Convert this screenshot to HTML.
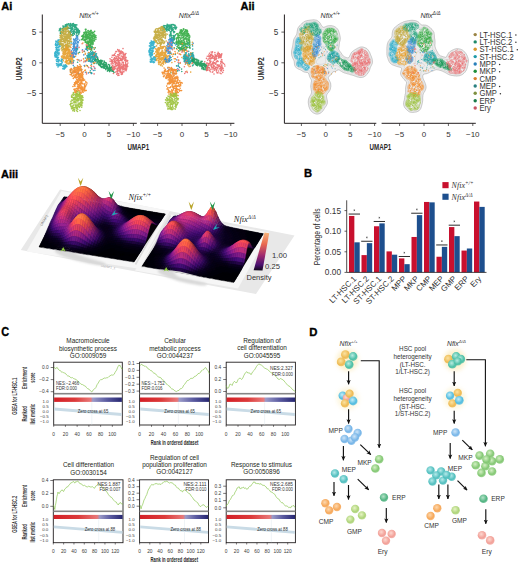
<!DOCTYPE html>
<html><head><meta charset="utf-8"><style>
html,body{margin:0;padding:0;background:#fff;width:520px;height:564px;overflow:hidden}
svg{display:block}
</style></head><body>
<svg width="520" height="564" viewBox="0 0 520 564">
<text x="1.3" y="9.8" font-family="Liberation Sans, sans-serif" font-size="11" text-anchor="start" fill="#000" font-weight="bold" stroke="#000" stroke-width="0.35">Ai</text>
<text x="240.6" y="10.0" font-family="Liberation Sans, sans-serif" font-size="11" text-anchor="start" fill="#000" font-weight="bold" stroke="#000" stroke-width="0.35">Aii</text>
<path d="M42.3 14.5V123.3M42.3 123.3H136.8" stroke="#231f20" stroke-width="1.0" fill="none"/>
<path d="M39.3 32.1H42.3M39.3 62.8H42.3M39.3 93.5H42.3M60.2 123.3V126M84.6 123.3V126M109.0 123.3V126M133.4 123.3V126" stroke="#231f20" stroke-width="0.7" fill="none"/>
<text x="36.3" y="35.0" font-family="Liberation Sans, sans-serif" font-size="8.2" text-anchor="end" fill="#333" >5</text>
<text x="36.3" y="65.7" font-family="Liberation Sans, sans-serif" font-size="8.2" text-anchor="end" fill="#333" >0</text>
<text x="36.3" y="96.4" font-family="Liberation Sans, sans-serif" font-size="8.2" text-anchor="end" fill="#333" >−5</text>
<text x="60.2" y="136.8" font-family="Liberation Sans, sans-serif" font-size="8" text-anchor="middle" fill="#333" >−5</text>
<text x="84.6" y="136.8" font-family="Liberation Sans, sans-serif" font-size="8" text-anchor="middle" fill="#333" >0</text>
<text x="109.0" y="136.8" font-family="Liberation Sans, sans-serif" font-size="8" text-anchor="middle" fill="#333" >5</text>
<text x="133.4" y="136.8" font-family="Liberation Sans, sans-serif" font-size="8" text-anchor="middle" fill="#333" >−10</text>
<path d="M140.2 123.3H234.4" stroke="#231f20" stroke-width="1.0" fill="none"/>
<path d="M157.6 123.3V126M182.0 123.3V126M206.4 123.3V126M230.8 123.3V126" stroke="#231f20" stroke-width="0.7" fill="none"/>
<text x="157.6" y="136.8" font-family="Liberation Sans, sans-serif" font-size="8" text-anchor="middle" fill="#333" >−5</text>
<text x="182.0" y="136.8" font-family="Liberation Sans, sans-serif" font-size="8" text-anchor="middle" fill="#333" >0</text>
<text x="206.4" y="136.8" font-family="Liberation Sans, sans-serif" font-size="8" text-anchor="middle" fill="#333" >5</text>
<text x="230.8" y="136.8" font-family="Liberation Sans, sans-serif" font-size="8" text-anchor="middle" fill="#333" >−10</text>
<path d="M284.4 14.5V123.3M284.4 123.3H376.3" stroke="#231f20" stroke-width="1.0" fill="none"/>
<path d="M281.4 32.1H284.4M281.4 62.8H284.4M281.4 93.5H284.4M301.4 123.3V126M325.8 123.3V126M350.2 123.3V126M374.6 123.3V126" stroke="#231f20" stroke-width="0.7" fill="none"/>
<text x="278.4" y="35.0" font-family="Liberation Sans, sans-serif" font-size="8.2" text-anchor="end" fill="#333" >5</text>
<text x="278.4" y="65.7" font-family="Liberation Sans, sans-serif" font-size="8.2" text-anchor="end" fill="#333" >0</text>
<text x="278.4" y="96.4" font-family="Liberation Sans, sans-serif" font-size="8.2" text-anchor="end" fill="#333" >−5</text>
<text x="301.4" y="136.8" font-family="Liberation Sans, sans-serif" font-size="8" text-anchor="middle" fill="#333" >−5</text>
<text x="325.8" y="136.8" font-family="Liberation Sans, sans-serif" font-size="8" text-anchor="middle" fill="#333" >0</text>
<text x="350.2" y="136.8" font-family="Liberation Sans, sans-serif" font-size="8" text-anchor="middle" fill="#333" >5</text>
<text x="374.6" y="136.8" font-family="Liberation Sans, sans-serif" font-size="8" text-anchor="middle" fill="#333" >−10</text>
<path d="M381.6 123.3H475.8" stroke="#231f20" stroke-width="1.0" fill="none"/>
<path d="M399.6 123.3V126M424.0 123.3V126M448.4 123.3V126M472.8 123.3V126" stroke="#231f20" stroke-width="0.7" fill="none"/>
<text x="399.6" y="136.8" font-family="Liberation Sans, sans-serif" font-size="8" text-anchor="middle" fill="#333" >−5</text>
<text x="424.0" y="136.8" font-family="Liberation Sans, sans-serif" font-size="8" text-anchor="middle" fill="#333" >0</text>
<text x="448.4" y="136.8" font-family="Liberation Sans, sans-serif" font-size="8" text-anchor="middle" fill="#333" >5</text>
<text x="472.8" y="136.8" font-family="Liberation Sans, sans-serif" font-size="8" text-anchor="middle" fill="#333" >−10</text>
<text transform="translate(22.1,68.8) rotate(-90)" font-family="Liberation Sans, sans-serif" font-size="9.6" font-weight="bold" text-anchor="middle" fill="#2a2a2a" textLength="23" lengthAdjust="spacingAndGlyphs">UMAP2</text>
<text transform="translate(264.2,68.8) rotate(-90)" font-family="Liberation Sans, sans-serif" font-size="9.6" font-weight="bold" text-anchor="middle" fill="#2a2a2a" textLength="23" lengthAdjust="spacingAndGlyphs">UMAP2</text>
<text x="138.3" y="149.9" font-family="Liberation Sans, sans-serif" font-size="9.2" text-anchor="middle" fill="#2a2a2a" font-weight="bold" textLength="21.7" lengthAdjust="spacingAndGlyphs" >UMAP1</text>
<text x="380.4" y="149.9" font-family="Liberation Sans, sans-serif" font-size="9.2" text-anchor="middle" fill="#2a2a2a" font-weight="bold" textLength="21.7" lengthAdjust="spacingAndGlyphs" >UMAP1</text>
<text x="79.2" y="18.3" font-family="Liberation Sans, sans-serif" font-size="7.1" font-style="italic" fill="#333">Nfix<tspan font-size="5" dy="-3.6">+/+</tspan></text>
<text x="178.8" y="18.3" font-family="Liberation Sans, sans-serif" font-size="7.1" font-style="italic" fill="#333">Nfix<tspan font-size="5" dy="-3.6">Δ/Δ</tspan></text>
<text x="320.6" y="18.3" font-family="Liberation Sans, sans-serif" font-size="7.1" font-style="italic" fill="#333">Nfix<tspan font-size="5" dy="-3.6">+/+</tspan></text>
<text x="420.4" y="18.3" font-family="Liberation Sans, sans-serif" font-size="7.1" font-style="italic" fill="#333">Nfix<tspan font-size="5" dy="-3.6">Δ/Δ</tspan></text>
<path d="M59.1 39.9h0m-.3 .3h0m-.4 0h0m-.6 .1h0m-2.1 3.2h0m.1-2.2h0m.2-.2h0m.1 1.5h0m.4-1h0m1.3 .3h0m0 .6h0m.2-.1h0m.4 .8h0m.2-.8h0m1.4 1.1h0m.1-.2h0m.1 .7h0m-.1 2.2h0m-.1-.4h0m0-2h0m-.7 2.5h0m-.1-1.7h0m-.8-.3h0m-.6 1.2h0m-.1-1.7h0m-.1 1.1h0m-.6 1h0m-.1-1h0m-.2-.3h0m-.3 1.3h0m-.1-.1h0m-.4-1h0m-.1-.9h0m-.1 .6h0m-.1 .9h0m-.2-.8h0m.4 3.1h0m.3-.2h0m.6 1.8h0m.1-.8h0m.1 0h0m.1 .5h0m.3-1.4h0m1.3-.4h0m.1-.1h0m.1-.2h0m.1 1.2h0m.3 1.8h0m-.2 .9h0m-.4-.4h0m-.4-.7h0m-.1 .5h0m-.2 .9h0m-.1-.3h0m-.2-.5h0m-.2-.6h0m0 .3h0m-.1 1.3h0m-.3 1h0m-.1-1.7h0m-.2 1.7h0m-.6-2.5h0m-.2 2.2h0m-.2-.5h0m0 .6h0m-.1 0h0m-.6 .3h0m-.2 1h0m0 .8h0m0 1.3h0m.3-1h0m.5-.6h0m.7-1.3h0m0 2.3h0m.2-.1h0m0-.3h0m.7-.4h0m.1-.3h0m.5 0h0m.3-.9h0m.4 1.1h0m.3 .4h0m.1-1.4h0m0 1.8h0m.4-1.7h0m-.9 4.5h0m-.7-1.7h0m-.3 1.9h0m-.4-1.5h0m-.3-.3h0m-.2 .1h0m-.1 1.1h0m0-.9h0m-.3-.6h0m-.2 .7h0m0-.6h0m-.5 .7h0m-.2 .2h0m-.1 .3h0m-.1-.3h0m-.2-1.1h0m1.4 4.4h0m.5 1.5h0m.3-.1h0m.1-2.1h0m.3-.7h0m.2 2.5h0m.1-2.6h0m0 2.5h0m.5 .1h0m.1-1.3h0m.6 1.5h0m.2-1.5h0m.1 .5h0m.2-.1h0m1.6 1.2h0m.1-.9h0m0 .9h0m.2-.3h0m0-2h0m1 .8h0m.2-.3h0m-.1 2.5h0m-.7 1.3h0m-.3 .2h0m-.7 .4h0m-.2 0h0m0-.3h0m-.1 .3h0m-.8 .1h0m-.3 .2h0m-.7-.1h0m0-2.2h0m-.4 2.2h0m-.1 .2h0m-.1-.5h0m-.1-2.3h0m-1.4 2.3h0m-.1-.2h0m.6 1.8h0m.7-.5h0m.3 1.9h0m.6-1.8h0m.1 .7h0m.4-.6h0m.9 .6h0m.5-1.1h0m.5 .2h0m.6-.1h0m.2 .7h0m1.1 1.1h0m.8-.3h0m.1-1.3h0m.3 .2h0m0 2h0m0-1.6h0m0-.4h0m.5 .6h0m0 .2h0m.3 1h0m0-.2h0m.5-1.8h0m0-.1h0m.5 1.3h0m.3 .1h0m0 .4h0m.3-1.1h0m.4 1h0m-1.6 1.4h0m-.3-.3h0m-.7 1.1h0m-.1-.9h0m-.1 1.3h0m-.4-.7h0m-1 .2h0" stroke="#2aaecb" stroke-width="1.6" stroke-linecap="round" opacity="0.92" fill="none"/>
<path d="M65.3 25.4h0m.1-.5h0m.7-.1h0m.4 .5h0m.5-1.3h0m.8 .7h0m0 .3h0m.7-.9h0m.2-.3h0m.3 0h0m.3 1.7h0m.7-.6h0m.6 .3h0m.1-1.7h0m.3 2h0m.1-1.2h0m.2 1.1h0m.9-.2h0m.2 0h0m.1-.1h0m.2-1h0m0-.2h0m.8-.3h0m0 1.5h0m.9-.2h0m.5-.1h0m.6-.1h0m.3 .5h0m1-.3h0m.1 3.5h0m-.4-1h0m-.7 .1h0m-.1-1h0m0 1.3h0m-.2-.7h0m-.7 .9h0m0-2.1h0m-.3 1.1h0m0 .2h0m-.1-1.5h0m-.2 .2h0m-1.4 .7h0m0 .2h0m-.2-1h0m-.1 0h0m0-.2h0m-.2 2.5h0m-.2-.5h0m-.1 .2h0m-.1-.7h0m-.3 1.3h0m-.6-.3h0m-.3-.1h0m0-.1h0m-.3-1.4h0m0 1.5h0m-.7-2.1h0m-.1 2.4h0m-1.1-1h0m-.7 .4h0m-.5-.9h0m-.6-.7h0m0 .3h0m-.3 1.8h0m-.6-1.6h0m-.8 .3h0m-.9 .1h0m-.4-.6h0m-.1 .9h0m-.1-.5h0m-.2 .3h0m-.1 1.2h0m-.3-2.3h0m-2.4 2.4h0m-1.3 2.3h0m.3-1.7h0m.2 .6h0m.8 .1h0m.3 1.6h0m0-1.5h0m1.4-1.3h0m.6 2.3h0m.1-1.6h0m.1 1.7h0m0-.6h0m.5-1.6h0m0 2.3h0m1.4-2.2h0m.6-.3h0m.6 .4h0m.2 0h0m0 .1h0m.3-.5h0m.2 .5h0m.9-.5h0m0 .1h0m.9 0h0m1.3 2.7h0m0-.1h0m.5-.1h0m.3 0h0m.1-.4h0m.1-1.8h0m0 1.6h0m.3-1.1h0m.2-.9h0m.2 1.6h0m.1-1h0m.4 .9h0m.7-.2h0m.1-1.3h0m1 2.8h0m0-.9h0m.2 1h0m.1-1.4h0m.3 1.2h0m.3-1.7h0m.4-.1h0m1 .4h0m.3-.4h0m.2-.6h0m0 1.8h0m.1-1.6h0m.3 1.6h0m.3 .8h0m.2-2.4h0m.2 .5h0m.1-.1h0m.1-.4h0m0 1.8h0m.3 .3h0m0-.2h0m.1-1.2h0m.3 .9h0m.7 .1h0m.2 1h0m-.2 .7h0m-.3 .8h0m-.2-1.6h0m-.1 0h0m-.1 2.7h0m-.3-2.1h0m-.4 .5h0m0 0h0m-.2-.7h0m-.4 .1h0m-.7 1.7h0m-.2-1h0m-.2-.8h0m-.4 .4h0m-1.2-.8h0m-.1 2.6h0m0-2.4h0m-.3 1.8h0m-.1-1.4h0m-.3-.5h0m-.1 1.4h0m-.2-.4h0m-.2-1.1h0m-.1 .7h0m-.5 1.2h0m-.7-1.7h0m-.9 .4h0m-.6 .5h0m-.1 1.7h0m-.1-.2h0m0-1.7h0m-.5 .1h0m-1-.4h0m-6.3 .8h0m-.1-.3h0m-1.4 .1h0m-.7-.1h0m0 .7h0m10.7 1.5h0m.4 .1h0m.4-.4h0m.6 .9h0m.3-.8h0m.4 .5h0m3.6 .2h0m.8 .5h0m.1-.3h0m8.8 13.8h0m.7-2.5h0m7.1 2.3h0m1-1.4h0m-10.9 3.6h0m-4.8 .8h0m-3.2-1.6h0m2.1 2.4h0m15.3 2.5h0m-1.4 .7h0m-18.1 .6h0m-3-.8h0m15.3 4.2h0m8.1 3.3h0m-1.2-1.6h0m-15.9 .4h0m9.7 3.5h0m3.7 2.1h0m-17 3.4h0m16.4 1.2h0" stroke="#1fa37a" stroke-width="1.6" stroke-linecap="round" opacity="0.92" fill="none"/>
<path d="M68.7 28.0h0m-1.3-1.7h0m-.1 1.2h0m-.2 .4h0m-1.3-.1h0m-.7 .5h0m-3.2 1h0m.2 1.5h0m.3-1.3h0m1.1-1h0m.4 2.6h0m.1-.1h0m.1-2.5h0m.2 1.1h0m.2-1.1h0m1 2.9h0m0-1.2h0m.2-.9h0m.1 1.3h0m.6-1.8h0m.6 .3h0m0 .6h0m0-.7h0m.1 .4h0m.3 2h0m1-.6h0m.3 .5h0m1.5 1.4h0m-.3-.7h0m-.1 2h0m-.2 .1h0m-.7-.2h0m-.1-.9h0m-.3-1.3h0m-.4 2.1h0m-.4 .6h0m-1.1-2.4h0m-.2 2.4h0m-.7-.4h0m-.1-1.3h0m0 .6h0m-.1 .5h0m-.2 .3h0m-1 .1h0m0-.1h0m0-1.1h0m-.2-1.2h0m-.2 2h0m-.4 .6h0m-.2-2.5h0m-.1 1.1h0m-.3-.7h0m-1.1-.1h0m0 .8h0m-.2-.3h0m-.2 1.7h0m-.5-2.6h0m-.9 3.5h0m.4 1h0m.4-.6h0m.5 1.3h0m.1-1.9h0m.3 .2h0m.1-.1h0m.2 2.3h0m0-1.2h0m.1-.9h0m.5 1.9h0m0-.5h0m0-1.5h0m.1 1.8h0m.5-2.1h0m.9 1.4h0m0-.1h0m.2 .4h0m.1-.6h0m.2 .6h0m.2-1h0m.5-.9h0m.3 1.9h0m.6-.5h0m0 1h0m.3-.1h0m.2-2.3h0m.3 1.1h0m.3 .9h0m.3 .4h0m.1-1.8h0m0-.1h0m.8 1.4h0m0 .6h0m.1-2.4h0m.1 1.2h0m.1-1.6h0m.3 1.3h0m.4-.3h0m.2 1.5h0m1-.3h0m0-.6h0m.7-1.2h0m.4 .1h0m-.7 3.3h0m-.3 1.5h0m0-.4h0m-1.1-.3h0m-.2-.7h0m-1-.7h0m-.3 .4h0m-.3 .6h0m-.5-.9h0m-.3 1.6h0m-.3-1.3h0m-.8 1.6h0m-.1-1.4h0m-.1 .8h0m-.5 .4h0m0-.7h0m-.1-.2h0m-.2 1.7h0m-.1-.5h0m-.1-2.1h0m-.1 .9h0m-.5 1.1h0m-.5 .3h0m-.3-1.4h0m-.8 .1h0m-.1 .8h0m-.2-.3h0m-.4 .2h0m-.4-1.8h0m-.3 2.5h0m-.1-1.5h0m-.1-.4h0m-.2-.3h0m-.4 2.4h0m0-.1h0m-.1-.3h0m-.2-2.1h0m-1.2 4h0m.9 .1h0m.2-.8h0m.3 .3h0m.4-.4h0m.2 1.3h0m.3-.3h0m.1-.9h0m.1 2.4h0m1.1-2h0m.4-.2h0m.4 0h0m0-.3h0m.3 .3h0m0 .1h0m.5 .7h0m.6-1.5h0m.2 2.1h0m0-1.9h0m.1 .9h0m.8 .2h0m.1 .2h0m.5-1.5h0m1 2.8h0m.1-2.9h0m.1 1.6h0m.1 .7h0m.1-1.8h0m0 .8h0m.4-.6h0m.2-.7h0m.7 .1h0m.1 1.1h0m.5-.4h0m.1 1.8h0m0-1.6h0m.4-.3h0m1 .3h0m.3 .1h0m-1.4 3.5h0m-.9-1.5h0m-.3 2.5h0m-.1-.3h0m-.7-1.9h0m-.1 1h0m-.4 1.4h0m-.5-1.7h0m-.1 1h0m-.6-1h0m-.7-.3h0m-.1 .7h0m-.3 .6h0m0-.5h0m-1 .6h0m-.7-1.7h0m-.5 .7h0m-.1 .8h0m-.1 .8h0m-.2-2.5h0m-.1 .4h0m-.1 .4h0m-.2 .4h0m-.1 1.2h0m-.3-1.6h0m-.1 1h0m-.1-1.9h0m-.3 2h0m-.8-1.5h0m-.3-.2h0m-.7 .3h0m1.6 4.7h0m.3-1.1h0m.8-.2h0m.5 .1h0m0-.8h0m.3 2.4h0m.5-2.6h0m.4 1.4h0m1.1 1.3h0m.1-1.3h0m.1 .7h0m.5 .5h0m.1-2.8h0m0 1.2h0m.2 .5h0m.1-1.1h0m.7 2h0m.3-1.4h0m.1-1h0m.2 .8h0m.2-.6h0m.1 1.6h0m.1-1.2h0m1.3-.4h0m.9-.5h0m-1.8 3.1h0m-.4 .1h0m-1.7 .6h0m-.9 1.6h0m-1.1-2.1h0m-1.6-.2h0m-.6 1h0" stroke="#c2a838" stroke-width="1.6" stroke-linecap="round" opacity="0.92" fill="none"/>
<path d="M88.6 43.2h0m.1 0h0m-22.5 2.2h0m-1.9 3.9h0m.6 0h0m.7-2.6h0m.4 1.3h0m.2-.8h0m.2 2h0m.4-.8h0m1.1-1.2h0m.2 1.6h0m.5 .2h0m1.1 .2h0m4-2.2h0m2.1 1.1h0m15.2 .1h0m.5 .2h0m.2 1h0m2.3 3h0m-11.5-.1h0m-10.1-.1h0m-1.1-.5h0m-1.4-.9h0m-.1 1.6h0m0-2.6h0m-.6 1h0m-.3 .8h0m-.2-1.8h0m-.2 2.5h0m-.3-2.4h0m0 1.6h0m-.4 .5h0m-.5-2h0m-.1 .2h0m-.2-.5h0m-.6 1.1h0m-.4 .8h0m-.1 .5h0m-.1-1.3h0m0-.6h0m-.2-.3h0m-.4 1h0m-.1-.5h0m-.2-.5h0m-.2 .8h0m-.2-.1h0m-.1 .4h0m-.1-1.3h0m-.1 .8h0m-1 .8h0m-.1 .5h0m-.1 1.6h0m0-.4h0m.2 1.9h0m.2-1h0m0 .6h0m.1-.2h0m.1-1h0m.4-.1h0m.4-.7h0m0 .4h0m.1 .8h0m.3 1.3h0m0 .1h0m.8-1.8h0m.2 .5h0m0 .3h0m.1-.8h0m.1 .4h0m.4-.4h0m.3 1.9h0m.7-2.1h0m0 1.7h0m.1-1.5h0m.1-.2h0m.1 .6h0m.1 1.7h0m.5-1.9h0m.9 1.1h0m.2-1.6h0m.5 1.4h0m.4-1.3h0m.1 1.6h0m.7-.9h0m.2 .7h0m.4-1.2h0m.4 .7h0m.2 .1h0m.1-1.1h0m.1 1.9h0m5.8-1.1h0m7.1-.6h0m3.6 2.6h0m-1.9 2.3h0m-11.6-1.7h0m-2.2 .3h0m-.6 .5h0m0 .5h0m-.9-1.2h0m0 .8h0m-.5 .8h0m-.6-.8h0m-.2-.5h0m-.1 1.6h0m-.2-1h0m0 .4h0m0-1.2h0m0 1.6h0m-.5 .1h0m0-1.5h0m-.4-1.1h0m-.9 2.5h0m-.2-.9h0m0-.7h0m-.2 1.1h0m-.6-1.9h0m0 2.4h0m-.2-2h0m0 .8h0m-.7-1h0m0 2.4h0m0-.6h0m-.4 .2h0m0-1.2h0m-.5 .6h0m-.8 0h0m-.3-1h0m-.7 .8h0m-.5 0h0m-.1-.8h0m-.4 1.6h0m-.7-1.9h0m-.3 1.2h0m-.3-1h0m1.6 2.5h0m.3 1.9h0m.4-2h0m1.2-.1h0m1 2.8h0m.1-2.3h0m.1 1.4h0m.1-2h0m.3 2.2h0m.1 .6h0m.1-1h0m0 0h0m.8 .2h0m.4 .5h0m.1-2.5h0m.5 1.7h0m.1-.3h0m.4-.9h0m0 .5h0m.4 .4h0m.2 .1h0m.1 1.4h0m.3-1.7h0m.1 .8h0m.4-.2h0m.1 1h0m.1-1.7h0m.1-.7h0m.2 1.6h0m.1 .2h0m.4-2.1h0m.4 .6h0m.1-.3h0m.7 .2h0m.1 1.3h0m.3 .8h0m11-.1h0m2.4-1.4h0m6.5 3.1h0m-20.3-1h0m-1.1 2h0m-1.5-1.5h0m-.1 1.2h0m-.5-1.3h0m-.6 .7h0m-.2 1.2h0m-1.2-1.1h0m-.6 1h0m-.1-2.4h0m-.1 .1h0m-.1 1.1h0m-.7 0h0m-.3-.6h0m-.6-.2h0m19.6 4.5h0m6.2-1h0m-5.5 4.6h0m-4.9 3.6h0" stroke="#e6a02e" stroke-width="1.6" stroke-linecap="round" opacity="0.92" fill="none"/>
<path d="M76.2 35.7h0m.5 1h0m.6 .7h0m0-.3h0m.3 0h0m2 3.1h0m-1.7-1h0m-.2-1h0m-.9 1.8h0m-.2-1.9h0m-.7 .5h0m-.1-.3h0m-.1 .5h0m-.3 1.5h0m-.2-1h0m-.1 .1h0m0 .8h0m-.6 .2h0m-.8-.8h0m-.1-.5h0m-.1 3.4h0m.1 .2h0m.4-1.6h0m.5 2.4h0m.8-1.3h0m0-.4h0m.2 1h0m.5 .5h0m.2-.1h0m.6-2.3h0m.5 2.1h0m.2-.2h0m.2-.8h0m.7-.2h0m0 1h0m12.1 2.6h0m-12.7 .7h0m0-1.1h0m-.6-.3h0m-.2 .3h0m-.1 1.4h0m-2-1.6h0m-.4-1h0m0-.2h0m-.2 .4h0m-.1 2.1h0m-.5-1.7h0m-.1 .9h0m-.4-1.3h0m-.3-.1h0m-.4 5.4h0m.1-.4h0m.7-2.4h0m.3 1.4h0m.5 .7h0m.7 .6h0m.1-1.8h0m.1 1.7h0m0-.8h0m.2-1h0m.1 0h0m0 2.2h0m.2-1.2h0m.2-.5h0m.5 1h0m.4-1.4h0m.1 1.4h0m1.1-.7h0m7.7 1h0m1-1.6h0m.1 1.4h0m-4.1 .8h0m-5.9 2.3h0m-.2-1h0m-.2-1.2h0m-.6 1.6h0m-.3-.4h0m-1.3-.5h0m-.1-.4h0m-.3 .6h0m-.1 1.5h0m-1.9-1.5h0m.3 2.3h0m0 .5h0m.5-.2h0m.3-.1h0m.3 .5h0m.2 .8h0m.2 .7h0m.7-2.7h0m.3 .9h0m.6 0h0m.2 .9h0m.3-.9h0m.6 1.2h0m.4-1.4h0m7.3 1.7h0m9.1 .2h0m.8-1.7h0m.5 2.7h0m-20.1 .5h0m0 .7h0m-1-.4h0m-2.6-.9h0m19.4 2.5h0m1.2 4h0m-5.4-.9h0m-12.4 1h0m0 2.8h0m11 .2h0m10.3 2.5h0m-16.6 5h0m7.5-.8h0m2.9 .6h0m2.8 .5h0m2.2-2.9h0m-14.5 3.4h0" stroke="#3c8fd4" stroke-width="1.6" stroke-linecap="round" opacity="0.92" fill="none"/>
<path d="M85.4 29.4h0m.4 1.7h0m.2-1.7h0m1.9 1.3h0m.2-.1h0m.7 .6h0m.3 .2h0m1-.1h0m.7-.7h0m.2 0h0m.2-.1h0m3.5 .8h0m-.5 3h0m-.2-.2h0m-.2-1.9h0m-.8 1.9h0m-.5-1.8h0m0 1.3h0m0-.8h0m-.3-.5h0m-.5 .7h0m-.6-1.3h0m-.6 1.2h0m-.6 1.2h0m0 .2h0m-.1-.4h0m-.2-1h0m0 1.2h0m-.3-1.2h0m-.2 .8h0m-.2-1.4h0m-.1 1.4h0m0-.7h0m0 1.2h0m-.5-.1h0m-.1 .1h0m-.8-1.9h0m-.3 1.7h0m-.1-1.9h0m-.2 .6h0m-.1 1.3h0m-.4-2h0m-.1 1h0m-.3-1h0m-.5 .5h0m0 1.7h0m-.1-1.9h0m-.6-.1h0m-.2 .9h0m-.6-.5h0m-.1 1.4h0m-2.1 2.2h0m.6-.4h0m.4 1.3h0m.3-.8h0m0 .7h0m.1-1.7h0m.1 2.2h0m0-.5h0m.1-.2h0m.1-2h0m.1 1.2h0m.1-1.2h0m0 2.4h0m.9-.2h0m.3-.2h0m.3-1.5h0m.3-.3h0m.4 1.6h0m.3-.7h0m0-1.3h0m.1 1.1h0m.5 1h0m.2-1.4h0m.2-.2h0m.2 2.4h0m0-2.1h0m.2 .2h0m.4 .7h0m0-1.6h0m.2 2.1h0m.3 .1h0m.8-1h0m0 .1h0m.1-1.3h0m.2 .8h0m.1-.9h0m.3 2.8h0m0-1.1h0m.2-1.6h0m.1 .7h0m.1-.1h0m.7-.7h0m.3 .9h0m.1 1.7h0m0-.1h0m.1-.7h0m.3 .8h0m.2-.5h0m0-.9h0m.2 .4h0m.2-.8h0m.7 1.2h0m.5-1.3h0m.1 1.2h0m.4-2h0m.5 2.7h0m.1-2.4h0m.1 2h0m.2-1h0m.2 1.5h0m.8-1.6h0m0 1.9h0m-.1 1.7h0m-1.3-.3h0m-.5-.6h0m-.1 .1h0m-1 1h0m0 .8h0m-.3-2.4h0m-.2 .7h0m-.8 .4h0m0 .1h0m-.3 .6h0m-.7-.3h0m-.2-.9h0m-.4-.7h0m0 2.5h0m-.2-1.2h0m-.3 .2h0m-.2-1.5h0m0 2.4h0m-.4-1.7h0m0-.4h0m-.1 .1h0m-.6 .5h0m-.3-.3h0m-.6-.5h0m-.1 .3h0m-.5 1.3h0m-.3-1.4h0m-.6 1.5h0m0-1.8h0m-.3 1.4h0m-.2-1.6h0m-.8 1.7h0m-.5 1h0m-.2 0h0m-.1-1.3h0m-.3-.3h0m-.4-.3h0m-.5 .2h0m-.3 1h0m-.8 0h0m3.4 1.1h0m.3 1.5h0m0-1.1h0m.4 .2h0m.3-.1h0m.1 .5h0m.4 .8h0m.1 .6h0m.9-1.1h0m.1 1.4h0m.3-2.3h0m.8 2.1h0m0-1.2h0m.2-.7h0m.1 1.5h0m0-.2h0m.1-.6h0m.3-.6h0m.3-.8h0m.3 .7h0m.4 1.3h0m.1-.4h0m.1 .9h0m.1-.7h0m0-1.5h0m.2 .5h0m.7 2h0m0-2h0m.3 .6h0m.2-1.4h0m.1 2.4h0m.1-1.6h0m.2 1.4h0m.2-1.9h0m0 1.4h0m.5 .1h0m.1-1.5h0m1.1-.2h0m.2-.1h0m0 .4h0m-1.2 3h0m-.7-.3h0m-.3 2.6h0m-.3-1.9h0m-1.4 1.2h0m-.1-1.5h0m0 1.6h0m-.1-1.2h0m-.2 .9h0m-.3-.4h0m-.8 .2h0m-.3-.9h0m-.5 .7h0m-.1 1.2h0m-.1-1.6h0m-.2 1.8h0m-.6-.5h0m-.9 .2h0m.4 .9h0m.3-.4h0m.1 2h0m.3-.4h0m.2-.8h0m1.5-.5h0m0 2h0m0-1.8h0m.5-.6h0m.2 1h0m0 .3h0m.2 .6h0m.1-1.1h0m.5 1.3h0m.1-2h0m.3 1.6h0m.1 1.3h0m0-2.6h0m.3 1.6h0m.3-1h0m1.3 .2h0m-1.3 2.6h0m-1.3-.5h0" stroke="#36ad45" stroke-width="1.6" stroke-linecap="round" opacity="0.92" fill="none"/>
<path d="M71.2 43.0h0m16.7 2.7h0m-11.2 3h0m.4 .1h0m11.5 0h0m3-1h0m1.1 4h0m-2-.2h0m-3.2-1.2h0m-10-.7h0m10.6 3.6h0m.1 1.8h0m.2-.6h0m.6 .3h0m.2-2h0m.1 2.6h0m.7-1.5h0m.1 1.6h0m.7-.6h0m.1-1.1h0m0 .2h0m.1-1h0m.4 1.8h0m.3-.6h0m0-1.4h0m.4 .7h0m.1-.2h0m.2-.3h0m.4-.1h0m.1 1.5h0m.4-.5h0m.1-.8h0m.5 2.4h0m0-1h0m0 .4h0m.2-1.8h0m.4 2h0m.4-2.4h0m.1 .8h0m.1 .8h0m.6 1.2h0m.1-.6h0m.2-.2h0m.5-.9h0m1.2 3.8h0m-.1-.3h0m-.4-.6h0m-.1 .1h0m0-.3h0m-.3 .9h0m-.3-1.5h0m-.1 .9h0m-.2-.7h0m-.1-.2h0m-.4 1.3h0m0-1.2h0m-.1 1.6h0m-.8-.4h0m0 1h0m0-.9h0m-.1 .9h0m-.2-2.1h0m-.7 .5h0m0 .6h0m-.1 .9h0m-.1-.5h0m-.2-1.6h0m-.1 .2h0m-.7 1h0m0-1.2h0m-1 1.8h0m-.1-1h0m-.4 .1h0m-.3 1.2h0m-.1 .1h0m-.2-.2h0m-.1-1.3h0m-.3 1.2h0m-.2-.6h0m-.2 .9h0m-.2-2.2h0m-.2 .3h0m-.6-.3h0m-.1 1.9h0m-.1 .3h0m-.1-1.7h0m-.1 .9h0m0-.4h0m-.1-.5h0m-.3 1.7h0m-.1-1.3h0m-.1-.9h0m-.4 2h0m-.2-2.4h0m-.2 .3h0m-1.5 2.2h0m-14.9 3.1h0m3.4-.5h0m5-.7h0m8.6-1.5h0m.1 .1h0m.8 2.6h0m.4-1.7h0m0 1h0m0 .4h0m.5-.9h0m.5 .3h0m.3 1.1h0m0-2.4h0m0 .1h0m.3 .4h0m.2-1h0m.1 0h0m.1 2.4h0m.3 .3h0m.5 .3h0m.5-2.2h0m0 2h0m.1-.7h0m.2 .1h0m.2-.8h0m.3-1h0m.4 .3h0m.6-.6h0m.6 .7h0m.1-.5h0m.5 1.6h0m.1 .7h0m.1-.5h0m.3-1.4h0m.2 .9h0m.1 .9h0m.1 .2h0m-2.7 .5h0m-.3 .2h0m-1.5 2.3h0m-20.4-1.5h0m3.1 4.4h0m20.7 3.1h0m-3.3-1.3h0m-10.3 1.1h0m-10.8 .3h0m1.2 2.8h0m18.7-2.4h0m1.2 2.1h0m.2 .7h0" stroke="#1ea3a3" stroke-width="1.6" stroke-linecap="round" opacity="0.92" fill="none"/>
<path d="M94.5 60.5h0m1-1.3h0m.8 .9h0m1.1-.7h0m.2-.8h0m.3 1h0m.1 .9h0m.1 0h0m.1-1.1h0m.1 1.8h0m.2-.4h0m.2 .4h0m.1-.7h0m.6 .4h0m.8 0h0m.5-.7h0m.1 1.2h0m.2-1h0m.3 .8h0m0-.6h0m.7-.1h0m.3 .7h0m.1-.2h0m1.7 .1h0m2.4 2.6h0m-.3 .4h0m-.1-1.3h0m-.2 1.5h0m-.8-1.7h0m-.7-.6h0m-.1 2.4h0m-.2-1.9h0m-.5 .8h0m-.3 .6h0m-.5 .5h0m-1-1.2h0m-.1 .5h0m-.1-1.4h0m-.2-.7h0m-.2 1.8h0m-.1-1.7h0m-.2 .7h0m-.6-.8h0m-.1 1.9h0m-.2 .3h0m-.1-1.7h0m-.7 2.3h0m-.3-2h0m-.1 1.2h0m-1.5-1h0m-.1-.7h0m-.2 1.7h0m-.2-1.6h0m1.9 2.6h0m.6 .6h0m.9 .2h0m.1 .9h0m.2-1h0m0-.6h0m.1 .5h0m0 1.2h0m.4 0h0m.2-.1h0m.3 1.1h0m.1-.7h0m.7-2.2h0m0 2.2h0m.6 .2h0m.2-1.7h0m.1 1.7h0m.3 .6h0m.3-.9h0m0-.9h0m.1 1.4h0m.1-1.4h0m.1 .1h0m.1 1.2h0m.1-1.3h0m.6-.3h0m.1-.8h0m.3 .3h0m.2-.3h0m0 1.8h0m.3-1.7h0m.3 1.6h0m0-1.5h0m0 0h0m.2 2h0m.2 .7h0m.3-1.3h0m.2-1.1h0m.4 1.2h0m.1 1.1h0m1.2-2.8h0m.5 2.5h0m.2 0h0m.2-1.7h0m.1 1.7h0m1.4 .1h0m.5-.1h0m1.5 2.8h0m0-.4h0m-.2 .8h0m-.3-.1h0m-.1-.5h0m-.1-1.4h0m-.4 .8h0m-1.1 .6h0m-.2 .7h0m-.1-1.9h0m0 1.4h0m-.2-2.2h0m-.4 .4h0m-.2 1.4h0m0-1.6h0m-.2 2h0m0-2h0m0 .7h0m-.1-.9h0m-.4 .6h0m-.1 .5h0m-.2 1.4h0m-.1-.8h0m-.1 1h0m-.2-.3h0m-.2-.2h0m-.2-.5h0m-.1 .9h0m0-1.3h0m-.1-1.3h0m-.1 .5h0m-.5 0h0m-.2 .3h0m-.6 .3h0m-.5 .5h0m-.1 .3h0m-.8-1.3h0m-.4 0h0m-.1-.7h0m-1.2 .4h0m4.1 3.1h0m2.3 .5h0m.1-.6h0m1.9 0h0m.7 .2h0m.1 0h0m.5 .1h0m.5 .2h0m0-.1h0m.5 1.1h0" stroke="#1b9a5a" stroke-width="1.6" stroke-linecap="round" opacity="0.92" fill="none"/>
<path d="M87.4 45.4h0m-1.1-.6h0m-4.2-1.1h0m-6.4 3.9h0m3.4-.2h0m11.3 1.4h0m27.3 .7h0m5.3-.9h0m-.2 3.8h0m-.3-.7h0m-1.3-.7h0m-.3 1.4h0m-.1-.6h0m-.3 .2h0m-.2 .1h0m0-.7h0m-.5-.2h0m-.6-1.1h0m-.3 1.6h0m0-.8h0m-.7-.4h0m-1.5 1.1h0m-.8 0h0m-20.4 .1h0m-11.6-.5h0m-1.6-.5h0m-11.2 1.2h0m1.8 3.2h0m20.5 .4h0m18.9-.3h0m1.8-.4h0m.2 .1h0m.1-.3h0m0 .6h0m.8-2h0m2.5 1.6h0m1.4 .3h0m0-.9h0m.6-.8h0m1.1 .5h0m.4-.9h0m1-.1h0m.3-.3h0m.6 1.6h0m0-1.4h0m.5 .3h0m.2 2.1h0m.7-.9h0m.8 .1h0m.6-.9h0m.2 4h0m-.3-.2h0m-.1 .1h0m-.4 .3h0m-.3-1.9h0m-1 1.1h0m-.2-.9h0m-.1 .7h0m-.1 1.3h0m-.1-1h0m-.8 1h0m-.1-1.5h0m-.2 .9h0m-.3-1.1h0m-.1-.1h0m-1-.2h0m-1 2.1h0m-.6 0h0m-.2-2.3h0m-.6 2.4h0m-.2-1h0m0 .3h0m-.4-1.3h0m-1.3 .8h0m-.3 1.3h0m-.4-2h0m-.3-.3h0m-.7 1.9h0m-.5-.3h0m-1.3-2h0m-1.3 1.7h0m-16 0h0m-24.2-1.5h0m6.3 4.1h0m3.3 .5h0m4.5 .5h0m24.2-2.2h0m.1 2.6h0m1.1-1.6h0m.2 .5h0m.2 1.2h0m.7-1.2h0m.2 1.1h0m.9-1.9h0m.7 2.1h0m.1-2.6h0m.1 1.4h0m.1 0h0m.1-1.6h0m.3 2h0m.1-2.2h0m.2 2.8h0m.4-2.2h0m.3 2h0m.7-.6h0m.7-1.6h0m.1 1.4h0m.5-.2h0m.3-.3h0m.2 .1h0m.3 1.3h0m.1-1h0m1.2 .6h0m.4-1.9h0m.4 1.2h0m0-1.6h0m.3 1.8h0m.4-.8h0m.2-.5h0m.2 .7h0m.3 .5h0m.4-.6h0m.6-.4h0m1.5 1h0m.1-1.5h0m.5-.1h0m.3 1.4h0m.3-.6h0m.1 1h0m.1-1.1h0m.7 1.8h0m.4-.4h0m.2 .6h0m.2-.7h0m.2 .2h0m.2 2.3h0m-.6 1.2h0m-1.2-.2h0m-.5-1.3h0m-.2 1.5h0m0-2.6h0m0 2.7h0m-2.1-2h0m-.1 1.7h0m0-.4h0m-.4-1.3h0m-.8-.4h0m-.5 2.2h0m-.2-.1h0m-1.3-.1h0m-.1-.1h0m-.2-1.4h0m-.4 .3h0m-.3 1.2h0m-.5-1.4h0m-.4 .2h0m-.2-1h0m-.2 2.5h0m-.7-.5h0m0-.4h0m-.8 .2h0m0-1.2h0m-.8-.1h0m-.2-.3h0m-.1 1.1h0m-.5-1.5h0m-.3 .7h0m-1 1.4h0m-.7-.6h0m-.2-1.2h0m-.9 0h0m-.3 2h0m-27.3-1.9h0m-11 1.2h0m18.7 3.1h0m2.2 .3h0m18.3-.3h0m.4-1.1h0m.3 .6h0m.3 1.7h0m.7-.3h0m.4-.9h0m.6 .5h0m0 .5h0m.5-2.8h0m.7 1.1h0m0 .8h0m.1 .4h0m1.3-1.2h0m.5-1.1h0m.6 2.2h0m.2-1.4h0m.3 1.9h0m.6-1.2h0m.1-.8h0m0 1h0m.1-.1h0m0-1.5h0m1.1 1.3h0m.4 1h0m.9-.6h0m.2 .3h0m.1-.1h0m.1 1h0m.2-1.3h0m.1-.3h0m.4-1.4h0m.4 1.9h0m.1-1.6h0m.4 .6h0m1.2 1h0m.2-.3h0m0-.9h0m.2-.4h0m.3 .4h0m.1 .1h0m.5 1.3h0m.1 .7h0m.1-2.1h0m.2 .8h0m.2-.1h0m.5 .3h0m-.9 1.8h0m-.4 1.6h0m-.4-1.2h0m-.5-.5h0m0 1.3h0m-.1-1.1h0m-.5 0h0m0 2h0m-.1-1.5h0m-.1-.7h0m-.8 0h0m-.3 1.5h0m-.8-.7h0m0 .8h0m-.1 .4h0m-.4-2.3h0m-.1 .9h0m-.3-.7h0m-1.1 1h0m-.1 1.1h0m-.3-.6h0m0-1.5h0m-.1 .1h0m-.1 1.9h0m-.6-1.4h0m-.7 .6h0m-.8-.8h0m0 0h0m-.1-.3h0m-.4 .1h0m-.1 1.9h0m-.3-.8h0m-.6-.1h0m-1.5-.5h0m-.6 .7h0m-.2-.6h0m-.6 .1h0m0 .2h0m-.3 1.4h0m-.8-1h0m0-.9h0m-.4-.2h0m-17.3 .3h0m-2.9 .8h0m-3.3-1.7h0m-13.5 4.8h0m7.3 .1h0m30.8 1h0m2.4-1.4h0m1.3 1.4h0m0-2.1h0m0-.5h0m.5 2h0m.3-1.8h0m1-.4h0m.4-.1h0m.4 .7h0m.4 1.4h0m.5-1.1h0m.7 .6h0m.1 .1h0m.6 .6h0m0-.8h0m.4 1.1h0m.7-1.3h0m.9-.2h0m2.1-1h0m-3.7 3.4h0m-.9-.4h0m-.2 .8h0m-2.3 .7h0m-.4-1.4h0m-.7 1.6h0m-1.2-1.1h0m-22.6-.4h0m-7.6 0h0" stroke="#ea6b6e" stroke-width="1.6" stroke-linecap="round" opacity="0.92" fill="none"/>
<path d="M82.9 43.0h0m-11.6 1.8h0m-.4 2.7h0m17.3 1.1h0m6.3-.6h0m-9.3 6.3h0m3.6-1.8h0m5.5 1.6h0m-17.1 5.4h0m2.6 1.5h0m3.7-2.1h0m3.5 1.6h0m.3-1.4h0m1.9-.2h0m5.8 3.3h0m-1.3 1.2h0m-22.1-1.5h0m5.3 5.6h0m.6 0h0m0-1.6h0m.6 .6h0m1.1 .4h0m.3-.2h0m.3-2.1h0m.7 1.5h0m.2 1.1h0m.5-.6h0m5-1.2h0m1.6 1.1h0m-5.8 3.1h0m-.9-.7h0m-.7 1.2h0m-.3-.9h0m-.1 0h0m-.2-.8h0m-.1 2h0m-.2-.3h0m-.3-.6h0m-.1-.1h0m-.4 .7h0m-.1-2.3h0m-.2-.1h0m-.2 .9h0m-.2 1.8h0m-.1-2h0m-.1-.1h0m-.2 0h0m0 1.4h0m-.4-1.5h0m0 .4h0m-.5 .7h0m-.5 .4h0m-.2-2h0m-.2-.1h0m-.6 .1h0m-.1 2.2h0m-.1-.8h0m-.1-1h0m0-.5h0m-.5 1.5h0m-.7-.8h0m-.8 1.7h0m-.5 0h0m-.7-1h0m-.1 1h0m-.3-.4h0m0-.8h0m0 0h0m-.1-.3h0m-1 1.1h0m0 1.5h0m.1-.1h0m.1 .5h0m.1 .9h0m1.4 1h0m.2-1.6h0m.6 .2h0m.4 .8h0m.3 .1h0m.2-.5h0m.2-1.8h0m.2 1.2h0m.5 1h0m.3-1.4h0m0 .7h0m.6-1.5h0m.3 .8h0m.8 2h0m0-1.6h0m0 1.2h0m.6-2.1h0m.2 1.6h0m0-2h0m.3 1.6h0m.4 .3h0m.5 0h0m.2-.5h0m.1-.6h0m2.4 .8h0m.1-.4h0m.2-.7h0m.3 2h0m.8 .4h0m.7-1.7h0m1.5-1.1h0m1.6 1.6h0m3.4 0h0m-6.8 2.4h0m-.5 .9h0m-.7 .6h0m-.3-1.7h0m0 1.6h0m-.2 .2h0m-.9-1h0m-.3-1.4h0m-.1 1.7h0m-.1 .9h0m-.1-2.4h0m-.1 1.5h0m-.2 .3h0m-.1-1.5h0m-.2 .8h0m-.4-.6h0m0 1.2h0m0 .5h0m-.5-1.2h0m-.3 1.1h0m-.2-2.2h0m-.3 .1h0m-.8 .4h0m-.4 1h0m-.6 .6h0m-.2-.3h0m0-1.1h0m-1 1.5h0m-.6-1.3h0m-.4 .7h0m-.5 .2h0m-.7 .5h0m-.7-2h0m-.1 .7h0m-1.3-.3h0m3.1 3.8h0m1.1-1h0m.4-.6h0m1.1 1.1h0m.1-1.2h0m.8 2.7h0m.4-2.1h0m.4-.1h0m.6 .7h0m0-.2h0m.5 .3h0m0 1h0m.1 .2h0m.4-2.6h0m.3 1.2h0m.5-.5h0m.1 1.3h0m.1-1.1h0m.6-.4h0m.5 .4h0m.4-.1h0m.4 1h0m.2-.6h0m.3 .7h0m.1-1.7h0m.1 .8h0m.7 1.3h0m2.3 2.6h0m-1.2-1.5h0m-.4 .3h0m0-.4h0m-.3 .4h0m-1 .5h0m-.5-.4h0m-.1-.3h0m-.2-.1h0m-.1 .6h0m-.5-.8h0m-.2 .3h0m-.1 .7h0m-.1 1.3h0m-.5-2.5h0m-.6 1.2h0m-.1-.9h0m-.4 .6h0m-.4 .5h0m-.6 1.3h0m0 0h0m-.2-.9h0m0-.4h0m-.3-.3h0m-.1-.4h0m-.3 1.8h0m-.1-.2h0m-.3-2.2h0m-.4 2.4h0m-.2-1h0m-.3 .7h0m-.3 .5h0m-.2-.9h0m-1.8 3.2h0m.5-1.9h0m.2 .9h0m.1 .9h0m.2-.9h0m.2-.3h0m.2-.7h0m.4 .8h0m0 .6h0m.1-.2h0m.3-1.3h0m.8 .2h0m.3 1.1h0m.7 1.1h0m0 .2h0m.7-.5h0m.7-1.1h0m.1 1.4h0m.7-1.8h0m.2 1.8h0m.4-.5h0m.2-1.2h0m.9-.7h0m.4 1.1h0m.7 .2h0m1.4 .7h0m.3-.4h0m0 .9h0m.2-1.3h0m1-1.2h0m.6 2.3h0m.5-1.7h0m-1.3 3h0m-.1 .1h0m-.1 .4h0m-.5 .7h0m-.2 1h0m-.1-2.4h0m-.1 .1h0m-.2 1.5h0m0-.7h0m-.1 1.3h0m-.2 .3h0m-.4-.2h0m-1-.9h0m-.4 .4h0m-.5-.9h0m-.4-.8h0m-.2 2.2h0m-.4-.7h0m-.5 .6h0m0-.2h0m-.2-.6h0m0-.4h0m-.3 1.2h0m-.3-2.3h0m-.2 .1h0m-.5 1.9h0m-.2-.6h0m-.2 1.2h0m-.3-2.2h0m-.6 1.8h0m0-1.8h0m-.1 2h0m-2.4-2h0m-.1-.4h0m-.5 .2h0m-1.5 .5h0m1.1 2.9h0m.5 .5h0m.1 .8h0m.4-1.6h0m.1 .4h0m.3 1.2h0m1-2.2h0m0 2.3h0m.1-2.1h0m0 1.8h0m1.2-1.3h0m.2 1.7h0m.1 .2h0m.6-.8h0m1.3 0h0m.2 .7h0m1-1.8h0m.4-.4h0m.3 1.1h0m.1 .3h0m0-1.3h0m.1-.1h0m0 2.4h0m.3-2.7h0m.6 1.6h0m0-.3h0m0-.3h0m.2 1.5h0m.3-1.1h0m.9-.7h0m.3-.6h0m.1 1.2h0m0 1.2h0m1.3-.5h0m.2 0h0m-3 1.7h0m-.2-.2h0m-.2-.4h0m-.4 .4h0m-1.1 1.1h0m-.9-.5h0m-.2-.2h0m-.1 1.9h0m-.2-2.4h0m-.3 2h0m-2.5-2.3h0m-.7 1.5h0m-.1 .6h0m0-.3h0m-.2-1.8h0m-.1 1.1h0m0-.9h0m-.1 .7h0m-1.1-.2h0m3.4 2.4h0m1.7-.2h0" stroke="#f28b2a" stroke-width="1.6" stroke-linecap="round" opacity="0.92" fill="none"/>
<path d="M79.5 93.6h0m-.1 .1h0m-.1 0h0m-.1-.9h0m-.3-.7h0m-1.2 2.2h0m-.2-.4h0m-.3-2.3h0m-.1 1.5h0m-.4 .9h0m-.2 .3h0m-.4-.4h0m-.4 .2h0m-1.7-.1h0m-.3-.1h0m-.3-1.3h0m-.1 .9h0m-1.7 3h0m0 .7h0m0-1.3h0m.6 1.2h0m.1-2.4h0m.5 2.7h0m.7-2.2h0m0 0h0m1 2h0m.5-2.5h0m.6 .5h0m.1 1.9h0m0-2.5h0m0 1.2h0m.9-.9h0m.1 1.4h0m.1 1.1h0m.3-2.6h0m0 .4h0m.5-.2h0m.4 1.2h0m.6-.8h0m.4 .6h0m.1-1h0m.1 2.3h0m.1-2.7h0m.2 .4h0m.1 1.3h0m.2 .3h0m.1-1.9h0m0 .8h0m0-1h0m.5 2.7h0m.3-1.2h0m.5-.4h0m.4 1.8h0m.3-1.6h0m.5 .9h0m.2-.6h0m.5 4h0m-.1-2.5h0m-.6 2.6h0m-.2-1h0m-.6 .2h0m-.1-.9h0m-.1-.4h0m-.7 1.9h0m-.2-.2h0m0-1h0m-.1 1.2h0m-.3-2.3h0m-.2 .2h0m-.9 1.8h0m-.1-.6h0m0 .8h0m-.1-1.4h0m-.1 1.7h0m-1-1.8h0m-.1 .3h0m0 .7h0m-.3 .7h0m-.2-.3h0m-.1-.7h0m-.3 .8h0m-.3 .2h0m-.3 0h0m-.1-2.4h0m0 2.3h0m-.6-1h0m0 .7h0m-.3-1.4h0m-.1 1.1h0m-.6-.6h0m-.2 .8h0m-.5-1.8h0m-.1 1h0m-.1 .4h0m0-1h0m0-.1h0m-.4 2h0m-.3 .3h0m0-.3h0m-1-.1h0m-.9 3.2h0m.1-1.8h0m.2 1.9h0m1-.1h0m1.4-1.2h0m.4 1h0m.3-.2h0m.1-.1h0m.2-1.3h0m.1 .4h0m.7 .8h0m0-1.4h0m.7 1.7h0m.8-1.8h0m1-.2h0m0-.2h0m.1 2.3h0m.6-2.3h0m.6 2.5h0m1-.4h0m.2 .1h0m.5-1.6h0m.2 1.5h0m.7-1.5h0m0 .7h0m.3-1.1h0m.4 2h0m-.5 2.9h0m-.3-1.6h0m0 .8h0m-.1-.6h0m-.3 .9h0m-.9 .1h0m-.1-.1h0m0-.7h0m-.2 1.8h0m-.5-2.2h0m-.5-.3h0m-.1 2.4h0m-.2 .1h0m-.7-.5h0m0-1.1h0m-1.2 .1h0m-.5 .8h0m-.6 .2h0m-.1 .4h0m-.5-1.4h0m-1.6 .2h0m-.5 .1h0m-.1 .7h0m-1.8 .4h0m-.4-.2h0m0-1.1h0m-.1-1.3h0m-.6 .9h0m1.3 3.2h0m.2 .9h0m.2 0h0m.1-2.2h0m.1 2.3h0m.1-1.7h0m0 .5h0m.1 .7h0m.1-1.4h0m.1 1.9h0m.6-.6h0m.4 1h0m.3-1.6h0m.3 1.9h0m.2-.2h0m.3-1.7h0m.2 .1h0m1.3-1h0m.1 .6h0m.1 .9h0m.7 .4h0m.3-.5h0m0 .3h0m.3-1.3h0m.3 2.2h0m1.6-1.8h0m2.3-.3h0m-1.7 3.3h0m-2.5 1h0m-.5-.5h0m-.5-.7h0m-1.8-.6h0m-.3 1.5h0m-.8-1.5h0m-.8 1.1h0" stroke="#9cc23c" stroke-width="1.6" stroke-linecap="round" opacity="0.92" fill="none"/>
<path d="M149.9 43.4h0m.3-.6h0m.9-.4h0m.2-1.4h0m.2 1.8h0m0-.2h0m0 .9h0m0-2.1h0m.4 1.8h0m.2-1.6h0m.6 .6h0m.3 .6h0m.6-1.4h0m.2 .6h0m.2 .1h0m.1 .8h0m.4-.8h0m-.6 1.7h0m-.2 .8h0m-.2-.9h0m-.4 2h0m-.5-.1h0m-.4-.9h0m-.1 .5h0m0-1.3h0m-.2 .6h0m0 1h0m-.3 .5h0m0-1.1h0m-.2 .1h0m-.2 1h0m-.5-1.3h0m-.3 1.7h0m-1-.5h0m.3 3h0m.4 .2h0m.3-1.4h0m.2 1.3h0m.2-.7h0m.6 0h0m.4-.5h0m.1 .8h0m.1 .3h0m.1-.1h0m.2-.9h0m.8-.2h0m0 .6h0m.3 .5h0m.2-1.2h0m.4-.7h0m.5 .6h0m.5-1h0m-1.7 4.6h0m-.3 0h0m-.1 .5h0m-.2-1.3h0m-.1 1.6h0m-.5-1.3h0m-.1 1.6h0m-.4-.3h0m-.4 .5h0m-.3-2.1h0m-.3 .2h0m0-.2h0m-.1 .3h0m-.6-.7h0m-.1 1.5h0m-.1-1.5h0m-.6 .4h0m-.1 1.8h0m-.1-.9h0m.5 3.8h0m.1-.9h0m.1-1.5h0m.3 2.4h0m.1-2.1h0m.5-.2h0m.4 1.5h0m.1 .3h0m.1-1.4h0m.1 .5h0m.2 .8h0m0-1.5h0m.3 1.6h0m0-.9h0m.4 .8h0m.3-1.8h0m.1 2.2h0m.1-.4h0m3.1 3.5h0m-1.2-1h0m-.3 .7h0m0-.2h0m-.5-.4h0m-.7 1.2h0m-.9-2.6h0m-.4 2.6h0m-.6-2.5h0m-.2 1.3h0m0-1.4h0m-.5 1.3h0m0-.4h0m-.2 4.7h0m.2-1.9h0m.4-.3h0m.6 1.6h0m.1-1.4h0m.1 1.8h0m.5-.7h0m0-.5h0m.3-.8h0m.2 .7h0m.2-.8h0m.4 .3h0m.2 2.1h0m.6-2.3h0m.8-.3h0m0 1.2h0m0-1.2h0m.5 1.7h0m.2-.6h0m.1 0h0m-1.1 2.3h0m-.5 .3h0m-.2 .3h0m-.7-1.1h0m-1 .7h0m-.1-.1h0m-.6-.6h0m-.9 .7h0" stroke="#2aaecb" stroke-width="1.6" stroke-linecap="round" opacity="0.92" fill="none"/>
<path d="M167.2 24.4h0m.5 .8h0m1 .2h0m.3-.6h0m.1 .5h0m.2 .1h0m1.7-.8h0m.1 .4h0m.7-.1h0m.1 0h0m.4-.4h0m.9 .1h0m.6 .5h0m.2 0h0m.8-.1h0m1.8 2.4h0m-.1 0h0m-1 .4h0m0-.4h0m0 .2h0m-.1 .1h0m0-2h0m-.4 1.3h0m-.1-1.3h0m-.1 1.3h0m-.5 .3h0m-1.2 .5h0m-1 .6h0m-.1-.3h0m-.2-1.7h0m-.2 1.2h0m-.1-.8h0m-.1-1.1h0m-.3 1.9h0m0-.7h0m-.8-1.3h0m-.1 1.2h0m-.2 .6h0m-.8 0h0m-.2-1.3h0m-.3 .7h0m-1.1 .5h0m0-.8h0m-.2 .4h0m0 0h0m-.1-.5h0m-.4-.8h0m-.2 1.5h0m-.1 .8h0m-.2-2.2h0m-.2 2.7h0m-.1-.1h0m-.5-2.6h0m-.2 2.7h0m-.6-2.6h0m0 .1h0m-.3 1.7h0m0 .8h0m-.6-2.8h0m-.6 1.8h0m0 .3h0m-.3 0h0m-.1-1.1h0m0 3.6h0m.4-.6h0m1.2-.2h0m.8-.1h0m.7-.8h0m.2 1.6h0m.6-1h0m.1 1.1h0m.1 .9h0m0-2.1h0m.7 .3h0m.4-.5h0m.5 1.4h0m.6-1.6h0m.1 .3h0m.1 1.7h0m.7-1.8h0m.4 2.7h0m.9-1.9h0m.3-.5h0m.1 1.1h0m0 .3h0m0-1.1h0m1 .8h0m.1-.1h0m.3-.7h0m.5 2h0m1.2-2.9h0m.4 .6h0m.8-.3h0m-1.5 3.1h0m-.8 .8h0m-2.1-1h0m-.7 1.7h0m-.3-.2h0m-.1 .7h0m-.2-1.2h0m-.9 2.4h0m.4 1.1h0m.2-1.4h0m.5 1h0m.1-.4h0m.6 .4h0m.1-.8h0m.3 .9h0m1.6-.3h0m.5 .8h0m.1-.2h0m.6 .7h0m.1-.8h0m.1-.1h0m.8-1.1h0m-.9 4.4h0m-.3-.9h0m-.3 1.6h0m-.2-2.4h0m-.2 .9h0m0-.3h0m-.1 1.3h0m-.1-1.3h0m-.4-.6h0m-.2 1.4h0m-.2-.2h0m0 .8h0m-.2-.6h0m0-.1h0m-.4 .3h0m-.1 .9h0m-.4-2.5h0m-.2 .6h0m-.2 .6h0m-.6 0h0m-.4 1.2h0m-.1-.7h0m1.8 1.6h0m.6-.2h0m.1 .1h0m.1 .4h0m.1 1.2h0m.2-1.8h0m.1 .7h0m.6 1.4h0m1 .7h0m1.6-1.3h0m13.4 4.3h0m-21.8-2.4h0m6.4 3.8h0m2.4 .7h0m5 .4h0m5.2-1.5h0m3.2 .9h0m-11.4 2.6h0m11 4.2h0m1.7-1.1h0m1.6-1.2h0m-23.5 8.4h0m16.2-2.7h0m4.3 4.8h0m-13.3 2.6h0m3.1 1.6h0m12.9-1.8h0m-11 3.4h0m-12.5 .6h0m1.8 3h0m6.7-1.8h0m4.2 .6h0" stroke="#1fa37a" stroke-width="1.6" stroke-linecap="round" opacity="0.92" fill="none"/>
<path d="M163.5 28.0h0m-.5-.1h0m-.4-1.2h0m-.1 1.4h0m-.4-1.6h0m-.2 1.9h0m-.6-1.1h0m-.1-.6h0m-.8 1.5h0m-.4-.5h0m-.1 .7h0m-1.1-.2h0m-4.6 3.1h0m.9 0h0m.2-.4h0m0-.1h0m.2-1.2h0m.5 1.5h0m.3-2.3h0m.8 2.4h0m.2 .3h0m.4-2.6h0m.1 1.7h0m.2-.2h0m.4-.6h0m.9 1.3h0m1.1-2.3h0m0 .2h0m.1 .4h0m.1 1.2h0m1.1 0h0m0 .1h0m0-.9h0m.4 1.6h0m.8-2.5h0m.4-.4h0m.2 .6h0m.3 .8h0m0 1.5h0m.4-2.6h0m.3 .3h0m.2 .9h0m.5 1.2h0m2 3h0m-1.3-.5h0m-.5-1.7h0m-.4 2.4h0m-.1-2.2h0m-.2-.2h0m-1 1.3h0m0 .6h0m0-.1h0m0-1.9h0m-.1 1.5h0m-.3-1.4h0m-.2 1.7h0m-.3 .1h0m-.3 .3h0m-.1-1h0m-.2-.5h0m-.1 .4h0m-.1 0h0m-.2 1.1h0m-.2-.5h0m-.5-.9h0m-.6-.1h0m-.2-.4h0m-.2 1.2h0m-.3-.9h0m-1-.3h0m-.1 2.1h0m-.1-2.5h0m-.1 1.1h0m-1-.4h0m-.5 1.8h0m-.4-1.8h0m-.6 1.8h0m-.2-2.3h0m-.3 0h0m0 1.2h0m-.5-1.1h0m-.6 0h0m-.2 4.9h0m.3 .5h0m.3-.9h0m.1-.5h0m.2-1.3h0m.2 1.6h0m.1 .4h0m.1 .2h0m.4 .4h0m0-1.7h0m.1 .5h0m.1-1.5h0m.3 .6h0m.1 2.2h0m.5-1.7h0m.2 1h0m0-1.7h0m.1 .3h0m.3-.6h0m.3 .6h0m0 .3h0m.5 1.8h0m0-2.3h0m.5 2.3h0m.2-1.1h0m.3 .2h0m0-1.7h0m.1 1.8h0m.1-1.6h0m.8 .1h0m.3 0h0m.1 .8h0m.3-.8h0m.4 2.2h0m.2-2.4h0m.6 .3h0m.2 .1h0m.1 .7h0m.3 .9h0m.6 .3h0m.1-2.8h0m.1 1.7h0m.2-1.3h0m0 .5h0m.3-.1h0m1 2.1h0m.4-2.2h0m0 .9h0m.2-.6h0m-.3 2.4h0m-.3 .5h0m-2.8 1.5h0m-.4-.9h0m-.6 .5h0m-.4-1.9h0m0 2.3h0m0-.3h0m-.5-1.1h0m-.1 .4h0m-.1-.6h0m-.6 .6h0m-.2 0h0m-.1 1h0m0-1.2h0m-.5 .4h0m-.1-1.5h0m-.8 2.2h0m-.1-.2h0m-.7-1.3h0m-.1-.6h0m-.5-.1h0m0 .8h0m-.6-.6h0m-.9 1.6h0m-.3-1h0m-.2 1.2h0m-.3 .2h0m-.1 .1h0m-.2-2.2h0m-.3 .9h0m-.1-.3h0m1.5 2.5h0m.2 .8h0m0-1h0m.4 1.5h0m.7-.4h0m.3-1h0m.5 2.1h0m.6 .4h0m.7-2.2h0m.1 2.5h0m.3-.3h0m.7-1.2h0m.3 .6h0m.1 .7h0m.5-.5h0m.3 .5h0m.2-2.3h0m.1 0h0m.1 1.4h0m.8 .5h0m0-2.2h0m.7 1.6h0m0-1.7h0m.2 2.2h0m.8-1.8h0m.6 1.8h0m.4-.7h0m1.5-1.1h0m-2.3 2.6h0m-2.5 .5h0m-.7-.5h0m0 .2h0m-.2 1.7h0m-.2-.6h0m-.2 .4h0m-2.3-1.6h0m-.5 .1h0" stroke="#c2a838" stroke-width="1.6" stroke-linecap="round" opacity="0.92" fill="none"/>
<path d="M192.4 42.2h0m-28.4 4.2h0m-7.4-.5h0m-1.3 2.8h0m1.6 .3h0m1 0h0m.1-.9h0m.1 .7h0m.8-1.3h0m.2 1.6h0m.1-1.1h0m.2 .3h0m.3 .4h0m.5-1h0m.3-1.1h0m.3 1.9h0m.4-.1h0m.3-.4h0m.1 .4h0m.3-.9h0m.1 0h0m0 1.5h0m0-.8h0m0-1.6h0m.1 2.3h0m.1-.5h0m0-1.6h0m.1 .5h0m1-.4h0m.1 1.1h0m1.7-1.4h0m.5 1.7h0m.5-.8h0m.1 1.4h0m.2 .1h0m10.7 .5h0m5.9-1.1h0m-3.3 2.6h0m-12.9-.7h0m0 .4h0m-.3 1.1h0m-.5-1.4h0m-.6 .9h0m-.5-1.4h0m-.1 2.4h0m-2.2-.1h0m0-1.5h0m-.8 .4h0m-.3 1.1h0m-.1 .2h0m-2-2.3h0m-.3 1.9h0m-.7 .4h0m-.2-2.3h0m-.3 1h0m-.1 1.2h0m-.2-.2h0m-.2-.6h0m-.6 .7h0m0-1.6h0m-.2 1.2h0m-.1-2.1h0m-.1 .6h0m-.7 1.6h0m-1.4 1.6h0m1.8 1.8h0m.2-1h0m.4 .7h0m.3-1.2h0m.1 .1h0m.2 .6h0m.7-1.1h0m.6 .4h0m0 1.2h0m.2-1.6h0m.5 1.1h0m.2-.6h0m0 1.4h0m.7-.4h0m.4-1.7h0m0-.7h0m.1 1.5h0m0 .8h0m.5-1.8h0m.2 1h0m.1 .6h0m.3-1h0m.1 1.3h0m.4-1.3h0m.2 1.1h0m.1-.1h0m.3-2.1h0m0 2.2h0m.3-1.4h0m.2-.7h0m.1 0h0m.6 2.3h0m.3 .5h0m.2-1.8h0m0 1.3h0m.2-2.4h0m.4 2.9h0m0-1.6h0m.3 0h0m0 1.2h0m.3 .4h0m0-2.9h0m.5 2.8h0m0-.1h0m.3 .1h0m3.2-.2h0m1.9-.9h0m1.8 .1h0m4.2-1.2h0m2.2 .9h0m4.8 .2h0m8.3 3.7h0m-11.1-.4h0m-9.2-1.2h0m-4.3-.6h0m-.4 1.4h0m-.6-.3h0m-.3-.4h0m-.4 1.8h0m-.3-.3h0m-.1-.2h0m-.6-1.6h0m-.2 .8h0m-.1-1h0m-.3 .2h0m-.3 .5h0m-.2-.2h0m-.2-.7h0m-.2 1h0m-.2 1.6h0m0-.2h0m-.4-2.4h0m-.4 1.6h0m-.9 .4h0m0 .2h0m-.3-2.3h0m-.3 2.1h0m0 .5h0m-.3-2.6h0m-.2 2.5h0m-.6 0h0m-.3-2h0m-.6 2.2h0m0-.4h0m-.2-1.4h0m-.3 .9h0m-.1-1.6h0m-.2 2.6h0m-.1-.9h0m-.1 .1h0m-.5 .6h0m-.3-1.7h0m0 1.6h0m-.6-1.9h0m-.9 .4h0m-.2-.5h0m-.4-.5h0m0 1.2h0m-.5-.3h0m1.3 3.1h0m.1 .9h0m.3-1.6h0m1.1-.1h0m.3 2.1h0m.4-2h0m.1 2h0m.4-1.2h0m.2-.6h0m1 .5h0m.2 1.9h0m.6-1.8h0m.2 .6h0m.1-1.6h0m.5 .9h0m.4-.1h0m.3-1h0m.5 2.6h0m.4-1.3h0m.3 1.5h0m.7-.8h0m0-.2h0m.1-.1h0m.3 .1h0m.1-1.3h0m.1 2.5h0m.5-1.6h0m.5 1.2h0m0-.4h0m0 .5h0m.5-1.7h0m.2 1.2h0m.1-1.7h0m.3 2.3h0m.1-1.5h0m.1-.6h0m.4 .1h0m.4 1.2h0m5.8-1.7h0m12.5 2.3h0m1.5-2.4h0m3.8 4.9h0m-11.7-.4h0m-8.4-.6h0m-4.9-.7h0m-.9-.2h0m-.1 .4h0m0-.1h0m-.4 .6h0m-.1 .3h0m-.3-1.3h0m-1.4 .9h0m-.1 .3h0m0-.1h0m-.2 1.5h0m-.1-1.5h0m-.2-.3h0m-.2 .8h0m-.1-1h0m-.2-.1h0m-.7 1.5h0m-1.2-1.1h0m-.2-.4h0m-.5 .7h0m-.6-1h0m0 .7h0m-.1-.6h0m-.5 .8h0m0 1.7h0m0-2h0m-.3 1.6h0m-.1-1.5h0m1.9 2.5h0m.6 .6h0m0-1.1h0m1.5 1.5h0m25.4-1.1h0m.7 .1h0m.5 1.6h0m.5-2.1h0m-16.6 5.5h0m-4.6 .4h0m2.2 1.7h0m16.2-.8h0m3.9 .8h0" stroke="#e6a02e" stroke-width="1.6" stroke-linecap="round" opacity="0.92" fill="none"/>
<path d="M172.6 39.5h0m-.9 .5h0m-.1-.9h0m-.4-.1h0m-1.1 .6h0m-.3-1.5h0m-1 1.8h0m-1.2 2.9h0m.6 .6h0m.8-.1h0m.1-1.2h0m.7 .3h0m.6-1.1h0m.2 .2h0m.1 .4h0m.2-1.4h0m.3 1.6h0m.2 .3h0m.2-.4h0m.6 .8h0m.1-2.3h0m.4 .4h0m5.9 1.1h0m14.6 1.2h0m-4.6 2h0m-13-.2h0m-3.2-1.4h0m-.1 2.2h0m-.4-1h0m-.4-.7h0m-.3 1.7h0m-.3-1.1h0m-.7-1.1h0m-.6 2h0m-.3 .6h0m0-1.9h0m-.3 .7h0m-.1-1h0m-.1 0h0m0 .8h0m-.2-.3h0m-.2-.3h0m-.3 .3h0m0-.3h0m-1 1.6h0m-.2 .1h0m.1 2.2h0m.3 .9h0m.3 .3h0m.1-1.1h0m.5-1.5h0m.3 2.5h0m.1-1.3h0m1 .7h0m.1-1.7h0m.2-.1h0m.1 1.5h0m.5 .3h0m.2 .1h0m.3-1.2h0m.4 0h0m.1-.1h0m.2 .3h0m.2 .7h0m0-.1h0m.2 .8h0m7-1.5h0m2.3 1.6h0m2.6-.4h0m-13.9 2.5h0m-.3 .5h0m-.3 .3h0m-.6 0h0m-.3-1.1h0m-.5 .9h0m-.2-.9h0m-.8-.3h0m-.6 0h0m1.5 2.7h0m.8-.4h0m.8 .2h0m1.3 0h0m-.3 4.1h0m-.7-1.2h0m-.1 1.5h0m0 .6h0m-.1-1.9h0m-.1 .1h0m-4.1 1.6h0m-.9 1.7h0m.8-1.1h0m0 .7h0m1.1 .8h0m.4 1.2h0m0-1.8h0m1.6 1h0m.1 .3h0m.1-1.9h0m.5 .5h0m0 .3h0m.1 .9h0m.1-1h0m.3 .4h0m.2-1.2h0m.4 1.8h0m6.5-.7h0m10.2-.1h0m-18.2 2.3h0m-1.7 .1h0m-1.3-.6h0m12.4 4.9h0m.6 0h0m.3 3.9h0m-1.4-1.7h0m-9.9-.7h0m7.1 5.5h0m-1.1 .3h0" stroke="#3c8fd4" stroke-width="1.6" stroke-linecap="round" opacity="0.92" fill="none"/>
<path d="M180.3 30.0h0m.1 .9h0m.1 0h0m.2-.7h0m.7-.3h0m0 .9h0m.4 0h0m.7 .1h0m.5-.3h0m.3-.9h0m0-.7h0m.4-.2h0m.9 2.7h0m.5-1.8h0m.3 1h0m.1 0h0m.2 .4h0m0-.7h0m0-.4h0m.1 .1h0m.2-.4h0m.2 1.3h0m.2-.4h0m.9-.4h0m.3 1.2h0m1.1 2.8h0m-.2 .1h0m-.1-.8h0m-.4-.2h0m-.6 .2h0m-.1-1.8h0m-.1 .8h0m-.1 .9h0m-.3-1.6h0m-.2 .4h0m-.3 1.8h0m-.6-2.4h0m-.6 1.6h0m-.1-.8h0m-.2 2h0m-.6-2.1h0m-.1 1.1h0m-.3-.5h0m-.1 1.2h0m-.2-1.2h0m-.2 .9h0m-.9 .6h0m0-.9h0m-.1-1.9h0m-.1 .1h0m-.1 2.2h0m-.3-1.5h0m-.2 .1h0m-.1 1.2h0m0-2h0m0 1.2h0m-.1-.4h0m-.2-.5h0m-.4 .4h0m-.7 1.8h0m-.2-.7h0m-.3-1.1h0m-1.4 2h0m-.2-.8h0m0-.1h0m-1.3 .4h0m1.1 1.3h0m.2 1.4h0m0 .7h0m.9-1.4h0m.3-.2h0m.6-.2h0m1.4 .6h0m.9-1.2h0m.3 .4h0m.6-.5h0m0 1.3h0m.4 1.3h0m.2-1.4h0m.8 0h0m.3 0h0m.6-.6h0m.8 1.9h0m.3-1.8h0m.6-.2h0m.1 1.3h0m.2 .1h0m0-1.4h0m.2-.4h0m.2 .1h0m.4 1.2h0m.7-.4h0m.4-.6h0m.6 .8h0m0 1h0m-.4 2.2h0m0-1.4h0m-.4 .7h0m-.2-.8h0m-.3 2.5h0m0-2.2h0m-.2 1.6h0m-1.2-.9h0m-.2 .2h0m-.5 .9h0m-.8-1.9h0m-.2 .5h0m-.2-.1h0m-.3 .9h0m-.6-.7h0m0 .4h0m-.4 .1h0m-.3 1.2h0m0-2.6h0m-.6 2.5h0m-.8-2.2h0m-.9 .1h0m-.4 .3h0m-.2 1.4h0m-.2-1.6h0m-1.1-.5h0m-.6 1.6h0m-.1 1h0m-.5-2h0m-1.2-.3h0m-.3 1.8h0m-.1-.6h0m-.5-.8h0m0 4h0m.7-1.4h0m.2 .5h0m.2 .6h0m.3 .4h0m.4 1.1h0m.4-1.6h0m0 .5h0m.1-.6h0m.2-1h0m.3 .6h0m0 2.1h0m.1-2.9h0m.1 .4h0m0 1.1h0m.1-.6h0m.1 .1h0m.5 1.9h0m.1-2.2h0m.3 1.8h0m0-.1h0m.3-1.1h0m.6-.6h0m.1 0h0m.2 1.6h0m.2-1.6h0m.1-.4h0m.5 2.1h0m.3-.8h0m0 1.3h0m.1-.5h0m0-.8h0m.7 .9h0m.1-.7h0m0-.1h0m.3-.1h0m.3-1.3h0m.5 1h0m.2 1h0m.6 .3h0m1.2-1.9h0m.4 1.9h0m.1 .2h0m.2-2.1h0m0 1h0m.1 1.1h0m.2-2.4h0m.4 2h0m1-.9h0m.3-1.4h0m.4 0h0m.1 .9h0m.2 1.3h0m.2 2.2h0m-.6-.5h0m-.4-.7h0m-.7-.2h0m-.9 1h0m-1.5-.8h0m-.1 .5h0m-.5 .7h0m-.4-1.3h0m-.3 .5h0m0 .4h0m-.3-.7h0m-.1 .9h0m-.5-.1h0m-.3 .9h0m-.8-1.3h0m-.3 .4h0m-.4-.6h0m-.1-.4h0m-.2 2.5h0m-.2-2.4h0m-.7 .5h0m0-.2h0m-1-.3h0m-.2 .2h0m-.8 1.4h0m-.7 .3h0m-.1-.7h0m-.2-.9h0m-.2 2h0m-1.3-2.6h0m.8 3h0m.4 .3h0m0-.2h0m1.1 1.5h0m.2-.6h0m.3 .3h0m.3-.7h0m.4 1.4h0m0 .9h0m.2-1.3h0m0 .9h0m.4-.2h0m.2-1.2h0m.5-.2h0m.2 1.2h0m0-1.2h0m.5 1.2h0m.4 .7h0m.3-2.9h0m.1 1.9h0m.3 .8h0m.4-1.4h0m.3 1.7h0m0-.7h0m.6 .6h0m.5-2h0m.6 1.8h0m0-2.4h0m.6-.3h0m.1 3h0m.1-.3h0m.3-1.1h0m.2-1h0m.4 .7h0m.5-.4h0m.3-.2h0m1.6 .3h0m.5 0h0m-4.6 2.3h0m-.1 .5h0m-.7 .1h0m-.1 0h0m-.1-.8h0m-.6 .1h0m-.5 .7h0m-.3 .2h0m-.5 .3h0m-1.9-.9h0" stroke="#36ad45" stroke-width="1.6" stroke-linecap="round" opacity="0.92" fill="none"/>
<path d="M188.1 43.0h0m4.5 3h0m-.3-1.4h0m-5.8 1.6h0m-2.7-.2h0m-7.3-1.8h0m3.7 3.9h0m12.5 1h0m-4 2.2h0m-18.1 1.6h0m4.7 1.5h0m8.6 .9h0m.1-.1h0m1.2-.2h0m.3-.6h0m.1-1.6h0m.5 .6h0m.3 2h0m0-2.7h0m1.8 2.2h0m.5 0h0m.1-1.4h0m1.9-.3h0m.2 1.8h0m.7 .4h0m.1-1.8h0m.3 .2h0m.1-.3h0m.1 .8h0m.6-.2h0m.2 1.3h0m.1-.2h0m0-.3h0m.3 .1h0m.6 2.7h0m-.1 .5h0m-.1-2.2h0m-.1 1.6h0m-.2 .2h0m0-.6h0m-.4-1h0m-.2 1.7h0m-.1-1.7h0m0 .2h0m-.5-.1h0m0 1.1h0m-.1-1.2h0m-.4 .9h0m0 1.1h0m-.2 .1h0m-.1-.4h0m-.1-.2h0m-.2-.6h0m-.1 0h0m-.4 0h0m-.1 .1h0m-.1 .4h0m-1.2-1.6h0m-.4 .2h0m-.1 1.1h0m-.4-.4h0m0-1h0m-.2 1.6h0m-.1-.9h0m-.1 1.6h0m0 .2h0m-1.1-.8h0m-.1-1.2h0m-.1 1.4h0m-.2-1.2h0m-.2 1.3h0m0-.5h0m-.1-1.4h0m-.5 2.1h0m0-2h0m-.1-.4h0m-.2 1.7h0m-.2 1h0m-.2-2.5h0m-.3 2.5h0m-.1-1.3h0m-.1-1.2h0m0 .3h0m-.2-.5h0m-.1 2.4h0m-.1-.7h0m-.3-.9h0m-.3 1.9h0m0-1.8h0m-12.5 .9h0m.5 2.2h0m11.9-1h0m.8 2.7h0m.2-1.1h0m.1-1.5h0m.2-.1h0m.3 1.1h0m.1 1.7h0m.1-2.2h0m.1 1.3h0m.5-.9h0m.5 .7h0m.1-.1h0m.1-.8h0m.1 .2h0m.1-.6h0m0 1.8h0m.3-2.1h0m.2 2.3h0m.2-1.8h0m.2 1.5h0m.3-1.1h0m.2 .9h0m.3-.3h0m.3-.9h0m.1-.1h0m.4 .5h0m.1-.8h0m0 .2h0m.1 2.1h0m.7-2.8h0m0 1.9h0m.6 .9h0m.9-1.4h0m.1 1.6h0m0-1.3h0m.3-.9h0m.3-.1h0m.5 1.8h0m.1-1.2h0m.4 1h0m.7-2h0m-3.5 3.7h0m-.6-.2h0m-.4 1.5h0m-.8-2h0m-.3 1.3h0m-.5-.2h0m-.1-.6h0m0 1.1h0m-.2-1.3h0m-.2 1h0m-.1-.2h0m-.1 .3h0m-.1-1.1h0m-.8 .1h0m-.6 .9h0m-.3-.3h0m-6.6 1h0m-.6 1.6h0m15-.5h0m-21.5 4.4h0" stroke="#1ea3a3" stroke-width="1.6" stroke-linecap="round" opacity="0.92" fill="none"/>
<path d="M191.9 60.8h0m.4-1.6h0m0 1.5h0m1-1.2h0m.1 2h0m.3-.3h0m.1-1.6h0m0 0h0m.2-.3h0m0 1.1h0m.2 .3h0m0-2h0m.5 1.4h0m.3-1.1h0m.8 .6h0m.9-.3h0m.1 1.7h0m.3-1h0m.4 0h0m1.1 .4h0m.2 .6h0m2.2 .4h0m1.1 0h0m3.5 2.8h0m-1.1 0h0m-.3-.8h0m-.5 .6h0m-.4 .4h0m-.1 0h0m-.3-.8h0m-1.3-.3h0m-.4 .9h0m-.5-1.7h0m-.1 1.2h0m-.4 .4h0m-.1-.1h0m-.2-.4h0m0 .3h0m-.4 .4h0m-.2-.9h0m-.1 .7h0m-.2-1.2h0m0 1.3h0m-.3-1.5h0m-.1-.9h0m0 0h0m-.5 .9h0m-.1-.3h0m0-.5h0m-.2 2h0m-.7-1h0m0 .7h0m-.3 .1h0m0-.6h0m-.1-.1h0m0 .1h0m-.1-.9h0m-.5 1.3h0m0 .4h0m-.2-.2h0m-.1-1.5h0m-.4 1.4h0m0 .4h0m-.1-1.8h0m0 2h0m-.1-1.6h0m0-.4h0m-.2 0h0m-.7 .8h0m-.2-1.3h0m-.4 1h0m-.7-.2h0m-.1-.7h0m3.2 2.8h0m.2 .6h0m.1-.1h0m.2-.2h0m.9 .9h0m.3-.8h0m.4-.1h0m1.4-.1h0m.2 1.1h0m.7-1.2h0m.7 .8h0m.1 1.1h0m.4-1.9h0m.2 1.5h0m.1-1h0m.1 .2h0m.7 1.8h0m0-2.6h0m.3 .7h0m.1 .5h0m.7-1.2h0m.3 .5h0m.3-.5h0m0 .9h0m0 0h0m.3 1h0m.3-1h0m0 1.4h0m.2-.4h0m.3 .8h0m.1-1.3h0m0 .6h0m.3 .2h0m.2 .6h0m.1-2.4h0m.1 .5h0m0 1.2h0m.2 .7h0m.6-.3h0m.8 .4h0m.2 .1h0m-1 1.1h0m-.1-.5h0m-.7 1.8h0m-.1-1.8h0m-.1 .4h0m-.2-.8h0m-.2 .3h0m-.8 1.6h0m-.3-.4h0m-.9-.6h0m-.1-1h0m-.2 .9h0m-.2-.8h0m0 1.7h0m-1.1-1.7h0m-.4 1h0" stroke="#1b9a5a" stroke-width="1.6" stroke-linecap="round" opacity="0.92" fill="none"/>
<path d="M167.8 42.3h0m3.8 .2h0m-1.6 3.4h0m48.1 6.4h0m-5.6-.4h0m-1.4 .1h0m-23.7-.6h0m-3.6-1.7h0m-1.8 2.6h0m0-1.6h0m-9.4-.9h0m-4.5 .6h0m11.1 3.6h0m29.5 1h0m.8-1.8h0m.9 2.1h0m.1-.7h0m.8 .7h0m.4-1h0m.1-.3h0m.4-1.5h0m.5 3h0m2.2-2.9h0m.2 1.9h0m.1 .9h0m1.6-.1h0m.6-1.4h0m.4 .8h0m.8 .8h0m0-2.3h0m.2 1.7h0m.6 .3h0m.1-1.5h0m.5 1.1h0m0 .3h0m.2 0h0m.2-.3h0m1.1 .3h0m0-.3h0m.3-.9h0m-.5 2.2h0m-.3 1.3h0m-.3-.7h0m-.1-.7h0m-.5 1.6h0m-.2-.1h0m-.5-1.4h0m-.4 1h0m-.4 .8h0m-.4-1.3h0m-.1-.2h0m-1.5-.3h0m-.2 1h0m-.7-.7h0m-.5 1.9h0m-.3-.6h0m-.5-.6h0m-.2 .9h0m-.8-1.8h0m-.1 2.1h0m-.5-.3h0m0-1.6h0m-.4 1.6h0m-.4-.9h0m-.2 .4h0m-1.4-1.1h0m-.1-.3h0m-.1 2h0m-.6 0h0m-.2-1.8h0m-.6 .3h0m-1.5-.4h0m-.8 2.2h0m-18.6-2.1h0m-10.3 .8h0m1 3.3h0m8-.2h0m21.1 0h0m.7-1.2h0m1.3 1.4h0m.6-1.4h0m.5 2.3h0m.8-2.8h0m2.7 1.8h0m.3-1.1h0m.4 .6h0m.1-.3h0m.9 .1h0m.6-1h0m.7 2.6h0m.3-.4h0m0 0h0m.5 .7h0m2.7-.1h0m.8-1.9h0m.2 2h0m.1-1.6h0m2.6 4.3h0m-1.2-.9h0m-1.1-1.2h0m0 .6h0m-1.3-.6h0m-.2 1.6h0m-4.1-1.8h0m-.1-.3h0m-.4 2.5h0m-.3-.3h0m-.3-.4h0m-.2 .7h0m-.5-1.2h0m-.4-.1h0m-.1 .2h0m-1.1-1.2h0m-.1 1.7h0m-.2-.8h0m-.1 1.2h0m-.1-1h0m-.6 .7h0m-1.2-1.9h0m-.6 1h0m-.3-.9h0m-.1 1.8h0m0 0h0m-.7-.3h0m-1.1 .4h0m-1.1-.9h0m-.6 1h0m-1.6-2.1h0m-12.3 1.2h0m-6.9-.5h0m-5.4 .1h0m-2-.1h0m6.2 4.4h0m6.1-.6h0m16.6 .7h0m0 .5h0m.7-.6h0m0-1.4h0m.1 .4h0m.7-1h0m.2 0h0m.2 .4h0m.1-.1h0m.1 2.4h0m1.5-2.4h0m.5 1.2h0m.2-1.3h0m0-.2h0m.7 2.4h0m.9-.2h0m0-2.5h0m.1 .7h0m.5 .1h0m.3 1.6h0m.1-1h0m.4 .4h0m1.3 1.2h0m.3-.5h0m1.2-1.5h0m.2-.2h0m.4-.6h0m.3 1.5h0m.2 .8h0m.6-.3h0m0-.8h0m.3-.9h0m.4 1h0m.3 .5h0m.9 .7h0m.2 0h0m.3-2h0m.4 .5h0m.2 1.4h0m.1-2h0m.1 1.6h0m2.8-.7h0m-1.5 4.4h0m-.3-2.1h0m-.4-.2h0m-.3 .6h0m-.3 .1h0m0 .1h0m-.5 .6h0m-.4-1.6h0m-.1 2.4h0m-.3-.3h0m-.5-1.6h0m-1.1 .6h0m-1.8-.8h0m-.3-.3h0m0-.2h0m-.3 1.9h0m-.2 .8h0m-.2-.2h0m-.1-.5h0m-.2-.2h0m-.5-1.8h0m-.1 .7h0m-.9 .3h0m-.1 1.6h0m-.4-1.8h0m-1.1 1.2h0m-.1-1.6h0m-1.2-.4h0m0 .1h0m-.8 1.6h0m-1.4-1.3h0m-.2 2h0m-1.5-1h0m0-1.5h0m-.1 2.7h0m-.9-2.4h0m-.2 1h0m-28.2 .7h0m-2-.1h0m-7.5-.3h0m4.2 2.3h0m11.6 2h0m.9-1.6h0m1.7 .5h0m19.4-1.8h0m3.1 .1h0m.6 1h0m1.9 .6h0m.6-.5h0m3.5-.7h0m.1-.6h0m.4 2.3h0m1-.3h0m0 .5h0m.7-2h0m1.4 2h0m.7-2.2h0m.6 .1h0m1.4 1.5h0m-1.6 1.4h0m-7.1 .2h0" stroke="#ea6b6e" stroke-width="1.6" stroke-linecap="round" opacity="0.92" fill="none"/>
<path d="M192.5 44.5h0m-10.2-.9h0m-12.9 .2h0m-1.2 2.4h0m3.6 .7h0m2.5 1.7h0m11.5-.9h0m.8 3h0m-2.3 1.2h0m-.6-1.3h0m-8.7 .9h0m-4.8 .9h0m3.2 1.7h0m2.1-.7h0m5.2 1.2h0m5.9 .6h0m4.1-.4h0m.2-2.1h0m.8 5.2h0m-16.8 3.6h0m.5-2.6h0m3.2 1.1h0m8.7 2.9h0m-1.9 1.4h0m-17.3 3.1h0m7.9 2.5h0m-.4 .4h0m-.5-.4h0m-.9-.2h0m-.2-.5h0m-.4 .3h0m-1.1 .8h0m-.1-.5h0m-.1-1.1h0m-.6-.4h0m0 1.3h0m-.3 .1h0m0-2.1h0m-.2 1.1h0m-.3 1.4h0m-.6-1.3h0m-.7-1.2h0m-.5 2.4h0m-1.1-2.4h0m-2.4 2.4h0m0 .1h0m-.4-.8h0m0 .9h0m-.1 .2h0m-1-2.4h0m-2 4.3h0m.9 0h0m.9-.1h0m.2-.2h0m.4 0h0m0 .2h0m0-1.7h0m.5 .4h0m.1 .2h0m.1 .4h0m1.1 .1h0m1.2-.6h0m.1 .3h0m0 2.1h0m.1-2.7h0m.5 1.8h0m0 .1h0m.1-1.3h0m.4 .3h0m.3-.9h0m1.7 .3h0m.6-.4h0m1.2 1.4h0m0 .8h0m.3 0h0m.1 .3h0m.9-2.2h0m.1 1.4h0m.6-1.8h0m1.4 1h0m.1 .9h0m.1-1.8h0m.2 1h0m.2 1.8h0m.5 2.8h0m-1.1-1.9h0m-.6-.7h0m-.8 0h0m-.3 .5h0m0 1.6h0m-.6 .6h0m-.1-.5h0m0-1.9h0m-.8 .2h0m-.6 2h0m-.5 .2h0m-.2-.9h0m-1-1.2h0m0 2.1h0m-.1-.8h0m-.2-1.3h0m-.3 .4h0m-.1 .7h0m-.1 .4h0m0-2.1h0m-.1 .6h0m0 1.4h0m-.2-.7h0m-.4-1.1h0m0 2.6h0m-.3-1.9h0m-.2 1.2h0m-.2-1.6h0m0 2.1h0m-.3-.2h0m0-1.3h0m-1.1 1.1h0m0-1.7h0m-.3 1.4h0m-.2 .9h0m-.8-2.4h0m-1-.2h0m-.2 1.9h0m-.8 .7h0m-.4-2.5h0m-.5-.1h0m1.2 2.9h0m1.9 1.3h0m.3-.7h0m.2 1.1h0m.1-.6h0m1-.6h0m.3 .4h0m.3 .4h0m.3-.7h0m.8 .4h0m.2-.9h0m.2 .9h0m.1-.2h0m.3-.2h0m0 1.4h0m.5-.7h0m.5-.2h0m0 1.3h0m.1-.5h0m.2-1.6h0m0 1.9h0m.9 .2h0m.3-1.8h0m.4 2.1h0m.1-.5h0m0-.8h0m.4 .7h0m.5-.1h0m.7-1h0m.6 1.1h0m.1 .6h0m.3-1.9h0m.1 .8h0m.1-1.2h0m.8 1.4h0m.2-1.3h0m.2 .9h0m.8 .1h0m.2 .3h0m.2-1.2h0m1.9 4.8h0m-.1-1.3h0m-1.6-.8h0m-.3-.4h0m-.4 .3h0m-.1 2h0m-.1-1.5h0m-.8 1.8h0m-.2-.4h0m-.5-.2h0m0-.3h0m-.2-.2h0m-.5-.8h0m-.5 1h0m-.4-.3h0m-.1 1h0m0-.5h0m-.9-.8h0m0 1.3h0m-.2-2h0m0 1.5h0m-.4-1.2h0m-.6 1.1h0m-.2-1.1h0m-.3 2.1h0m-.3-1.9h0m-.1 1.8h0m0-2h0m-.4-.3h0m-.1 1.6h0m-.6 0h0m-.1 .6h0m0-2.1h0m-.1 .6h0m-.3-1h0m0 1.8h0m-.2 .6h0m-1-2.2h0m-.8 4.1h0m.2-.6h0m1.2-.2h0m.1-.7h0m0 .4h0m.1 1.2h0m0-1.2h0m.1 .3h0m1.1 .3h0m.6-.6h0m.1-.1h0m1.1-.1h0m.1 2h0m.5 0h0m0 0h0m.4-1.1h0m.4-.7h0m.1 .4h0m.2-.8h0m1 .9h0m.5 1.7h0m.2 .3h0m1-1.6h0m.1-.7h0m1.3-.6h0m.4 1h0m.2-.9h0m.4 2.4h0m.9-.2h0m.4-.6h0m.3-1.2h0m.2 1.8h0m.1-1.9h0m.4-.3h0m1 .5h0m-1.5 2.7h0m-.5 2.5h0m-.8-1.9h0m-.8-.5h0m-.7-.2h0m-.3 .6h0m-1-.6h0m-.1 .8h0m-.1 .8h0m0 .7h0m-.2-1.7h0m-.2 .7h0m-.6 1.2h0m-.7-1.9h0m-.2 .1h0m-.3 1.9h0m-.3-1.4h0m0-.7h0m-.9 .6h0m-.1 .8h0m-.2-.4h0m-.1-.1h0m-.5-1.3h0m-1.3 .9h0m-.3 .8h0m-1.2 .3h0m-1.5 0h0m-1.1-1.7h0m.3 2.9h0m1.1 .2h0m.5 1.2h0m.9 1h0m.6 .1h0m.1 0h0m1.5-.5h0m0-1.3h0m1.1 .9h0m.6-.8h0m.1-1.2h0m1.6 2.4h0m.1-.1h0m.5-2.1h0m0 .1h0m.1 2.5h0m.2-2.7h0m0 1.1h0m.1 1.1h0m0-2.2h0m.5 .4h0m.1 .8h0m0 .1h0m.6 1.2h0m.1-1.8h0m.2-.3h0m1.2 .7h0m.2-.1h0m.5 1.4h0m.2-.9h0m.4 .3h0m.1 .1h0m1.4 0h0m-3.3 1.9h0m-.5-.2h0m-1.1 1.1h0m-.3-.8h0m-.1 .5h0m-.4 .6h0m-.1-1.4h0m-.2 .3h0m-.3 .3h0m-1.6 .8h0m-.9-.4h0m0-.7h0m-.1 .6h0m-.8-1.4h0m-.7 1.3h0m-.5 .1h0m-.8-.9h0m-.5-.6h0m-.4 2.4h0m-.5-2.2h0m-.3 .5h0m2.2 2.7h0m1 .1h0m.4-.5h0m.3 .8h0m0-.8h0m.5 1.1h0m1 .9h0m.2-1.9h0m0 .5h0m.2 1.2h0m.2-2h0m1.1 .9h0m.7-.8h0m.4 .4h0m1.7 .6h0" stroke="#f28b2a" stroke-width="1.6" stroke-linecap="round" opacity="0.92" fill="none"/>
<path d="M176.1 93.3h0m-1 .4h0m-.6 .7h0m-.5-1.1h0m-.1 .6h0m-.2-.4h0m-.5 .9h0m-2-.2h0m-.8-.4h0m-2.4 2.3h0m.4 .4h0m1-.3h0m.9 1.3h0m.1-1.5h0m.4-1.5h0m.1 2.8h0m.9-2.1h0m.2 1.3h0m.6-.1h0m.4-.7h0m.1 .4h0m.7 .6h0m0-1.5h0m0-.2h0m.5 1.7h0m.6-.3h0m.1-.8h0m.6-1.1h0m.3 1.1h0m.4 1.2h0m.3-.7h0m.6-.9h0m1.1 3.3h0m-.3 1.3h0m0-.2h0m-.1-.9h0m-.6 .6h0m-.2-1.2h0m-.2 1.6h0m-.4-1.8h0m-.1-.1h0m-.6 .7h0m-.9 .5h0m-.1-.7h0m-.3 1.8h0m-1.5-.1h0m-.3 .2h0m-.2-1.2h0m-.7-.5h0m-.2 1.8h0m-.1-1.9h0m-.3 1.7h0m-.4-.4h0m-.5 .4h0m-.5-2.5h0m-.2 2.6h0m-.1-.3h0m0-1.1h0m-.1 .2h0m0-.2h0m-.4 1.2h0m-.4-.1h0m-.6 0h0m-.3-1.7h0m-.7 2.1h0m0-1.5h0m-.4-.9h0m-1 2h0m-.2 2.7h0m1.5-1.6h0m.2 2h0m.4-2.2h0m.5 1.8h0m1-.5h0m.5-1.3h0m.1 .3h0m.2-.3h0m.2 1.7h0m.4-.7h0m.1-.7h0m.3-.6h0m.4 1.5h0m.1 1.5h0m.3-1.2h0m.8-1h0m.1-.1h0m0 .6h0m.2 .2h0m.1 .1h0m.2-.5h0m.1 1.7h0m.1-.7h0m.6-.6h0m.4 .4h0m.1 .7h0m.3-.8h0m.4 .1h0m.6-.7h0m.4-1h0m.6 1.1h0m.8 .8h0m.3 .5h0m.5-.3h0m-.9 1.2h0m-.2 .8h0m-.7-.3h0m-.2 1.6h0m0-.6h0m-.4-.4h0m0-1.2h0m-.4 .5h0m-.3 2h0m-1.8-2.7h0m-.6 1.3h0m-.7-1h0m-.2 .3h0m-.7-.5h0m-.1 .8h0m-.5-.7h0m-.3 .6h0m-.1 1.3h0m-1.5-1.8h0m0 2.4h0m-.2-.3h0m-1.1-1.7h0m-.2 1.5h0m0-1.5h0m-.2 0h0m-.2-.4h0m1.2 5.1h0m0-1h0m.4 .6h0m.9 0h0m.7-1.1h0m.3-1h0m.1 .8h0m0 1.5h0m.8-1.3h0m.1 1.8h0m.2-1.8h0m.3 1h0m.4 .3h0m.2 .5h0m.2 .1h0m.1-3h0m.4 1h0m.9 1.3h0m1.4 .3h0m.5-2.6h0m.2 .9h0" stroke="#9cc23c" stroke-width="1.6" stroke-linecap="round" opacity="0.92" fill="none"/>
<path d="M317.7 114.0L316.9 114.0L316.4 114.0L315.7 113.9L315.2 113.7L314.6 113.5L314.1 113.2L313.6 113.0L313.2 112.8L312.7 112.4L312.2 112.0L311.9 111.8L311.4 111.3L311.2 111.0L310.8 110.5L310.5 110.0L310.2 109.6L309.9 109.1L309.7 108.6L309.5 108.0L309.3 107.5L309.1 107.0L308.9 106.5L308.8 105.8L308.7 105.2L308.5 104.5L308.4 103.9L308.4 103.2L308.3 102.5L308.3 101.8L308.4 101.0L308.4 100.3L308.5 99.8L308.7 99.0L308.8 98.5L309.0 98.0L309.2 97.5L309.4 97.0L309.7 96.5L310.0 96.0L310.3 95.5L310.6 95.0L310.9 94.5L311.1 94.0L311.3 93.5L311.5 93.0L311.6 92.2L311.5 91.5L311.4 91.0L311.3 90.2L311.2 89.7L311.1 89.0L311.0 88.2L310.9 87.8L310.8 87.0L310.8 86.2L310.8 85.5L310.9 84.8L311.0 84.2L311.1 83.5L311.2 82.9L311.3 82.2L311.4 81.7L311.5 81.0L311.4 80.4L311.3 79.8L311.0 79.2L310.7 78.8L310.4 78.3L310.2 77.8L309.9 77.3L309.7 76.8L309.5 76.2L309.4 75.8L309.2 75.1L309.0 74.5L308.8 74.0L308.6 73.5L308.3 73.0L307.9 72.7L307.3 72.5L306.7 72.4L305.9 72.4L305.3 72.2L304.7 72.1L304.2 72.0L303.7 71.8L303.2 71.5L302.7 71.2L302.2 70.9L301.7 70.6L301.2 70.3L300.7 70.0L300.2 69.8L299.7 69.6L299.2 69.4L298.7 69.2L298.2 68.9L297.7 68.7L297.2 68.4L296.7 68.1L296.3 67.8L295.9 67.4L295.6 67.0L295.3 66.5L295.0 66.0L294.8 65.5L294.6 65.0L294.5 64.2L294.4 63.8L294.4 63.0L294.3 62.2L294.2 61.5L294.1 61.0L293.9 60.5L293.7 59.9L293.4 59.5L293.2 59.0L292.9 58.5L292.7 58.0L292.4 57.4L292.2 56.8L292.0 56.2L291.9 55.8L291.7 55.0L291.6 54.5L291.5 53.8L291.5 53.0L291.5 52.2L291.5 51.5L291.6 50.8L291.7 50.2L291.9 49.5L292.0 49.0L292.2 48.2L292.3 47.8L292.4 47.0L292.6 46.5L292.7 45.9L292.8 45.2L292.9 44.7L293.0 44.0L293.1 43.2L293.2 42.8L293.3 42.0L293.4 41.2L293.5 40.8L293.7 40.0L293.8 39.5L294.0 39.0L294.2 38.5L294.5 38.0L294.8 37.5L295.1 37.0L295.4 36.5L295.7 36.1L295.9 35.7L296.2 35.2L296.5 34.8L296.7 34.1L296.9 33.5L297.0 33.0L297.1 32.2L297.2 31.6L297.3 31.0L297.4 30.2L297.5 29.8L297.7 29.0L297.8 28.5L298.0 28.0L298.3 27.5L298.6 27.0L298.9 26.6L299.2 26.2L299.7 25.8L300.0 25.5L300.4 25.0L300.7 24.8L301.2 24.3L301.5 24.0L301.9 23.5L302.2 23.2L302.7 22.8L303.1 22.5L303.4 22.2L303.9 21.9L304.4 21.6L304.9 21.3L305.4 21.1L305.9 21.0L306.7 20.8L307.2 20.6L307.9 20.5L308.4 20.4L309.2 20.3L309.7 20.2L310.4 20.1L311.2 20.0L311.7 20.0L312.4 19.9L313.2 19.8L313.9 19.8L314.7 19.9L315.4 20.0L315.9 20.1L316.5 20.2L317.1 20.5L317.6 20.8L318.0 21.0L318.4 21.3L318.9 21.8L319.2 22.0L319.6 22.5L319.9 23.0L320.2 23.3L320.5 23.8L320.7 24.2L321.0 24.8L321.3 25.2L321.6 25.8L321.9 26.2L322.2 26.6L322.7 27.0L323.1 27.2L323.7 27.3L324.2 27.2L324.9 27.0L325.4 26.8L325.9 26.5L326.4 26.3L326.9 26.1L327.4 26.0L328.2 25.8L328.7 25.7L329.4 25.7L330.2 25.6L330.9 25.7L331.7 25.7L332.2 25.8L332.9 26.0L333.4 26.1L333.9 26.3L334.4 26.5L334.9 26.8L335.4 27.1L335.9 27.4L336.4 27.8L336.7 28.1L337.1 28.5L337.4 28.9L337.7 29.3L338.0 29.8L338.3 30.2L338.5 30.8L338.7 31.3L338.9 32.0L339.1 32.5L339.3 33.0L339.4 33.8L339.6 34.2L339.7 34.8L339.9 35.5L340.0 36.0L340.1 36.8L340.2 37.3L340.3 38.0L340.3 38.8L340.2 39.5L340.1 40.0L340.0 40.8L339.9 41.2L339.7 41.8L339.5 42.5L339.4 43.0L339.3 43.8L339.2 44.5L339.2 45.0L339.1 45.8L339.0 46.5L338.9 47.0L338.8 47.8L338.7 48.3L338.7 49.0L338.8 49.5L339.0 50.0L339.3 50.5L339.7 51.0L339.9 51.4L340.3 51.8L340.6 52.2L340.9 52.7L341.2 53.1L341.5 53.5L341.8 54.0L342.1 54.5L342.4 55.0L342.7 55.3L343.1 55.8L343.4 56.1L343.9 56.5L344.4 56.8L344.9 57.0L345.4 57.2L345.9 57.4L346.4 57.6L347.1 57.8L347.7 57.9L348.4 57.8L348.9 57.5L349.2 57.1L349.4 56.7L349.7 56.1L349.9 55.5L350.1 55.0L350.4 54.5L350.6 54.0L350.9 53.5L351.2 53.0L351.4 52.6L351.7 52.2L352.2 51.8L352.5 51.5L352.9 51.1L353.4 50.8L353.8 50.5L354.2 50.2L354.7 49.9L355.2 49.6L355.7 49.3L356.2 49.0L356.7 48.8L357.1 48.5L357.6 48.2L358.1 48.0L358.6 47.8L359.1 47.5L359.7 47.3L360.2 47.2L360.9 47.0L361.4 47.0L362.2 47.0L362.7 47.0L363.4 47.2L363.9 47.3L364.5 47.5L365.1 47.8L365.7 48.0L366.2 48.2L366.6 48.5L367.0 48.8L367.4 49.2L367.8 49.5L368.2 50.0L368.4 50.3L368.7 50.8L369.0 51.2L369.3 51.8L369.6 52.2L369.8 52.8L370.0 53.2L370.2 53.8L370.4 54.4L370.7 55.0L370.9 55.5L371.1 56.0L371.3 56.5L371.5 57.0L371.7 57.6L371.9 58.2L372.1 58.8L372.2 59.3L372.3 60.0L372.4 60.8L372.5 61.2L372.4 61.9L372.4 62.5L372.3 63.2L372.1 63.8L371.9 64.2L371.7 64.8L371.4 65.3L371.2 65.8L370.9 66.2L370.7 66.8L370.4 67.2L370.2 67.9L370.0 68.5L369.9 69.0L369.7 69.6L369.5 70.2L369.3 70.8L369.1 71.2L368.8 71.8L368.5 72.2L368.2 72.7L367.9 73.1L367.6 73.5L367.3 74.0L366.9 74.4L366.6 74.8L366.2 75.2L365.9 75.5L365.4 75.9L364.9 76.2L364.5 76.5L364.1 76.8L363.5 77.0L362.9 77.2L362.4 77.3L361.7 77.4L360.9 77.5L360.2 77.4L359.4 77.4L358.8 77.2L358.2 77.1L357.7 77.0L357.0 76.8L356.4 76.6L355.9 76.4L355.4 76.2L354.9 76.0L354.2 75.8L353.7 75.6L353.2 75.4L352.6 75.2L351.9 75.1L351.4 74.9L350.8 74.8L350.2 74.6L349.7 74.4L349.2 74.2L348.4 74.0L347.9 73.9L347.4 73.8L346.7 73.6L346.2 73.4L345.5 73.2L344.9 73.1L344.4 72.9L343.9 72.7L343.4 72.5L342.9 72.2L342.4 72.0L341.9 71.7L341.4 71.3L340.9 71.0L340.5 70.8L340.1 70.5L339.7 70.2L339.1 70.0L338.4 69.8L337.7 69.9L337.2 70.2L336.9 70.5L336.4 71.0L336.0 71.2L335.4 71.5L334.9 71.6L334.2 71.6L333.4 71.7L332.9 71.9L332.7 72.2L332.4 72.8L332.1 73.2L331.8 73.8L331.4 74.2L331.2 74.5L330.7 74.9L330.3 75.2L329.9 75.5L329.4 75.9L329.0 76.2L328.7 76.7L328.4 77.1L328.3 77.8L328.4 78.5L328.6 79.0L328.9 79.5L329.1 80.0L329.4 80.5L329.7 81.0L329.9 81.5L330.2 82.0L330.3 82.5L330.5 83.0L330.7 83.8L330.7 84.2L330.8 85.0L330.8 85.8L330.8 86.5L330.7 87.2L330.6 87.8L330.5 88.5L330.3 89.0L330.2 89.5L329.9 90.0L329.7 90.6L329.4 91.0L329.1 91.5L328.8 92.0L328.4 92.4L328.2 92.8L327.7 93.2L327.4 93.6L327.2 94.0L326.9 94.5L326.7 95.2L326.6 95.8L326.5 96.5L326.6 97.2L326.7 97.9L326.8 98.5L326.9 99.0L327.1 99.8L327.2 100.2L327.4 101.0L327.4 101.8L327.4 102.5L327.3 103.2L327.2 103.8L326.9 104.5L326.7 105.0L326.4 105.5L326.2 105.9L325.9 106.3L325.6 106.8L325.3 107.2L324.9 107.7L324.7 108.1L324.4 108.5L324.1 109.0L323.8 109.5L323.5 110.0L323.2 110.5L322.9 110.8L322.6 111.2L322.2 111.7L321.9 112.0L321.4 112.4L321.0 112.8L320.6 113.0L320.2 113.2L319.7 113.5L319.0 113.8L318.4 113.9L317.8 114.0Z" fill="#ececec" stroke="#9c9c9c" stroke-width="0.55"/>
<path d="M318.7 112.0L317.9 112.2L317.2 112.2L316.4 112.1L315.9 112.0L315.3 111.8L314.8 111.5L314.4 111.2L313.9 110.9L313.5 110.5L313.2 110.2L312.8 109.8L312.4 109.4L312.2 109.0L311.8 108.5L311.5 108.0L311.2 107.5L311.0 107.0L310.8 106.5L310.6 106.0L310.4 105.5L310.2 104.8L310.1 104.2L310.0 103.5L310.0 102.8L309.9 102.2L309.9 101.5L310.0 101.0L310.1 100.2L310.2 99.6L310.4 99.0L310.5 98.5L310.7 98.0L311.0 97.5L311.3 97.0L311.6 96.5L311.9 96.0L312.2 95.6L312.4 95.2L312.7 94.8L312.9 94.2L313.1 93.5L313.2 93.0L313.2 92.2L313.2 91.7L313.1 91.0L312.9 90.3L312.8 89.8L312.7 89.1L312.6 88.5L312.5 87.8L312.4 87.2L312.4 86.5L312.4 85.8L312.4 85.0L312.5 84.5L312.6 83.8L312.7 83.2L312.9 82.5L313.0 82.0L313.2 81.3L313.3 80.8L313.3 80.0L313.2 79.5L312.9 79.0L312.7 78.5L312.4 78.0L312.0 77.5L311.7 77.0L311.5 76.5L311.3 76.0L311.1 75.5L310.9 75.0L310.7 74.4L310.5 73.8L310.4 73.2L310.2 72.6L310.0 72.0L309.9 71.5L309.7 71.0L309.2 70.5L308.7 70.3L307.9 70.3L307.2 70.4L306.6 70.5L306.0 70.5L305.4 70.4L304.7 70.2L304.2 70.0L303.7 69.8L303.2 69.5L302.8 69.2L302.4 69.0L301.9 68.7L301.4 68.5L300.9 68.2L300.4 68.0L299.8 67.8L299.2 67.5L298.7 67.3L298.2 67.0L297.8 66.8L297.4 66.4L297.1 66.0L296.7 65.5L296.5 65.0L296.3 64.5L296.2 64.0L296.1 63.2L296.0 62.5L296.0 61.8L296.0 61.0L295.9 60.5L295.7 59.9L295.4 59.3L295.2 58.9L294.9 58.5L294.7 58.0L294.4 57.5L294.1 57.0L293.9 56.5L293.7 56.0L293.4 55.3L293.3 54.8L293.2 54.2L293.1 53.5L293.0 52.8L293.0 52.0L293.1 51.2L293.2 50.6L293.3 50.0L293.4 49.3L293.6 48.8L293.7 48.2L293.9 47.5L294.0 47.0L294.2 46.3L294.3 45.8L294.5 45.2L294.6 44.5L294.7 44.0L294.8 43.2L294.9 42.5L294.9 42.0L295.1 41.2L295.2 40.6L295.4 40.0L295.5 39.5L295.8 39.0L296.0 38.5L296.4 38.0L296.7 37.5L296.9 37.2L297.3 36.8L297.6 36.2L297.9 35.8L298.1 35.2L298.3 34.8L298.4 34.0L298.5 33.5L298.6 32.8L298.7 32.0L298.8 31.5L298.9 30.8L299.0 30.2L299.2 29.5L299.4 29.0L299.6 28.5L299.9 28.0L300.2 27.7L300.5 27.2L300.9 26.8L301.3 26.5L301.7 26.1L302.0 25.8L302.4 25.3L302.7 25.0L303.2 24.5L303.5 24.2L303.9 23.8L304.4 23.5L304.7 23.2L305.2 23.0L305.7 22.7L306.3 22.5L306.9 22.3L307.4 22.1L308.2 22.0L308.7 21.9L309.4 21.8L309.9 21.7L310.7 21.6L311.3 21.5L311.9 21.4L312.7 21.3L313.4 21.3L314.2 21.3L314.9 21.4L315.4 21.5L316.1 21.8L316.7 22.0L317.1 22.2L317.5 22.5L317.9 22.9L318.3 23.2L318.7 23.8L318.9 24.1L319.2 24.5L319.5 25.0L319.7 25.5L320.0 26.0L320.3 26.5L320.6 27.0L320.9 27.5L321.2 28.0L321.4 28.4L321.7 28.8L322.1 29.2L322.4 29.6L322.9 29.8L323.5 29.8L324.1 29.5L324.5 29.2L324.9 29.0L325.4 28.6L325.9 28.3L326.4 28.1L326.9 27.9L327.4 27.7L328.1 27.5L328.7 27.4L329.4 27.3L330.2 27.3L330.9 27.3L331.7 27.4L332.2 27.5L332.9 27.7L333.4 27.9L333.9 28.1L334.4 28.4L334.9 28.7L335.3 29.0L335.7 29.4L335.9 29.8L336.3 30.2L336.6 30.8L336.8 31.2L337.0 31.8L337.2 32.5L337.3 33.0L337.5 33.5L337.7 34.2L337.8 34.8L338.0 35.2L338.2 36.0L338.4 36.5L338.5 37.0L338.6 37.8L338.7 38.5L338.7 38.9L338.7 39.5L338.5 40.2L338.4 40.8L338.2 41.3L337.9 41.9L337.7 42.5L337.5 43.0L337.4 43.5L337.2 44.2L337.2 44.8L337.1 45.5L337.1 46.2L337.0 47.0L336.9 47.5L336.8 48.2L336.8 49.0L336.9 49.8L337.1 50.2L337.4 50.8L337.7 51.1L338.0 51.5L338.4 52.0L338.7 52.2L339.1 52.8L339.4 53.2L339.7 53.5L340.0 54.0L340.3 54.5L340.6 55.0L340.9 55.5L341.2 55.9L341.5 56.2L341.8 56.8L342.2 57.1L342.6 57.5L342.9 57.8L343.4 58.1L343.9 58.3L344.5 58.5L345.2 58.7L345.7 58.9L346.2 59.1L346.7 59.3L347.2 59.5L347.7 59.8L348.3 60.0L348.9 60.2L349.4 60.3L349.9 60.2L350.4 59.8L350.7 59.4L350.9 58.8L351.1 58.2L351.2 57.8L351.4 57.0L351.6 56.5L351.7 56.0L351.9 55.4L352.2 54.9L352.4 54.4L352.7 54.0L353.1 53.5L353.4 53.1L353.8 52.8L354.2 52.4L354.7 52.0L355.0 51.8L355.4 51.4L355.9 51.1L356.4 50.8L356.9 50.5L357.3 50.2L357.7 50.0L358.2 49.7L358.7 49.5L359.3 49.2L359.9 49.1L360.4 48.9L361.2 48.9L361.9 48.9L362.4 49.0L363.2 49.2L363.7 49.4L364.2 49.7L364.7 50.0L365.2 50.2L365.5 50.5L365.9 50.8L366.4 51.2L366.7 51.6L367.1 52.0L367.4 52.5L367.7 53.0L367.9 53.4L368.2 53.9L368.4 54.4L368.7 54.9L368.9 55.5L369.2 56.0L369.4 56.5L369.6 57.0L369.8 57.5L370.0 58.0L370.2 58.6L370.4 59.2L370.5 59.8L370.7 60.5L370.7 61.0L370.7 61.8L370.6 62.2L370.5 63.0L370.3 63.5L370.0 64.0L369.7 64.5L369.4 64.9L369.2 65.2L368.8 65.8L368.5 66.2L368.2 66.8L368.0 67.2L367.9 67.8L367.8 68.5L367.7 69.0L367.5 69.8L367.3 70.2L367.1 70.8L366.9 71.2L366.6 71.8L366.3 72.2L366.0 72.8L365.7 73.1L365.3 73.5L364.9 73.9L364.5 74.2L364.2 74.5L363.7 74.8L363.2 75.0L362.6 75.2L361.9 75.4L361.4 75.5L360.7 75.6L359.9 75.5L359.4 75.5L358.7 75.3L358.2 75.2L357.5 75.0L356.9 74.8L356.4 74.7L355.9 74.5L355.2 74.3L354.7 74.1L354.1 74.0L353.4 73.8L352.9 73.7L352.2 73.5L351.7 73.4L351.1 73.2L350.4 73.1L349.9 72.9L349.4 72.8L348.7 72.6L348.2 72.5L347.4 72.3L346.9 72.2L346.3 72.0L345.7 71.8L345.2 71.6L344.7 71.5L344.2 71.2L343.7 71.0L343.2 70.7L342.7 70.4L342.2 70.0L341.9 69.8L341.4 69.4L341.0 69.0L340.7 68.7L340.3 68.2L339.9 67.9L339.5 67.5L339.2 67.2L338.8 66.8L338.4 66.4L338.0 66.0L337.6 65.8L337.0 65.5L336.4 65.4L335.7 65.3L334.9 65.3L334.2 65.4L333.5 65.5L332.9 65.6L332.2 65.6L331.4 65.6L330.7 65.5L330.2 65.5L329.7 65.5L328.9 65.7L328.6 66.0L328.2 66.5L328.0 67.0L327.9 67.5L327.8 68.2L327.9 69.0L327.9 69.5L328.1 70.2L328.2 70.8L328.4 71.5L328.4 72.2L328.3 73.0L328.1 73.5L327.8 74.0L327.5 74.5L327.2 74.9L326.9 75.2L326.6 75.8L326.3 76.2L326.1 76.8L326.0 77.5L326.1 78.2L326.3 78.8L326.5 79.2L326.7 79.8L327.0 80.2L327.3 80.8L327.7 81.2L327.9 81.7L328.2 82.2L328.4 82.7L328.7 83.2L328.8 83.8L328.9 84.3L329.1 85.0L329.1 85.8L329.1 86.5L329.0 87.2L328.9 87.8L328.8 88.5L328.6 89.0L328.4 89.5L328.1 90.0L327.8 90.5L327.4 91.0L327.2 91.3L326.8 91.8L326.4 92.1L326.1 92.5L325.7 93.0L325.4 93.4L325.2 93.9L325.0 94.5L324.9 95.0L324.8 95.8L324.8 96.5L324.9 97.2L325.0 97.8L325.1 98.5L325.3 99.0L325.4 99.7L325.6 100.2L325.7 101.0L325.7 101.5L325.7 102.2L325.7 102.8L325.5 103.5L325.3 104.0L325.1 104.5L324.8 105.0L324.4 105.5L324.2 105.8L323.9 106.2L323.6 106.8L323.3 107.2L323.0 107.8L322.7 108.2L322.4 108.7L322.2 109.1L321.9 109.5L321.5 110.0L321.2 110.3L320.8 110.8L320.4 111.0L319.9 111.4L319.4 111.7L318.9 111.9ZM322.0 64.2L322.7 64.1L323.2 63.9L323.7 63.7L324.2 63.5L324.8 63.2L325.2 63.0L325.6 62.5L325.7 62.0L325.7 61.2L325.7 60.8L325.6 60.0L325.5 59.2L325.4 58.8L325.3 58.0L325.3 57.2L325.2 56.5L325.3 55.8L325.4 55.0L325.6 54.5L325.9 54.0L326.1 53.5L326.3 53.0L326.4 52.3L326.5 51.8L326.4 51.2L326.2 50.8L325.9 50.2L325.6 49.8L325.4 49.2L325.1 48.8L324.8 48.2L324.6 47.8L324.3 47.2L324.0 46.8L323.7 46.3L323.4 46.0L322.7 46.0L322.4 46.4L322.2 47.0L322.1 47.5L322.0 48.2L321.9 48.8L321.9 49.5L322.0 50.0L322.2 50.5L322.4 51.0L322.8 51.5L323.1 52.0L323.4 52.5L323.7 52.9L323.9 53.5L324.1 54.0L324.1 54.8L323.9 55.2L323.6 55.8L323.2 56.1L322.7 56.5L322.2 56.8L321.7 57.0L321.2 57.2L320.7 57.5L320.2 57.7L319.7 58.0L319.2 58.2L318.8 58.5L318.4 58.8L317.9 59.2L317.7 59.5L317.2 60.0L316.9 60.4L316.7 60.9L316.5 61.5L316.4 62.0L316.4 62.8L316.6 63.2L316.9 63.5L317.5 63.8L318.2 64.0L318.7 64.1L319.4 64.2L319.9 64.3L320.7 64.4L321.4 64.3L322.0 64.2Z" fill="none" stroke="#c4c4c4" stroke-width="0.45"/>
<path d="M307.5 70.0L306.5 70.3L305.5 70.3L304.7 70.0L304.2 69.7L303.7 69.0L303.3 68.3L302.9 67.9L302.2 67.5L301.5 67.3L300.7 67.0L299.9 66.8L298.9 66.7L298.2 66.6L297.5 66.3L297.0 65.7L296.7 65.0L296.6 64.0L296.7 63.0L296.9 62.3L297.2 61.6L297.5 61.0L297.8 60.0L297.3 59.3L296.5 59.1L295.9 58.8L295.3 58.3L294.9 57.7L294.6 57.0L294.4 56.3L294.3 55.3L294.2 54.6L293.9 53.7L293.7 53.0L293.8 52.0L293.9 51.3L294.2 50.7L294.5 50.0L294.8 49.0L294.9 48.3L295.1 47.3L295.2 46.7L295.4 45.7L295.5 44.7L295.6 44.0L295.7 43.0L295.7 42.0L295.9 41.0L296.1 40.3L296.3 39.7L296.5 39.0L296.9 38.3L297.4 37.7L298.2 37.4L299.2 37.5L299.9 37.9L300.3 38.3L300.8 39.0L301.1 39.7L301.4 40.3L301.7 41.0L301.9 41.7L302.2 42.5L302.3 43.3L302.3 44.3L302.1 45.0L302.1 46.0L302.1 47.0L302.1 48.0L301.8 48.7L301.4 49.3L301.2 50.0L301.1 51.0L301.3 51.7L301.5 52.7L301.5 53.1L301.4 54.0L301.1 54.7L300.9 55.5L300.8 56.3L301.2 56.8L301.9 57.3L302.5 57.7L302.9 58.0L303.5 58.7L303.8 59.3L304.0 60.0L304.2 61.0L304.2 61.7L304.4 62.7L304.9 63.2L305.5 63.5L306.2 63.7L306.9 64.1L307.5 64.5L308.2 64.9L308.7 65.3L309.1 66.0L309.4 66.7L309.5 67.7L309.2 68.4L308.8 69.0L308.2 69.6L307.5 70.0ZM307.2 69.3L306.2 69.6L305.2 69.5L304.5 69.1L304.2 68.6L303.9 67.9L303.4 67.3L302.9 67.0L302.2 66.7L301.4 66.3L300.5 66.1L299.9 65.9L298.9 65.9L298.1 65.7L297.5 65.0L297.4 64.3L297.3 63.3L297.5 62.4L297.9 61.7L298.2 61.1L298.5 60.3L298.3 59.3L297.9 58.7L297.2 58.4L296.5 58.2L295.9 57.8L295.5 57.3L295.1 56.7L295.0 55.7L294.9 54.7L294.6 54.0L294.3 53.3L294.2 52.3L294.5 51.3L294.9 50.7L295.2 50.0L295.3 49.3L295.4 48.3L295.6 47.7L295.9 46.9L296.1 46.0L296.2 45.3L296.4 44.3L296.4 43.3L296.3 42.3L296.4 41.3L296.6 40.7L296.9 39.8L297.1 39.0L297.5 38.4L298.2 38.0L298.7 38.0L299.5 38.3L299.9 38.7L300.3 39.3L300.7 40.0L300.9 40.7L301.0 41.7L300.9 42.4L300.4 43.0L300.5 43.9L300.9 44.3L301.2 45.3L301.3 46.0L301.5 47.0L301.3 48.0L301.0 48.7L300.7 49.3L300.5 50.0L300.4 51.0L300.6 51.7L300.9 52.7L300.8 53.7L300.5 54.3L300.2 55.0L299.9 55.7L299.9 56.6L300.2 57.0L300.9 57.5L301.5 57.8L302.2 58.2L302.7 58.7L303.1 59.3L303.4 60.0L303.5 60.8L303.7 61.7L303.8 62.7L303.9 63.3L304.5 63.9L305.2 64.1L305.9 64.3L306.5 64.8L307.2 65.2L307.9 65.6L308.3 66.0L308.7 66.7L308.7 67.7L308.4 68.3L307.9 68.9L307.2 69.3ZM298.2 43.2L297.3 43.0L297.0 42.3L297.0 41.3L297.2 40.3L297.4 39.7L297.6 39.0L298.2 38.5L299.2 38.7L299.6 39.0L300.0 39.7L300.3 40.3L300.4 41.3L300.0 42.0L299.5 42.3L298.9 42.7L298.2 43.2ZM297.2 57.4L296.4 57.3L295.9 56.8L295.7 56.0L295.8 55.0L295.5 54.3L295.0 53.7L294.7 53.0L294.7 52.0L295.0 51.3L295.4 50.7L295.7 50.0L295.8 49.0L295.9 48.3L296.2 47.5L296.5 46.7L296.7 46.0L296.9 45.3L297.5 44.7L298.2 44.5L299.2 44.7L299.9 44.9L300.3 45.3L300.7 46.0L300.9 46.7L300.9 47.5L300.5 48.3L300.3 49.0L300.1 49.7L299.9 50.6L299.9 51.3L300.1 52.0L300.3 52.7L300.2 53.6L299.9 54.3L299.5 54.8L298.9 55.2L297.9 55.2L297.5 55.7L297.6 56.3L297.5 57.2ZM305.9 69.0L305.2 68.8L304.8 68.3L304.5 67.7L304.1 67.0L303.5 66.6L302.9 66.2L302.2 65.8L301.5 65.6L300.7 65.3L299.9 65.2L298.9 65.1L298.2 64.7L297.9 64.0L297.9 63.0L298.2 62.1L298.5 61.6L299.0 61.0L299.1 60.0L298.9 59.2L298.7 58.3L298.9 57.6L299.9 57.6L300.5 57.9L301.2 58.2L301.9 58.6L302.3 59.0L302.7 59.7L303.0 60.3L303.2 61.3L303.3 62.0L303.3 63.0L303.3 64.0L303.9 64.5L304.9 64.6L305.5 64.9L306.1 65.3L306.6 65.7L307.2 66.0L307.9 66.6L308.0 67.3L307.7 68.0L307.2 68.5L306.5 68.9L305.9 69.0ZM298.9 41.8L297.9 41.8L297.6 41.0L297.8 40.0L298.0 39.3L298.5 39.0L299.2 39.3L299.5 39.7L299.9 40.7L299.5 41.4L298.9 41.8ZM299.2 54.0L298.2 54.1L297.5 53.8L296.5 53.9L295.6 53.7L295.2 53.3L295.0 52.3L295.3 51.7L295.8 51.0L296.0 50.3L296.1 49.3L296.2 48.7L296.5 47.9L296.9 47.3L297.2 46.3L297.5 45.7L298.2 45.4L299.2 45.5L299.9 45.9L300.2 46.4L300.3 47.3L300.1 48.0L299.9 48.7L299.6 49.7L299.4 50.3L299.2 51.3L299.5 52.3L299.6 53.0L299.4 53.7ZM302.2 64.4L301.2 64.6L300.2 64.5L299.2 64.4L298.6 64.0L298.4 63.3L298.5 62.7L298.9 62.0L299.5 61.4L299.8 60.7L299.5 59.7L299.4 59.0L299.9 58.4L300.9 58.6L301.4 59.0L301.9 59.4L302.3 60.0L302.6 60.7L302.7 61.7L302.8 62.7L302.5 63.6L302.2 64.3ZM306.2 67.8L305.8 67.3L306.5 67.3ZM298.9 40.6L298.5 40.0L298.9 40.0ZM296.5 53.1L295.6 53.0L295.5 52.3L295.9 51.7L296.2 51.3L296.5 50.3L296.5 49.3L296.7 48.7L297.1 48.0L297.5 47.4L297.8 46.7L298.2 46.2L299.2 46.3L299.5 46.7L299.5 47.7L299.4 48.3L299.2 49.3L299.0 50.0L298.7 50.7L298.4 51.3L298.0 52.0L297.5 52.3L296.9 52.9ZM300.2 63.7L299.5 63.7L299.2 63.0L299.5 62.5L300.5 62.4L301.2 62.0L301.2 61.4L301.0 60.7L300.8 60.0L301.2 60.0L301.7 60.7L301.9 61.3L302.0 62.3L301.7 63.0L301.2 63.3L300.4 63.7ZM297.9 50.5L297.2 50.3L297.0 49.3L297.3 48.7L297.9 48.3L298.5 48.5L298.7 49.3L298.4 50.0L297.9 50.5Z" fill="none" stroke="#2aaecb" stroke-width="0.55"/>
<path d="M317.2 36.4L316.2 36.5L315.5 36.3L314.8 36.0L314.0 35.7L313.2 35.4L312.5 35.3L311.6 35.0L311.0 34.7L310.5 34.2L310.2 33.7L309.9 32.9L309.5 32.2L309.2 31.5L308.9 30.9L308.3 30.3L307.7 30.0L306.9 29.8L306.0 30.0L305.5 30.6L305.4 31.3L305.3 32.3L305.1 33.0L304.5 33.6L303.9 33.9L302.9 33.8L302.4 33.3L301.9 32.7L301.4 32.3L300.9 31.9L300.3 31.3L300.1 30.7L299.9 29.8L299.9 29.0L300.1 28.3L300.5 27.9L301.2 27.6L302.2 27.6L302.6 27.7L303.2 27.3L303.6 26.7L303.9 26.0L304.2 25.3L304.7 24.7L305.2 24.0L305.5 23.7L306.2 23.3L307.2 23.2L308.2 23.3L309.2 23.2L310.2 23.1L310.9 23.0L311.9 22.8L312.5 22.6L313.4 22.3L314.2 22.2L315.2 22.3L315.9 22.5L316.5 22.9L317.2 23.3L317.5 23.7L318.0 24.3L318.2 25.1L318.4 26.0L318.5 26.8L318.9 27.4L319.4 28.0L319.9 28.4L320.5 29.0L320.9 29.4L321.2 30.3L321.3 31.0L321.3 32.0L321.2 32.7L320.9 33.4L320.4 34.0L319.9 34.5L319.2 34.9L318.7 35.3L318.2 35.8L317.5 36.3ZM317.2 35.4L316.2 35.6L315.2 35.4L314.5 35.2L313.9 34.9L313.2 34.7L312.4 34.3L311.8 34.0L311.2 33.5L310.9 33.0L310.4 32.3L310.1 31.7L309.9 31.0L309.9 30.3L310.2 29.5L310.2 28.9L309.5 28.6L308.5 28.4L307.5 28.5L306.9 28.8L306.2 29.1L305.2 29.3L304.7 29.7L304.6 30.7L304.5 31.7L304.4 32.3L303.9 32.8L303.2 32.6L302.5 32.1L302.0 31.7L301.5 31.3L301.0 30.7L300.8 30.0L300.8 29.0L301.2 28.6L302.2 28.6L302.9 28.8L303.6 28.7L303.9 28.0L304.1 27.0L304.5 26.3L304.9 25.9L305.5 25.3L305.9 24.8L306.2 24.3L306.9 24.0L307.5 24.0L308.5 24.1L309.2 24.0L310.2 23.7L310.9 23.6L311.9 23.5L312.8 23.3L313.5 23.1L314.2 22.9L315.2 23.0L315.9 23.3L316.4 23.7L316.9 24.0L317.4 24.7L317.6 25.3L317.8 26.3L317.9 27.0L318.2 27.8L318.6 28.3L319.2 29.0L319.6 29.3L320.1 30.0L320.4 30.7L320.6 31.3L320.6 32.3L320.3 33.0L319.9 33.4L319.2 33.8L318.5 34.1L318.0 34.7L317.5 35.1ZM316.5 34.8L315.5 34.9L314.7 34.7L313.9 34.3L313.3 34.0L312.8 33.7L312.2 33.0L311.9 32.6L311.2 32.1L310.9 31.7L310.8 30.7L311.2 30.1L311.6 29.7L311.5 28.9L311.0 28.3L310.4 28.0L309.5 27.8L308.9 27.7L307.9 27.5L307.2 27.7L306.5 28.2L305.9 28.6L304.9 28.4L304.6 27.7L304.9 26.8L305.4 26.3L305.9 26.0L306.5 25.5L307.1 25.0L307.9 24.9L308.9 24.7L309.5 24.5L310.2 24.3L311.2 24.1L312.2 24.1L313.2 24.0L313.9 23.7L314.5 23.5L315.3 23.7L315.9 24.0L316.5 24.5L317.0 25.0L317.2 25.7L317.4 26.7L317.5 27.7L317.8 28.3L318.2 28.9L318.5 29.3L319.1 30.0L319.5 30.6L319.9 31.1L320.0 32.0L319.7 32.7L319.0 33.0L318.2 33.3L317.8 33.7L317.2 34.3L316.7 34.7ZM316.2 34.0L315.2 34.1L314.5 33.9L313.9 33.5L313.4 33.0L313.2 32.1L313.0 31.3L313.0 30.3L313.0 29.3L312.5 28.8L312.0 28.3L311.5 28.0L310.9 27.6L310.2 27.3L309.2 27.1L308.5 26.8L308.1 26.3L308.5 25.7L309.1 25.3L309.7 25.0L310.5 24.7L311.2 24.6L312.2 24.6L312.9 24.8L313.9 24.9L314.5 24.5L315.5 24.5L316.2 24.9L316.6 25.3L316.9 26.0L316.9 27.0L317.0 28.0L317.4 28.7L317.8 29.3L318.2 30.0L318.5 30.7L318.8 31.3L318.4 32.0L317.7 32.3L317.2 33.0L316.9 33.4L316.2 34.0ZM305.9 27.8L305.3 27.3L305.9 26.9L306.3 27.3L305.9 27.8ZM315.9 32.8L314.9 32.8L314.5 32.3L314.2 31.5L314.0 30.7L314.2 29.8L314.5 29.3L315.0 28.7L314.8 28.0L313.9 27.8L312.9 28.0L311.9 27.7L311.4 27.3L310.8 27.0L310.2 26.7L309.6 26.0L310.2 25.4L310.9 25.1L311.9 25.1L312.5 25.4L313.2 25.7L314.2 25.7L314.9 25.3L315.5 25.2L316.2 25.6L316.5 26.3L316.3 27.3L316.2 28.0L316.5 28.5L317.0 29.0L317.4 29.7L317.5 30.3L317.4 31.0L316.9 31.6L316.5 32.1L316.0 32.7ZM312.5 27.0L311.9 26.8L311.3 26.3L311.9 26.0L312.5 26.3L312.6 27.0ZM315.5 26.9L315.0 26.3L315.8 26.3ZM315.9 31.4L315.1 31.3L314.8 30.7L314.9 30.0L315.5 29.4L316.2 29.3L316.6 29.7L316.6 30.7L316.2 31.2Z" fill="none" stroke="#1fa37a" stroke-width="0.55"/>
<path d="M307.9 51.8L306.9 51.9L306.2 51.5L305.5 51.2L304.5 51.1L303.9 51.3L302.9 51.4L302.2 51.1L301.5 50.7L301.2 50.3L300.9 49.5L300.8 48.7L300.9 47.8L301.2 47.0L301.5 46.5L302.2 46.0L302.9 45.7L303.4 45.3L303.5 44.7L303.2 44.3L302.4 44.3L301.5 44.6L300.9 44.7L300.2 44.5L299.6 44.0L299.2 43.3L299.4 42.3L299.8 41.7L300.1 41.0L300.3 40.3L300.2 39.7L299.9 38.7L299.7 38.0L299.7 37.0L299.7 36.0L299.6 35.0L299.5 34.3L299.6 33.7L300.1 33.0L300.5 32.5L300.9 32.0L301.2 31.2L301.5 30.6L302.0 30.0L302.6 29.7L303.5 29.3L303.9 29.0L304.4 28.3L304.9 27.9L305.5 27.4L306.2 27.1L306.9 26.7L307.5 26.4L308.2 26.1L309.2 26.3L309.3 27.0L309.2 27.9L309.2 28.5L309.4 29.3L309.6 30.0L310.1 30.7L310.5 31.0L311.2 31.4L311.9 31.7L312.5 32.3L312.9 32.9L313.1 33.7L312.9 34.6L312.7 35.3L312.8 36.3L313.0 37.0L313.3 37.7L313.6 38.3L313.7 39.3L313.5 40.0L313.2 40.8L312.9 41.7L312.5 42.3L312.2 42.8L311.8 43.3L311.7 44.3L311.9 45.3L311.9 45.7L311.5 46.6L311.2 47.1L310.8 47.7L310.5 48.3L310.1 49.0L309.8 49.7L309.4 50.3L308.9 51.0L308.5 51.3L307.9 51.8ZM306.9 50.7L306.2 50.5L305.5 50.2L304.5 50.2L303.9 50.4L302.9 50.5L302.2 50.1L301.8 49.7L301.6 48.7L301.9 47.7L302.2 47.2L302.9 46.7L303.5 46.5L304.2 46.3L304.6 45.7L304.6 44.7L304.3 44.0L303.9 43.5L302.9 43.4L301.9 43.5L300.9 43.6L300.3 43.0L300.5 42.0L300.8 41.3L301.0 40.7L301.1 39.7L300.9 38.7L300.8 38.0L300.9 37.3L301.0 36.3L300.8 35.7L300.5 35.0L300.4 34.0L300.7 33.3L301.2 32.7L301.5 32.3L301.9 31.6L302.2 31.0L302.9 30.5L303.9 30.4L304.5 30.1L304.9 29.4L305.2 28.8L305.8 28.3L306.5 28.0L307.2 28.0L307.9 28.3L308.2 28.8L308.5 29.6L308.8 30.3L309.2 31.0L309.5 31.4L310.2 32.0L310.6 32.3L311.2 32.8L311.6 33.3L311.7 34.3L311.7 35.3L312.0 36.0L312.2 36.7L312.5 37.4L312.9 38.2L313.0 39.0L312.9 39.7L312.5 40.4L312.2 41.2L311.9 41.9L311.5 42.3L311.0 43.0L310.7 43.7L310.7 44.7L310.9 45.7L310.5 46.4L310.2 47.0L309.8 47.7L309.5 48.3L308.9 49.0L308.5 49.5L308.1 50.0L307.5 50.5L306.9 50.7ZM307.2 32.7L306.5 32.6L305.9 32.3L305.2 31.7L305.4 30.7L305.6 30.0L305.9 29.3L306.5 28.9L307.2 29.0L307.8 29.7L308.0 30.3L308.2 31.1L308.2 32.0L307.9 32.5L307.2 32.7ZM306.9 49.7L306.2 49.6L305.5 49.0L304.9 48.7L304.5 48.8L303.9 49.3L303.2 49.6L302.7 49.0L302.9 48.1L303.5 47.7L304.4 48.0L305.2 48.3L305.9 47.7L306.2 47.3L306.4 46.3L306.1 45.7L305.6 45.0L305.3 44.3L305.1 43.7L304.6 43.0L303.9 42.8L302.9 42.7L302.0 42.7L301.5 42.3L301.5 41.5L301.8 40.7L301.9 40.0L302.1 39.0L302.3 38.3L302.5 37.6L302.9 37.0L303.0 36.0L302.4 35.7L301.8 35.3L301.2 34.7L301.1 34.0L301.5 33.3L301.9 32.9L302.5 32.3L303.2 32.3L303.5 32.7L303.9 33.3L304.5 34.0L305.2 34.2L305.9 34.3L306.9 34.4L307.5 34.2L308.2 34.0L308.9 33.6L309.5 33.2L310.2 33.6L310.5 34.3L310.7 35.0L311.1 35.7L311.5 36.3L311.8 37.0L312.1 37.7L312.3 38.3L312.3 39.3L311.9 39.9L311.2 40.1L310.5 39.8L309.9 39.6L309.0 39.7L308.5 40.0L308.5 40.9L309.0 41.3L309.5 41.7L309.7 42.7L309.6 43.7L309.3 44.3L308.9 44.9L308.8 45.7L309.0 46.3L308.9 47.3L308.5 47.9L308.2 48.3L307.8 49.0L307.2 49.6ZM302.9 34.5L302.0 34.3L302.2 33.6L302.9 33.7L302.9 34.5ZM306.2 42.0L305.9 41.3L305.9 40.7L305.6 40.0L305.2 39.4L304.9 38.7L304.8 38.0L305.1 37.3L305.5 36.9L306.2 36.5L306.9 36.1L307.4 35.7L308.1 35.3L308.9 35.3L309.5 35.4L310.2 35.8L310.8 36.3L311.2 36.9L311.5 37.7L311.7 38.3L311.2 39.0L310.6 39.0L309.9 39.0L309.2 39.1L308.2 39.3L307.6 39.7L307.2 40.1L306.9 40.8L306.5 41.6ZM303.5 41.9L302.5 41.7L302.5 41.1L303.2 40.7L303.5 40.9L303.8 41.7ZM306.9 39.1L306.0 39.0L306.2 38.0L306.6 37.7L307.2 37.0L307.5 36.6L308.2 36.2L309.2 36.1L309.9 36.3L310.5 36.9L310.8 37.7L310.5 38.3L309.5 38.6L308.9 38.7L307.9 38.8L307.0 39.0ZM309.5 38.1L308.5 38.2L307.9 37.8L307.9 37.3L308.5 36.8L309.5 36.8L310.0 37.3L309.7 38.0Z" fill="none" stroke="#c2a838" stroke-width="0.55"/>
<path d="M310.2 65.0L309.4 65.0L308.5 64.8L307.9 64.4L307.2 64.1L306.5 64.0L305.8 63.7L305.2 63.1L304.8 62.7L304.2 62.0L303.9 61.5L303.5 61.0L303.1 60.3L302.8 59.7L302.7 58.7L302.9 58.0L303.1 57.0L302.9 56.0L302.8 55.3L302.6 54.3L302.7 53.3L302.9 52.7L303.2 52.0L303.5 51.0L303.8 50.3L304.0 49.7L304.0 48.7L304.1 47.7L304.5 47.0L304.9 46.6L305.5 46.2L306.2 45.9L307.2 45.7L308.2 45.8L309.2 45.9L310.1 46.0L310.9 46.3L311.5 46.5L312.2 46.9L312.6 47.3L312.9 48.2L313.2 49.0L313.5 49.5L313.9 50.1L314.2 50.9L314.5 51.7L314.7 52.3L314.6 53.3L314.7 54.3L315.0 55.0L315.3 55.7L315.6 56.3L315.8 57.3L315.5 58.2L315.2 59.0L314.9 59.7L314.8 60.3L314.7 61.3L314.7 62.3L314.5 63.0L314.0 63.7L313.5 64.2L312.9 64.7L312.2 64.9L311.2 64.9L310.4 65.0ZM316.9 47.1L316.2 47.0L316.4 46.3L317.2 46.3L317.2 46.9ZM325.5 66.4L324.5 66.5L323.9 66.0L323.9 65.4L324.2 64.9L324.9 64.4L325.5 64.2L326.2 64.4L326.6 65.0L326.4 65.7L325.9 66.2ZM310.2 64.4L309.2 64.3L308.5 64.0L308.2 63.7L307.5 63.0L306.9 62.9L306.1 62.7L305.5 62.2L305.0 61.7L304.5 61.0L304.2 60.6L303.8 60.0L303.5 59.3L303.5 58.3L303.7 57.7L303.7 56.7L303.5 55.7L303.5 55.0L303.6 54.3L303.8 53.3L303.9 52.7L304.0 51.7L304.2 51.0L304.6 50.3L304.9 49.7L304.9 48.7L305.1 47.7L305.5 47.2L306.2 46.8L306.9 46.6L307.9 46.6L308.9 46.5L309.9 46.6L310.5 46.9L311.1 47.3L311.5 47.9L311.8 48.7L312.1 49.3L312.5 49.8L313.1 50.3L313.4 51.0L313.6 51.7L313.7 52.7L313.7 53.7L313.9 54.3L314.3 55.0L314.6 55.7L314.9 56.6L314.9 57.3L314.8 58.0L314.5 58.7L314.2 59.5L314.0 60.3L313.9 61.1L313.7 62.0L313.3 62.7L312.9 63.1L312.2 63.6L311.5 64.0L310.9 64.2L310.2 64.4ZM308.2 61.3L308.2 60.6L307.4 60.7L307.6 61.3L308.2 61.3ZM310.5 63.8L309.5 63.9L308.9 63.5L308.6 62.7L308.9 62.0L309.2 61.3L309.3 60.3L308.9 59.7L308.2 59.4L307.5 59.2L306.9 58.9L305.9 59.0L305.2 59.3L304.5 59.4L304.2 58.8L304.2 58.3L304.3 57.3L304.1 56.7L304.0 55.7L304.2 54.7L304.4 54.0L304.6 53.3L304.5 52.3L304.7 51.3L305.2 50.7L305.5 50.2L305.8 49.3L305.9 48.7L306.2 48.0L306.9 47.6L307.5 47.3L308.5 47.1L309.5 47.1L310.2 47.3L310.9 48.0L311.0 48.7L310.9 49.7L310.5 50.2L309.9 50.6L309.4 51.0L309.5 51.8L310.2 52.1L311.1 52.3L311.8 52.7L312.2 53.1L312.6 53.7L313.2 54.3L313.5 54.7L313.9 55.3L314.2 56.0L314.4 57.0L314.2 58.0L313.9 58.7L313.6 59.3L313.4 60.0L313.2 61.0L313.0 61.7L312.5 62.3L312.2 62.7L311.5 63.2L310.9 63.6ZM307.9 50.8L306.9 50.7L306.6 50.0L306.8 49.0L307.2 48.4L307.7 48.0L308.3 47.7L309.2 47.5L309.9 47.7L310.4 48.3L310.3 49.3L309.9 49.7L309.2 50.2L308.5 50.5L307.9 50.8ZM310.5 63.1L309.5 63.2L309.4 62.3L309.7 61.7L309.9 61.0L310.1 60.0L309.9 59.0L309.2 58.7L308.5 58.5L307.7 58.3L306.9 58.2L305.9 58.2L305.2 58.0L304.8 57.3L304.5 56.6L304.4 55.7L304.5 55.0L304.9 54.3L305.3 53.7L305.4 52.7L305.4 51.7L305.9 51.3L306.5 51.7L306.6 52.3L306.9 53.1L307.5 53.4L308.2 53.1L308.9 52.8L309.9 52.8L310.5 53.0L311.2 53.5L311.7 54.0L312.2 54.4L312.9 54.8L313.4 55.3L313.8 56.0L314.0 56.7L313.9 57.6L313.5 58.2L313.2 58.7L312.8 59.3L312.7 60.3L312.6 61.3L312.2 61.9L311.7 62.3L311.2 62.7L310.5 63.1ZM308.5 49.8L307.7 49.7L307.9 48.7L308.2 48.3L309.2 48.0L309.8 48.7L309.4 49.3L308.8 49.7ZM312.5 58.3L311.5 58.6L310.9 58.3L310.2 57.8L309.9 57.3L309.7 56.3L309.5 55.6L308.9 55.1L308.5 54.7L308.6 54.0L309.2 53.5L310.2 53.6L310.7 54.0L311.1 54.7L311.7 55.0L312.5 55.2L313.1 55.7L313.5 56.3L313.5 56.8L313.3 57.7L312.9 58.1ZM306.9 57.4L305.9 57.5L305.2 57.0L304.9 56.3L304.8 55.7L305.1 55.0L305.5 54.5L306.5 54.6L306.9 55.0L307.2 55.7L307.4 56.7L307.0 57.3ZM311.2 61.8L310.5 61.7L310.6 61.0L310.9 60.3L311.9 60.3L312.0 61.0L311.5 61.6ZM305.9 56.7L305.5 56.3L305.5 55.5L306.3 55.7L306.2 56.7ZM312.2 57.7L311.5 57.7L310.9 57.2L310.9 56.5L311.3 56.0L312.2 55.8L312.9 56.2L313.0 57.0L312.5 57.5Z" fill="none" stroke="#e6a02e" stroke-width="0.55"/>
<path d="M315.2 57.0L314.2 57.2L313.5 57.0L312.9 56.4L312.5 55.7L312.4 55.0L312.3 54.0L312.3 53.0L312.3 52.0L312.2 51.3L312.0 50.3L312.0 49.3L312.2 48.6L312.5 48.0L313.0 47.3L313.3 46.7L313.3 45.7L313.1 45.0L312.9 44.0L313.2 43.0L313.5 42.4L313.9 42.0L314.0 41.0L313.8 40.3L313.9 39.3L314.0 38.7L314.3 38.0L314.5 37.3L315.0 36.7L315.4 36.0L315.7 35.3L316.2 34.7L316.8 34.3L317.5 34.2L318.2 34.3L318.9 34.7L319.5 35.3L319.9 35.8L320.3 36.3L320.6 37.0L320.9 37.7L320.9 38.7L320.8 39.3L320.7 40.3L320.7 41.3L320.7 42.3L320.9 43.0L321.2 44.0L320.9 45.0L320.6 45.7L320.3 46.3L319.9 46.8L319.5 47.3L319.5 48.3L319.9 48.7L320.5 49.3L320.5 50.0L320.2 50.5L319.5 50.9L319.0 51.3L318.6 52.0L318.4 52.7L318.2 53.5L317.9 54.3L317.6 55.0L317.2 55.6L316.9 56.0L316.2 56.6L315.5 56.9ZM332.9 48.4L332.2 48.1L332.2 47.3L332.9 47.3L333.2 47.7L333.2 48.3ZM324.2 73.4L323.5 73.0L323.2 72.4L323.1 71.7L323.4 71.0L324.0 70.7L324.5 70.7L325.2 71.3L325.2 72.0L325.0 72.7L324.5 73.3ZM314.9 56.4L313.9 56.3L313.4 56.0L313.1 55.3L313.0 54.3L313.0 53.3L313.1 52.3L313.0 51.3L312.7 50.7L312.6 49.7L312.8 48.7L313.2 48.1L313.5 47.7L313.9 47.0L314.0 46.0L313.9 45.3L313.7 44.3L313.9 43.4L314.2 43.0L314.9 42.3L315.1 41.7L314.8 41.0L314.5 40.3L314.5 39.3L314.8 38.7L315.2 38.1L315.8 37.7L316.2 37.3L316.5 36.4L316.8 35.7L317.2 35.3L318.2 35.3L318.8 35.7L319.2 36.0L319.8 36.7L320.1 37.3L320.3 38.0L320.2 39.0L320.1 39.7L320.0 40.7L320.0 41.7L320.0 42.7L320.2 43.6L320.3 44.3L320.1 45.0L319.8 45.7L319.3 46.3L318.9 47.0L318.7 47.7L318.4 48.3L318.2 49.1L318.2 50.0L318.2 50.7L318.1 51.3L317.9 52.3L317.8 53.0L317.5 53.7L317.2 54.3L316.6 55.0L316.2 55.4L315.6 56.0L315.0 56.3ZM314.5 55.8L313.9 55.5L313.6 54.7L313.5 54.0L313.6 53.3L313.7 52.3L313.8 51.3L313.5 50.7L313.2 49.7L313.4 48.7L313.9 48.1L314.3 47.7L314.5 46.7L314.4 45.7L314.3 44.7L314.5 43.7L314.9 43.3L315.5 42.7L315.9 42.3L315.9 41.5L315.5 41.0L315.1 40.3L315.0 39.3L315.5 38.7L316.0 38.3L316.7 38.0L317.2 37.5L317.5 36.7L317.9 36.3L318.5 36.3L319.2 36.8L319.6 37.3L319.7 38.3L319.5 39.3L319.5 40.0L319.5 41.0L319.5 42.0L319.6 42.7L319.8 43.7L319.8 44.7L319.5 45.3L319.0 46.0L318.6 46.7L318.3 47.3L318.0 48.0L317.6 48.7L317.3 49.3L317.5 50.3L317.6 51.0L317.5 52.0L317.4 52.7L317.2 53.3L316.8 54.0L316.2 54.6L315.7 55.0L315.2 55.4L314.5 55.8ZM316.5 48.4L315.9 48.2L315.4 47.7L315.1 47.0L314.9 46.3L314.8 45.3L314.9 44.6L315.2 43.9L315.9 43.3L316.2 43.0L316.6 42.3L316.6 41.3L316.2 40.9L315.7 40.3L315.5 39.7L315.9 39.0L316.4 38.7L317.2 38.4L317.9 38.0L318.2 37.6L318.9 37.7L319.0 38.7L318.9 39.7L319.0 40.7L319.0 41.7L319.1 42.7L319.3 43.3L319.4 44.3L319.2 45.1L318.8 45.7L318.3 46.3L318.0 47.0L317.7 47.7L317.2 48.1L316.5 48.4ZM314.5 54.7L314.2 54.0L314.2 53.6L314.4 52.7L314.5 51.8L314.6 51.0L314.5 50.3L314.1 49.7L314.2 48.9L314.9 48.6L315.5 48.7L316.2 49.1L316.6 49.7L316.9 50.3L317.2 51.3L317.1 52.3L316.9 53.1L316.4 53.7L315.9 54.1L315.2 54.5L314.5 54.7ZM317.2 47.4L316.2 47.4L315.7 47.0L315.3 46.3L315.2 45.3L315.5 44.5L316.1 44.0L316.5 43.6L316.9 43.0L317.4 42.3L317.7 41.7L317.4 41.0L316.9 40.6L316.2 40.0L316.2 39.6L316.9 39.1L317.9 39.2L318.2 39.7L318.3 40.7L318.1 41.3L318.4 42.0L318.7 42.7L318.9 43.3L319.1 44.3L318.9 45.0L318.3 45.7L317.9 46.3L317.5 47.0L317.2 47.4ZM316.2 53.1L315.2 53.0L315.1 52.3L315.2 51.7L315.5 50.7L316.2 50.6L316.5 51.0L316.7 52.0L316.5 52.7ZM316.9 46.7L316.2 46.7L315.8 46.0L315.9 45.2L316.3 44.7L316.9 44.3L317.3 43.7L317.9 43.1L318.5 43.7L318.6 44.3L318.3 45.0L317.9 45.5L317.4 46.0L317.0 46.7Z" fill="none" stroke="#3c8fd4" stroke-width="0.55"/>
<path d="M331.9 51.4L331.1 51.3L330.2 51.0L329.6 50.7L329.1 50.3L328.5 49.9L328.0 49.3L327.6 48.7L327.2 48.0L327.0 47.3L326.9 46.3L326.7 45.7L326.2 45.0L325.9 44.6L325.5 44.0L324.9 43.3L324.5 43.0L323.9 42.3L323.5 41.8L323.2 41.0L323.1 40.3L323.0 39.3L322.8 38.7L322.6 37.7L322.8 36.7L322.9 36.0L322.9 35.3L322.7 34.3L322.9 33.5L323.2 32.7L323.5 32.1L323.9 31.7L324.5 31.0L324.9 30.4L325.2 29.9L325.7 29.3L326.2 29.0L327.0 28.7L327.9 28.5L328.9 28.3L329.5 28.3L330.2 28.3L331.2 28.4L332.2 28.5L333.0 28.7L333.9 28.9L334.5 29.3L335.0 29.7L335.5 30.3L335.9 30.9L336.2 31.7L336.3 32.3L336.6 33.0L337.1 33.7L337.2 34.3L337.1 35.0L336.8 35.7L336.9 36.4L337.4 37.0L337.8 37.7L337.8 38.7L337.7 39.7L337.4 40.3L337.0 41.0L336.5 41.6L336.2 42.0L335.5 42.6L334.9 43.0L334.4 43.3L333.9 43.7L333.7 44.7L334.0 45.3L334.5 45.9L334.9 46.4L335.1 47.3L334.9 48.1L334.5 48.7L333.9 49.3L333.5 49.9L333.2 50.4L332.7 51.0L332.0 51.3ZM331.5 50.7L330.9 50.6L330.2 50.3L329.5 49.9L328.9 49.3L328.5 48.9L328.2 48.3L327.8 47.7L327.7 46.7L327.7 45.7L327.4 45.0L326.9 44.3L326.5 43.9L326.1 43.3L325.5 42.9L324.9 42.3L324.5 41.9L324.2 41.1L324.0 40.3L323.8 39.7L323.5 38.8L323.4 38.0L323.5 37.0L323.7 36.3L323.7 35.3L323.5 34.5L323.5 33.8L323.8 33.0L324.2 32.5L324.8 32.0L325.2 31.6L325.5 31.0L325.9 30.3L326.5 29.7L327.2 29.5L328.2 29.4L328.9 29.3L329.9 29.2L330.9 29.2L331.6 29.3L332.5 29.4L333.5 29.5L334.2 29.8L334.7 30.3L335.2 31.0L335.3 31.7L335.2 32.3L334.5 33.0L333.9 33.3L333.3 33.7L333.0 34.3L333.5 34.7L334.5 34.8L335.2 35.1L335.3 36.0L335.7 36.7L336.2 37.1L336.8 37.7L337.1 38.3L337.1 39.3L336.9 40.0L336.5 40.7L335.9 41.3L335.5 41.7L334.9 42.2L334.2 42.6L333.5 42.9L333.0 43.3L332.6 44.0L332.8 45.0L333.2 45.7L333.5 46.1L334.0 46.7L334.2 47.3L334.0 48.0L333.6 48.7L333.2 49.2L332.9 49.8L332.4 50.3L331.8 50.7ZM331.9 50.1L330.9 50.1L330.2 49.8L329.7 49.3L329.2 48.8L328.9 48.2L328.5 47.4L328.5 46.7L328.9 46.0L328.9 45.3L328.5 44.8L328.0 44.3L327.5 43.9L327.0 43.3L326.5 42.9L325.9 42.4L325.4 42.0L325.1 41.3L325.0 40.3L324.7 39.7L324.3 39.0L324.1 38.3L324.1 37.3L324.4 36.7L324.6 36.0L324.5 35.0L324.3 34.3L324.5 33.3L324.9 32.9L325.5 32.5L325.9 32.0L326.2 31.3L326.5 30.6L327.2 30.2L328.2 30.1L328.9 29.9L329.9 29.7L330.9 29.8L331.9 30.0L332.4 30.0L333.2 30.0L333.9 30.2L334.3 30.7L334.6 31.3L334.5 32.0L333.9 32.5L333.2 32.7L332.5 33.0L331.9 33.3L331.4 34.0L331.5 34.9L331.9 35.3L332.5 35.7L333.5 35.9L334.2 36.1L334.7 36.7L335.2 37.0L335.9 37.5L336.4 38.0L336.7 38.7L336.5 39.6L336.2 40.2L335.9 40.7L335.2 41.3L334.8 41.7L334.2 42.0L333.3 42.3L332.8 42.7L332.2 43.3L331.9 44.0L331.7 44.7L331.8 45.7L332.2 46.1L332.8 46.7L333.2 47.2L333.2 48.0L332.9 48.7L332.6 49.3L332.2 49.8ZM330.5 44.2L329.5 44.1L328.9 43.9L328.2 43.6L327.5 43.0L327.1 42.7L326.5 42.2L326.1 41.7L326.2 40.9L326.9 40.5L327.9 40.4L328.5 40.3L328.2 39.7L327.6 39.3L327.2 39.0L326.5 38.5L325.9 38.3L325.1 38.0L325.1 37.0L325.4 36.3L325.8 35.7L325.7 34.7L325.7 33.7L326.2 33.1L326.5 32.6L326.8 31.7L327.1 31.0L327.9 30.7L328.5 30.5L329.2 30.3L330.2 30.2L331.0 30.3L331.6 30.7L332.5 30.8L333.2 30.7L333.7 31.0L333.5 31.8L332.5 31.8L331.9 31.6L331.3 32.0L330.8 32.3L330.2 32.8L329.5 33.0L328.5 33.3L327.9 33.6L327.4 34.0L326.9 34.7L326.6 35.3L326.9 36.0L327.9 36.2L328.5 36.0L329.2 35.7L330.0 35.3L330.5 35.4L331.2 35.8L331.9 36.3L332.2 36.7L332.8 37.3L333.5 37.3L334.2 37.3L334.9 37.4L335.5 37.8L336.1 38.3L336.2 39.0L336.1 39.7L335.6 40.3L335.2 40.7L334.5 41.3L333.9 41.6L333.2 41.7L332.5 42.0L332.0 42.7L331.5 43.3L331.2 43.7L330.5 44.2ZM331.9 49.4L330.9 49.6L330.2 49.1L329.9 48.3L330.4 47.7L331.2 47.3L331.9 47.3L332.4 47.7L332.4 48.7L331.9 49.3ZM328.5 32.4L327.7 32.3L327.9 31.5L328.5 31.2L329.2 30.9L330.2 30.8L330.6 31.3L330.2 31.8L329.5 32.1L328.7 32.3ZM330.9 43.1L329.9 43.2L329.1 43.0L328.4 42.7L327.9 42.3L327.9 41.6L328.9 41.5L329.5 41.2L330.0 40.7L330.0 39.7L329.5 39.3L328.9 38.9L328.2 38.6L327.7 38.0L327.9 37.3L328.5 36.8L329.2 36.4L329.9 36.2L330.7 36.3L331.2 36.7L331.5 37.4L331.6 38.3L332.2 38.9L332.9 38.6L333.5 38.2L334.2 37.9L335.1 38.0L335.6 38.3L335.7 39.3L335.3 40.0L334.9 40.5L334.2 40.9L333.5 41.1L332.9 40.9L331.9 41.0L331.8 41.7L331.5 42.3L330.9 43.0ZM329.9 38.0L329.2 37.8L329.4 37.3L330.1 37.3L330.2 37.8ZM333.9 40.3L333.3 40.0L333.2 39.6L333.5 39.0L334.2 38.5L335.1 38.7L335.2 39.3L334.9 39.8L334.2 40.3Z" fill="none" stroke="#36ad45" stroke-width="0.55"/>
<path d="M334.9 63.0L333.9 63.3L332.9 63.2L331.9 63.0L331.2 62.8L330.5 62.5L329.9 62.1L329.2 61.7L328.8 61.3L328.3 60.7L327.9 60.0L327.5 59.5L327.2 58.9L327.1 58.0L327.2 57.2L327.4 56.3L327.6 55.7L327.9 55.0L328.2 54.3L328.6 53.7L329.1 53.0L329.5 52.5L330.1 52.0L330.6 51.7L331.5 51.3L332.2 51.2L333.0 51.0L333.9 50.8L334.9 51.0L335.5 51.3L336.0 51.7L336.5 52.0L337.2 52.4L337.9 52.8L338.3 53.3L338.7 54.0L339.0 54.7L339.3 55.3L339.6 56.0L339.7 57.0L339.5 58.0L339.3 58.7L339.1 59.3L338.9 60.2L338.6 61.0L338.2 61.6L337.8 62.0L337.2 62.4L336.3 62.7L335.5 62.8L334.9 63.0ZM333.9 62.4L333.2 62.3L332.3 62.0L331.5 61.8L330.6 61.7L329.9 61.4L329.4 61.0L328.9 60.3L328.6 59.7L328.3 59.0L328.1 58.3L328.1 57.3L328.2 56.3L328.4 55.7L328.7 55.0L329.1 54.3L329.5 53.7L329.9 53.3L330.5 52.7L330.9 52.3L331.5 52.0L332.5 51.7L333.2 51.5L334.2 51.5L334.9 51.7L335.5 52.2L336.2 52.7L336.7 53.0L337.2 53.3L337.7 54.0L338.1 54.7L338.5 55.3L338.9 56.0L339.0 56.7L338.9 57.4L338.5 58.3L338.4 59.0L338.3 60.0L338.1 60.7L337.7 61.3L337.2 61.8L336.5 62.0L335.5 62.1L334.5 62.3L333.9 62.4ZM336.9 61.4L335.9 61.6L334.9 61.4L333.9 61.5L333.0 61.3L332.2 61.0L331.5 61.0L330.9 61.0L330.2 60.9L329.6 60.3L329.2 59.7L329.1 59.0L328.9 58.0L328.8 57.3L328.8 56.3L329.0 55.7L329.3 55.0L329.8 54.3L330.2 53.8L330.6 53.3L331.2 52.7L331.8 52.3L332.5 52.1L333.2 52.0L334.2 52.0L334.9 52.3L335.3 52.7L335.9 53.3L336.3 53.7L336.9 54.2L337.2 54.7L337.7 55.3L338.2 56.0L338.3 56.7L338.1 57.3L337.5 57.8L337.0 58.3L337.5 59.0L337.8 59.7L337.6 60.7L337.2 61.2ZM331.5 60.0L330.5 60.2L330.0 59.7L329.8 59.0L329.6 58.0L329.5 57.3L329.4 56.3L329.6 55.7L330.1 55.0L330.5 54.3L330.9 53.7L331.2 53.2L331.9 52.7L332.5 52.5L333.5 52.4L334.5 52.7L334.9 53.1L335.4 53.7L335.9 54.2L336.3 54.7L336.8 55.3L337.2 55.9L337.2 56.7L336.5 56.9L335.9 57.1L335.2 57.3L334.5 57.7L333.8 58.0L333.1 58.3L332.5 59.0L332.2 59.5L331.6 60.0ZM336.5 61.1L335.8 61.0L335.2 60.4L335.2 60.0L335.9 59.4L336.5 59.3L337.1 59.7L337.2 60.3L336.9 60.9ZM331.5 58.7L330.7 58.7L330.5 58.0L330.2 57.3L330.1 56.3L330.5 55.7L330.9 55.1L331.1 54.3L331.4 53.7L331.9 53.2L332.5 52.9L333.5 52.8L334.2 53.2L334.6 53.7L335.1 54.3L335.5 54.8L335.9 55.3L335.9 56.2L335.2 56.6L334.5 56.9L333.9 57.3L333.2 57.5L332.5 57.7L331.9 58.3L331.5 58.7ZM334.5 56.1L333.5 56.2L332.9 55.7L332.3 55.3L331.8 55.0L331.8 54.0L332.2 53.5L333.2 53.4L333.9 54.0L334.2 54.4L334.8 55.0L335.0 55.7L334.5 56.1Z" fill="none" stroke="#1ea3a3" stroke-width="0.55"/>
<path d="M353.5 72.0L352.5 72.2L351.5 72.0L350.9 71.8L350.2 71.3L349.8 71.0L348.9 70.8L347.9 70.9L347.0 70.7L346.2 70.4L345.5 70.2L344.5 70.0L343.9 69.7L343.3 69.3L342.9 68.9L342.4 68.3L341.9 67.7L341.3 67.3L340.8 67.0L340.2 66.4L339.9 65.9L339.5 65.3L339.0 64.7L338.5 64.1L338.2 63.7L337.6 63.0L337.2 62.3L336.9 61.8L336.5 61.3L335.9 60.8L335.4 60.3L335.1 59.7L335.2 59.0L335.9 58.5L336.7 58.3L337.5 58.2L338.5 58.0L339.2 57.9L340.0 58.0L340.9 58.3L341.4 58.7L341.9 59.0L342.5 59.5L343.2 59.8L344.2 59.9L344.9 60.0L345.9 60.3L346.5 60.6L347.0 61.0L347.5 61.6L347.9 62.1L348.3 62.7L348.9 63.1L349.5 63.5L350.2 63.8L350.9 64.2L351.3 64.7L351.8 65.3L352.1 66.0L352.5 66.5L353.2 66.8L353.9 67.1L354.5 67.5L355.0 68.0L355.4 68.7L355.7 69.3L355.7 70.3L355.2 71.0L354.7 71.3L354.2 71.7L353.5 72.0ZM353.2 71.4L352.2 71.5L351.5 71.3L350.9 70.9L350.3 70.3L349.9 70.0L349.2 70.0L348.2 70.2L347.2 70.1L346.5 69.9L345.7 69.7L344.9 69.5L344.2 69.2L343.5 68.7L343.2 68.2L342.9 67.5L342.3 67.0L341.8 66.7L341.2 66.2L340.7 65.7L340.5 65.0L340.2 64.3L339.8 63.7L339.4 63.0L339.1 62.3L338.9 61.6L338.3 61.0L337.9 60.6L337.3 60.0L337.5 59.3L338.2 58.9L338.9 58.7L339.8 58.7L340.5 59.0L340.9 59.3L341.4 60.0L341.9 60.6L342.3 60.7L343.2 60.5L344.2 60.5L345.2 60.6L345.9 60.9L346.5 61.3L346.9 61.7L347.3 62.3L347.6 63.0L348.2 63.5L348.9 63.8L349.5 64.1L350.2 64.5L350.8 65.0L351.2 65.6L351.5 66.3L351.9 67.0L352.4 67.3L353.2 67.6L353.9 67.9L354.3 68.3L354.7 69.0L354.8 70.0L354.3 70.7L353.9 71.0L353.2 71.4ZM353.2 70.7L352.2 70.9L351.5 70.7L350.9 70.0L350.5 69.4L349.9 69.1L349.2 69.3L348.4 69.7L347.5 69.7L346.9 69.5L346.2 69.3L345.2 69.1L344.5 68.9L343.9 68.3L343.7 67.7L343.6 66.7L343.2 66.2L342.5 66.0L342.0 65.3L342.3 64.7L342.5 63.8L342.5 63.0L342.5 62.3L342.6 61.7L343.2 61.2L343.9 61.0L344.9 61.0L345.5 61.2L346.2 61.7L346.5 62.1L346.8 63.0L347.2 63.6L347.9 63.9L348.5 64.2L349.2 64.5L349.9 64.8L350.5 65.3L350.8 66.0L351.0 66.7L351.2 67.3L351.9 67.8L352.5 68.0L353.3 68.3L353.9 68.8L354.1 69.7L353.7 70.3L353.2 70.7ZM348.2 69.1L347.2 69.1L346.5 68.8L345.9 68.6L344.9 68.4L344.5 68.0L344.5 67.1L344.9 66.5L345.1 65.7L344.9 64.9L343.9 64.8L343.4 64.3L343.2 63.3L343.2 62.7L343.3 62.0L343.9 61.5L344.9 61.5L345.5 61.8L346.0 62.3L345.9 63.3L345.6 64.0L346.2 64.4L347.2 64.3L348.2 64.5L348.9 64.7L349.5 65.1L350.2 65.7L350.5 66.3L350.4 67.3L350.0 68.0L349.5 68.3L348.9 68.8L348.2 69.1ZM352.9 70.2L351.9 70.1L351.5 69.7L351.5 68.8L352.2 68.6L352.9 68.8L353.3 69.3L353.1 70.0ZM344.9 62.8L344.1 62.7L344.5 62.2L344.9 62.7ZM348.5 68.1L347.5 68.2L346.9 67.7L346.5 67.3L346.2 66.3L346.5 65.6L347.2 65.0L347.9 64.9L348.5 65.0L349.2 65.3L349.9 66.0L350.0 66.7L349.7 67.3L349.2 67.8L348.5 68.1ZM348.9 67.2L347.9 67.0L347.5 66.5L347.5 65.8L348.2 65.5L348.9 65.7L349.4 66.3L349.1 67.0Z" fill="none" stroke="#1b9a5a" stroke-width="0.55"/>
<path d="M361.5 75.4L360.5 75.3L359.9 75.2L359.1 75.0L358.3 74.7L357.8 74.3L356.9 74.0L356.2 73.9L355.5 73.6L355.0 73.0L354.6 72.3L354.2 71.7L353.9 71.0L353.5 70.3L353.3 69.7L353.2 68.7L353.3 67.7L353.0 67.0L352.5 66.5L352.1 66.0L351.9 65.0L352.2 64.3L352.5 63.3L352.4 63.0L351.9 62.6L351.2 62.0L350.9 61.4L350.8 60.7L351.0 60.0L351.4 59.3L351.6 58.7L351.7 57.7L351.9 56.9L352.1 56.0L352.4 55.3L352.7 54.7L352.9 54.0L353.3 53.3L353.9 52.8L354.5 52.6L355.5 52.5L356.2 52.2L356.9 51.7L357.3 51.3L357.9 51.0L358.5 50.6L359.2 50.2L359.9 49.7L360.2 49.3L360.9 48.9L361.5 48.7L362.2 48.7L362.9 49.2L363.3 49.7L363.9 50.3L364.5 50.5L365.5 50.5L366.0 51.0L366.5 51.5L367.0 52.0L367.4 52.7L367.6 53.3L367.9 54.2L368.2 54.9L368.4 55.7L368.5 56.7L368.6 57.3L369.1 58.0L369.5 58.5L369.9 59.3L369.9 59.7L369.9 60.6L370.1 61.3L370.2 62.0L370.2 62.9L369.9 63.7L369.5 64.0L368.9 64.5L368.2 65.0L367.7 65.3L366.9 65.6L366.2 65.8L366.2 66.6L366.5 67.1L367.4 67.3L367.9 67.7L367.9 68.7L367.5 69.2L367.2 69.8L366.9 70.4L366.4 71.0L365.9 71.7L365.5 72.2L365.2 72.7L364.8 73.3L364.4 74.0L363.9 74.7L363.2 75.0L362.5 75.1L361.8 75.3ZM360.9 74.1L359.9 74.0L359.2 73.9L358.4 73.7L357.6 73.3L356.9 73.1L356.2 72.7L355.9 72.3L355.5 71.7L354.9 71.0L354.5 70.6L354.2 70.0L353.9 69.0L354.2 68.0L354.3 67.3L354.0 66.7L353.5 66.2L353.1 65.7L353.0 64.7L353.2 64.0L353.4 63.0L353.2 62.3L352.5 61.8L352.0 61.3L352.2 60.6L352.8 60.0L353.0 59.3L352.9 58.6L352.6 57.7L352.7 56.7L353.0 56.0L353.3 55.3L353.5 54.5L353.9 53.8L354.5 53.4L355.2 53.3L356.1 53.0L356.6 52.7L357.2 52.1L357.7 51.7L358.3 51.3L358.9 51.0L359.5 50.6L360.2 50.2L360.9 49.7L361.5 49.5L362.2 49.7L362.7 50.3L363.0 51.0L363.5 51.7L364.2 51.9L365.2 52.0L365.9 52.3L366.3 52.7L366.6 53.3L366.9 54.0L367.2 54.9L367.5 55.7L367.6 56.3L367.7 57.3L368.0 58.0L368.5 58.6L368.9 59.1L369.1 60.0L369.2 60.9L369.4 61.7L369.4 62.7L369.0 63.3L368.5 63.7L367.9 64.1L367.2 64.4L366.2 64.5L365.2 64.5L364.2 64.5L364.0 65.3L364.3 66.0L364.9 66.5L365.3 67.0L365.6 67.7L365.7 68.7L365.6 69.7L365.4 70.3L365.1 71.0L364.8 71.7L364.5 72.3L363.9 73.0L363.4 73.3L362.5 73.5L361.9 73.7L361.1 74.0ZM363.8 56.7L364.2 56.3L364.5 55.6L364.5 55.0L364.2 54.2L363.9 53.5L363.5 53.0L362.5 52.9L361.9 53.3L361.7 54.0L362.0 54.7L362.3 55.3L362.5 56.3L362.9 56.9L363.8 56.7ZM359.9 73.0L358.9 73.0L358.2 72.7L357.7 72.3L357.4 71.7L357.2 70.7L356.5 70.4L355.9 70.3L355.0 70.0L354.6 69.3L354.7 68.3L355.0 67.7L355.0 66.7L354.5 66.2L354.0 65.7L353.7 65.0L353.7 64.0L353.9 63.3L354.2 62.7L354.9 62.0L355.9 62.2L356.9 62.1L357.5 61.7L357.7 61.0L357.6 60.0L357.2 59.5L356.9 59.0L356.5 58.3L356.3 57.3L356.0 56.7L355.5 56.9L355.2 57.5L354.9 58.1L354.2 58.6L353.7 58.0L353.5 57.3L353.6 56.7L353.9 56.0L354.2 55.2L354.5 54.4L355.2 54.2L356.0 54.0L356.5 53.6L356.9 53.0L357.5 52.3L357.9 52.0L358.5 51.6L359.2 51.3L359.9 51.0L360.6 50.7L361.5 50.5L361.9 51.0L361.9 51.9L361.5 52.4L361.1 53.0L360.8 53.7L360.9 54.5L361.3 55.0L361.7 55.7L361.6 56.7L361.2 57.2L360.5 57.6L360.0 58.0L359.8 58.7L360.2 59.1L360.9 59.5L361.5 59.7L362.2 60.0L362.9 59.7L363.4 59.3L363.9 58.9L364.2 58.1L364.4 57.3L364.8 56.7L365.2 56.2L365.5 55.6L365.9 54.9L366.2 55.4L366.7 56.0L366.9 56.7L367.2 57.7L367.4 58.3L367.9 58.8L368.2 59.3L368.5 60.3L368.6 61.0L368.8 62.0L368.5 62.8L367.9 63.3L367.3 63.7L366.5 63.9L365.5 63.8L364.9 63.6L363.9 63.6L363.4 64.0L363.2 64.7L363.2 65.7L363.5 66.3L363.9 66.7L364.5 67.0L365.0 67.7L365.1 68.7L364.9 69.5L364.5 70.2L364.2 71.0L363.9 71.7L363.5 72.1L362.5 72.3L361.6 72.3L360.9 72.5L360.2 72.9ZM360.5 68.3L360.6 67.7L360.2 67.3L359.4 67.3L359.0 68.0L359.5 68.6L360.5 68.3ZM359.5 54.4L358.5 54.6L357.9 54.3L357.4 53.7L357.5 53.0L358.1 52.3L358.6 52.0L359.4 51.7L360.2 51.5L360.9 51.9L360.8 52.3L360.5 53.0L360.1 53.7L359.6 54.3ZM357.2 69.4L356.2 69.5L355.5 69.3L355.4 68.3L355.7 67.7L356.0 67.0L355.9 66.3L355.2 65.9L354.5 65.4L354.2 65.0L354.1 64.0L354.5 63.3L354.9 62.9L355.9 62.7L356.6 62.7L357.5 62.4L358.0 62.0L358.3 61.3L358.5 60.3L358.2 59.5L357.9 59.0L357.4 58.3L357.3 57.3L357.5 56.7L358.2 56.0L358.8 55.7L359.3 55.3L360.2 55.2L360.8 55.7L360.9 56.2L360.5 56.7L359.9 57.1L359.2 57.6L358.9 58.3L359.1 59.3L359.5 59.7L360.2 60.3L360.5 61.0L360.9 61.4L361.5 61.7L362.5 61.8L363.2 61.4L363.5 60.9L363.9 60.3L364.5 59.8L365.2 59.5L365.9 59.2L366.9 59.2L367.4 59.7L367.6 60.3L367.9 61.0L368.2 62.0L367.8 62.7L367.2 63.1L366.2 63.3L365.2 63.1L364.5 62.9L363.5 62.9L363.1 63.3L362.8 64.0L362.6 65.0L362.5 65.7L362.2 66.4L361.2 66.6L360.3 66.3L359.6 66.3L358.9 66.6L358.3 67.0L358.0 67.7L357.9 68.7L357.5 69.2ZM366.2 58.4L365.5 58.3L365.4 57.3L365.9 57.0L366.3 57.3L366.2 58.3ZM361.9 71.7L360.9 71.8L359.9 71.9L358.9 71.7L358.8 71.0L358.9 70.2L359.3 69.7L360.1 69.3L360.9 69.0L361.5 68.8L362.2 68.4L362.5 68.0L363.2 67.4L364.2 67.6L364.5 68.3L364.2 69.3L363.9 70.0L363.6 70.7L363.2 71.2L362.5 71.6L361.9 71.7ZM359.2 53.8L358.2 53.7L358.1 53.0L358.5 52.5L359.2 52.2L360.0 52.3L359.9 53.1L359.3 53.7ZM365.5 62.0L364.9 61.9L364.9 61.2L365.5 61.6L365.5 62.0ZM358.2 65.7L357.2 65.7L356.5 65.6L355.5 65.4L354.9 65.1L354.5 64.4L354.6 64.0L355.1 63.3L355.9 63.1L356.9 63.1L357.5 63.0L358.2 62.6L358.7 62.0L359.2 61.4L359.9 61.7L360.5 62.1L361.5 62.3L362.2 62.6L362.5 63.3L362.2 64.3L361.9 65.0L361.5 65.4L360.5 65.4L359.9 65.3L359.2 65.3L358.4 65.7ZM361.9 71.1L360.9 71.1L360.2 70.8L360.2 70.1L360.9 69.7L361.5 69.5L362.5 69.6L362.8 70.3L362.2 71.0ZM360.9 64.3L360.2 64.2L359.5 63.9L359.0 63.3L359.5 62.8L360.5 62.8L361.5 63.0L361.7 63.7L361.2 64.3ZM357.2 64.7L356.2 64.9L355.2 64.7L355.1 64.0L355.5 63.7L356.5 63.6L357.3 63.7L358.0 64.0L357.5 64.5Z" fill="none" stroke="#ea6b6e" stroke-width="0.55"/>
<path d="M322.9 94.0L322.2 94.0L321.2 93.8L320.2 93.7L319.2 93.7L318.5 93.6L317.5 93.5L316.5 93.5L315.8 93.3L315.2 92.7L315.0 92.0L314.8 91.3L314.3 90.7L313.9 90.1L313.5 89.4L313.4 88.7L313.4 87.7L313.4 86.7L313.4 85.7L313.4 84.7L313.5 83.7L313.8 83.0L314.1 82.3L314.2 81.7L314.5 80.7L314.9 80.3L315.4 79.7L315.5 79.3L315.1 78.7L314.5 78.3L313.9 78.0L312.9 77.7L312.2 77.4L311.9 77.0L311.6 76.0L311.8 75.0L311.9 74.3L311.6 73.7L311.3 73.0L311.1 72.3L311.1 71.3L311.2 70.7L311.3 69.7L311.3 68.7L311.5 68.0L312.2 67.4L312.9 67.0L313.4 66.7L313.9 66.3L314.7 66.0L315.5 65.8L316.2 65.6L317.2 65.4L318.2 65.4L318.9 65.7L319.5 66.0L320.2 66.3L321.2 66.4L322.2 66.6L322.9 66.8L323.5 67.2L323.9 67.7L324.3 68.3L324.6 69.0L324.9 69.9L325.2 70.5L325.7 71.0L326.2 71.6L326.5 72.1L326.7 73.0L326.5 74.0L326.2 74.5L325.7 75.0L325.2 75.4L324.5 75.7L324.0 76.3L324.2 77.1L324.6 77.7L325.1 78.3L325.5 79.0L325.9 79.6L326.2 80.2L326.6 80.7L327.2 81.2L327.6 81.7L328.0 82.3L328.3 83.0L328.5 83.9L328.5 84.4L328.4 85.3L328.3 86.3L328.3 87.3L328.1 88.0L327.9 88.9L327.6 89.7L327.2 90.2L326.7 90.7L326.1 91.0L325.4 91.3L324.9 91.9L324.6 92.7L324.2 93.3L323.8 93.7L322.9 94.0ZM322.5 93.1L321.5 93.0L320.9 92.9L319.9 93.0L318.9 93.0L317.9 92.7L317.2 92.6L316.3 92.3L315.9 91.7L315.6 91.0L315.2 90.6L314.6 90.0L314.2 89.5L314.0 88.7L314.0 87.7L314.0 86.7L314.0 85.7L313.9 84.7L314.1 83.7L314.4 83.0L314.7 82.3L314.9 81.7L315.2 81.0L315.9 80.4L316.4 80.0L316.7 79.3L316.2 78.8L315.6 78.3L315.2 78.0L314.5 77.5L313.9 77.2L313.0 77.0L312.5 76.6L312.4 75.7L312.6 75.0L312.5 74.0L312.2 73.4L311.9 72.9L311.6 72.0L311.7 71.0L311.9 70.3L312.0 69.3L312.2 68.6L312.9 68.0L313.5 67.7L313.9 67.3L314.5 66.9L315.2 66.6L316.0 66.3L316.8 66.0L317.5 65.9L318.2 66.0L318.9 66.4L319.5 67.0L319.9 67.5L320.2 67.7L321.2 67.4L322.2 67.3L323.1 67.7L323.5 68.1L323.9 68.7L324.2 69.7L324.4 70.3L324.7 71.0L325.2 71.7L325.5 72.1L325.8 73.0L325.5 73.8L324.9 74.2L324.2 74.4L323.2 74.7L322.9 75.1L322.7 76.0L322.9 76.8L323.2 77.4L323.8 78.0L324.2 78.4L324.6 79.0L324.9 79.7L325.1 80.7L325.2 81.3L326.1 81.7L326.7 82.0L327.2 82.5L327.5 83.1L327.8 84.0L327.6 85.0L327.5 85.7L327.5 86.3L327.6 87.3L327.5 88.0L327.2 89.0L326.9 89.6L326.5 90.0L325.9 90.4L324.9 90.7L324.2 90.9L323.7 91.3L323.4 92.0L323.2 92.7L322.5 93.1ZM323.7 83.0L324.3 82.7L324.8 82.0L324.9 81.5L324.2 81.2L323.3 81.3L322.9 82.0L323.2 83.0L323.7 83.0ZM319.2 92.3L318.5 92.3L317.6 92.0L317.0 91.7L316.5 91.1L316.2 90.6L315.5 90.1L315.0 89.7L314.6 89.0L314.5 88.3L314.5 87.3L314.5 86.3L314.4 85.3L314.3 84.3L314.5 83.6L314.9 83.0L315.3 82.3L315.6 81.7L316.2 81.0L316.7 80.7L317.2 80.1L317.4 79.3L316.9 78.7L316.4 78.3L315.9 78.0L315.2 77.4L314.7 77.0L314.2 76.6L313.5 76.3L313.3 75.3L313.5 74.7L313.4 74.0L312.9 73.4L312.5 73.0L312.1 72.3L312.1 71.3L312.4 70.7L312.6 70.0L312.9 69.3L313.9 69.2L314.3 69.7L314.9 70.0L315.1 69.3L314.7 68.7L314.8 67.7L315.2 67.3L315.9 66.9L316.5 66.5L317.2 66.3L317.9 66.3L318.6 66.7L319.1 67.3L319.2 68.3L319.2 69.3L319.5 69.7L320.2 69.4L320.5 68.8L320.9 68.3L321.5 68.0L322.5 67.9L323.1 68.3L323.5 69.0L323.8 69.7L324.0 70.3L324.2 71.0L324.5 71.7L324.8 72.7L324.5 73.3L323.8 73.7L322.9 73.9L321.9 73.9L320.9 73.8L320.5 74.3L320.9 74.7L321.5 75.3L321.8 76.0L322.0 76.7L322.2 77.3L322.7 78.0L323.2 78.5L323.6 79.0L323.5 79.8L322.5 79.9L321.5 80.0L321.4 80.7L321.7 81.3L321.9 82.0L322.0 83.0L322.2 84.0L322.5 84.3L323.5 84.5L324.2 84.1L324.8 83.7L325.5 83.3L326.2 83.3L326.6 83.7L326.6 84.7L326.5 85.3L326.6 86.0L326.9 86.7L327.0 87.7L326.9 88.5L326.5 89.2L326.1 89.7L325.4 90.0L324.5 90.1L323.5 90.1L323.1 90.7L322.7 91.3L322.2 92.0L321.5 92.1L320.5 92.1L319.5 92.3ZM318.6 87.7L319.0 87.0L318.5 86.6L317.9 87.0L317.8 87.7L318.5 87.7ZM318.5 73.7L317.5 73.8L316.5 74.0L315.5 73.8L314.9 73.5L314.2 73.2L313.5 73.0L312.9 72.6L312.6 71.7L312.9 70.9L313.5 70.6L314.2 70.9L314.8 71.3L315.4 71.3L316.0 71.0L316.3 70.3L316.1 69.7L315.8 69.0L315.7 68.0L316.1 67.3L316.5 67.0L317.2 66.7L317.9 66.7L318.5 67.3L318.7 68.0L318.5 68.9L318.4 69.7L318.9 70.3L319.5 70.5L320.5 70.4L320.9 69.8L321.1 69.0L321.5 68.5L322.5 68.5L323.1 69.0L323.4 69.7L323.6 70.3L323.9 71.3L324.1 72.0L323.9 72.9L323.2 73.2L322.2 73.3L321.2 73.1L320.2 73.1L319.5 73.4L318.6 73.7ZM319.2 91.7L318.4 91.7L317.6 91.3L317.2 91.0L316.8 90.3L316.3 89.7L315.7 89.3L315.2 88.9L315.0 88.0L315.0 87.0L314.9 86.0L314.8 85.3L314.6 84.3L314.9 83.7L315.4 83.0L315.9 82.6L316.5 82.0L317.0 81.7L317.5 81.0L317.8 80.3L318.0 79.7L317.9 79.0L317.3 78.3L316.7 78.0L316.1 77.7L315.5 77.1L315.3 76.3L315.9 75.8L316.5 75.6L317.5 75.4L318.2 75.1L318.9 74.9L319.6 75.0L320.2 75.3L320.8 76.0L321.2 76.7L321.4 77.3L321.4 78.3L320.9 79.0L320.5 79.5L320.3 80.3L320.5 81.2L320.9 81.7L321.3 82.3L321.3 83.3L321.3 84.3L321.9 84.8L322.5 85.3L322.9 85.8L323.6 85.7L324.2 85.3L324.9 85.3L325.5 86.0L325.9 86.4L326.3 87.0L326.5 88.0L326.2 88.9L325.7 89.3L324.9 89.5L324.2 89.2L323.9 88.5L323.7 87.7L323.4 87.0L322.9 86.3L322.5 86.6L322.2 87.0L321.8 87.7L321.9 88.6L322.2 89.3L322.4 90.0L322.2 90.7L321.5 91.2L320.8 91.3L319.9 91.6L319.2 91.7ZM317.6 88.7L318.5 88.4L319.2 88.1L319.6 87.7L319.8 86.7L319.4 86.0L318.5 85.8L317.9 86.1L317.3 86.7L316.9 87.3L316.8 88.0L317.1 88.7L317.6 88.7ZM317.2 69.7L316.7 69.3L316.3 68.7L316.4 67.7L316.9 67.2L317.9 67.2L318.2 67.7L318.2 68.4L317.9 69.2L317.4 69.7ZM318.5 73.0L317.5 73.1L316.5 73.2L315.9 72.8L315.9 72.3L316.4 71.7L316.9 71.3L317.5 70.8L318.5 70.8L319.3 71.0L320.2 71.3L321.1 71.0L321.4 70.3L321.5 69.7L322.1 69.0L322.5 69.1L322.9 69.7L323.2 70.7L323.4 71.3L323.4 72.3L322.9 72.8L321.9 72.7L321.2 72.5L320.2 72.5L319.5 72.8L318.8 73.0ZM318.9 80.4L318.8 79.7L318.5 78.8L318.2 78.3L317.5 77.8L316.9 77.5L316.2 77.0L316.2 76.6L316.9 76.2L317.9 76.1L318.5 76.0L319.5 75.9L320.1 76.3L320.5 76.9L320.7 77.7L320.5 78.3L319.9 79.0L319.5 79.5L319.2 80.3ZM316.2 87.1L315.6 86.7L315.4 86.0L315.1 85.3L315.0 84.3L315.3 83.7L315.9 83.3L316.9 83.3L317.5 83.7L318.1 83.7L318.5 83.1L318.9 82.6L319.4 82.0L319.9 82.0L320.5 82.5L320.6 83.3L320.5 84.0L320.2 85.0L319.5 85.1L318.5 85.0L317.8 85.3L317.2 85.9L316.9 86.4L316.3 87.0ZM321.2 86.9L320.5 86.5L320.4 85.7L320.9 85.3L321.5 85.6L321.6 86.3L321.2 86.9ZM325.5 88.7L324.7 88.7L324.4 88.0L324.5 87.2L324.9 87.0L325.5 87.3L325.8 88.3ZM319.5 91.0L318.5 91.1L317.9 90.8L317.5 90.3L317.5 89.6L318.2 89.1L318.9 88.9L319.5 88.6L320.4 88.3L320.9 88.4L321.4 89.0L321.6 89.7L321.4 90.3L320.7 90.7L319.9 90.9ZM317.2 68.7L316.9 68.0L317.5 67.7L317.6 68.3L317.2 68.7ZM322.5 72.0L321.9 71.7L322.5 71.1L322.6 72.0ZM318.9 72.4L317.9 72.4L317.5 72.0L317.9 71.6L318.9 71.6L319.3 72.0L318.9 72.4ZM316.2 85.7L315.7 85.3L315.4 84.7L315.7 84.0L316.5 83.9L316.9 84.3L316.9 85.2L316.4 85.7ZM318.9 90.4L318.3 90.0L318.9 89.6L319.9 89.6L319.7 90.0L319.2 90.3Z" fill="none" stroke="#f28b2a" stroke-width="0.55"/>
<path d="M318.2 111.7L317.2 111.9L316.2 111.8L315.5 111.5L315.0 111.0L314.5 110.5L313.9 110.0L313.3 109.7L312.9 109.0L312.9 108.0L312.5 107.6L311.9 107.2L311.5 106.7L311.2 105.8L311.2 105.0L311.3 104.3L311.4 103.3L311.2 102.7L310.9 102.0L310.9 101.1L311.1 100.3L311.3 99.7L311.4 98.7L311.5 98.0L311.9 97.2L312.3 96.7L312.9 96.2L313.5 95.8L313.9 95.3L314.2 94.7L314.5 93.8L314.9 93.3L315.3 92.7L315.8 92.0L316.2 91.6L316.9 91.2L317.9 91.1L318.9 91.3L319.5 91.4L320.4 91.7L321.1 92.0L321.5 92.4L322.1 93.0L322.3 93.7L322.5 94.4L322.9 95.0L323.4 95.7L323.7 96.3L323.9 97.0L323.9 98.0L323.9 98.7L324.0 99.3L324.4 100.0L324.8 100.7L325.1 101.3L325.2 102.3L325.0 103.3L324.8 104.0L324.2 104.7L323.7 105.0L322.9 105.3L322.4 105.7L322.0 106.3L321.9 107.3L321.8 108.0L321.5 108.7L320.9 109.2L320.4 109.7L320.0 110.3L319.5 111.0L319.1 111.3L318.3 111.7ZM317.9 111.0L316.9 111.0L316.2 110.7L315.7 110.3L315.2 109.7L314.9 109.2L314.7 108.3L314.7 107.3L314.2 106.8L313.5 106.7L312.5 106.4L312.1 106.0L311.9 105.3L311.9 104.7L312.2 103.7L312.2 103.0L311.9 102.3L311.6 101.7L311.6 100.7L311.9 99.7L312.1 99.0L312.2 98.3L312.5 97.6L313.2 97.0L313.9 96.7L314.5 96.5L315.2 96.0L315.2 95.1L315.5 94.3L315.9 93.7L316.2 93.3L316.7 92.7L317.2 92.2L317.9 92.0L318.5 92.0L319.5 92.2L320.2 92.5L320.9 93.0L321.2 93.5L321.4 94.3L321.6 95.0L322.2 95.5L322.7 96.0L323.1 96.7L323.3 97.3L323.2 98.1L323.1 99.0L323.3 99.7L323.8 100.3L324.2 101.0L324.4 101.7L324.4 102.7L324.2 103.4L323.7 104.0L323.2 104.3L322.3 104.7L321.8 105.0L321.4 105.7L321.3 106.7L321.2 107.6L320.9 108.2L320.4 108.7L319.9 109.1L319.5 109.7L319.2 110.3L318.5 110.8L317.9 111.0ZM318.2 110.2L317.2 110.3L316.5 109.9L316.1 109.3L315.8 108.7L315.8 107.7L315.5 106.8L315.0 106.3L314.2 106.1L313.3 106.0L312.7 105.7L312.4 105.0L312.6 104.3L312.9 103.4L312.8 103.0L312.5 102.3L312.1 101.7L312.0 100.7L312.2 100.0L312.5 99.3L312.9 98.4L313.2 97.9L313.9 97.4L314.9 97.4L315.9 97.5L316.4 97.0L316.2 96.1L316.0 95.3L316.2 94.6L316.5 94.0L317.1 93.3L317.5 93.0L318.5 92.7L319.5 92.9L320.1 93.3L320.5 94.0L320.6 94.7L320.9 95.4L321.3 96.0L321.9 96.4L322.5 97.0L322.6 97.7L322.3 98.3L321.7 98.7L321.5 99.3L322.0 99.7L322.6 100.0L323.2 100.5L323.6 101.0L323.8 102.0L323.5 103.0L323.2 103.3L322.2 103.6L321.5 103.7L320.6 104.0L320.7 105.0L320.8 106.0L320.8 107.0L320.5 107.7L319.9 108.3L319.3 108.7L318.9 109.3L318.5 110.0ZM318.2 108.4L317.2 108.3L316.9 107.7L316.6 107.0L316.2 106.4L315.8 106.0L314.9 105.7L314.2 105.6L313.3 105.3L313.1 104.7L313.3 104.0L313.5 103.0L313.1 102.3L312.6 101.7L312.4 101.0L312.5 100.3L312.9 99.7L313.3 99.0L313.8 98.3L314.5 98.1L315.5 98.3L315.9 98.7L315.9 99.6L315.5 100.3L315.5 100.7L316.2 101.2L316.6 100.7L316.6 99.7L317.2 99.0L317.6 98.7L318.0 98.0L317.5 97.4L317.2 96.7L316.9 96.0L316.7 95.3L316.9 94.6L317.3 94.0L317.9 93.6L318.9 93.5L319.5 93.9L319.9 94.5L320.2 95.3L320.4 96.0L320.3 97.0L319.9 97.5L319.2 98.0L319.2 98.4L319.8 99.0L320.2 99.3L320.9 99.9L321.5 100.3L322.2 100.6L322.8 101.0L323.1 101.7L322.9 102.4L322.2 102.8L321.2 102.9L320.2 102.9L319.5 103.1L319.3 104.0L319.6 104.7L320.0 105.3L320.3 106.0L320.3 107.0L319.9 107.6L319.2 107.9L318.5 108.2ZM318.9 97.1L318.2 96.9L317.8 96.3L317.5 95.7L317.5 94.7L318.0 94.3L318.7 94.3L319.2 94.9L319.5 95.6L319.6 96.3L319.2 96.9ZM319.5 107.1L318.5 107.3L317.8 107.0L317.2 106.5L316.8 106.0L316.2 105.4L315.5 105.2L314.5 105.1L313.9 104.7L313.9 104.3L314.2 103.7L314.9 103.3L315.5 103.0L316.2 102.5L316.9 102.2L317.5 101.7L317.4 100.7L317.5 99.9L318.1 99.3L318.9 99.2L319.5 99.4L320.2 100.0L320.5 100.4L321.2 100.9L321.9 101.3L321.9 101.9L321.2 102.1L320.2 102.2L319.2 102.2L318.2 102.3L318.2 102.8L318.5 103.7L318.7 104.3L319.0 105.0L319.5 105.6L319.8 106.3L319.5 107.1ZM314.2 101.8L313.2 101.7L312.9 101.0L313.2 100.1L313.6 99.7L314.5 99.6L314.6 100.3L314.5 101.3L314.2 101.8ZM319.9 101.4L318.9 101.4L318.2 101.0L318.1 100.3L318.5 99.8L319.5 100.0L319.9 100.4L320.0 101.3ZM318.5 106.3L317.9 105.7L317.5 105.1L316.9 104.7L316.5 104.3L316.5 103.6L317.5 103.6L317.8 104.3L317.9 105.0L318.4 105.7L318.5 106.3Z" fill="none" stroke="#9cc23c" stroke-width="0.55"/>
<path d="M299.1 39.6h0m-.2 .3h0m-.3-.2h0m-.3-.5h0m-1.4 3.1h0m.5-.9h0m.3 2.1h0m.3-1.7h0m.4 1.3h0m.8-1.2h0m.7-.9h0m.1 1h0m.1-1.1h0m1.6 1.5h0m-.3 2.6h0m-1.4-.6h0m-1.9 .9h0m-1.4 .3h0m-.5 2.2h0m.5 1.4h0m.1-2h0m.5 1.7h0m.7-2.2h0m.1 2.7h0m.2-2.9h0m0 2.8h0m.2-.8h0m.1-.3h0m.9 1.3h0m.4-1.6h0m.6-.8h0m.7 1.1h0m-1.5 1.9h0m-.1 .5h0m-1.1-.4h0m-.3 .3h0m0 1.5h0m-.9-1.6h0m0 .9h0m-.3-1.2h0m-.2 1.6h0m-1.3-1h0m.1 2.1h0m.1 .7h0m.8-.9h0m1.2 1.3h0m.3 .8h0m.7-2h0m0-.1h0m.2 2.1h0m0-.4h0m.3-.2h0m.1-.1h0m1.1-1.2h0m.2 1.2h0m-.7 1.7h0m-.3 2.7h0m-.4-1.7h0m-1.4 1.5h0m-.3-1.3h0m-.4 1h0m-.6-2h0m0 .2h0m-.3 1.9h0m-.5-2.2h0m3.9 3.6h0m0-.7h0m.3 .2h0m.1 1.7h0m.5-.4h0m.2 1h0m.5-1.9h0m.5 1.6h0m0 .1h0m.1-2.3h0m.1 1.2h0m.4 1.5h0m.8 1.2h0m-.6 1h0m-.2-1.4h0m-.1 .6h0m-.5-.1h0m-.1 .6h0m-1.2-.2h0m-.2 .6h0m0-.7h0m-.3 .3h0m-.7-1h0m-.1-.7h0m-.2 1h0m-.4 1.4h0m-.8-1.2h0m.5 2.4h0m.3 .8h0m2.6-.9h0m.5-.4h0m.5 .4h0m.5-.3h0m.1 2.2h0m1.1-.9h0m1 .3h0m.1-1.7h0m.2 .9h0m.1-.2h0m.9 .3h0m.6 1.3h0m.2 .2h0m.7-1.2h0m.5 .1h0m.6 1.5h0m-.2 .1h0m-.8 1h0m-.8 .6h0m-1.4-1.5h0m0 1.1h0m-.3 .1h0" stroke="#2aaecb" stroke-width="0.95" stroke-linecap="round" opacity="0.85" fill="none"/>
<path d="M304.3 25.0h0m2.2-.7h0m1.1 .7h0m1.7-1h0m1 1.5h0m.7-.6h0m0 .4h0m1.3-.2h0m.4 .4h0m0-.4h0m1-1.6h0m.6 1.5h0m.1-.8h0m.2-.5h0m.3 .4h0m.2-.2h0m.7 .3h0m.9 .1h0m.5 .5h0m.4 3.5h0m-.7-2.3h0m0 .9h0m-.6-1.3h0m0 .6h0m-.2 .7h0m-.5-.3h0m-.4 1h0m-.1 .2h0m0-1.4h0m-.2-.6h0m-.7 2.3h0m-1-.1h0m0-.4h0m-.1-.9h0m0 .2h0m0 .4h0m-.6-.1h0m-.6 .4h0m-.1-.6h0m-.2-.9h0m-.1 .4h0m-.4-.4h0m-.5 1.8h0m-.5-2.3h0m-.4 .9h0m-.2 .3h0m0-.6h0m-.5 .6h0m-.2 .1h0m-.5-.4h0m-.3 .5h0m-1.1-.3h0m-.4 1.3h0m-.6-1.1h0m0 .9h0m0 .4h0m-.3-.8h0m-.1 .1h0m-.4-.5h0m-4.1 2.6h0m.5 1.6h0m0-.1h0m.2-2.1h0m1.5 2.3h0m0-.8h0m.6 0h0m.5-2h0m0 1.4h0m3.4-.4h0m1 .2h0m1.4-.3h0m.2 1.7h0m.9-.3h0m.5 .5h0m.2-1.1h0m.4 .7h0m.3-1.7h0m.7-.5h0m.2 1.6h0m0-.2h0m1.2 0h0m.3 1.1h0m.5-.1h0m0-1.5h0m.3-.9h0m0 1.4h0m.4 1.3h0m.5-.9h0m.1-1.9h0m.2 .1h0m0 .6h0m.2 0h0m.4 1.8h0m.6-.9h0m.7-.5h0m1.2 .3h0m.5-.1h0m-.5 2.3h0m-.2 1.2h0m-.1-1h0m-.2-.1h0m0-.5h0m-.1 2.6h0m-.4-2.2h0m-.7-.2h0m-.6 1.6h0m-.4-.3h0m0-.1h0m-.1-.5h0m-1.1 1.6h0m-.1 .1h0m-.1-2.4h0m-.1 .9h0m-1.5 .7h0m-.4-.9h0m-.2 .7h0m-.5-1.3h0m-.7 2.2h0m-.3-.1h0m-.7-1.7h0m-.1 .5h0m0-1.4h0m-.6 2.5h0m-6.4-1.7h0m-.1 .6h0m-.4-.9h0m-.4 .3h0m-.5 1.8h0m12 .7h0m1-.4h0m.5 1.6h0m1-.8h0m16.5 11h0m-5.7-.2h0m-2.5 .2h0m-12.1-2h0m.1 4.8h0m1.7-2.5h0m-3.2 5.4h0m9 .7h0m9 2h0m2 .7h0m-2.1 .4h0m-9.5 .6h0m7.9 4.7h0m-.7 2.7h0m-4.3 1.9h0m7.6 1.1h0m1.9-2.3h0m1.9 4.3h0m-20.6 1.2h0m7.2 2.5h0" stroke="#1fa37a" stroke-width="0.95" stroke-linecap="round" opacity="0.85" fill="none"/>
<path d="M309.7 26.2h0m-1.1 .6h0m-.1 .9h0m-.9-.3h0m-1.8-1.1h0m-3.3 5.1h0m.7-.5h0m1.5-1.6h0m.5 2.1h0m.6-2.1h0m.6-.6h0m.1 1.5h0m.4-1h0m.2 2.3h0m.2-2h0m.4 1.2h0m5.4 3.5h0m-1-1.2h0m-.2 .7h0m-1.4-.1h0m-.5 .2h0m-.5 .5h0m0-2.2h0m-.3-.5h0m-1 1.2h0m-.7-.2h0m-.5-.8h0m-1.6 .6h0m-.1-.7h0m-1.1 0h0m-1 1.3h0m0 .9h0m-1.1 .1h0m-2 .1h0m.4 2.9h0m1-1.9h0m.7-.5h0m.4 2.3h0m.7-2.3h0m.4 1.7h0m.8 1.1h0m.1 0h0m.3-.4h0m.4-1.3h0m.2-.3h0m.5-.4h0m.6 1.7h0m.1 .1h0m.2-2.1h0m.7 0h0m.3 1.9h0m.1-.6h0m.1-1.2h0m.1 1.5h0m.3-1h0m.8 2.1h0m.1 0h0m.2-1.2h0m.4 1.1h0m.2-.5h0m.2-1.2h0m.3-1h0m.2 2.9h0m.4-1.1h0m.4-.7h0m1.2 3.8h0m-.1-.1h0m-.9 .6h0m-.1-1.7h0m-.2 .3h0m-.4 1.3h0m-.1-1.9h0m-1.2 .2h0m0 .6h0m-.1-.4h0m-.4-.8h0m0 .3h0m-.8 0h0m-.1 .4h0m0 .9h0m-.2-1.5h0m-.1 .5h0m-.2-.5h0m-.3 .1h0m-.2 2.6h0m-.4-.1h0m-.3-2.4h0m-.3 1.3h0m-.2-.6h0m0 .1h0m-.1 .9h0m-1.7-1.3h0m-.1 1.5h0m-.7-1.6h0m-.2 1.1h0m-.3 .7h0m-.2-2.4h0m-.3 .5h0m-.5 2.1h0m-.6 0h0m-.2-2.1h0m-.5-.4h0m0 1.5h0m-1.2 4.2h0m.9-.8h0m.2 .7h0m.8-1.3h0m.1 .4h0m.6 .2h0m.6-1.1h0m.4-.5h0m.1 .6h0m.1 .4h0m0 .7h0m.1-1.8h0m.7 1.1h0m.1-.2h0m1.3 .9h0m.5 .7h0m.1-1.9h0m0 .4h0m.1-.2h0m.1-.3h0m1.3 1.8h0m.1-1.6h0m.3-1h0m.5 1.4h0m.6-.2h0m.1 .5h0m.1-1.2h0m1 2h0m0-1.6h0m.9 .3h0m.1-.7h0m.1 1.2h0m-.5 3.3h0m-.1 .2h0m-.9-1.8h0m0 1.7h0m-1.4 .4h0m-.4-1.9h0m-.8 .1h0m-.1 .3h0m-.1 .5h0m-.4-.8h0m-1.3 .4h0m-.6-1.1h0m-3.3 .3h0m-.1 4.1h0m.5 1h0m.8 .2h0m.9-2h0m.1 .7h0m0 .7h0m.1 .2h0m.7 .4h0m.6-1.4h0m.5 1.4h0m.4-1.9h0m.5-.7h0m.3 2.6h0m.4-2.2h0m0 1.7h0m.1 .2h0m.2-2.2h0m.2 .5h0m1.2 2.1h0m.6-1.1h0m.2-.7h0m-2 3.6h0m-.6-1.1h0m-1.1 .2h0m-2.5 .7h0m-.6-1.2h0m-1.4 .3h0" stroke="#c2a838" stroke-width="0.95" stroke-linecap="round" opacity="0.85" fill="none"/>
<path d="M304.7 48.5h0m.9 .3h0m.2-1.2h0m.3 .5h0m.6 1.3h0m.1-2.2h0m.4-.5h0m.4 2.2h0m.4-1.8h0m.3 2.3h0m.8-.3h0m0-.5h0m.1 .1h0m.1 .2h0m.2-1.1h0m.7-.8h0m.1 1.2h0m0 .7h0m.3-.9h0m1.9 .6h0m.1-1.9h0m3.9 .8h0m1.8-.9h0m-5.3 3.7h0m-.4 .9h0m-.2-.5h0m-.2 1.6h0m-.1-1.2h0m-1.1-.3h0m-.8-.9h0m-1.6 1.6h0m-.3 .6h0m-.4 0h0m-.1-2.1h0m0 .3h0m-.6 .4h0m-1-.2h0m-.1 1.6h0m-.8-.9h0m-.1-.1h0m0 1h0m-.1 .2h0m-1.5 1.3h0m2.1 1.8h0m0-1.1h0m.4 1.1h0m0-2h0m.5 .3h0m.6 1.5h0m.5-.7h0m.3-.5h0m.6 1.4h0m.3-1.4h0m.1 .6h0m.2-.7h0m.7 .9h0m.5-1.9h0m.1 .7h0m.3 1h0m.2 .5h0m.1-1.1h0m.7-.9h0m1 1.7h0m.2 0h0m.9-2.3h0m4.8 2.9h0m.4-.9h0m14.1 3.8h0m-1.2-1h0m-16.7-.2h0m-.9-1.1h0m-.9 1.2h0m-.2 .6h0m-.2-.9h0m-.1-1h0m-.1 .3h0m-1.2 1.5h0m-.1-.6h0m-.1-.9h0m-.1 1h0m-.6-.8h0m-.1 1.5h0m-.1-1.5h0m-.2 1h0m-.4-.3h0m-.5-.5h0m-.8 1.5h0m-.3 .1h0m-.5-.6h0m-.1-.7h0m-.9-.1h0m-.2 .6h0m-.2-.3h0m-.1 .2h0m-.3-.5h0m-.1-.7h0m-.2 .6h0m-.1-1h0m-.2 .3h0m-.5 2.4h0m-.4-1.7h0m-.9 2.1h0m.4 .7h0m.7 .8h0m.4-1.7h0m.1 0h0m2.1 0h0m1.2 .7h0m.4-.8h0m1.4 .6h0m.1 2.3h0m0-.9h0m.1-.2h0m.4 .4h0m.2 .2h0m.2-2.3h0m.3 .4h0m.2 2.1h0m0 .3h0m.6-1.4h0m.2-.6h0m.7 1.4h0m.1-1.7h0m1 .2h0m13.7 .4h0m-14.2 3.3h0m-1.1 .8h0m0-2.1h0m-.7-.1h0m-.4 .3h0m-1.2 .4h0m-.5 .8h0m0-1.3h0m-.4 1h0m-.2-.2h0m0 1.1h0m0 .1h0m-.2-.3h0m-3 0h0m-.5-1.9h0m-.2 0h0m20.5 3h0m1.8 .5h0m5.4 .9h0m-10.3 6h0m6-.1h0m2.5 2h0" stroke="#e6a02e" stroke-width="0.95" stroke-linecap="round" opacity="0.85" fill="none"/>
<path d="M316.8 35.4h0m.3 1.3h0m.8-1.4h0m.5 .9h0m.5 1.1h0m1.1 1.6h0m-1.3 .6h0m-.4-1.9h0m-.1 1.8h0m-.9 .3h0m-2.2-2.1h0m.7 3.3h0m.8 2h0m.7-.7h0m.4-1.3h0m.1 2.3h0m.2-2.4h0m.2 2.6h0m.3 0h0m.1-1.9h0m.2 1.4h0m0-.3h0m.1-1.8h0m.8 .4h0m10.5 1.3h0m2.1-.4h0m-6.2 2.7h0m-6.8 .1h0m-.2 .1h0m-.4 .3h0m-.3-.2h0m-.1-1.1h0m-.3 1.4h0m-.7 .8h0m-.3-.1h0m-.3-1.3h0m-.3-.1h0m-.2 .3h0m-.4 1.3h0m-2.2 2.8h0m.8-.4h0m0 .1h0m.2-.2h0m.6-1.7h0m.8-.1h0m.8 2.7h0m.7-1.3h0m.1-.6h0m3.9-.5h0m10.7 .5h0m1.2 .9h0m-6.1 3.4h0m-7.9-1.6h0m-1.7 .5h0m-.7 .9h0m-.2-.7h0m0 1.4h0m-.6-.1h0m-.3-.7h0m-.2 .2h0m0-2.2h0m-.1 .4h0m-.7 2.4h0m-1.3-1.9h0m-.2-.5h0m.4 3.1h0m.7 1.6h0m.1-.1h0m.6-.3h0m.9-.8h0m.1 .2h0m.2-1h0m.5 1h0m5-.2h0m8.9 4.7h0m-14-2.3h0m-2 .1h0m0 .2h0m-1.2-.3h0m14.5 3.2h0m5.5 .1h0m-1.3 9h0m-4.8 .3h0m-12.3 3.3h0m0 1.7h0m8.8-1.7h0m.5 1.7h0m.3-1.9h0m3.9 .8h0" stroke="#3c8fd4" stroke-width="0.95" stroke-linecap="round" opacity="0.85" fill="none"/>
<path d="M331.9 28.4h0m-5.6 1.9h0m.5 .8h0m.3-.6h0m.1 1h0m.3-.4h0m.1-1.9h0m1.5 1.2h0m.2 1h0m0-2.8h0m.9 2.8h0m.1-.1h0m.5-.9h0m.1 .7h0m.7-.6h0m1.1 .9h0m.5-.4h0m.2-.4h0m.2 .8h0m.1-1.6h0m2.3 4.2h0m-.1-2.3h0m-1.4 .5h0m-.5-.5h0m-.5 1.2h0m-2.6 1.1h0m-.1-2.4h0m-.2 1.7h0m-.2 .5h0m-.7-1.2h0m-.5-.9h0m-.4 .8h0m-.2 1.4h0m-.5-1.8h0m-.4 .4h0m-.3 1.7h0m0-1.1h0m-.5 .7h0m-1-.2h0m-.5-.1h0m-.3-.3h0m0-1.6h0m-.6 1.9h0m-.4 1.1h0m.4 1.3h0m.8 1.4h0m.4-1.1h0m0-.4h0m.2-.7h0m.6-.1h0m.3-.3h0m.1 2.5h0m.7-.8h0m.4-.2h0m1 .3h0m.5 .8h0m.5-2.4h0m.9 .3h0m.5 2.3h0m0-.6h0m.1 .2h0m.3-.3h0m.5-2h0m1.4 1h0m.4 .4h0m2.1 3h0m-.5-.7h0m-.1 .2h0m-.1 1.1h0m-.1-.5h0m-.5-.2h0m-.1 0h0m-.1-.8h0m-.2 .3h0m-.4 1h0m-.8-.1h0m-1 .6h0m-.8-.8h0m-.1 .9h0m-.2-1.3h0m-.3 .6h0m-.6 .3h0m-.7-1.9h0m-1.2 .5h0m-.2 1.1h0m-.3-1.9h0m-.3 1.1h0m-.2 .4h0m-1-1.1h0m-1 1.5h0m-.4 .3h0m-.3-1.4h0m-.1 1.2h0m-.3-1.7h0m-.9 0h0m.2 3.2h0m1.3 1.4h0m.4-.9h0m1.6-.4h0m.2 .5h0m0-.1h0m.8-.3h0m.3 1.2h0m.1-.7h0m.2 1.3h0m.1-.9h0m.7-1.2h0m.3 2.4h0m0-.6h0m.4-2.2h0m1.1 2.1h0m.2 .1h0m.4 0h0m.3-1.9h0m.7 .8h0m.6 1.5h0m.3-2.5h0m.5 .2h0m.1 .5h0m.1-.9h0m.1 1.6h0m1.2-.1h0m-2.4 3.7h0m-.9 0h0m-1.4 0h0m-.1-1.1h0m-.9 .9h0m-1.6-1h0m0 2.6h0m.5-.3h0m.1 .1h0m.3 2.4h0m.3-1.3h0m.1-.8h0m.5 1.7h0m.1 .3h0m.4-1.2h0m.3 .6h0m.8 .1h0m.1 .7h0m.3-1.8h0m.1 1.1h0m0-.7h0m.8 .4h0m1.3-1.1h0m-1.8 3.5h0m-.9-.8h0m-.6 .3h0" stroke="#36ad45" stroke-width="0.95" stroke-linecap="round" opacity="0.85" fill="none"/>
<path d="M328.7 42.4h0m8.4 2.8h0m-4.9 .6h0m-1.9-.3h0m-14.2 1.3h0m.3 1.1h0m2.3 1h0m5.2-.7h0m4.6-1.1h0m3.1 1.8h0m-6.1 .7h0m-13 4.4h0m12.1 1.3h0m4.9-.9h0m.4 .9h0m0-.6h0m.3 .5h0m1.5-1.1h0m.3-.6h0m0 .3h0m.2 .4h0m.1 .5h0m0 .7h0m0-.6h0m.2-1.5h0m.2 .4h0m.8-.7h0m.2 1.3h0m0-1.4h0m.1 1h0m0-.6h0m.5-.7h0m.3 2.6h0m2.1-1h0m.3-.7h0m.6 .9h0m.1-.5h0m1.4 4.5h0m-.5-2h0m-.1 .7h0m-.4 1.1h0m-.1-2h0m-.2 1.1h0m-.7-.8h0m-.1 .1h0m-.3-.4h0m-.1 .1h0m-.6 0h0m-.1-.1h0m-.6-.2h0m-.1-.4h0m-.6 2.6h0m-.4-1.4h0m-.1 1.1h0m-.2-2.1h0m0 .4h0m-.1-.6h0m-.2 1.6h0m-.2-.2h0m-.3 .4h0m-.5-.5h0m0 .4h0m-.3-1.7h0m-.3 2.4h0m-.1 .1h0m-.1-1.1h0m-.7-.5h0m-.2 1.1h0m-.1 0h0m0-.4h0m-.1-.8h0m-.2-.2h0m-.5 .2h0m-.9 .1h0m-.1 .2h0m-.6 1.6h0m-.2-1.4h0m-9.2 .7h0m-3.7 1.1h0m12.6 .1h0m1.4 0h0m.1 .6h0m.4 1.2h0m.6-.9h0m.3-1h0m.2 .6h0m1.5-.4h0m.3 1.8h0m1.1 .3h0m.1-.8h0m.3 .3h0m.9-.9h0m.3 1.7h0m.5-1.7h0m.1 .4h0m.3 1.1h0m0 0h0m.2-.2h0m0 .5h0m.5-1.1h0m.2 .4h0m.1-.5h0m-2.9 2.7h0m-.2-.8h0m-.6-.5h0m-1.5 2.3h0m-.2-2h0m-17.9 4.5h0m13.3-1.2h0m-2.6 3.8h0" stroke="#1ea3a3" stroke-width="0.95" stroke-linecap="round" opacity="0.85" fill="none"/>
<path d="M335.3 59.6h0m.8-.5h0m.3 1.5h0m1.5-1h0m.5 0h0m.9-.2h0m2.1 1.1h0m.5-.9h0m.8 1.5h0m1.8 .4h0m.1-.1h0m3.1 2.1h0m-1.1-.8h0m-.5-.1h0m0-.8h0m0 1.2h0m-.1-.1h0m-1 .9h0m0-1h0m0-1h0m-.3 .8h0m-.2 1.5h0m-.4-2.3h0m-.2 2.1h0m-.1-2.2h0m-.4 1.9h0m-.1-1.1h0m-.1 .4h0m-.2-.5h0m-1.2-.4h0m-1.6 1.4h0m-.1-.8h0m-.3 .7h0m-1.5-1.1h0m-.6-.6h0m-.4 2h0m3.4 1h0m.2 1.3h0m0-.2h0m.9 .9h0m.1-.9h0m.7 .4h0m.3-.4h0m.2 .3h0m.4-1.2h0m2.1 .9h0m.1-1h0m0 1h0m.4 .8h0m.1 .3h0m.6-2h0m.3 2.2h0m.1-.8h0m0-.8h0m.4-.4h0m.1 2.1h0m.4-.9h0m.3-.5h0m0-.5h0m.3 1.4h0m.1-.4h0m.3 .6h0m0 .1h0m0-2.1h0m.1 2.5h0m0-1.3h0m0 .8h0m.1 .1h0m.5 .3h0m.2-.6h0m.3-.9h0m0 .2h0m0 .6h0m.9 .1h0m3.6 3.6h0m-.5-2.3h0m-.3 1.7h0m-.5 .6h0m-.4-.6h0m-.2-1.5h0m-.1 1.3h0m-.8-1.3h0m-.2 1.1h0m-.2-.7h0m0 1.3h0m-.3 .2h0m-.2-2.3h0m-.7 .9h0m0-.2h0m-2 .3h0m0 .4h0m0-1h0m-.3 1.5h0m-.1-1.3h0m-1.4 1h0m-.2-.9h0m-1.1-.2h0m-.3-.5h0m0 1h0m-.4 .1h0m-.2-.5h0m-.3-.6h0m-.9 .2h0m7.8 3.3h0m4.8-.6h0" stroke="#1b9a5a" stroke-width="0.95" stroke-linecap="round" opacity="0.85" fill="none"/>
<path d="M316.7 47.5h0m14.4-.7h0m33.9 4.9h0m-2.4-.3h0m-.5-1.1h0m0-.6h0m-.5 .6h0m-.6 1.3h0m-.3-.4h0m-.2 .7h0m-.2 .2h0m-38.4 1.6h0m32.4 .5h0m.2-.3h0m.6 .9h0m.2-.1h0m1.1-1h0m.5 .6h0m1.1-.6h0m.8-.9h0m0 0h0m.2 .2h0m.1 .4h0m.3 .6h0m.1 0h0m.2-1.4h0m.4 .3h0m0 2.6h0m1.5-.7h0m.2 .7h0m.7-2.9h0m2.1 .1h0m.2 .6h0m.2 .8h0m.4 .6h0m.5 .2h0m.2 .2h0m.2-2h0m.9 2.2h0m-1 1.6h0m-.2 1.2h0m-1.2-.9h0m-2.4 .5h0m-1-2h0m-.5 .4h0m-.1 1.1h0m-.1-.1h0m-.5-1.3h0m-.6 1.2h0m-.7-.4h0m-.1 .6h0m-.3 1h0m-.1-1.8h0m-.5 1.1h0m-.6 .1h0m0 .5h0m-.2-2.2h0m-1.6 1.1h0m-1.3 .2h0m-.6 .9h0m-.1-1.8h0m-.1 .5h0m-17.5-.2h0m-21-.6h0m21.8 3.9h0m14.7 .9h0m.5-2.1h0m3 1.5h0m.2-.2h0m.8-1h0m1.1 2.3h0m.4-2.6h0m.9 1.3h0m.3-1.2h0m.2 .4h0m.7 .9h0m0 1h0m1.6-.6h0m0-.6h0m.3 .5h0m.9-1h0m1.1 1.7h0m.3-2h0m.9 1.8h0m.3-1.5h0m.1-.9h0m.4 2.4h0m.4 .3h0m.2-1h0m1.4 .2h0m.6-.6h0m1.7-.6h0m0 3.4h0m-.3 1.2h0m-.6-2.1h0m-.6 .6h0m-.1-.6h0m-.3 .9h0m-.7 .8h0m-.3-.2h0m-.4-.2h0m-.4-.9h0m-.1 .9h0m-.2 1.2h0m-.6-1.9h0m-.3 .5h0m-.4-.4h0m-.1-.8h0m-.6 1.4h0m-.4-1.2h0m-.9 1.2h0m-.1 0h0m-.2 .1h0m0 .5h0m-.1-.5h0m-.8 .2h0m-.2-1h0m-.2 1.2h0m-.3 .8h0m-.1-1h0m-.5-1.3h0m-.4 0h0m-.2 .7h0m-.1 1.2h0m-1.5-.2h0m-.3 .3h0m-1.3 .1h0m-.1-.8h0m-.3 1.1h0m-.7-2.5h0m0 1.9h0m-.3-.1h0m-.2-1.4h0m-1.7-.5h0m-22.7 2.6h0m-11.5 2.1h0m33.7-1.2h0m1.2 .2h0m1.6-.8h0m.8 1.9h0m1.3 .1h0m.4 .2h0m.2-1.7h0m.3-.6h0m.1 1.3h0m0 1.3h0m1.6-1.7h0m.2 1.2h0m1.1 .1h0m.7-1.3h0m0-1h0m.9 .9h0m.3-.3h0m2.1 .5h0m2.7-.6h0m.1 3.8h0m-2.2 1.1h0m-.5-2h0m-.5 0h0m-.2 1.2h0m-.1-1.2h0m-.5-.3h0m-.1 .3h0m-.1 1.9h0m-1-1.4h0m-.8 1h0m-.3-1.7h0m-.2 2.7h0m-.5-.4h0m-1 .3h0m-.4-.9h0m-.8-1h0m-.2 1.5h0m-.4-.6h0m-.7-.7h0m-.3 1.4h0m-.5-2.1h0m-.2 1.1h0m-.4 .6h0m-.5-.6h0m-.9 1h0m-.4-1.1h0m-27.9-1.1h0m-2.4 .4h0m-1.8 1.3h0m-7.7-.4h0m1.4 2.4h0m1.1-.9h0m3.7 0h0m4.8 .7h0m30-.6h0m.1 1.3h0m.7 .9h0m1.4-1.1h0m.5-.7h0m.1 1.7h0m.4-.7h0m.9-1.6h0m.2 1.5h0m.7-1h0m.6-.5h0m.3 2.7h0m.1-1.9h0m.2-.8h0m.7 .5h0m1.1 1.2h0m1.5-.3h0m2-1.2h0m-3.2 3.7h0m-.4-.6h0m-1.9 .4h0m-2.5 .7h0m-30.4-1.3h0" stroke="#ea6b6e" stroke-width="0.95" stroke-linecap="round" opacity="0.85" fill="none"/>
<path d="M311.6 43.4h0m18.9 2.1h0m4.7 1.5h0m-10.9 4.7h0m-1.8 3.6h0m.3-1.3h0m14.2 3.6h0m-23.2 .1h0m15.5 3.5h0m3.3-.6h0m2.9-1.6h0m-23.8 6.4h0m6.1 2.1h0m0-.7h0m0 .2h0m.1 .5h0m1.8-.1h0m3.5 2.8h0m-.1-2.2h0m-.2 2.2h0m-.2-1h0m-.3-.3h0m-.4 1h0m-.1-.7h0m-1 .6h0m-.4-1h0m-.9 1.3h0m-1-2.2h0m-.5 1.3h0m-.3-.6h0m-.1 1h0m-.3-1.4h0m-.6 .6h0m-.1 .2h0m-.2-.9h0m-3 1.5h0m-.1-.6h0m-.7-.3h0m-.3 .2h0m.4 3h0m.2 .2h0m.2-.7h0m.1 1.5h0m.3-2.1h0m.4 2.7h0m.3-1h0m.7-1.8h0m.7 2.4h0m.1-.5h0m.3-2h0m.6 2.5h0m.2-1.4h0m.5-1h0m.2 1.6h0m.2-.2h0m.9-.4h0m.2 .9h0m0 0h0m.2-1.7h0m.3 1h0m.3 1.2h0m.6-1.1h0m.9 .1h0m.1 .1h0m.9-1.2h0m0 2.1h0m.1-.4h0m.3-.2h0m.2-1.1h0m.2-.5h0m.5 1.5h0m.1-.3h0m.4 .2h0m1.6-.6h0m.5 1.3h0m9.4-1h0m-9.7 1.9h0m-.7 1.8h0m-2.9-.9h0m-.3 .8h0m-1.6-.8h0m-.1 .6h0m-.6 1h0m-1-1.5h0m-.1 1.2h0m-.8 .3h0m-3.1-.2h0m-.4-1.7h0m-.8 1.7h0m-.3 .2h0m2.8 .7h0m.3-.4h0m.1 .4h0m.2 .4h0m.8 0h0m.6 .1h0m0 .7h0m1.6 0h0m.2-.4h0m.3 .8h0m.1 .2h0m.1-2.1h0m.3 1.1h0m.3 0h0m.1 .8h0m.1-1.4h0m1-.1h0m1 1.6h0m.3-.6h0m.3 1.3h0m1-.2h0m2.5 2.8h0m-.7-.1h0m-1.4-1.3h0m-1.3 .2h0m-.7-1.1h0m-.9 2h0m-.3 .2h0m-.8-1.6h0m-1.6 .1h0m0 .5h0m-.1-.7h0m-.4-.7h0m-.3 .2h0m-.3 1.4h0m0-.4h0m-.2 1.4h0m-.7-.1h0m-.8-.1h0m-.8-.4h0m-.9 2.7h0m.2 .7h0m.3-.4h0m.4-.5h0m.4 .7h0m0-1.1h0m.5 1.3h0m.3-1.8h0m.4 .5h0m.6 1.3h0m.8-1.9h0m.1 .7h0m.1 1.5h0m.4-.5h0m.3-1.1h0m.2-1.1h0m.7 1h0m0 1.8h0m.1-2.8h0m1 2.6h0m.2 .2h0m.6-2.5h0m.7 2.6h0m1.5-.7h0m.5 .2h0m.2-1h0m.2-1.1h0m1.3 1h0m-.3 3.3h0m-.5-1.2h0m-.1 1.8h0m-1.3-1.6h0m-.8 .1h0m-.3 1.2h0m-.2 .3h0m-1.8-.8h0m-.2 .7h0m-.1-1.2h0m0-.1h0m-.5 .8h0m-.2-.9h0m-.3 1.5h0m-1.1-2.2h0m-.1 2.8h0m-1-2.8h0m-.9 1.3h0m-.5 .4h0m-.6 .2h0m-.4-1.9h0m-.5 2.1h0m-.9-.5h0m.8 2.3h0m0-.1h0m.7-.6h0m.1 1.1h0m1.2-.6h0m0 .6h0m.1 1.3h0m1.2-.3h0m.1 .1h0m.1-.7h0m0-.9h0m.3 0h0m.3 0h0m.9 1.8h0m.1-1.6h0m.1 .5h0m.4-.7h0m.6-.3h0m.1 1.3h0m.2-.5h0m.7 .4h0m.4 1.1h0m1.9-2.3h0m.3 1.1h0m0-1.6h0m.4 0h0m1 .9h0m-3.3 4.1h0m-1-1h0m-1.2 .3h0m-1.8-.9h0m-1.9-.2h0m-.6 .8h0m-.3 .2h0" stroke="#f28b2a" stroke-width="0.95" stroke-linecap="round" opacity="0.85" fill="none"/>
<path d="M322.0 93.7h0m-1-.5h0m-2.1 .5h0m-.9-1.5h0m-.3-.1h0m-.1 2.2h0m-2.2-.4h0m-1.2 3.6h0m1.6-1.5h0m1.5-1.1h0m0 1h0m.7 .5h0m.1-1.4h0m0 2.1h0m.1-2.4h0m.6 2.5h0m.1-.1h0m.2-2h0m.4 1.5h0m.5 .7h0m0-1.4h0m0-.2h0m.3-1h0m.2 2.6h0m1.6-1.5h0m.2 .5h0m.5 .5h0m.4 2.9h0m-.9-1.9h0m-.2 .8h0m-.3-.1h0m-1.5 1.6h0m-.6 0h0m-.6-.7h0m-.8 .2h0m0-1.7h0m-.1 2.5h0m-.9-.8h0m-.6-.2h0m-.5-1.3h0m-.1 .8h0m-.5-.1h0m-.4 .3h0m-.1 .2h0m-.7-1.6h0m0 2.6h0m-1.4-.8h0m-2.2 2.7h0m2-1.1h0m.1 .2h0m.2-.8h0m0 1.4h0m.2-.6h0m.1 .2h0m.2 1.1h0m0-.1h0m.3-1.9h0m.2 .3h0m.2 .3h0m.4 .1h0m1.1 .3h0m.4 1.2h0m.7-2.2h0m.5 2h0m.2-.8h0m.1-.1h0m.9-.2h0m.2 1.9h0m.1-2.8h0m0 0h0m.7 2.2h0m.3-1.9h0m0 1.4h0m.3-1.1h0m.2 .8h0m.9 .6h0m0 .4h0m.2-1.2h0m.1 .1h0m.3-.3h0m.6-.4h0m.1 0h0m.1 1.3h0m.3-1.8h0m.2 1.2h0m.1 1.1h0m1-1.3h0m-3.2 3h0m-1 1.6h0m-.1-1.5h0m-.2 1.4h0m-1.1-2.2h0m-.1 0h0m-.1 2h0m-.1-.3h0m0 .5h0m-.6 .1h0m-.1-1.6h0m-.2 0h0m-.2-.8h0m-.3 0h0m-.7 1.6h0m-.8-.3h0m-.3 .4h0m-.1-1.2h0m-.5-.4h0m-.1 1.3h0m-.2-.7h0m-.3 .3h0m-.1-1h0m-.3 2.1h0m-.5-.5h0m0 0h0m-.5-.1h0m-.3-.8h0m2.4 3.9h0m.9-1h0m.6 .3h0m.3 1.3h0m.1-2.5h0m0 0h0m.3 2.6h0m.2-.2h0m.2-1.1h0m1.2 .2h0m.1-.3h0m.2 1h0m.2-2h0m.6 .1h0m.4 .5h0m.4-.2h0m.4 .9h0m.3 .2h0m-2.3 2h0m-1.5 .5h0m-1.9-1.1h0" stroke="#9cc23c" stroke-width="0.95" stroke-linecap="round" opacity="0.85" fill="none"/>
<path d="M414.0 112.3L413.2 112.3L412.5 112.4L411.8 112.3L411.0 112.3L410.5 112.2L409.9 112.0L409.3 111.8L408.8 111.5L408.4 111.2L408.0 111.0L407.5 110.5L407.2 110.2L406.8 109.9L406.4 109.5L406.0 109.1L405.7 108.8L405.3 108.2L405.0 107.9L404.7 107.5L404.4 107.0L404.2 106.5L404.0 106.0L403.8 105.2L403.7 104.8L403.6 104.0L403.6 103.2L403.7 102.5L403.8 102.0L403.9 101.2L404.1 100.8L404.2 100.1L404.4 99.5L404.5 99.0L404.6 98.2L404.7 97.5L404.8 97.0L404.8 96.2L405.0 95.5L405.1 95.0L405.2 94.3L405.4 93.8L405.5 93.1L405.6 92.5L405.6 91.8L405.6 91.0L405.6 90.2L405.6 89.5L405.6 88.8L405.7 88.0L405.7 87.2L405.8 86.8L405.9 86.0L406.0 85.5L406.2 84.8L406.3 84.2L406.5 83.7L406.6 83.0L406.5 82.2L406.3 81.8L406.0 81.3L405.7 81.0L405.2 80.5L405.0 80.2L404.5 79.8L404.2 79.5L403.8 79.0L403.5 78.7L403.1 78.2L402.8 77.8L402.5 77.5L402.1 77.0L401.8 76.5L401.5 76.1L401.2 75.6L401.0 75.1L400.8 74.5L400.7 74.0L400.6 73.2L400.7 72.5L400.8 72.0L401.0 71.2L401.1 70.8L401.3 70.2L401.5 69.7L401.7 69.0L401.6 68.2L401.2 67.8L400.8 67.5L400.2 67.3L399.8 67.2L399.0 67.0L398.5 66.9L397.9 66.8L397.2 66.5L396.8 66.4L396.2 66.2L395.7 66.0L395.0 65.8L394.5 65.6L394.0 65.4L393.5 65.2L392.9 65.0L392.4 64.8L391.9 64.5L391.5 64.2L391.0 63.9L390.6 63.5L390.2 63.2L389.9 62.8L389.5 62.2L389.2 61.8L389.0 61.3L388.8 60.8L388.5 60.2L388.3 59.8L388.1 59.2L388.0 58.8L387.8 58.1L387.5 57.5L387.4 57.0L387.2 56.5L387.1 55.8L387.0 55.2L386.9 54.5L386.9 53.8L386.9 53.0L386.9 52.2L386.9 51.5L386.9 50.8L386.9 50.0L386.9 49.2L386.9 48.5L386.9 47.8L387.0 47.0L387.0 46.5L387.1 45.8L387.2 45.0L387.3 44.5L387.5 43.8L387.6 43.2L387.8 42.8L388.0 42.2L388.2 41.7L388.5 41.2L388.8 40.8L389.2 40.2L389.5 39.9L389.8 39.5L390.2 39.0L390.5 38.8L391.0 38.2L391.2 37.9L391.5 37.5L391.8 37.0L392.0 36.2L392.1 35.8L392.2 35.0L392.2 34.2L392.2 33.5L392.3 33.0L392.4 32.2L392.5 31.6L392.7 31.0L392.8 30.5L393.0 30.0L393.3 29.5L393.6 29.0L393.9 28.5L394.2 28.1L394.6 27.8L395.0 27.3L395.3 27.0L395.8 26.6L396.2 26.2L396.5 26.0L397.0 25.6L397.5 25.3L397.9 25.0L398.2 24.7L398.8 24.4L399.2 24.1L399.8 23.8L400.2 23.5L400.7 23.2L401.2 23.0L401.7 22.8L402.2 22.5L402.8 22.3L403.2 22.0L403.8 21.8L404.2 21.7L404.8 21.5L405.5 21.3L406.0 21.2L406.8 21.0L407.2 20.9L408.0 20.8L408.5 20.7L409.2 20.6L409.8 20.5L410.5 20.4L411.2 20.3L412.0 20.3L412.8 20.3L413.5 20.4L414.2 20.5L414.8 20.5L415.5 20.7L416.0 20.8L416.5 21.0L417.1 21.2L417.6 21.5L418.0 21.8L418.5 22.1L419.0 22.5L419.3 22.8L419.7 23.2L420.0 23.6L420.4 24.0L420.8 24.5L421.1 24.8L421.6 25.0L422.2 25.1L423.0 25.1L423.8 25.0L424.5 25.1L425.2 25.1L425.8 25.2L426.5 25.4L427.0 25.6L427.5 25.8L428.0 26.1L428.5 26.4L429.0 26.7L429.4 27.0L429.8 27.3L430.2 27.8L430.5 28.0L431.0 28.5L431.2 28.8L431.7 29.2L432.0 29.6L432.4 30.0L432.8 30.5L433.0 30.8L433.3 31.2L433.5 31.8L433.8 32.2L434.0 32.9L434.1 33.5L434.2 34.2L434.3 34.8L434.4 35.5L434.4 36.2L434.4 37.0L434.5 37.6L434.6 38.2L434.7 39.0L434.8 39.5L434.9 40.2L435.0 41.0L435.0 41.5L435.0 42.2L435.0 42.8L435.0 43.5L434.9 44.2L434.9 45.0L434.9 45.8L435.0 46.3L435.1 47.0L435.3 47.5L435.5 48.2L435.7 48.8L435.9 49.2L436.2 49.8L436.4 50.2L436.7 50.8L437.0 51.2L437.2 51.8L437.5 52.2L437.8 52.7L438.0 53.2L438.2 53.6L438.5 54.0L438.8 54.5L439.2 55.0L439.5 55.3L440.0 55.6L440.5 55.9L441.0 56.1L441.6 56.2L442.2 56.4L442.8 56.6L443.2 56.8L444.0 57.0L444.5 57.1L445.0 57.3L445.8 57.3L446.2 57.1L446.6 56.8L446.9 56.2L447.1 55.8L447.3 55.2L447.6 54.8L447.8 54.2L448.1 53.8L448.4 53.2L448.8 52.8L449.0 52.5L449.5 52.0L449.8 51.8L450.2 51.4L450.8 51.0L451.2 50.8L451.7 50.5L452.2 50.2L452.7 50.0L453.2 49.8L453.8 49.5L454.2 49.3L454.8 49.1L455.2 49.0L456.0 48.8L456.5 48.7L457.2 48.7L458.0 48.7L458.5 48.8L459.2 48.9L459.8 49.0L460.5 49.2L461.0 49.4L461.5 49.6L462.0 49.9L462.5 50.1L463.0 50.5L463.4 50.8L463.8 51.1L464.2 51.5L464.5 51.8L464.9 52.2L465.2 52.7L465.5 53.0L465.9 53.5L466.2 54.0L466.5 54.5L466.7 55.0L467.0 55.5L467.2 56.0L467.4 56.5L467.6 57.0L467.8 57.5L468.0 58.2L468.2 58.8L468.3 59.2L468.4 60.0L468.5 60.7L468.5 61.2L468.5 61.8L468.4 62.5L468.2 63.2L468.1 63.8L468.0 64.4L467.9 65.0L467.8 65.6L467.6 66.2L467.5 66.8L467.3 67.5L467.2 68.0L467.0 68.5L466.8 69.2L466.5 69.7L466.3 70.2L466.0 70.7L465.8 71.1L465.5 71.5L465.1 72.0L464.8 72.4L464.4 72.8L464.0 73.2L463.6 73.5L463.2 73.8L462.8 74.2L462.3 74.5L461.8 74.8L461.4 75.0L460.8 75.2L460.2 75.4L459.8 75.6L459.0 75.8L458.5 75.8L457.8 75.9L457.0 76.0L456.2 76.0L455.5 75.9L454.8 75.9L454.0 75.8L453.5 75.7L452.8 75.6L452.2 75.5L451.5 75.4L450.9 75.2L450.2 75.1L449.8 74.9L449.2 74.8L448.7 74.5L448.2 74.2L447.8 74.0L447.2 73.7L446.8 73.4L446.2 73.1L445.8 72.8L445.2 72.6L444.8 72.3L444.2 72.0L443.8 71.8L443.2 71.6L442.8 71.3L442.2 71.1L441.8 70.9L441.2 70.7L440.6 70.5L440.0 70.3L439.5 70.2L438.8 70.0L438.2 69.9L437.6 69.8L437.0 69.7L436.2 69.7L435.8 69.8L435.0 70.0L434.5 70.2L434.0 70.4L433.5 70.7L433.0 70.9L432.5 71.1L431.9 71.2L431.3 71.5L430.8 71.7L430.2 72.0L429.8 72.2L429.2 72.5L428.8 72.8L428.2 73.0L427.8 73.2L427.2 73.4L426.8 73.6L426.0 73.7L425.5 73.8L424.8 74.0L424.2 74.1L423.8 74.3L423.2 74.7L423.0 75.0L422.8 75.8L422.7 76.2L422.8 77.0L422.8 77.5L423.0 78.1L423.2 78.8L423.4 79.2L423.6 79.8L423.9 80.2L424.1 80.8L424.3 81.2L424.6 81.8L424.8 82.2L425.0 82.8L425.2 83.4L425.5 84.0L425.6 84.5L425.8 85.0L425.9 85.8L426.0 86.5L426.0 87.2L426.0 88.0L425.8 88.8L425.7 89.2L425.5 89.9L425.2 90.4L425.0 90.9L424.8 91.3L424.5 91.8L424.1 92.2L423.8 92.8L423.6 93.2L423.3 93.8L423.2 94.2L423.0 94.9L422.9 95.5L422.8 96.2L422.8 97.0L422.7 97.5L422.7 98.2L422.7 99.0L422.7 99.8L422.7 100.5L422.6 101.2L422.5 101.9L422.4 102.5L422.3 103.2L422.1 103.8L422.0 104.4L421.9 105.0L421.7 105.5L421.5 106.2L421.4 106.8L421.2 107.2L421.0 107.9L420.8 108.4L420.5 108.9L420.2 109.3L419.9 109.8L419.5 110.2L419.2 110.5L418.8 110.9L418.2 111.2L417.8 111.4L417.2 111.6L416.8 111.8L416.0 112.0L415.5 112.1L414.8 112.2L414.1 112.2Z" fill="#ececec" stroke="#9c9c9c" stroke-width="0.55"/>
<path d="M415.0 110.3L414.2 110.4L413.5 110.4L412.8 110.5L412.0 110.5L411.2 110.4L410.7 110.2L410.0 110.0L409.5 109.8L409.1 109.5L408.8 109.2L408.2 108.9L407.8 108.5L407.5 108.2L407.1 107.8L406.8 107.4L406.4 107.0L406.1 106.5L405.8 106.0L405.6 105.5L405.4 105.0L405.3 104.2L405.3 103.5L405.3 102.8L405.5 102.0L405.6 101.5L405.8 100.8L405.9 100.2L406.0 99.8L406.2 99.0L406.2 98.3L406.3 97.8L406.4 97.0L406.5 96.2L406.6 95.8L406.8 95.1L406.9 94.5L407.1 94.0L407.2 93.4L407.4 92.8L407.5 92.2L407.6 91.5L407.6 90.8L407.6 90.0L407.6 89.2L407.6 88.5L407.6 87.8L407.7 87.0L407.8 86.4L407.9 85.8L408.0 85.2L408.2 84.5L408.4 84.0L408.5 83.5L408.6 82.8L408.5 82.0L408.4 81.5L408.1 81.0L407.8 80.6L407.4 80.2L407.0 79.8L406.6 79.5L406.2 79.2L405.8 78.8L405.5 78.4L405.1 78.0L404.8 77.6L404.5 77.2L404.1 76.8L403.8 76.2L403.5 75.8L403.2 75.3L403.0 74.8L402.8 74.2L402.7 73.8L402.7 73.0L402.7 72.2L402.8 71.8L403.0 71.2L403.2 70.6L403.5 70.0L403.7 69.5L403.9 69.0L404.1 68.5L404.3 68.0L404.5 67.2L404.3 66.5L403.9 66.2L403.4 66.0L402.8 65.9L402.0 65.8L401.5 65.7L400.8 65.6L400.0 65.5L399.5 65.4L398.8 65.3L398.2 65.2L397.7 65.0L397.0 64.8L396.5 64.6L396.0 64.4L395.4 64.2L394.8 64.0L394.2 63.9L393.8 63.7L393.2 63.5L392.8 63.2L392.2 62.9L391.8 62.5L391.5 62.2L391.1 61.8L390.8 61.2L390.5 60.8L390.2 60.3L390.0 59.8L389.8 59.2L389.7 58.8L389.5 58.2L389.3 57.5L389.1 57.0L389.0 56.5L388.8 55.8L388.7 55.2L388.6 54.5L388.6 53.8L388.6 53.0L388.5 52.2L388.5 51.5L388.5 51.0L388.4 50.2L388.4 49.5L388.4 48.8L388.4 48.0L388.4 47.2L388.5 46.5L388.5 46.0L388.6 45.2L388.8 44.7L388.9 44.0L389.1 43.5L389.3 43.0L389.6 42.5L389.9 42.0L390.2 41.5L390.5 41.2L390.9 40.8L391.2 40.4L391.7 40.0L392.0 39.7L392.5 39.2L392.8 38.9L393.1 38.5L393.4 38.0L393.6 37.5L393.8 36.8L393.8 36.2L393.9 35.5L393.9 34.8L394.0 34.0L394.0 33.2L394.0 32.8L394.1 32.0L394.2 31.4L394.5 30.8L394.7 30.2L395.0 29.8L395.2 29.3L395.5 29.0L396.0 28.5L396.2 28.2L396.8 27.8L397.2 27.5L397.5 27.2L398.0 26.9L398.5 26.6L399.0 26.3L399.4 26.0L399.8 25.8L400.2 25.5L400.8 25.2L401.2 24.9L401.8 24.6L402.2 24.3L402.7 24.0L403.2 23.8L403.7 23.5L404.2 23.3L404.8 23.1L405.2 22.9L406.0 22.8L406.5 22.6L407.2 22.5L407.8 22.4L408.5 22.3L409.0 22.2L409.8 22.0L410.2 22.0L411.0 21.9L411.8 21.9L412.5 21.9L413.2 21.9L413.8 22.0L414.5 22.2L415.0 22.3L415.7 22.5L416.2 22.7L416.7 23.0L417.1 23.2L417.5 23.6L417.9 24.0L418.2 24.4L418.5 24.8L418.8 25.4L419.0 26.0L419.1 26.5L419.2 27.2L419.4 27.8L419.8 28.2L420.5 28.1L421.0 27.9L421.5 27.7L422.0 27.5L422.5 27.2L423.2 27.0L423.8 26.9L424.5 26.9L425.2 26.9L425.8 27.0L426.5 27.2L427.0 27.5L427.5 27.7L427.9 28.0L428.3 28.2L428.8 28.6L429.2 29.0L429.5 29.3L430.0 29.8L430.2 30.0L430.7 30.5L431.0 30.9L431.3 31.2L431.6 31.8L431.9 32.2L432.1 32.8L432.3 33.2L432.5 33.9L432.6 34.5L432.7 35.2L432.8 35.8L432.9 36.5L432.9 37.2L433.0 37.8L433.1 38.5L433.2 39.2L433.3 39.8L433.4 40.5L433.4 41.2L433.4 42.0L433.3 42.8L433.2 43.2L433.0 44.0L432.9 44.5L432.7 45.0L432.5 45.8L432.4 46.2L432.3 47.0L432.4 47.8L432.5 48.3L432.8 48.9L433.0 49.2L433.5 49.7L433.8 50.0L434.2 50.4L434.5 50.8L435.0 51.2L435.2 51.6L435.6 52.0L435.9 52.5L436.2 53.0L436.5 53.4L436.8 53.9L437.0 54.3L437.3 54.8L437.5 55.2L437.9 55.8L438.2 56.2L438.5 56.5L439.0 56.9L439.5 57.2L440.0 57.4L440.5 57.5L441.2 57.7L441.8 57.8L442.2 58.0L442.9 58.2L443.5 58.5L444.0 58.7L444.5 59.0L445.0 59.2L445.5 59.4L446.0 59.6L446.5 59.8L447.2 59.8L448.0 59.8L448.5 59.5L448.8 59.2L449.1 58.8L449.2 58.0L449.3 57.5L449.4 56.8L449.5 56.2L449.7 55.5L449.9 55.0L450.1 54.5L450.5 54.0L450.8 53.7L451.2 53.2L451.5 53.0L452.0 52.7L452.5 52.4L453.0 52.2L453.5 52.0L454.2 51.8L454.8 51.5L455.2 51.4L455.8 51.2L456.5 51.1L457.1 51.0L457.8 51.0L458.4 51.0L459.0 51.1L459.8 51.2L460.2 51.4L460.8 51.6L461.2 51.8L461.8 52.2L462.2 52.5L462.5 52.8L463.0 53.2L463.2 53.5L463.7 54.0L464.0 54.4L464.2 54.8L464.6 55.2L464.9 55.8L465.1 56.2L465.4 56.8L465.6 57.2L465.8 57.9L465.9 58.5L466.0 59.2L466.0 59.8L466.0 60.5L466.0 61.2L466.0 61.8L465.9 62.5L465.9 63.2L465.8 64.0L465.8 64.6L465.7 65.2L465.6 66.0L465.4 66.5L465.2 67.2L465.1 67.8L464.9 68.2L464.6 68.8L464.4 69.2L464.1 69.8L463.8 70.2L463.5 70.6L463.2 71.0L462.8 71.5L462.5 71.8L462.0 72.2L461.8 72.5L461.2 72.9L460.8 73.2L460.3 73.5L459.8 73.7L459.2 73.9L458.7 74.0L458.0 74.1L457.2 74.2L456.5 74.2L455.8 74.2L455.0 74.1L454.4 74.0L453.8 73.9L453.0 73.8L452.5 73.6L451.8 73.5L451.2 73.4L450.7 73.2L450.0 73.1L449.5 72.9L449.0 72.7L448.5 72.5L448.0 72.2L447.5 72.0L447.0 71.8L446.5 71.5L446.0 71.2L445.5 71.0L445.0 70.8L444.5 70.5L444.0 70.2L443.5 70.0L442.9 69.8L442.4 69.5L441.8 69.3L441.2 69.1L440.8 68.9L440.0 68.8L439.5 68.6L439.0 68.5L438.2 68.3L437.8 68.1L437.1 68.0L436.5 67.9L435.8 67.8L435.0 67.8L434.2 67.9L433.5 68.0L433.0 68.1L432.2 68.2L431.5 68.2L431.0 68.3L430.2 68.4L429.6 68.5L429.1 68.8L428.7 69.0L428.2 69.4L427.9 69.8L427.5 70.2L427.1 70.5L426.8 70.8L426.2 71.0L425.5 71.2L425.0 71.3L424.5 71.2L423.8 71.1L423.1 71.0L422.5 70.9L421.8 71.0L421.4 71.2L421.2 71.8L421.0 72.2L420.9 73.0L420.8 73.8L420.7 74.2L420.7 75.0L420.8 75.5L420.8 76.2L420.9 77.0L421.0 77.5L421.2 78.2L421.3 78.8L421.5 79.3L421.8 79.9L422.0 80.5L422.2 81.0L422.5 81.5L422.8 82.0L423.0 82.5L423.2 83.0L423.5 83.5L423.7 84.0L423.9 84.5L424.1 85.0L424.2 85.7L424.3 86.2L424.4 87.0L424.3 87.8L424.2 88.2L424.0 89.0L423.8 89.5L423.6 90.0L423.3 90.5L423.0 90.9L422.8 91.3L422.5 91.8L422.2 92.2L421.9 92.8L421.7 93.2L421.5 94.0L421.4 94.5L421.3 95.2L421.2 95.8L421.2 96.5L421.1 97.2L421.1 98.0L421.1 98.8L421.0 99.5L421.0 100.0L420.9 100.8L420.8 101.3L420.6 102.0L420.4 102.5L420.2 103.0L420.0 103.8L419.9 104.2L419.7 104.8L419.6 105.5L419.5 106.0L419.3 106.8L419.1 107.2L418.9 107.8L418.6 108.2L418.2 108.7L417.9 109.0L417.5 109.3L417.0 109.6L416.5 109.9L416.0 110.0L415.2 110.2ZM417.0 64.2L417.2 64.0L417.5 63.2L417.7 62.8L418.0 62.3L418.2 62.0L418.8 61.6L419.2 61.2L419.5 60.9L419.8 60.5L420.0 60.0L420.2 59.4L420.5 58.8L420.6 58.2L420.8 57.8L421.0 57.2L421.2 56.5L421.3 56.0L421.3 55.2L421.2 54.8L420.9 54.2L420.6 53.8L420.2 53.3L419.9 53.0L419.5 52.5L419.2 52.2L418.9 51.8L418.5 51.2L418.2 50.9L417.8 50.7L417.5 51.0L417.2 51.7L417.1 52.2L416.9 52.8L416.6 53.2L416.4 53.8L416.1 54.2L415.9 54.8L415.7 55.2L415.6 56.0L415.5 56.7L415.5 57.2L415.4 58.0L415.4 58.8L415.4 59.5L415.4 60.2L415.3 61.0L415.3 61.8L415.2 62.2L415.2 62.9L415.4 63.5L415.8 63.9L416.2 64.2L416.8 64.3ZM422.4 67.2L423.0 67.1L423.5 66.9L424.0 66.5L424.3 66.2L424.5 65.8L424.5 65.2L424.2 64.8L423.8 64.2L423.5 63.9L423.0 63.6L422.5 63.3L422.0 63.0L421.5 62.9L420.8 62.9L420.3 63.2L420.0 63.8L419.8 64.2L419.5 64.7L419.2 65.1L418.9 65.5L419.0 66.2L419.2 66.6L419.7 67.0L420.2 67.2L420.8 67.4L421.5 67.4L422.2 67.3Z" fill="none" stroke="#c4c4c4" stroke-width="0.45"/>
<path d="M396.3 62.8L395.3 62.9L394.3 62.8L393.7 62.7L392.8 62.3L392.3 62.0L391.7 61.3L391.3 60.7L391.1 60.0L390.9 59.3L390.7 58.3L390.5 57.7L390.2 57.0L389.7 56.3L389.3 55.7L389.1 55.0L389.1 54.0L389.2 53.0L389.4 52.3L389.8 51.7L389.8 50.7L389.6 50.0L389.4 49.0L389.6 48.0L389.8 47.3L390.0 46.3L389.7 45.3L389.8 44.3L390.0 43.6L390.3 43.0L390.8 42.3L391.2 41.7L391.6 41.0L392.0 40.5L392.7 40.0L393.3 39.8L394.3 39.8L395.0 40.1L395.6 40.7L396.0 41.1L396.7 41.6L397.2 42.0L397.7 42.5L398.0 43.2L398.1 44.0L397.9 44.7L397.4 45.3L397.0 45.9L396.7 46.7L396.8 47.7L396.7 48.7L396.6 49.3L396.5 50.3L396.5 51.3L396.3 52.3L396.2 53.0L396.0 53.8L395.7 54.7L396.0 55.4L396.7 55.9L397.1 56.3L397.6 57.0L398.0 57.7L398.3 58.2L398.7 58.9L398.9 59.7L398.8 60.7L398.3 61.3L397.9 61.7L397.3 62.1L396.7 62.6ZM396.0 62.1L395.0 62.2L394.0 62.1L393.3 61.9L392.7 61.5L392.2 61.0L391.8 60.3L391.5 59.7L391.4 58.7L391.3 58.0L391.1 57.0L390.7 56.5L390.3 56.0L389.9 55.3L389.8 54.3L390.0 53.5L390.3 53.0L390.9 52.3L391.1 51.7L390.8 51.0L390.4 50.3L390.1 49.7L389.9 49.0L390.0 48.3L390.3 47.5L390.6 46.7L390.4 45.7L390.3 45.0L390.3 44.3L390.7 43.5L391.0 43.0L391.5 42.3L392.0 41.7L392.3 41.2L393.0 40.7L393.7 40.6L394.3 40.8L394.8 41.3L395.3 41.8L396.0 42.1L396.7 42.5L397.2 43.0L397.4 43.7L397.3 44.3L396.8 45.0L396.3 45.4L395.7 46.0L395.7 46.6L395.9 47.3L396.0 48.0L396.0 48.7L395.9 49.7L395.9 50.7L395.8 51.7L395.7 52.4L395.4 53.3L395.1 54.0L394.7 54.6L394.2 55.0L393.7 55.5L393.7 56.1L394.3 56.4L395.0 56.2L396.0 56.3L396.6 56.7L397.0 57.2L397.3 57.7L397.7 58.3L398.1 59.0L398.3 60.0L398.0 60.8L397.4 61.3L396.9 61.7L396.2 62.0ZM392.0 56.4L391.3 56.1L390.8 55.7L390.4 55.0L390.7 54.1L391.2 53.7L391.8 53.3L392.1 52.7L392.0 51.7L391.7 51.1L391.3 50.7L390.7 50.0L390.4 49.3L390.4 48.3L390.7 47.7L391.0 46.7L391.0 46.3L390.7 45.3L390.8 44.3L391.0 43.7L391.5 43.0L392.0 42.4L392.5 42.0L393.0 41.6L393.7 41.7L394.2 42.3L395.0 42.7L395.7 42.8L396.4 43.0L396.8 43.7L396.6 44.3L396.0 44.9L395.3 45.2L394.7 45.6L394.6 46.3L395.0 46.9L395.3 47.5L395.5 48.3L395.4 49.3L395.5 50.3L395.4 51.3L395.2 52.0L395.0 52.9L394.7 53.6L394.2 54.0L393.5 54.3L392.9 54.7L392.5 55.3L392.3 56.0ZM396.3 61.3L395.3 61.6L394.3 61.6L393.3 61.3L392.8 61.0L392.3 60.4L392.0 59.7L391.9 59.0L391.9 58.0L392.0 57.2L392.7 56.8L393.3 57.2L394.0 57.4L394.7 57.2L395.3 56.9L396.0 57.0L396.7 57.7L397.0 58.1L397.4 58.7L397.8 59.3L397.7 60.3L397.3 60.8L396.7 61.2ZM394.0 53.1L393.3 53.0L392.9 52.3L392.7 51.7L392.3 51.0L391.7 50.3L391.3 50.0L390.8 49.3L390.8 48.3L391.1 47.7L391.4 47.0L391.4 46.0L391.1 45.3L391.2 44.3L391.5 43.7L392.0 43.1L392.7 42.7L393.1 42.7L393.7 43.0L394.3 43.3L395.3 43.5L395.8 44.0L395.3 44.4L394.7 44.7L394.0 45.1L393.7 46.0L394.1 46.7L394.6 47.3L394.9 48.0L395.0 49.0L395.0 49.7L395.0 50.7L394.9 51.3L394.7 52.0L394.3 52.7ZM395.3 61.0L394.3 61.1L393.7 60.9L393.0 60.4L392.7 60.0L392.4 59.0L392.7 58.2L393.7 58.3L394.3 58.4L395.0 58.1L395.7 57.8L396.3 58.2L396.8 58.7L397.3 59.3L397.3 60.0L397.0 60.5L396.3 60.8L395.6 61.0ZM394.0 51.6L393.2 51.3L392.7 50.7L392.3 50.3L391.7 49.7L391.3 49.3L391.2 48.3L391.5 47.7L391.8 47.0L392.0 46.0L391.6 45.3L391.6 44.3L392.0 43.8L392.7 43.5L393.3 43.8L393.5 44.7L393.1 45.3L393.0 46.0L393.3 46.6L393.7 47.0L394.2 47.7L394.4 48.3L394.5 49.3L394.6 50.3L394.3 51.2ZM396.3 60.1L395.3 60.3L394.3 60.0L394.5 59.7L395.2 59.3L396.0 59.1L396.7 59.7ZM393.7 50.4L393.0 50.0L392.6 49.7L392.0 49.1L391.8 48.3L392.0 47.7L392.7 47.1L393.3 47.5L393.7 48.1L393.8 49.0L393.8 50.0Z" fill="none" stroke="#2aaecb" stroke-width="0.55"/>
<path d="M414.3 43.4L413.3 43.4L412.7 43.2L412.0 42.9L411.5 42.3L411.1 41.7L410.8 41.0L410.6 40.3L410.3 39.5L410.1 38.7L410.0 37.7L410.0 37.0L409.9 36.0L409.8 35.0L409.8 34.0L410.0 33.3L410.1 32.3L409.7 31.9L409.0 31.6L408.0 31.4L407.3 31.3L406.3 31.2L405.5 31.0L404.8 30.7L404.3 30.3L403.7 29.8L403.3 29.3L403.0 28.6L402.9 27.7L403.0 26.7L403.1 26.0L403.3 25.2L403.7 24.7L404.3 24.2L405.0 23.9L406.0 23.8L407.0 23.8L407.9 23.7L408.7 23.4L409.3 23.1L410.0 23.0L411.0 22.8L412.0 22.8L413.0 22.8L414.0 22.9L414.9 23.0L415.7 23.2L416.3 23.4L417.0 23.7L417.7 24.1L418.2 24.7L418.5 25.3L418.5 26.3L418.4 27.3L418.0 28.0L417.6 28.3L417.0 28.7L416.3 29.1L415.8 29.7L415.4 30.3L415.7 31.2L416.1 31.7L416.7 32.3L417.0 32.9L417.3 33.7L417.5 34.3L417.7 35.0L417.8 36.0L417.8 37.0L417.6 37.7L417.3 38.3L416.9 39.0L416.7 39.9L416.5 40.7L416.2 41.3L415.9 42.0L415.5 42.7L415.0 43.2L414.3 43.4ZM433.7 60.7L433.1 60.3L433.7 59.7L433.7 60.7ZM414.3 42.1L413.3 42.3L412.3 42.0L412.0 41.7L411.6 41.0L411.3 40.3L411.0 39.3L410.9 38.7L410.8 37.7L410.8 36.7L410.7 35.7L410.7 35.0L410.7 34.3L411.0 33.7L411.7 33.1L412.0 32.7L412.2 31.7L411.3 31.6L410.3 31.3L409.7 31.1L409.0 30.9L408.0 30.7L407.3 30.6L406.3 30.5L405.7 30.3L405.0 29.9L404.3 29.4L404.0 28.9L403.7 28.0L403.8 27.0L404.0 26.1L404.3 25.3L404.7 24.9L405.3 24.5L406.3 24.4L407.3 24.5L408.0 24.3L408.7 24.0L409.6 23.7L410.3 23.5L411.3 23.5L412.3 23.5L413.2 23.7L414.0 23.7L415.0 23.7L416.0 24.0L416.7 24.3L417.1 24.7L417.5 25.3L417.5 26.3L417.2 27.0L416.7 27.5L416.2 28.0L415.7 28.7L415.3 29.1L414.9 29.7L414.3 30.3L414.1 31.0L414.7 31.5L415.3 31.9L415.8 32.3L416.3 33.0L416.6 33.7L416.9 34.3L417.0 35.0L417.1 36.0L417.0 37.0L416.8 37.7L416.4 38.3L416.2 39.0L416.0 39.9L415.8 40.7L415.4 41.3L415.0 41.7L414.3 42.1ZM411.3 30.7L410.3 30.7L409.7 30.5L409.0 30.2L408.1 30.0L407.3 30.0L406.3 29.8L405.7 29.6L405.0 29.1L404.7 28.7L404.5 27.7L404.6 26.7L404.8 26.0L405.2 25.3L405.9 25.0L406.7 25.0L407.3 25.0L408.0 24.9L408.7 24.6L409.3 24.3L410.3 24.0L411.3 24.1L412.3 24.3L413.0 24.6L413.7 24.8L414.3 24.5L415.3 24.4L416.1 24.7L416.6 25.3L416.3 26.2L415.7 26.7L415.3 27.1L415.1 28.0L414.8 28.7L414.3 29.2L413.7 29.7L413.0 30.0L412.3 30.2L411.7 30.5ZM414.3 41.1L413.3 41.2L412.5 41.0L412.0 40.4L411.8 39.7L411.6 39.0L411.6 38.0L411.8 37.3L412.7 37.2L413.7 37.3L414.3 37.0L414.4 36.0L414.0 35.4L413.6 35.0L413.1 34.3L413.0 34.0L413.3 33.0L413.7 32.5L414.3 32.2L415.0 32.4L415.7 33.0L416.0 33.5L416.3 34.3L416.4 35.0L416.4 36.0L416.3 36.7L416.0 37.5L415.7 38.0L415.4 39.0L415.4 40.0L415.1 40.7L414.6 41.0ZM411.0 30.0L410.3 30.0L409.7 29.5L409.4 28.7L409.7 28.0L409.8 27.0L409.3 26.6L408.6 26.7L408.1 27.3L407.8 28.0L407.5 28.7L407.0 29.0L406.2 29.0L405.6 28.7L405.3 28.0L405.3 27.0L405.4 26.3L406.0 25.7L406.7 25.6L407.7 25.7L408.7 25.4L409.3 25.0L410.0 24.7L410.7 24.6L411.3 24.7L412.1 25.0L412.7 25.3L413.3 25.8L413.8 26.3L414.1 27.0L414.2 28.0L413.8 28.7L413.3 29.1L412.7 29.4L411.9 29.7L411.0 30.0ZM415.3 35.1L414.7 34.8L414.2 34.3L414.0 33.7L414.3 33.2L415.1 33.3L415.5 34.0L415.4 35.0ZM414.0 40.1L413.0 40.0L412.7 39.7L412.6 38.7L413.0 38.3L413.7 38.4L414.3 39.0L414.5 39.7L414.0 40.1ZM411.7 29.0L411.0 28.9L410.6 28.3L410.6 27.3L410.7 26.7L411.0 25.8L411.7 25.6L412.3 25.8L413.0 26.3L413.3 26.7L413.5 27.7L413.2 28.3L412.7 28.7L411.8 29.0ZM412.3 28.2L411.5 28.0L411.3 27.3L411.5 26.7L412.3 26.4L412.9 27.0L412.7 28.0Z" fill="none" stroke="#1fa37a" stroke-width="0.55"/>
<path d="M402.7 46.1L401.7 46.0L401.0 45.8L400.3 45.4L399.7 45.0L399.1 44.7L398.7 44.3L398.0 43.9L397.3 43.6L396.7 43.2L396.2 42.7L395.9 42.0L395.6 41.3L395.4 40.3L395.3 39.7L395.3 38.7L395.3 38.0L395.3 37.3L395.3 36.3L395.2 35.3L395.0 34.7L394.7 33.7L394.7 33.1L394.8 32.3L395.0 31.5L395.2 30.7L395.7 30.0L396.0 29.6L396.7 29.1L397.3 28.7L397.7 28.3L398.3 27.8L399.0 27.4L399.6 27.0L400.0 26.6L400.7 26.3L401.7 26.2L402.7 26.3L403.3 26.4L404.3 26.5L405.3 26.4L406.0 26.7L406.7 27.3L407.0 27.8L407.3 28.4L407.7 29.2L408.0 30.0L408.1 30.7L408.0 31.7L408.0 32.3L408.0 33.0L408.3 33.8L408.8 34.3L409.3 35.0L409.7 35.6L409.9 36.3L409.7 37.3L409.3 38.0L409.0 38.5L408.6 39.0L408.2 39.7L407.7 40.3L407.3 40.9L407.0 41.5L406.6 42.0L406.2 42.7L405.7 43.3L405.3 43.9L405.0 44.3L404.4 45.0L404.0 45.3L403.3 45.8L402.7 46.1ZM402.7 45.4L401.7 45.4L401.0 45.1L400.3 44.7L399.7 44.3L399.3 44.0L398.7 43.4L398.0 43.1L397.3 42.8L396.9 42.3L396.5 41.7L396.2 41.0L396.1 40.0L396.0 39.0L396.0 38.0L396.1 37.0L396.2 36.0L396.2 35.0L396.0 34.2L395.7 33.3L395.7 32.3L395.7 31.7L395.8 31.0L396.1 30.3L396.7 29.8L397.3 29.4L398.0 29.0L398.4 28.7L399.0 28.3L399.7 28.0L400.3 27.7L401.0 27.3L402.0 27.1L403.0 27.3L403.7 27.7L404.3 27.7L405.0 27.5L405.9 27.7L406.3 28.1L406.7 28.7L407.0 29.5L407.2 30.3L407.2 31.3L407.2 32.3L407.3 33.3L407.5 34.0L408.0 34.5L408.5 35.0L409.0 35.7L409.1 36.3L409.0 37.1L408.6 37.7L408.2 38.3L407.7 39.0L407.3 39.6L407.0 40.2L406.7 40.8L406.3 41.4L405.9 42.0L405.5 42.7L405.1 43.3L404.7 43.9L404.3 44.3L403.7 44.9L403.0 45.3ZM403.0 44.7L402.0 44.9L401.2 44.7L400.6 44.3L400.0 43.8L399.6 43.3L399.0 42.7L398.3 42.5L397.7 42.2L397.1 41.7L396.8 41.0L396.7 40.2L396.6 39.3L396.5 38.3L396.5 37.3L396.6 36.3L396.9 35.7L397.3 35.1L397.9 34.7L398.0 34.3L397.7 33.6L397.0 33.0L396.7 32.6L396.3 32.0L396.3 31.0L396.7 30.4L397.3 30.0L398.0 29.7L398.7 29.3L399.3 29.0L400.0 28.9L400.7 28.7L401.3 28.3L402.3 28.1L403.0 28.5L403.5 29.0L404.3 29.0L404.7 28.7L405.7 28.5L406.1 29.0L406.4 29.7L406.5 30.7L406.4 31.7L406.4 32.7L406.5 33.7L406.7 34.3L407.3 34.9L407.9 35.3L408.3 35.9L408.3 36.7L408.0 37.2L407.5 37.7L407.0 38.3L406.8 39.0L406.6 39.7L406.3 40.4L406.0 41.1L405.6 41.7L405.2 42.3L404.8 43.0L404.3 43.6L404.0 44.0L403.3 44.5ZM401.2 37.3L401.4 36.7L401.0 36.3L400.0 36.3L400.3 37.2L401.0 37.4ZM403.7 35.1L402.7 35.1L401.7 35.2L400.7 35.2L400.0 34.8L399.5 34.3L399.0 33.8L398.6 33.3L398.0 32.8L397.4 32.3L397.0 31.9L396.9 31.0L397.3 30.5L398.0 30.2L399.0 30.0L399.7 29.9L400.7 29.8L401.7 29.8L402.7 29.9L403.3 30.2L404.0 30.5L404.7 31.0L404.7 31.7L404.6 32.3L404.3 33.0L404.1 34.0L404.0 34.9ZM399.3 41.7L398.3 41.8L397.7 41.4L397.3 40.9L397.1 40.0L397.0 39.1L396.9 38.3L396.9 37.3L397.0 36.7L397.5 36.0L398.3 35.9L398.9 36.3L399.3 37.0L399.7 37.5L400.1 38.0L400.7 38.6L400.8 39.3L400.7 40.0L400.3 40.8L399.9 41.3L399.3 41.7ZM402.3 44.4L401.7 44.3L401.0 43.9L400.4 43.3L400.3 42.9L400.7 42.2L401.1 41.7L401.7 41.1L402.2 40.7L402.7 40.3L403.3 39.7L403.7 39.1L404.2 38.7L405.0 38.5L405.7 38.7L406.0 39.3L406.0 40.0L405.7 40.8L405.3 41.4L405.0 42.0L404.5 42.7L404.1 43.3L403.7 43.8L403.0 44.2L402.3 44.4ZM400.3 33.4L399.7 33.3L399.0 32.9L398.3 32.3L398.0 32.0L397.6 31.3L398.0 30.9L398.8 30.7L399.7 30.6L400.7 30.5L401.7 30.6L402.3 30.7L403.2 31.0L403.7 31.5L403.7 32.3L403.3 32.9L402.7 33.3L401.8 33.0L401.3 33.0L400.7 33.3ZM399.0 41.1L398.2 41.0L397.7 40.3L397.5 39.7L397.4 38.7L397.3 38.0L397.3 37.3L397.7 36.7L398.3 36.7L398.9 37.3L399.3 37.9L399.7 38.3L400.2 39.0L400.1 40.0L399.7 40.7L399.3 41.0ZM402.7 43.7L402.0 43.7L401.4 43.0L401.7 42.1L402.0 41.6L402.6 41.0L403.1 40.7L403.7 40.3L404.2 39.7L405.0 39.3L405.4 40.0L405.2 40.7L404.8 41.3L404.5 42.0L404.1 42.7L403.7 43.2L403.0 43.6ZM400.3 32.4L399.4 32.3L399.0 31.9L399.3 31.3L400.0 31.2L401.0 31.3L401.0 31.9L400.4 32.3ZM399.0 40.4L398.3 40.2L398.0 39.3L398.0 38.7L398.1 38.0L398.7 38.1L399.3 38.7L399.7 39.3L399.3 40.3ZM403.3 42.7L402.5 42.7L402.7 41.7L403.2 41.3L404.0 41.3L403.7 42.3L403.3 42.7Z" fill="none" stroke="#c2a838" stroke-width="0.55"/>
<path d="M405.0 64.7L404.0 64.7L403.3 64.6L402.3 64.5L401.3 64.4L400.3 64.4L399.3 64.5L398.4 64.3L397.9 64.0L397.5 63.3L397.4 62.3L397.5 61.3L397.3 60.7L396.8 60.0L396.4 59.3L396.1 58.7L396.0 58.0L395.8 57.0L395.7 56.0L395.8 55.0L396.0 54.0L396.1 53.3L396.3 52.4L396.7 51.9L397.2 51.3L397.5 50.7L397.5 49.7L397.7 48.7L398.0 48.2L398.7 47.7L399.3 47.5L400.0 47.2L400.8 47.0L401.4 46.7L401.9 46.0L402.3 45.4L402.9 45.0L403.7 44.8L404.7 44.9L405.3 45.3L405.7 45.7L406.3 46.3L406.7 46.8L407.3 47.3L407.9 47.7L408.3 48.1L408.7 48.7L409.0 49.7L409.1 50.3L409.3 51.0L409.7 51.8L410.0 52.7L410.1 53.3L410.3 54.3L410.5 55.0L410.9 55.7L411.1 56.3L411.1 57.3L411.0 58.3L411.0 58.7L411.1 59.7L411.1 60.7L410.8 61.3L410.3 61.7L409.4 62.0L408.8 62.3L408.3 62.7L407.7 63.3L407.3 63.7L406.7 64.1L406.0 64.4L405.1 64.7ZM400.3 63.7L399.3 63.8L398.7 63.6L398.2 63.0L398.2 62.0L398.3 61.0L398.0 60.3L397.4 59.7L397.0 59.1L396.7 58.3L396.5 57.7L396.5 56.7L396.6 55.7L396.7 55.0L397.0 54.3L397.3 53.3L397.5 52.7L398.0 52.0L398.3 51.4L398.6 50.7L398.4 49.7L398.7 48.7L399.1 48.3L399.8 48.0L400.7 47.7L401.3 47.6L402.0 47.2L402.4 46.7L403.0 46.0L403.7 45.7L404.7 45.8L405.3 46.3L405.7 46.8L406.0 47.3L406.7 47.9L407.3 48.3L407.8 48.7L408.1 49.3L408.3 50.2L408.5 51.0L408.8 51.7L409.0 52.7L409.0 53.3L409.3 54.3L409.6 55.0L409.8 55.7L410.1 56.3L410.2 57.3L410.2 58.3L410.2 59.3L410.0 60.1L409.5 60.7L408.9 61.0L408.3 61.4L407.9 62.0L407.3 62.6L406.9 63.0L406.3 63.4L405.3 63.5L404.7 63.3L404.0 62.9L403.3 63.0L402.5 63.3L401.7 63.5L400.7 63.6ZM405.5 59.3L405.4 58.3L405.2 57.7L404.7 57.0L404.3 57.0L403.6 57.3L403.4 58.3L404.0 59.0L404.6 59.3L405.3 59.6ZM400.0 63.0L399.3 63.0L398.9 62.3L399.0 61.6L399.3 60.7L398.8 60.0L398.3 59.6L397.7 59.0L397.3 58.5L397.1 57.7L397.3 56.7L397.7 56.3L398.7 56.0L399.0 55.7L399.3 55.0L399.5 54.0L399.3 53.2L399.0 52.3L399.2 51.3L399.3 50.7L399.3 50.0L399.3 49.2L399.8 48.7L400.6 48.3L401.3 48.2L402.3 48.1L402.8 47.7L403.1 47.0L403.7 46.5L404.6 46.7L405.0 47.2L405.1 48.0L405.3 48.7L406.3 48.9L407.0 49.1L407.4 49.7L407.7 50.4L407.9 51.3L408.0 52.3L407.7 53.3L407.7 53.7L408.2 54.3L408.7 54.8L409.0 55.4L409.3 56.2L409.5 57.0L409.5 58.0L409.4 59.0L409.0 59.5L408.3 59.8L407.3 59.7L406.7 59.3L406.3 58.9L406.0 58.0L405.9 57.3L405.5 56.7L404.7 56.3L404.0 56.3L403.3 56.5L402.7 56.9L402.3 57.4L402.1 58.3L401.9 59.0L401.4 59.7L401.0 60.1L400.7 60.7L400.9 61.3L401.1 62.0L400.7 62.6L400.0 63.0ZM406.0 62.5L405.3 62.3L404.8 61.7L404.7 61.3L405.3 61.4L406.3 61.6L406.3 62.3ZM408.0 59.1L407.3 59.0L406.7 58.3L406.6 57.7L406.4 56.7L406.0 56.2L405.3 56.0L404.3 55.8L403.3 55.8L402.7 56.1L402.0 56.6L401.6 57.0L401.2 57.7L400.7 58.3L400.0 58.5L399.3 58.2L399.0 57.8L399.3 57.2L399.6 56.3L399.8 55.7L400.0 54.9L400.2 54.0L400.2 53.0L400.0 52.2L399.9 51.3L400.0 50.7L400.1 49.7L400.6 49.0L401.3 48.9L402.3 49.0L403.0 49.2L403.7 49.5L404.3 49.9L405.0 50.3L405.7 50.4L406.3 50.7L406.7 51.3L406.7 52.2L406.6 53.0L406.7 53.7L407.0 54.6L407.6 55.0L408.1 55.3L408.5 56.0L408.7 56.7L408.8 57.7L408.7 58.6L408.2 59.0ZM401.3 51.4L400.8 51.0L400.9 50.0L401.3 49.6L402.0 49.7L402.7 50.2L402.6 50.7L402.0 51.1L401.3 51.4ZM401.3 56.0L400.7 55.8L400.7 55.1L400.9 54.3L401.3 53.8L402.3 54.0L403.0 53.7L403.6 53.0L404.0 52.4L404.3 51.9L405.0 51.6L405.6 52.0L405.9 52.7L406.0 53.3L406.2 54.3L406.0 55.3L405.3 55.4L404.3 55.3L403.7 55.2L402.7 55.1L402.0 55.6L401.4 56.0ZM405.3 54.8L404.3 54.7L404.0 54.3L404.0 53.7L404.6 53.0L405.1 53.0L405.5 53.7L405.5 54.7Z" fill="none" stroke="#e6a02e" stroke-width="0.55"/>
<path d="M410.3 63.4L409.3 63.6L408.3 63.4L407.7 63.0L407.3 62.7L406.9 62.0L406.5 61.3L406.2 60.7L405.9 60.0L405.8 59.0L405.9 58.0L406.2 57.3L406.4 56.7L406.7 56.0L407.1 55.3L407.7 54.7L408.0 54.3L408.0 53.5L407.7 52.9L407.3 52.2L407.0 51.3L406.9 50.7L406.9 49.7L407.0 49.0L407.0 48.1L406.8 47.3L406.7 46.7L406.7 46.0L407.1 45.3L407.7 44.8L408.3 44.3L408.4 43.7L408.1 43.0L407.8 42.3L407.7 41.7L407.8 41.0L408.2 40.3L408.7 40.0L409.3 39.5L410.0 39.0L410.4 38.7L411.0 38.2L411.7 37.7L412.1 37.3L413.0 37.1L413.7 37.5L414.2 38.0L414.7 38.6L415.0 39.1L415.3 39.7L415.7 40.3L416.0 41.2L416.1 42.0L416.0 43.0L415.8 43.7L415.5 44.3L415.2 45.0L415.0 46.0L415.0 46.7L414.7 47.7L414.4 48.3L414.2 49.0L414.0 49.8L414.0 50.3L414.2 51.3L414.0 52.3L413.7 52.8L413.0 53.3L412.3 53.6L411.7 53.8L411.0 54.1L411.0 55.0L411.3 55.4L411.9 56.0L412.3 56.4L412.9 57.0L413.1 57.7L413.0 58.7L413.0 59.3L412.9 60.3L412.7 61.0L412.3 61.7L411.7 62.3L411.3 62.7L410.7 63.2ZM424.0 52.8L423.1 52.7L422.6 52.3L422.6 51.3L423.0 50.9L423.7 51.0L424.1 51.7L424.4 52.3L424.0 52.8ZM410.3 53.0L409.3 53.2L408.7 52.9L408.1 52.3L407.8 51.7L407.6 51.0L407.5 50.0L407.7 49.2L407.8 48.3L407.6 47.7L407.4 46.7L407.7 45.9L408.3 45.4L409.0 45.1L409.3 44.3L409.0 43.3L408.7 42.7L408.4 42.0L408.6 41.0L409.0 40.5L409.7 40.0L410.1 39.7L410.7 39.2L411.3 38.8L412.0 38.5L412.7 38.3L413.3 38.5L413.8 39.0L414.3 39.7L414.7 40.1L415.1 40.7L415.4 41.3L415.5 42.3L415.3 43.2L415.0 43.9L414.7 44.5L414.3 45.3L414.2 46.0L414.2 47.0L414.0 47.8L413.7 48.7L413.5 49.3L413.4 50.3L413.4 51.3L413.2 52.0L412.7 52.6L412.0 52.9L411.0 53.0L410.3 53.0ZM409.3 62.7L408.7 62.6L408.0 62.2L407.5 61.7L407.1 61.0L406.8 60.3L406.6 59.7L406.6 58.7L406.7 58.0L407.0 57.2L407.3 56.7L408.0 56.1L408.7 56.3L409.3 57.0L410.0 57.2L410.7 56.8L411.7 57.0L412.0 57.3L412.3 58.3L412.4 59.0L412.4 60.0L412.2 60.7L411.8 61.3L411.3 61.8L410.7 62.2L410.0 62.5L409.3 62.7ZM411.3 52.3L410.7 52.3L410.0 52.4L409.1 52.3L408.6 52.0L408.3 51.3L408.1 50.3L408.2 49.3L408.3 48.6L408.3 47.8L408.2 47.0L408.3 46.3L409.2 46.0L410.0 45.8L410.4 45.3L410.2 44.7L409.9 44.0L409.6 43.3L409.3 42.7L409.0 42.0L409.0 41.3L409.6 40.7L410.0 40.3L410.7 39.8L411.3 39.4L412.0 39.2L412.8 39.3L413.3 39.9L413.7 40.3L414.3 40.8L414.8 41.3L415.0 42.0L415.0 42.7L414.7 43.4L414.3 44.0L413.8 44.7L413.4 45.3L413.5 46.3L413.6 47.3L413.3 48.3L413.1 49.0L413.0 49.7L412.9 50.7L412.7 51.7L412.3 52.1L411.3 52.3ZM411.0 61.3L410.0 61.6L409.0 61.5L408.3 61.3L407.9 60.7L407.6 60.0L407.4 59.0L407.6 58.0L408.0 57.7L408.4 58.0L408.7 58.9L409.0 59.4L409.7 59.2L410.3 58.7L410.9 58.3L411.3 58.4L411.7 59.0L411.9 60.0L411.7 60.7L411.0 61.3ZM412.3 44.7L411.3 44.7L410.8 44.3L410.3 43.8L410.0 43.1L409.7 42.3L409.6 41.7L410.0 41.0L410.4 40.7L411.0 40.2L411.7 39.9L412.3 40.1L412.7 40.7L413.3 41.3L414.0 41.5L414.4 42.0L414.3 42.7L413.9 43.3L413.3 43.9L412.9 44.3L412.3 44.7ZM411.7 51.7L410.7 51.8L409.7 51.8L409.0 51.5L408.7 50.8L408.6 50.0L408.7 49.3L408.9 48.3L409.1 47.7L409.6 47.0L410.3 46.8L411.0 46.6L412.0 46.4L412.7 46.7L413.0 47.3L413.0 48.0L412.7 49.0L412.5 49.7L412.5 50.7L412.2 51.3L411.7 51.7ZM411.0 60.4L410.4 60.0L411.0 59.5L411.1 60.3ZM411.3 43.5L410.7 43.1L410.3 42.3L410.3 41.7L410.7 41.3L411.3 40.9L411.8 41.3L411.8 42.3L411.7 43.2ZM411.3 51.1L410.3 51.2L409.6 51.0L409.2 50.3L409.2 49.3L409.4 48.7L409.8 48.0L410.3 47.6L411.2 47.3L412.0 47.3L412.4 47.7L412.3 48.5L412.1 49.3L412.0 50.1L411.7 50.9ZM411.0 50.4L410.0 50.3L409.7 49.7L410.0 48.8L410.6 48.3L411.3 48.3L411.5 49.0L411.3 50.0L411.0 50.4Z" fill="none" stroke="#3c8fd4" stroke-width="0.55"/>
<path d="M424.0 51.7L423.3 51.7L422.3 51.4L421.7 51.2L421.0 50.8L420.8 50.0L421.0 49.0L420.6 48.3L420.0 47.7L419.6 47.3L419.0 46.8L418.5 46.3L418.0 45.8L417.7 45.3L417.3 44.7L417.1 43.7L417.2 42.7L417.4 42.0L417.6 41.0L417.7 40.3L417.8 39.3L417.8 38.3L417.7 37.3L417.7 36.3L417.9 35.3L418.3 34.7L418.7 34.0L418.9 33.3L419.1 32.7L419.4 32.0L420.0 31.4L420.7 31.0L421.1 30.7L421.5 30.0L421.8 29.3L422.1 28.7L422.5 28.0L423.0 27.5L423.7 27.3L424.7 27.3L425.3 27.5L426.0 27.8L426.7 28.2L427.3 28.5L428.0 29.0L428.3 29.6L428.7 30.3L429.0 30.8L429.6 31.3L430.0 31.7L430.7 32.0L431.3 32.5L431.7 33.0L431.9 34.0L431.7 34.9L431.4 35.7L431.2 36.3L431.3 37.3L431.3 38.0L431.5 39.0L431.9 39.7L432.2 40.3L432.4 41.0L432.3 41.7L432.0 42.5L431.7 43.3L431.6 44.0L431.4 45.0L431.0 45.5L430.5 45.7L430.0 45.1L429.3 44.8L428.9 45.3L429.3 45.7L430.0 46.0L430.2 47.0L429.9 47.7L429.5 48.3L429.0 48.9L428.6 49.3L428.1 50.0L427.7 50.7L427.3 51.0L426.7 51.4L425.7 51.5L424.7 51.6L424.0 51.7ZM425.7 50.7L424.7 50.8L423.7 50.7L423.1 50.3L422.7 49.7L422.6 49.0L422.4 48.0L421.7 47.7L421.0 47.5L420.3 47.0L419.8 46.7L419.3 46.3L418.7 45.7L418.3 45.3L418.0 44.7L417.7 43.7L418.0 42.7L418.3 42.0L418.5 41.3L418.7 40.3L418.8 39.7L418.8 38.7L418.6 38.0L418.4 37.0L418.6 36.0L418.8 35.3L419.1 34.7L419.4 34.0L419.8 33.3L420.2 32.7L420.7 32.2L421.3 31.7L421.7 31.3L422.3 30.7L422.6 30.0L422.8 29.3L423.1 28.7L423.7 28.2L424.7 28.1L425.3 28.4L426.0 28.8L426.7 29.2L427.2 29.7L427.6 30.3L428.0 30.9L428.4 31.3L429.0 31.9L429.5 32.3L430.0 32.7L430.7 33.3L430.8 34.0L430.7 34.7L430.3 35.3L430.3 36.0L430.6 37.0L430.7 37.7L430.7 38.7L431.0 39.7L431.3 40.3L431.4 41.0L431.3 41.7L430.9 42.3L430.3 43.0L429.7 43.3L429.0 43.5L428.0 43.6L427.2 43.3L426.3 43.2L425.7 43.4L425.1 44.0L425.3 44.9L426.0 45.2L426.7 45.5L427.3 45.9L428.0 46.3L428.5 46.7L428.9 47.3L428.7 48.0L428.2 48.7L427.7 49.3L427.3 49.8L426.7 50.3L426.0 50.6ZM421.7 46.5L420.7 46.4L420.0 46.1L419.3 45.7L419.0 45.3L418.5 44.7L418.3 44.0L418.4 43.3L418.7 42.7L419.2 42.0L419.4 41.3L419.6 40.3L419.8 39.7L419.7 38.9L419.3 38.2L419.1 37.3L419.1 36.3L419.4 35.7L419.7 34.9L420.0 34.1L420.3 33.5L420.7 33.0L421.3 32.4L422.0 32.0L422.7 31.8L423.7 31.9L424.3 31.6L425.0 31.0L425.7 30.7L426.1 30.7L426.8 31.0L427.3 31.4L428.0 31.9L428.4 32.3L429.0 33.0L429.3 33.4L429.5 34.3L429.0 35.0L429.0 35.5L429.5 36.0L430.0 36.6L430.3 37.3L430.3 38.3L430.1 39.3L430.3 40.1L430.6 41.0L430.3 41.7L429.7 42.3L429.2 42.7L428.3 42.8L427.6 42.7L426.7 42.5L425.7 42.6L425.0 42.8L424.3 43.3L424.0 43.7L423.5 44.3L423.0 45.0L422.7 45.4L422.2 46.0L421.7 46.5ZM425.3 50.0L424.5 50.0L423.9 49.7L423.7 49.0L423.8 48.3L424.3 47.7L424.7 47.2L425.2 46.7L426.0 46.4L426.8 46.7L427.3 47.0L427.7 47.7L427.5 48.3L427.0 49.0L426.7 49.4L426.0 49.8L425.3 50.0ZM424.3 42.0L423.3 42.0L423.7 41.3L424.3 40.7L424.6 40.0L424.7 39.3L424.5 38.7L424.0 38.0L423.3 37.7L422.7 38.0L422.3 38.7L422.0 39.3L421.3 40.0L420.7 39.3L420.3 38.7L420.0 38.1L419.7 37.3L419.7 36.8L419.9 36.0L420.2 35.3L420.4 34.7L420.7 34.0L421.1 33.3L421.7 32.9L422.7 32.8L423.0 33.3L423.0 34.3L423.2 35.3L423.7 35.8L424.3 35.6L424.8 35.0L425.0 34.3L425.0 33.7L424.8 32.7L425.2 32.0L425.9 31.7L426.3 31.7L427.1 32.0L427.7 32.5L428.0 33.0L428.2 34.0L427.8 34.7L427.3 35.3L427.3 35.8L428.0 36.1L428.8 36.3L429.4 36.7L429.9 37.3L429.8 38.3L429.4 39.0L429.1 39.7L428.9 40.3L429.3 40.8L429.3 41.3L428.7 41.8L427.7 41.7L426.7 41.9L425.7 41.9L424.7 42.0ZM420.3 45.4L419.7 45.2L419.1 44.7L418.9 44.0L419.1 43.3L419.7 42.7L420.3 42.4L421.3 42.5L422.0 42.7L422.4 43.3L422.1 44.0L421.7 44.5L421.1 45.0L420.4 45.3ZM426.7 33.5L426.0 33.1L426.2 32.7L426.7 32.9L426.7 33.5ZM421.3 37.7L420.7 37.5L420.6 36.7L421.0 36.0L421.3 35.3L421.3 34.6L421.7 34.0L422.0 34.3L421.8 35.0L422.0 35.8L422.2 36.7L421.7 37.3L421.3 37.7ZM426.7 40.7L425.8 40.7L425.5 40.0L425.4 39.0L425.3 38.3L425.3 37.3L426.0 37.1L426.9 37.0L427.7 36.9L428.7 36.8L429.3 37.3L429.4 38.0L429.0 38.6L428.6 39.0L428.0 39.5L427.4 40.0L427.0 40.4ZM427.0 39.5L426.2 39.3L426.0 38.7L426.3 38.0L427.0 37.7L427.7 37.6L428.6 37.7L428.3 38.3L427.7 39.0L427.2 39.3Z" fill="none" stroke="#36ad45" stroke-width="0.55"/>
<path d="M432.0 64.8L431.0 65.0L430.0 64.8L429.3 64.6L428.7 64.3L428.0 64.0L427.3 63.6L426.8 63.0L426.3 62.3L426.0 61.8L425.3 61.4L424.7 61.3L423.7 61.0L423.2 60.7L422.8 60.0L423.0 59.0L423.3 58.4L423.7 57.8L424.0 57.0L424.1 56.3L424.3 55.5L424.6 54.7L424.9 54.0L425.3 53.4L425.7 53.0L426.3 52.5L427.0 52.2L427.7 52.0L428.7 51.7L429.3 51.5L430.0 51.2L430.7 51.0L431.7 50.7L432.5 51.0L433.0 51.4L433.7 52.0L434.0 52.4L434.3 53.0L434.7 53.7L435.2 54.3L435.6 55.0L435.9 55.7L436.1 56.3L436.4 57.0L436.7 58.0L436.7 58.7L436.5 59.3L436.1 60.0L435.7 60.4L435.0 60.9L434.4 61.3L434.0 61.8L433.6 62.3L433.2 63.0L432.8 63.7L432.5 64.3L432.0 64.8ZM418.0 61.8L417.5 61.3L418.2 61.3ZM431.0 64.1L430.0 64.0L429.3 63.7L428.8 63.3L428.3 62.9L427.7 62.4L427.2 62.0L426.7 61.3L426.3 61.0L425.5 60.7L424.7 60.5L424.0 60.2L423.7 59.3L424.0 58.7L424.4 58.0L424.6 57.0L424.8 56.3L425.0 55.4L425.3 54.7L425.7 54.1L426.1 53.7L426.7 53.2L427.3 52.9L428.3 52.8L429.0 52.6L429.7 52.3L430.3 52.0L431.3 51.8L432.3 52.0L432.9 52.3L433.3 52.7L433.7 53.3L434.2 54.0L434.7 54.7L435.0 55.2L435.3 56.0L435.6 56.7L435.8 57.3L436.0 58.3L435.7 59.3L435.3 59.8L434.7 60.3L434.2 60.7L433.7 61.2L433.3 61.7L432.7 62.3L432.3 62.8L432.0 63.3L431.3 63.9ZM431.0 63.1L430.0 63.2L429.4 62.7L429.0 62.0L428.7 61.5L428.0 61.1L427.3 60.8L426.7 60.4L426.0 60.1L425.3 59.9L424.7 59.6L424.7 58.9L425.0 58.1L425.1 57.3L425.3 56.3L425.5 55.7L425.8 55.0L426.3 54.4L426.9 54.0L427.7 53.8L428.7 53.9L429.3 53.6L430.0 53.0L430.5 52.7L431.3 52.5L432.2 52.7L432.7 53.0L433.2 53.7L433.7 54.3L434.0 54.7L434.5 55.3L434.8 56.0L435.0 56.7L435.3 57.7L435.4 58.3L435.2 59.0L434.7 59.6L434.1 60.0L433.7 60.4L433.1 61.0L432.7 61.5L432.2 62.0L431.7 62.5L431.2 63.0ZM431.3 61.7L430.3 61.9L429.9 61.3L429.3 60.7L429.0 60.3L428.3 59.9L427.3 59.8L426.7 59.5L426.1 59.0L425.9 58.3L425.8 57.3L425.9 56.3L426.3 55.7L427.0 55.4L427.8 55.7L428.7 55.8L429.3 55.5L429.9 55.0L430.2 54.3L430.5 53.7L431.0 53.3L431.9 53.3L432.3 53.7L432.7 54.7L433.0 55.0L433.7 55.3L434.2 56.0L434.5 56.7L434.7 57.3L434.7 58.3L434.3 59.0L433.9 59.3L433.3 59.8L432.9 60.3L432.3 61.0L431.9 61.3L431.3 61.7ZM431.3 60.4L430.4 60.3L429.9 60.0L429.3 59.6L428.7 59.0L428.0 58.7L427.3 58.4L426.9 58.0L426.6 57.3L427.0 56.8L428.0 56.9L428.9 56.7L429.5 56.3L430.1 56.0L430.7 56.0L431.3 56.6L431.6 57.3L431.8 58.0L432.0 58.7L432.0 59.7L431.7 60.1ZM430.7 59.0L429.9 59.0L429.3 58.6L429.1 57.7L429.7 57.0L430.3 56.8L430.9 57.3L431.0 58.0L430.9 58.7Z" fill="none" stroke="#1ea3a3" stroke-width="0.55"/>
<path d="M449.7 70.4L448.7 70.4L448.0 70.2L447.3 69.9L446.7 69.5L446.0 69.3L445.0 69.1L444.3 68.9L443.7 68.6L443.0 68.1L442.4 67.7L441.8 67.3L441.0 67.3L440.3 67.4L439.7 67.3L438.9 67.0L438.3 66.7L437.7 66.3L437.0 66.0L436.3 65.6L435.7 65.1L435.2 64.7L434.7 64.1L434.3 63.7L433.8 63.0L433.4 62.3L433.0 61.7L432.7 61.2L432.3 60.7L432.1 59.7L432.6 59.0L433.3 58.7L434.0 58.6L434.7 58.7L435.7 58.9L436.7 59.0L437.7 58.9L438.7 58.9L439.7 58.9L440.7 58.9L441.6 59.0L442.3 59.2L443.0 59.7L443.3 60.0L443.9 60.7L444.3 61.1L445.0 61.6L445.4 62.0L446.0 62.7L446.4 63.0L447.3 63.3L448.0 63.5L448.7 63.9L449.1 64.3L449.6 65.0L450.0 65.7L450.2 66.3L450.4 67.0L450.7 67.7L451.0 68.3L451.2 69.3L450.8 70.0L450.0 70.3ZM449.0 69.5L448.0 69.5L447.3 69.2L446.7 68.8L446.0 68.5L445.2 68.3L444.3 68.1L443.7 67.7L443.3 67.2L442.9 66.7L442.3 66.3L441.7 66.3L440.7 66.5L439.7 66.5L439.0 66.3L438.3 66.0L437.6 65.7L437.0 65.3L436.3 64.9L435.7 64.3L435.3 63.9L434.9 63.3L434.4 62.7L434.1 62.0L433.7 61.3L433.4 60.7L433.3 60.0L433.7 59.6L434.7 59.5L435.7 59.6L436.3 59.7L437.3 59.7L438.3 59.9L439.3 59.9L440.3 59.8L441.3 59.7L442.3 60.0L442.7 60.3L443.2 61.0L443.7 61.5L444.2 62.0L444.7 62.4L445.2 63.0L445.7 63.6L446.2 64.0L447.0 64.1L447.8 64.3L448.4 64.7L449.0 65.3L449.3 66.0L449.5 66.7L449.7 67.4L449.8 68.3L449.6 69.0L449.0 69.5ZM448.7 68.7L447.7 68.7L447.0 68.4L446.4 68.0L445.7 67.8L445.0 67.6L444.3 67.1L444.0 66.3L443.8 65.7L443.0 65.5L442.0 65.6L441.3 65.7L440.3 65.9L439.3 65.7L438.7 65.5L438.0 65.3L437.3 65.0L436.7 64.6L436.1 64.0L435.7 63.5L435.3 63.0L435.0 62.3L434.6 61.7L434.5 60.7L435.0 60.3L435.9 60.3L436.7 60.4L437.7 60.6L438.3 60.8L439.3 60.8L440.0 60.6L441.0 60.4L442.0 60.6L442.5 61.0L443.0 61.5L443.4 62.0L444.0 62.6L444.3 63.0L444.7 63.7L445.0 64.3L445.7 64.9L446.3 65.0L447.0 65.0L447.7 65.1L448.3 65.5L448.7 66.0L449.0 66.8L449.1 67.7L448.9 68.3ZM442.0 65.0L441.0 65.1L440.0 65.0L439.3 64.7L438.6 64.7L437.7 64.5L437.0 64.1L436.6 63.7L436.2 63.0L436.2 62.0L436.7 62.0L437.3 62.4L438.0 62.8L438.6 63.3L439.3 63.4L439.5 62.7L439.7 62.0L440.3 61.4L441.0 61.1L442.0 61.2L442.5 61.7L443.0 62.2L443.4 62.7L443.8 63.3L443.7 64.3L443.2 64.7L442.3 65.0ZM448.0 68.1L447.3 67.9L446.7 67.4L446.1 67.0L445.9 66.3L446.7 66.0L447.3 65.9L448.0 66.1L448.4 66.7L448.4 67.7L448.0 68.1ZM442.3 64.4L441.3 64.5L440.7 64.2L440.4 63.3L440.5 62.3L441.0 61.8L442.0 61.8L442.6 62.3L443.0 62.9L443.2 63.7L442.7 64.3ZM442.3 63.8L441.3 63.8L441.0 63.3L441.1 62.7L441.7 62.3L442.3 62.7L442.6 63.3Z" fill="none" stroke="#1b9a5a" stroke-width="0.55"/>
<path d="M415.3 50.1L414.5 50.0L414.3 49.3L414.5 48.7L415.3 48.3L416.0 49.0L415.7 49.8ZM457.0 73.7L456.0 73.8L455.0 73.7L454.3 73.5L453.7 73.2L452.7 73.1L451.7 73.2L450.7 73.2L449.7 73.0L449.2 72.7L448.8 72.0L448.9 71.0L449.0 70.0L448.7 69.3L448.3 68.7L447.8 68.0L447.4 67.3L447.2 66.7L447.1 65.7L447.0 65.0L446.7 64.2L446.4 63.3L446.3 63.0L446.7 62.0L447.0 61.6L447.7 61.3L448.3 61.4L449.0 61.7L449.8 61.7L450.0 60.7L450.0 60.0L450.0 59.0L449.7 58.3L449.3 57.9L449.0 57.3L448.8 56.3L449.2 55.7L449.7 55.0L450.0 54.5L450.3 54.0L450.8 53.3L451.3 52.8L452.0 52.4L452.7 52.2L453.7 52.0L454.3 51.7L454.8 51.3L455.3 50.9L456.3 50.7L457.0 51.2L457.6 51.7L458.3 51.7L459.0 51.5L459.8 51.3L460.7 51.3L461.3 51.4L462.0 51.9L462.3 52.7L462.3 53.3L462.9 54.0L463.6 54.3L464.0 54.7L464.3 55.7L464.7 56.3L465.0 56.7L465.4 57.3L465.6 58.3L465.7 59.0L466.0 59.9L466.7 60.2L467.1 60.7L467.0 61.5L466.4 61.7L465.9 61.3L465.3 60.9L464.7 61.3L464.3 62.0L464.4 62.3L464.7 63.0L465.3 63.6L465.7 64.2L465.7 65.0L465.5 65.7L465.3 66.3L465.3 67.3L465.0 68.3L464.7 68.9L464.3 69.6L464.1 70.3L463.7 71.0L463.2 71.3L462.3 71.6L461.8 72.0L461.3 72.5L460.9 73.0L460.3 73.3L459.3 73.6L458.3 73.6L457.3 73.6ZM411.3 58.7L410.7 58.4L410.7 57.8L411.3 57.6L412.0 57.9L411.9 58.3L411.3 58.7ZM434.0 63.5L433.3 63.3L433.0 62.3L433.3 61.7L434.3 61.5L434.8 62.0L434.7 62.8L434.2 63.3ZM412.7 73.3L411.8 73.3L411.3 73.0L411.5 72.3L412.0 71.9L413.0 71.8L413.4 72.3L413.2 73.0L412.7 73.3ZM418.3 73.7L417.7 73.5L417.5 72.7L418.0 72.2L418.7 72.5L418.8 73.3L418.3 73.7ZM460.0 72.8L459.0 72.9L458.0 72.7L457.3 72.6L456.6 72.7L455.7 73.0L454.7 72.7L454.1 72.3L453.7 71.9L453.2 71.3L452.7 70.7L452.3 70.2L451.7 70.0L451.0 70.3L451.1 70.7L451.4 71.3L451.2 72.0L450.3 72.0L450.1 71.3L450.5 70.7L450.3 70.0L449.7 69.3L449.3 68.8L448.9 68.3L448.3 67.7L448.0 67.2L447.7 66.3L447.6 65.7L447.6 64.7L447.3 63.7L447.3 63.0L447.7 62.6L448.7 62.6L449.2 63.0L449.7 63.4L450.6 63.7L450.9 63.3L450.9 62.3L450.9 61.3L451.0 60.7L451.3 60.0L452.3 59.8L453.3 59.9L453.8 59.3L453.8 58.3L454.0 57.3L454.3 56.8L454.8 56.3L455.3 55.8L455.7 55.3L455.8 54.3L455.7 53.4L455.5 52.7L456.0 52.2L456.7 52.4L457.7 52.7L458.7 52.5L459.3 52.3L460.3 52.2L461.0 52.7L461.1 53.3L461.4 54.0L462.0 54.5L462.7 55.0L463.0 55.4L463.4 56.0L464.0 56.7L464.3 57.0L464.8 57.7L465.0 58.7L464.7 59.6L464.3 60.0L463.7 60.6L463.3 61.0L463.3 61.9L463.6 62.7L463.8 63.3L464.0 64.0L464.2 65.0L464.0 65.7L464.0 66.4L464.2 67.3L464.0 68.0L463.3 68.5L462.3 68.4L461.8 68.0L461.0 67.9L460.6 68.3L460.3 69.3L460.7 70.1L461.0 70.8L461.0 71.5L460.7 72.2L460.2 72.7ZM451.3 57.7L450.7 57.5L450.2 57.0L450.2 56.0L450.5 55.3L450.8 54.7L451.1 54.0L451.7 53.3L452.3 53.0L453.0 52.9L453.7 53.1L454.1 53.7L454.1 54.7L453.9 55.3L453.5 56.0L453.0 56.6L452.6 57.0L452.0 57.4L451.3 57.7ZM452.3 55.5L451.7 55.3L451.7 54.4L452.0 53.9L452.7 53.6L453.2 54.0L453.0 55.0L452.6 55.3ZM455.7 60.4L455.0 60.1L454.7 59.7L454.4 58.7L454.6 57.7L455.0 57.1L455.4 56.7L456.0 56.0L456.3 55.3L456.5 54.7L456.7 54.0L457.3 53.5L458.3 53.4L459.3 53.4L460.0 54.0L460.3 54.5L461.0 54.9L461.7 55.3L462.2 55.7L462.5 56.3L463.0 56.9L463.7 57.2L464.2 57.7L464.4 58.3L464.3 59.0L463.7 59.7L463.0 59.9L462.2 59.7L461.9 59.0L461.9 58.0L461.7 57.0L461.1 56.7L460.3 56.5L459.7 57.0L459.3 57.6L459.0 58.2L458.7 58.7L458.0 59.3L457.3 59.5L456.7 59.9L456.0 60.3ZM459.3 72.4L458.7 72.3L458.0 72.0L457.0 71.7L456.0 71.9L455.3 72.1L454.7 71.9L454.0 71.3L453.7 70.9L453.3 70.3L452.9 69.7L452.6 69.0L452.7 68.2L453.0 67.5L453.3 67.0L454.0 66.3L454.7 66.0L455.3 65.9L455.7 65.3L455.1 65.0L454.7 64.6L454.4 63.7L454.6 62.7L455.0 62.2L455.7 61.7L456.3 61.6L457.3 61.6L457.8 61.0L458.0 60.3L458.7 59.7L459.3 59.6L460.0 59.8L460.7 60.1L461.3 60.6L461.7 61.0L462.2 61.7L462.7 62.1L463.0 62.7L463.2 63.7L463.0 64.4L462.6 65.0L462.1 65.7L461.8 66.3L461.3 66.8L460.7 67.2L460.3 67.7L459.9 68.3L459.7 69.3L460.0 70.3L460.3 71.0L460.3 71.4L460.0 72.1L459.3 72.4ZM453.0 63.0L452.0 63.1L451.7 62.3L451.7 61.8L452.0 61.1L452.7 60.9L453.3 61.2L453.6 62.0L453.3 62.7ZM450.0 68.0L449.3 67.8L448.7 67.3L448.3 66.9L448.1 66.0L448.1 65.0L448.3 64.0L449.0 63.8L449.7 64.1L450.3 64.4L451.0 64.8L451.4 65.3L451.3 66.3L451.0 67.0L450.7 67.5L450.1 68.0ZM455.7 59.4L455.2 59.0L455.1 58.0L455.5 57.3L456.0 56.8L456.4 56.3L456.8 55.7L457.2 55.0L457.7 54.4L458.3 54.7L458.7 55.7L458.6 56.7L458.4 57.7L458.0 58.2L457.3 58.6L456.7 58.9L456.0 59.3ZM463.3 58.7L463.0 58.3L463.5 58.3ZM459.0 71.7L458.3 71.5L457.7 71.2L456.7 71.0L456.3 71.1L455.5 71.3L455.0 71.3L454.3 70.9L453.9 70.3L453.5 69.7L453.3 69.0L453.3 68.3L453.7 67.7L454.3 67.1L455.3 67.0L456.3 67.1L456.7 66.7L457.0 65.7L457.0 65.0L456.7 64.5L456.0 64.3L455.3 63.9L455.3 63.0L455.7 62.6L456.7 62.4L457.7 62.5L458.3 62.1L458.6 61.3L458.9 60.7L459.7 60.5L460.3 60.9L460.7 61.3L461.1 62.0L461.8 62.3L462.3 62.7L462.6 63.7L462.2 64.3L461.7 64.9L461.3 65.5L461.0 66.1L460.5 66.7L460.0 67.2L459.7 67.7L459.3 68.6L459.1 69.3L459.3 70.3L459.6 71.0L459.3 71.7ZM450.0 67.2L449.1 67.0L448.7 66.6L448.5 65.7L448.7 65.0L449.3 64.6L450.0 64.8L450.7 65.3L450.8 66.0L450.6 66.7L450.0 67.2ZM455.3 70.7L454.7 70.5L454.3 70.0L454.0 69.3L454.0 68.4L454.3 67.9L455.3 67.8L456.0 68.2L456.5 68.7L457.3 69.0L457.8 68.3L457.8 67.3L457.6 66.7L457.6 65.7L457.7 65.0L457.7 64.3L457.7 63.6L458.3 63.2L459.3 63.1L460.0 63.6L460.4 64.0L460.7 64.7L460.7 65.5L460.3 66.1L459.9 66.7L459.3 67.2L459.0 67.7L458.7 68.5L458.3 69.0L458.0 70.0L457.3 70.1L456.3 70.3L455.7 70.6ZM450.0 66.5L449.1 66.3L449.0 65.7L449.3 65.2L450.0 65.4L450.1 66.3ZM459.0 66.5L458.3 66.1L458.3 65.3L458.4 64.7L459.0 64.0L459.7 64.4L460.0 65.0L460.0 65.7L459.3 66.3ZM455.3 69.3L454.9 69.0L455.3 69.3Z" fill="none" stroke="#ea6b6e" stroke-width="0.55"/>
<path d="M414.0 96.8L413.0 96.7L412.3 96.4L412.0 95.8L411.8 95.0L411.7 94.2L411.3 93.7L410.6 93.3L409.7 93.0L409.2 92.7L408.7 92.0L408.4 91.3L408.5 90.3L408.6 89.3L408.3 88.7L408.0 87.7L408.1 86.7L408.3 85.7L408.5 85.0L409.0 84.4L409.7 84.0L410.3 83.7L410.4 83.0L410.3 82.3L410.3 81.3L410.0 80.3L409.7 79.9L409.0 79.5L408.3 79.2L407.4 79.0L406.8 78.7L406.3 78.3L405.8 77.7L405.4 77.0L405.1 76.3L404.7 75.7L404.1 75.3L403.6 75.0L403.0 74.5L402.7 74.0L402.6 73.0L402.9 72.3L403.3 71.9L404.0 71.5L404.4 71.0L404.6 70.0L404.9 69.3L405.3 68.8L405.7 68.3L406.1 67.7L406.7 67.2L407.3 66.8L408.0 66.6L408.7 66.7L409.7 67.0L410.3 66.7L411.1 66.3L412.0 66.3L412.7 66.5L413.3 67.0L413.7 67.3L414.3 67.7L415.2 68.0L415.8 68.3L416.3 68.8L416.7 69.3L417.0 70.3L417.1 71.0L417.0 71.8L417.0 72.4L417.7 72.7L418.3 73.1L418.8 73.7L419.3 74.3L419.5 75.0L419.5 76.0L419.4 77.0L419.7 77.7L420.1 78.3L420.3 79.0L420.4 80.0L420.7 80.9L421.3 81.3L421.9 81.7L422.1 82.3L422.2 83.3L422.5 84.0L423.0 84.7L423.3 85.3L423.5 86.0L423.5 87.0L423.4 88.0L423.3 88.9L423.0 89.6L422.3 90.0L421.7 90.2L421.0 90.6L420.7 91.2L420.4 92.0L420.3 92.7L420.0 93.7L419.8 94.3L419.3 94.9L418.8 95.3L418.3 95.7L417.3 96.0L416.3 95.7L415.8 95.7L415.2 96.0L414.7 96.5L414.0 96.8ZM414.0 95.8L413.0 95.7L412.7 95.0L412.5 94.3L412.3 93.7L411.9 93.0L411.3 92.5L410.7 92.3L410.0 92.0L409.6 91.3L409.7 90.7L410.3 90.0L411.0 89.8L411.7 90.3L412.3 90.6L412.3 89.9L411.7 89.6L411.1 89.0L410.7 88.3L410.0 88.0L409.3 87.9L409.0 87.3L409.0 86.4L409.2 85.7L409.7 85.3L410.7 85.2L411.2 84.7L411.3 83.7L411.3 82.7L411.3 81.7L411.1 80.7L410.8 80.0L410.4 79.3L410.0 79.0L409.3 78.7L408.3 78.5L407.7 78.3L407.0 77.9L406.5 77.3L406.3 76.7L406.1 75.7L406.0 74.8L405.7 74.3L405.0 74.4L404.3 74.3L403.7 73.9L403.7 73.1L404.3 72.8L405.2 73.0L405.7 73.0L406.0 72.3L406.1 71.3L405.9 70.7L405.8 69.7L406.0 69.0L406.4 68.3L407.0 67.8L407.7 67.5L408.5 67.7L409.0 68.0L409.6 68.7L409.8 69.3L410.0 70.2L410.6 70.7L411.0 70.4L411.0 69.8L410.7 69.0L410.6 68.3L410.8 67.7L411.3 67.2L412.3 67.3L412.8 67.7L413.3 68.2L414.0 68.5L414.7 68.7L415.4 69.0L416.0 69.7L416.2 70.3L416.0 71.3L415.8 72.0L415.7 73.0L416.3 73.7L417.0 73.9L417.7 74.1L418.3 74.7L418.4 75.3L418.4 76.3L418.5 77.3L418.8 78.0L419.2 78.7L419.5 79.3L419.3 80.3L419.2 81.0L419.3 81.8L420.0 82.3L420.5 82.7L420.8 83.3L421.1 84.0L421.7 84.6L422.3 85.0L422.7 85.6L422.8 86.3L422.8 87.3L422.7 88.0L422.3 88.8L421.7 89.3L421.0 89.6L420.6 90.0L420.1 90.7L419.8 91.3L419.6 92.0L419.4 93.0L419.1 93.7L418.7 94.3L418.3 94.7L417.3 94.9L416.4 94.7L416.0 94.7L415.2 95.0L414.7 95.4L414.0 95.8ZM416.7 81.3L416.0 81.1L415.7 80.4L415.3 79.8L414.4 80.0L413.7 80.3L413.0 80.6L412.0 80.4L411.7 80.0L411.2 79.3L410.9 78.7L410.4 78.0L409.7 77.7L409.0 77.6L408.0 77.5L407.4 77.0L407.2 76.3L407.3 75.3L407.2 74.3L407.0 73.7L406.8 72.7L406.8 71.7L406.8 70.7L406.6 70.0L406.7 69.1L407.0 68.6L407.7 68.2L408.4 68.3L408.9 69.0L409.1 69.7L409.3 70.6L409.7 71.0L410.3 71.7L410.7 72.0L411.7 72.1L411.9 71.3L412.0 70.7L412.0 69.9L411.9 69.0L412.3 68.6L413.0 69.0L413.7 69.1L414.7 69.3L415.2 69.7L415.5 70.3L415.4 71.3L415.2 72.0L415.1 73.0L415.3 73.9L415.7 74.3L416.3 74.7L417.0 75.3L417.0 75.7L416.9 76.7L416.7 77.7L417.3 78.2L418.0 78.6L418.4 79.0L418.5 80.0L418.1 80.7L417.7 81.1L416.7 81.3ZM414.3 94.8L413.4 94.7L413.1 94.0L412.9 93.3L412.8 92.3L413.1 91.7L413.6 91.0L413.8 90.3L413.7 89.3L413.6 88.7L414.0 88.3L414.7 88.3L415.0 89.1L415.3 89.7L416.3 89.8L416.9 89.3L417.4 89.0L418.0 88.4L418.2 87.7L417.3 87.4L416.7 87.3L416.0 86.9L415.6 86.3L415.0 85.9L414.0 85.9L413.3 86.1L412.3 86.2L412.0 85.5L411.9 84.7L411.9 83.7L412.1 83.0L412.7 82.4L413.7 82.5L414.7 82.7L415.3 82.7L416.2 83.0L417.0 83.1L417.7 82.8L418.7 82.9L419.3 83.3L419.8 83.7L420.1 84.3L420.6 85.0L421.3 85.3L421.9 85.7L422.3 86.3L422.2 87.3L422.0 88.0L421.4 88.7L420.8 89.0L420.3 89.3L419.8 90.0L419.4 90.7L419.1 91.3L418.9 92.0L418.7 92.9L418.3 93.5L417.7 93.9L416.7 93.9L415.9 94.0L415.2 94.3L414.6 94.7ZM413.3 79.7L412.4 79.7L412.0 79.3L411.6 78.7L411.4 77.7L411.4 76.7L410.7 76.4L410.0 76.3L409.5 75.7L409.3 75.0L408.9 74.3L408.3 74.0L407.7 73.4L407.4 72.7L407.5 71.7L407.7 71.0L407.7 70.3L407.5 69.3L408.2 69.3L408.3 70.3L408.7 70.8L409.1 71.3L409.6 72.0L410.0 72.6L410.4 73.0L411.0 73.3L411.7 73.9L411.8 74.7L411.9 75.7L412.7 75.8L413.4 75.7L414.3 75.5L415.3 75.6L415.7 76.0L415.7 76.8L415.3 77.7L415.0 78.3L414.7 78.8L414.1 79.3L413.5 79.7ZM414.0 74.1L413.3 74.0L412.7 73.4L412.6 72.7L412.7 71.9L412.8 71.0L413.0 70.2L413.7 69.9L414.5 70.0L414.8 70.7L414.7 71.7L414.6 72.3L414.5 73.3L414.1 74.0ZM413.3 85.4L412.7 85.1L412.5 84.3L412.7 83.5L413.3 83.2L414.0 83.4L414.7 83.7L415.2 84.3L414.7 84.9L414.0 85.2L413.3 85.4ZM420.7 88.1L420.0 87.8L419.7 87.0L419.3 86.7L418.3 86.5L417.5 86.3L417.2 85.7L417.5 85.0L418.0 84.4L418.7 84.1L419.3 84.5L419.7 85.2L420.0 85.8L420.7 86.1L421.3 86.3L421.5 87.3L421.0 87.9ZM414.3 94.1L413.7 93.7L413.5 93.0L413.7 92.3L414.1 91.7L414.7 91.3L415.3 91.3L416.0 91.8L416.4 92.3L416.2 93.0L415.7 93.4L415.0 93.8L414.3 94.1ZM413.3 79.1L412.5 79.0L412.0 78.3L411.9 77.7L412.1 77.0L412.7 76.4L413.3 76.2L414.3 76.3L414.7 76.7L414.7 77.5L414.3 78.3L414.0 78.7L413.3 79.1ZM413.3 78.5L412.7 78.3L412.5 77.3L413.0 76.8L413.9 77.0L414.0 77.7L413.7 78.2Z" fill="none" stroke="#f28b2a" stroke-width="0.55"/>
<path d="M411.7 110.4L410.7 110.4L410.0 110.1L409.4 109.7L409.0 109.1L408.7 108.3L408.3 107.7L407.8 107.3L407.2 107.0L406.7 106.6L406.2 106.0L405.8 105.3L405.7 104.6L405.7 104.0L405.8 103.0L406.0 102.0L406.2 101.3L406.5 100.7L406.8 100.0L407.1 99.3L407.4 98.7L407.3 98.0L407.0 97.0L406.9 96.3L407.0 95.7L407.4 95.0L408.0 94.4L408.7 94.0L409.2 93.7L409.7 93.3L410.4 93.0L411.3 92.9L412.3 93.0L413.3 92.7L414.0 92.5L415.0 92.4L416.0 92.6L416.6 93.0L417.0 93.5L417.5 94.0L418.1 94.3L419.0 94.7L419.5 95.0L419.9 95.7L420.0 96.3L420.1 97.3L420.3 98.3L420.3 99.2L420.3 100.0L420.3 100.9L420.3 101.7L420.2 102.7L420.0 103.5L419.8 104.3L419.6 105.0L419.3 105.7L419.1 106.7L419.0 107.6L418.7 108.3L418.3 108.8L417.7 109.3L417.0 109.7L416.3 109.8L415.3 109.9L414.3 109.8L413.7 109.6L413.0 109.8L412.3 110.2L411.7 110.4ZM411.7 109.7L410.7 109.7L410.0 109.3L409.7 108.9L409.3 108.0L409.1 107.3L408.7 107.0L407.9 106.7L407.3 106.3L406.7 105.7L406.5 105.0L406.4 104.0L406.4 103.0L406.6 102.0L406.8 101.3L407.1 100.7L407.5 100.0L407.9 99.3L408.1 98.7L408.0 98.0L407.6 97.3L407.4 96.3L407.7 95.5L408.1 95.0L408.7 94.6L409.3 94.2L410.0 93.8L410.7 93.5L411.7 93.6L412.3 93.7L413.0 93.6L413.8 93.3L414.7 93.2L415.7 93.3L416.2 93.7L416.7 94.1L417.2 94.7L417.8 95.0L418.6 95.3L419.0 95.7L419.3 96.5L419.4 97.3L419.6 98.3L419.7 99.0L419.7 100.0L419.6 100.7L419.3 101.4L418.7 101.9L418.0 102.0L417.3 102.3L417.0 103.0L417.0 103.8L417.2 104.7L417.6 105.3L418.0 105.8L418.3 106.7L418.3 107.0L418.0 108.0L417.7 108.4L417.0 108.8L416.3 109.0L415.3 109.2L414.3 109.1L413.7 108.8L412.7 109.0L412.3 109.3L411.7 109.7ZM411.3 109.1L410.6 109.0L410.1 108.3L410.0 107.9L410.1 107.0L409.7 106.6L408.7 106.4L408.0 106.2L407.3 105.7L407.0 105.0L406.9 104.3L406.9 103.3L407.0 102.6L407.3 101.7L407.6 101.0L407.9 100.3L408.3 99.7L408.7 99.0L408.7 98.4L408.3 97.7L408.0 97.2L407.8 96.3L408.0 95.6L408.7 95.0L409.3 94.7L409.9 94.3L410.7 94.1L411.7 94.2L412.7 94.3L413.4 94.0L414.3 93.8L415.3 93.8L416.0 94.2L416.5 94.7L417.0 95.2L417.6 95.7L418.1 96.0L418.6 96.7L418.7 97.3L418.9 98.3L419.1 99.0L419.2 100.0L419.0 100.7L418.3 101.3L417.7 101.5L417.0 101.7L416.4 102.3L416.3 103.0L416.0 104.0L415.7 104.7L415.4 105.3L416.0 105.7L416.7 106.2L417.2 106.7L417.4 107.3L417.0 107.8L416.3 108.1L415.7 108.5L414.7 108.6L414.0 108.2L413.4 107.7L412.7 107.7L412.3 108.2L412.0 108.7L411.3 109.1ZM414.6 105.7L415.1 105.3L414.7 104.8L414.0 104.3L413.5 104.0L413.0 103.7L412.1 103.7L412.2 104.7L412.7 105.1L413.1 105.7L414.0 105.9ZM410.0 105.7L409.0 105.9L408.0 105.7L407.7 105.3L407.4 104.3L407.5 103.3L407.7 102.3L407.9 101.7L408.3 101.1L408.8 100.7L409.4 100.7L410.0 101.2L410.7 101.6L411.3 102.0L411.7 101.3L412.2 100.7L412.7 100.1L412.7 99.6L412.0 99.1L411.3 99.0L410.7 99.1L409.7 99.0L409.3 98.3L409.0 97.9L408.5 97.3L408.2 96.7L408.3 95.8L408.8 95.3L409.4 95.0L410.2 94.7L411.0 94.6L411.7 94.9L412.3 95.1L413.0 94.7L413.7 94.4L414.3 94.2L415.3 94.3L415.8 94.7L416.3 95.2L416.7 95.8L417.0 96.5L417.3 97.3L417.7 97.9L418.0 98.4L418.3 99.0L418.5 100.0L418.1 100.7L417.5 101.0L416.7 101.3L416.1 101.7L415.7 102.3L415.6 103.0L415.0 103.6L414.0 103.5L413.3 103.2L412.7 102.8L412.0 102.3L411.4 102.3L411.4 103.3L411.3 104.0L411.0 105.0L410.7 105.3L410.0 105.7ZM415.0 107.7L414.6 107.3L415.2 107.3ZM414.7 102.9L413.7 102.8L413.0 102.4L412.7 102.0L412.7 101.3L413.3 100.7L413.7 100.3L413.7 99.5L413.2 99.0L412.7 98.5L412.3 98.0L412.4 97.3L412.7 96.7L413.0 95.7L413.3 95.1L414.0 94.7L414.7 94.6L415.3 94.9L415.8 95.3L416.1 96.0L416.1 97.0L416.0 97.7L416.2 98.3L416.7 98.7L417.3 99.1L417.7 99.7L417.5 100.3L417.0 100.7L416.1 101.0L415.4 101.3L415.2 102.0L414.9 102.7ZM410.0 97.7L409.3 97.5L408.8 97.0L408.5 96.3L408.9 95.7L409.6 95.3L410.3 95.2L411.0 95.5L411.1 96.3L410.9 97.0L410.3 97.6ZM409.3 105.4L408.4 105.3L408.0 104.8L408.0 104.0L408.2 103.3L408.6 102.7L409.2 102.3L409.9 102.3L410.5 102.7L410.8 103.3L410.7 104.3L410.3 104.8L409.7 105.3ZM414.7 99.0L414.0 98.7L413.4 98.0L413.6 97.0L413.6 96.0L413.9 95.3L414.7 95.2L415.3 95.7L415.4 96.3L415.3 97.0L415.0 98.0L414.9 98.7ZM409.7 96.8L409.1 96.3L409.7 95.9L410.1 96.3L409.7 96.8ZM416.7 100.0L415.7 100.2L415.2 99.7L415.7 99.3L416.3 99.5L416.7 100.0ZM414.3 102.0L413.5 102.0L414.0 101.3L414.3 101.6L414.3 102.0ZM409.3 104.7L408.7 104.3L409.0 103.6L409.7 103.2L410.2 103.7L410.0 104.4L409.3 104.7Z" fill="none" stroke="#9cc23c" stroke-width="0.55"/>
<path d="M392.7 43.4h0m0-.1h0m.3-1.3h0m.1-.6h0m.1 1.5h0m.1-1.6h0m1 0h0m1.4 1h0m1 .7h0m.4 1.1h0m-1.2 .6h0m-1.1-.3h0m-1.7 .6h0m-.4-.1h0m-.1 .2h0m-.2 1.1h0m-.4-.8h0m-.6-1.5h0m-.2 1.2h0m-.2 4.2h0m.1-.7h0m0 .7h0m.5 .1h0m.2-1.2h0m.6-.8h0m.2-.1h0m.1 .5h0m.3-.3h0m.1-.8h0m.7 1.8h0m.5-1.1h0m.7 1.4h0m1.1-.2h0m-.4 2.8h0m-.8-.7h0m-.2 0h0m-.1 0h0m-.5 1.2h0m-.3-1.8h0m-.4 2.3h0m0-2.2h0m-.5-.4h0m-.1 1.2h0m0-.3h0m-.1-1h0m-1.3 2.3h0m-.2-2.3h0m-1.1 3.4h0m.4 1.7h0m.1-2h0m.2 2.7h0m.2-.4h0m1-.1h0m.4-.7h0m.6-1.4h0m1.2 .9h0m.1 .2h0m.7 1.2h0m.2-2.1h0m1.8 4.6h0m-.8 .2h0m-.3-.8h0m-.2 .8h0m-.2-.6h0m-2.6-.4h0m-.1 1.2h0m-.3 0h0m-.5-2.2h0m.7 3.4h0m.1-.6h0m0 2.2h0m.4-1h0m.2 0h0m.4-1.3h0m.4 2.6h0m.4-1.3h0m.3 .9h0m.6-.5h0m.4-.8h0m0 1.2h0m.9-.7h0m.2-.3h0m.1 .8h0m.3-1.1h0m.2 .6h0m.3 .6h0m-1.7 1.8h0m-.3-.5h0m-1.6-.2h0" stroke="#2aaecb" stroke-width="0.95" stroke-linecap="round" opacity="0.85" fill="none"/>
<path d="M406.3 25.3h0m.4 .1h0m1.7 .1h0m.4-.5h0m1.2-.3h0m.6 .5h0m.6 .1h0m1.3-.8h0m.1-.5h0m1.8 1.3h0m.7-.7h0m.5 .9h0m0 0h0m1.4 0h0m.9-.3h0m.1 3h0m-1.3-1.3h0m-1.4-.6h0m-.2 1.7h0m-1.1-.5h0m-.5-.4h0m-.7 .5h0m-.1-.7h0m-.1 .5h0m-.3 .4h0m-.4-1.9h0m-.1 .2h0m0 .4h0m-.1 .6h0m-.5 .7h0m-.8 .1h0m-.4 .4h0m-.2-1.4h0m-.5-.7h0m-.4-.4h0m-1.1 .4h0m0 1.1h0m-.2-.5h0m-.5 0h0m-.7 .8h0m-.3-1.1h0m0 1.5h0m-.2-2.4h0m-.5 1h0m-.9 .9h0m-.7 .3h0m.2 1.3h0m1.9 1.3h0m.1-1.8h0m.1-.1h0m.7 1.1h0m1-.6h0m.6 1.5h0m.8-.4h0m.4-.8h0m1 .5h0m.6-.6h0m1.1-.1h0m.2 .1h0m.9 2.2h0m1-1.9h0m.1-.3h0m1.6 3.9h0m-1-.3h0m0 .1h0m-.3 1.4h0m-.2-1h0m-.1 .9h0m-.4-2.3h0m-.4 1.9h0m-2.4 1.2h0m.1 1.5h0m0-.4h0m1-1.3h0m2.5 1h0m.1 .3h0m.8 1.1h0m0-2.3h0m.1 2.6h0m.1-2.7h0m.4 2.1h0m0-1.7h0m.7 1.7h0m-1.5 1.2h0m-.7 2h0m-.1 .2h0m-1.1-1.6h0m-.3 .2h0m-.2-1.1h0m-.2 1.2h0m-.2 .7h0m-.2 .5h0m-.3-2.2h0m-.3 2.2h0m-1-.9h0m1.4 2.4h0m.2-.3h0m.6 1.4h0m.1-1.9h0m1.1 1.1h0m.6-1.2h0m.1 2.4h0m6.1-.1h0m-8.4 3h0m2.5 6.4h0m13.2 7.9h0m5.3-.7h0m.1 2.7h0m-14.7 0h0m13.8 4.4h0m1.1 1.4h0m-11.4 .1h0m.8 2.6h0" stroke="#1fa37a" stroke-width="0.95" stroke-linecap="round" opacity="0.85" fill="none"/>
<path d="M405.0 25.8h0m-2.3 1.4h0m-.2 1.2h0m-5.6 2.9h0m.1-.1h0m.4 .1h0m1.3-1.3h0m.1 1.2h0m.3-2.4h0m.1 .3h0m.4-.1h0m.7 2.2h0m.1-.4h0m.3-.4h0m.6-1.7h0m.6 2.3h0m.4-.7h0m.3-.5h0m.5 .9h0m.1-2.1h0m.3 2.8h0m1.4-.7h0m.4-2h0m.4 1.4h0m0-1.6h0m.2 1.6h0m.1 1.3h0m1.8-1h0m-.5 1.9h0m-.3 1.9h0m-.5-1.9h0m-.3 1.6h0m-.6 .2h0m-.1-2h0m-1.5-.2h0m-.2 .7h0m-.4 1.1h0m-.4-.8h0m-.3 1.1h0m-.1-1.3h0m-.6-.7h0m-1.2-.2h0m-.3 1h0m-.5 1.3h0m-.2-1.8h0m-.6 0h0m0 .3h0m-.1-.1h0m-.2 .9h0m-.8-1.5h0m-1.1 2h0m0-2.2h0m-.4 .1h0m-.2 1.6h0m-.2 1h0m-1.6 2.5h0m2.5-.4h0m.3-.4h0m.1-.9h0m.2 2.3h0m.2-1.2h0m.4-1.7h0m.4 2.6h0m2-2.5h0m0 2.1h0m.4-2.3h0m.1 1.1h0m.5-1.1h0m.2 .4h0m.3 1.4h0m1.3-1.5h0m1.1 .7h0m0-.5h0m.8 1.6h0m.1-.8h0m.4 1h0m1-.1h0m.8-1.4h0m.3 .6h0m0 .4h0m.7 .8h0m.4-.3h0m-1.4 1.7h0m-.3-.1h0m-.2 .9h0m-.1-1.4h0m-1.2 .8h0m-.3 .7h0m-.1 .5h0m-.4 0h0m-.4 .4h0m-.7-1.4h0m-1.3-1.3h0m-.2 .9h0m-.6-.4h0m-.6 .6h0m0 .6h0m-1.3-.3h0m-.4-.2h0m-.1-.5h0m-.2 1.7h0m0-.5h0m-.1 .6h0m-.6-.2h0m-.1-2.2h0m-.1 2.6h0m-.1-1.9h0m0 .6h0m-.7 .1h0m-.2-.8h0m0-.1h0m-.1 1.8h0m-1.3-.6h0m.9 2.1h0m.4 1.7h0m.2-2h0m.3 0h0m.3 1h0m.3-.3h0m1.2-1.2h0m0 .1h0m.4 .2h0m.5 2.2h0m.1-.5h0m1.2-.1h0m.4-1.9h0m.2 .9h0m.8 .9h0m.7 .9h0m.1-2.7h0m0 1.1h0m.4 .4h0m0-.8h0m.1-.9h0m1.2 1.7h0m.7-1.3h0m-2.6 2.9h0m-.7 .1h0m0 .2h0m-.5 .8h0m-.1 .7h0m-.7-1.4h0m-.2 0h0m-1.1-.2h0m-.7-.2h0" stroke="#c2a838" stroke-width="0.95" stroke-linecap="round" opacity="0.85" fill="none"/>
<path d="M417.0 42.0h0m5.6 1.5h0m-23.3 6h0m.5-.7h0m.7 .1h0m1.1-.3h0m1.4-1.1h0m.8-.8h0m.2 .7h0m.2 .9h0m1 .4h0m1 .1h0m.7 .6h0m.5-.4h0m1.8 3.4h0m-1.3-.9h0m-.4 .9h0m-.1-.6h0m-.1-.5h0m-.1-1h0m-1.1 .2h0m-.1 1.3h0m-.3-.2h0m-.8-1.4h0m-.6-.3h0m-.4-.1h0m-.2 1h0m-.3-.5h0m-.3 .3h0m-.6 .4h0m-.2-.3h0m-.4-.6h0m-.1-.4h0m-.3 1.7h0m-.1-1.3h0m-.3-.5h0m-.1 .8h0m-1.3 2h0m-.2-.7h0m-.3 .4h0m-.7-2.5h0m0 0h0m-1.7 3.5h0m.3 2.4h0m.1-.2h0m.2-2.3h0m.3-.4h0m.2 1.9h0m.4 .5h0m1.5-1.5h0m.7 1.7h0m.6-1.4h0m.1 .7h0m.2-.2h0m.2 1h0m.4 .2h0m.4-1.7h0m.4 1.3h0m.3-2.2h0m.8 2.6h0m.1-1.7h0m.3-1.3h0m.8 .9h0m.2-.1h0m0 1h0m0 .3h0m.2 0h0m0 .2h0m.1-.1h0m.2 .2h0m0-.7h0m.1-1.4h0m.1 2.6h0m1.8-1.3h0m.3 1.4h0m.5-3h0m1.5 1.4h0m6.5-1.1h0m-5.6 3.5h0m-1.2 1h0m-.5 1h0m-.1-1.6h0m-.8 1.5h0m0-1.7h0m0 1.7h0m-.4-.1h0m-.2-2.5h0m-.2 2.6h0m-.5-2.1h0m-.4 .3h0m0 1.3h0m-.5-1h0m-3.5-.9h0m-.6 .7h0m-.1 1.6h0m-.8-2.5h0m-.5 2.3h0m0-1.9h0m-.9 .4h0m-.2 .7h0m-.2 .8h0m-.6 0h0m-.7-.7h0m-.4 .1h0m-.7-1.1h0m.7 2.7h0m.4 .6h0m.7 .4h0m.1 0h0m.7-.4h0m.6 .7h0m.3-.8h0m.1-.4h0m1.2 1.9h0m1.2 .6h0m.5-2.9h0m.3 2.5h0m.4-.6h0m2.9-1.6h0m.1 0h0m.1 1.8h0m1.1-1.2h0m.8 .7h0m.5 .9h0m.5-1.5h0m0 .3h0m14.2-.7h0m1.7 3.7h0m-15-1.3h0m-3.3 .4h0m-1.8-.3h0m-.4 2.4h0m0-1.4h0m-1.7-.9h0m-.7 2.2h0m-1-2.1h0m-.3 1.7h0m-1.7-.8h0m-.1-.2h0m-.2-.8h0m-1.4 1.4h0m5.7 2.1h0m27.8-.5h0m.7 2h0m-6.1 2.5h0m-16 3.3h0m13.5-2h0" stroke="#e6a02e" stroke-width="0.95" stroke-linecap="round" opacity="0.85" fill="none"/>
<path d="M413.1 39.1h0m-.1-1.5h0m-.8 2.4h0m-1-.2h0m-2.2 1.7h0m.7 .1h0m1.1 0h0m.2 .7h0m.3-.1h0m.6-1.6h0m0 2h0m.3-1.3h0m1 2h0m.9-1.3h0m.1 .4h0m.6-.3h0m-.8 3.9h0m-.1-1.5h0m-.4-.8h0m-1.4 1h0m-.3 .1h0m-.7-1.2h0m-.3 0h0m-.7 2.2h0m-2 1.3h0m.1-.1h0m.5 2.4h0m.5-2.5h0m.4 .9h0m.2 1.6h0m.2-.9h0m.5-1.8h0m.4 2.1h0m.4-1h0m.2-.5h0m.5 1.3h0m.3 .2h0m.4-1.3h0m1.5-.8h0m13 2.9h0m-3.6 1.4h0m-8.2 1h0m-2.9-1.4h0m-.2 1.2h0m-.2-.7h0m-1.1-1h0m-.5 .5h0m-.2 .8h0m-.7-.3h0m-.3-.8h0m0 2.1h0m-.9-.7h0m-.6-1.4h0m.3 5.1h0m1.6-1.2h0m1.8-1.6h0m1.2 .3h0m10-.3h0m2.2 .1h0m-.1 3.1h0m-12.3 2h0m-1.2-.6h0m0 .8h0m-.9-2.2h0m-1.5 2h0m-1.4 .3h0m-.5 1.4h0m.9 .3h0m.5 1.5h0m1.1-1.1h0m1 1.1h0m.4-2.1h0m.1 1.2h0m.3 .8h0m.1-1.9h0m17.4 1.9h0m-7.7 1.7h0m-3.4 1h0m-7.7-1.1h0m-1.6-.9h0m13.8 5.9h0m9.8 2.7h0" stroke="#3c8fd4" stroke-width="0.95" stroke-linecap="round" opacity="0.85" fill="none"/>
<path d="M420.0 29.4h0m3.2 .7h0m.4-.3h0m.5-1.3h0m1 .8h0m.7 1.9h0m.7-1.2h0m.5 .5h0m.5-1h0m3.7 4.5h0m-.2-.9h0m-.7 .1h0m-.9 1.2h0m-.7-2.5h0m0 .9h0m-.3 1.5h0m-.1-2.3h0m-.3 1.2h0m-.1 .8h0m-.4-.4h0m-.1 .8h0m-.5-2h0m0 .8h0m0-.7h0m-.5 0h0m-.3 1.9h0m-1.3-2h0m-1.9 1h0m-.3-1.4h0m-.2 2.3h0m-.1-.2h0m-.2-1.3h0m-1.7-.2h0m-1-.5h0m-.7 3.4h0m.4 1.6h0m.1-.4h0m.9-1.9h0m.1 2.6h0m.2-.1h0m0 .1h0m.2-2.8h0m.1 .2h0m.1 1h0m.1 1h0m.8-.6h0m.4 .2h0m.2-.2h0m0-1.5h0m.2 1.7h0m.2 .8h0m.8-1.3h0m.1 .6h0m1.1 .6h0m.1-2.4h0m.1 1.8h0m.1-1.1h0m.1 1.7h0m.7-1.3h0m.8-.2h0m.1-.6h0m.7 .4h0m.1 1h0m1.4 .8h0m.2 .3h0m.4-.1h0m0-2.9h0m1 .3h0m.7 5.4h0m-.7-.1h0m-.5-2.3h0m0-.1h0m-.7 2.1h0m-.1-2.2h0m-.1 1.1h0m-.2-.9h0m-.2 .5h0m-.7 .7h0m-.1 .5h0m-.3-.8h0m-.5-.2h0m-.1 .8h0m0-.5h0m-.1 0h0m-.4 1.2h0m0-.1h0m-.1-.6h0m-.3-.3h0m-.2-1.4h0m-.7 2.2h0m-.4-1.2h0m-.1-.3h0m-.7 1.8h0m-.2-2.1h0m-.8 1.6h0m-.7-.9h0m-.3 .5h0m-.4 0h0m0-.8h0m-.7 1.6h0m-.9-.8h0m-1.5 2h0m.6-.5h0m.6 2.5h0m.2-2.3h0m.4 2.4h0m.4-2.8h0m.2 1.2h0m.1 1h0m.8 .7h0m.4-.7h0m.1-2h0m.1 2.8h0m.8-2.5h0m.1 1.8h0m.1 .4h0m.8-2.4h0m0 1.1h0m.2-.3h0m.5 1.1h0m.2-2h0m.4 1.4h0m.4-1.5h0m.1 .3h0m.4 1.1h0m0-.2h0m.2-.4h0m.1-.5h0m1.3 .2h0m.1 .9h0m.3 .9h0m.4 .6h0m.1-1.2h0m.4-1.1h0m.3 .2h0m.3-.2h0m2.2 .4h0m-.6 3.6h0m-3.7-.2h0m-2.1-.2h0m-.1 1.1h0m-3.1-.6h0m-.1 .3h0m-1.3 .7h0m0-2.6h0m-.6 2.3h0m-.3 .2h0m-.5-.8h0m-.3-.6h0m-1-1.1h0m2.7 3.5h0m1.2-.6h0m.4-.1h0m.7 2h0m.7-.4h0m.2 1.1h0m1.1-2.2h0m.1 1.2h0m0 1.2h0m.1-2.1h0m0 2.2h0m.5-2.7h0m.3 .9h0m.6 1.5h0m.3-.3h0m0 .6h0m.3-1.8h0m.5 .1h0m.4 .1h0m-1.8 2.3h0m0 1.3h0m-1.1-1.7h0m-.7-.1h0m-.3 1.1h0m-1.4-.7h0m-1.8 .7h0m-.2-.4h0" stroke="#36ad45" stroke-width="0.95" stroke-linecap="round" opacity="0.85" fill="none"/>
<path d="M425.5 42.2h0m-5.2 3.4h0m12.1 4.8h0m-2.2 2h0m-10.3-2.6h0m-7.5 1.1h0m7.9 1.7h0m5.6 2.6h0m.1-.6h0m.4 .9h0m.3-1.3h0m.2 1h0m.9-1.3h0m.2 .8h0m.2-.2h0m.3 1h0m.6-2.6h0m1.4 1.8h0m.1-.2h0m.6-1.2h0m.2 2.2h0m.1-1.1h0m.1-1.1h0m.4 .7h0m.6-1.4h0m.2 1.2h0m.1 1.4h0m.4-.8h0m.1-1.2h0m.5 2.2h0m.1 .1h0m1.1 2.4h0m-.1-1.8h0m-.6 2h0m-.1-.8h0m-.5-1h0m-.3 1.6h0m-.4 .5h0m-.1-.5h0m-.2-1.8h0m-1.3 1.3h0m-.4-.7h0m-.1-.6h0m-.3-.4h0m-.2 2.1h0m-.1-.8h0m-.1 .8h0m-.5-1.7h0m-.6-.3h0m-.4 2.4h0m-.1 0h0m-.1-2.2h0m-.9 2h0m-.4-.9h0m0 .8h0m-.1-.9h0m-.1 .9h0m-.1-.9h0m-.5-.4h0m-.5-.1h0m-.4 .3h0m-7 3.7h0m3-1h0m2.8 .8h0m.1-.8h0m.7 .2h0m.4-.2h0m.2-.8h0m.8 1.1h0m.6 0h0m.1-.3h0m.2 1.7h0m.1-.9h0m.4-.3h0m.3 .6h0m1.1-1.8h0m0 1h0m.5 1.3h0m.1-.9h0m.1-.7h0m.2-.1h0m.6-.2h0m.2-.4h0m.5 .8h0m.1 .5h0m.1 .3h0m.5 .3h0m.3-1.3h0m.5 1.5h0m.1-1h0m.1 1h0m.1-2.1h0m1.1 .2h0m1.5-.1h0m-3.8 2.7h0m-.2 2.3h0m-.3-2h0m-.5 0h0m-.5 1.5h0m-.6-.6h0m-.2 .7h0m-.2-1.1h0m0 1.2h0m-1.6-1.3h0m-.7 .5h0m-9.1-.6h0m-.6-.3h0m-6.2 5.3h0m9.2 0h0m6.2 .1h0m.6-2.2h0m3.4 2.2h0m-4.2 1.8h0m-6.7 1.3h0" stroke="#1ea3a3" stroke-width="0.95" stroke-linecap="round" opacity="0.85" fill="none"/>
<path d="M432.8 59.8h0m.7 .1h0m.8 1.1h0m.2-.4h0m.8-.1h0m.5 0h0m.2 .9h0m.6-.1h0m.8-.5h0m0-.9h0m.1 1.2h0m.2-.1h0m2.2 0h0m.5-1.1h0m0 1.6h0m1.6-1.1h0m0 .6h0m.9 .1h0m4.4 3.2h0m-2-2h0m0 2h0m-.1-.4h0m-.9-.1h0m-.6-1.5h0m-1 .9h0m0 .7h0m-.1 0h0m-.3-.2h0m-.2 .1h0m-.1-1.1h0m-.1 1.5h0m0-1.4h0m0-.3h0m-.1-.5h0m-.1 .6h0m-.3 .2h0m-.2 .2h0m-.1-1.4h0m-.3 2.5h0m-.8 .3h0m-.4-1.8h0m0 1.3h0m-.6-1.8h0m-.8 2.2h0m-.3-1.9h0m-.1 1.3h0m-.6 0h0m0 .7h0m-.1-.9h0m-.2-.5h0m0 .3h0m-.4 .9h0m-.2-1.2h0m-.5 .4h0m-.2-1.7h0m1.8 2.9h0m.8 .6h0m.3-.4h0m.8-.1h0m.6 1.1h0m.4-.3h0m0 1.7h0m0-2.1h0m.2 1.5h0m.7-1.6h0m.6 .7h0m0-.1h0m.9-.9h0m.4-.2h0m.2 2.7h0m.3 0h0m.2-1.8h0m.5 2.1h0m.1-2.5h0m.5 2.4h0m.4-1.8h0m.2 .8h0m0 .4h0m.5 .2h0m1.5 .1h0m.2-1.9h0m0 1.4h0m.1-.1h0m0-.2h0m.1 .9h0m.5-.1h0m.5 .4h0m.1-1.6h0m.1-.1h0m2.1 4.3h0m0-1h0m-.7-1.1h0m-.8 1.1h0m-.2 .6h0m-1-1.7h0m0 1.4h0m-.4-.7h0m-.3-.5h0m-.3 .1h0m-1.3-.7h0m-1.1 .1h0" stroke="#1b9a5a" stroke-width="0.95" stroke-linecap="round" opacity="0.85" fill="none"/>
<path d="M430.3 42.2h0m-6.1 1.5h0m-13.3 1.1h0m3.8 4.4h0m1.1-.2h0m44.9 3.4h0m-3.5-2.6h0m-1.3 2h0m-41.2-.3h0m7.5 3.7h0m29 .2h0m1-1.3h0m.9 1.2h0m1.1-.2h0m1.7-2.6h0m.6 1h0m.9 1.4h0m.3-.1h0m2.1-1.7h0m2-.6h0m2.7 2.1h0m-.3 2.7h0m0 .9h0m-.1 .1h0m-1.7-.7h0m-.6-1.1h0m-1.8 1.5h0m-.4-2.2h0m-.4 .6h0m-.3 .8h0m-1.1 .9h0m-.4-2.3h0m-.4 .9h0m-.7 1h0m-.6 .5h0m-.3-.2h0m-.6 0h0m-3.3-1.6h0m-1.3 1.2h0m-.7-1h0m-20.7 .6h0m-19.5 .9h0m1.8 .5h0m.7 2.2h0m35.2-.8h0m3.8 .7h0m.9-.8h0m4.4 0h0m.4 1.4h0m2.2-.4h0m0-.2h0m.7 .5h0m1.5-1.1h0m1.3 .5h0m1-1h0m.2-1h0m.4 2.5h0m.6-1.5h0m2.5 1h0m0 1.4h0m-1.6 2.4h0m-2.7-.8h0m-.4 .2h0m-.1-1.9h0m-.1 1.4h0m-.1-.1h0m-1.5-1.3h0m-.2-.3h0m-1 1.8h0m-.4-1.3h0m-.3 1.7h0m-.6 .2h0m-.7-.1h0m-.3-1.6h0m-.6 1.4h0m-.5-.7h0m-.1 .8h0m-.1-.7h0m-.3 1h0m-1.7-2h0m-.4 1.9h0m-.8-2.2h0m-.3-.1h0m-.4 1.6h0m-2.8 .2h0m-.6 .3h0m-.1-1.2h0m-1.1 .6h0m-12.4-1.2h0m-1.1 .3h0m-4.2 1.4h0m-1.5-1.9h0m-13.8 2h0m1.3 2h0m33 1.4h0m.5-.7h0m.3-1.4h0m.5 .5h0m.1 .4h0m.1 0h0m.4 .7h0m0-.5h0m1-.4h0m1.2-1.2h0m.8 1.9h0m1.2-1.8h0m.8 1h0m1.5 1.8h0m.6-.6h0m.4-.6h0m.8-.1h0m0-.3h0m.5-1.1h0m.3 .9h0m0 .8h0m0-1.7h0m0 1.1h0m.4 1.3h0m.6-2.2h0m0 1.6h0m.4-.7h0m1.3-1h0m.2 2.5h0m.6 .1h0m1-1.6h0m.6 1.8h0m-.5 .3h0m-.6 2.2h0m-4.1-2.1h0m-.3 .3h0m-.2 .8h0m-.1-1h0m-1.4 1.5h0m-.5 .7h0m-.4-1.7h0m-.5-.3h0m-.5 1.3h0m-.4 0h0m-.1-1.9h0m-.2 1.9h0m-1.4-.7h0m-.6-.9h0m-1.8 1.9h0m-.5-1h0m-.4-1.2h0m-.2 1.1h0m-35-.8h0m-2.1 4.7h0m.6-.2h0m4.9 .1h0m31.3-1h0m2.3 .3h0m1.2 .7h0m2-2h0m.1 2.2h0m.1-2.1h0m.9 2.1h0m1.7-1.9h0m.2-.5h0m1.4 .8h0m.1 .5h0m.3 .6h0m1.5-1.2h0" stroke="#ea6b6e" stroke-width="0.95" stroke-linecap="round" opacity="0.85" fill="none"/>
<path d="M430.7 43.4h0m-6 2.4h0m-1.5-1.7h0m-3.6-.5h0m-7 5.9h0m1.7-2.2h0m10 4.9h0m2.7 1.1h0m2.4 1.4h0m3.5 1.4h0m-18.3 .3h0m-3.7-.8h0m-1.7 10.5h0m5.5-.4h0m5.8 0h0m0 4.2h0m-5.5-.3h0m-.4 .4h0m-.4 .1h0m-1.1-.4h0m-.6-1.9h0m-.5 .1h0m0 1.4h0m-.6-.5h0m-.2-.7h0m-2.9 1.1h0m-.2 1h0m-.4 .1h0m0-1.1h0m0-1.4h0m-.6 1.8h0m-1.2 .7h0m-2.1 2.7h0m.3-2.2h0m.4 2.5h0m1.6-2.7h0m1.1 2.8h0m.6-1.7h0m.2 .8h0m.2-.1h0m.1-.4h0m.1-.7h0m.1 .4h0m.3 1.7h0m.2-.3h0m.4-1.1h0m.2 1.1h0m.4-1.1h0m.7 .8h0m.6-.9h0m.8-1.1h0m.7 .9h0m.3 1.6h0m.3-2.2h0m.1 .7h0m.3 1.2h0m0-.5h0m0 .3h0m.5 .3h0m.4-2.2h0m.6 .9h0m.1-1.1h0m1 .4h0m1.8 1.4h0m7-1.8h0m.8 .3h0m2.5-.2h0m-9.1 4.6h0m-1.4-.9h0m-.9 .3h0m-1 0h0m-.6 1.4h0m-.9 .1h0m-.3-2.7h0m-.3 1.2h0m-.6-1.2h0m-1 1.9h0m-.5-1.8h0m-.5 1.2h0m-.2-1.3h0m0 1.7h0m-.1 0h0m-.4 1h0m0-1.6h0m-.3 0h0m0 1.5h0m-.2 .1h0m-.1-.9h0m-1.6-.5h0m-.2-1.1h0m0 1.7h0m-.4-1.7h0m0 1.2h0m-.6 1.2h0m-.6-.6h0m-2.5-1.5h0m-.7-.5h0m3.8 3.1h0m1 .7h0m.8 0h0m.8-.7h0m0 2h0m.3-1.3h0m.2 .9h0m2 .2h0m.2 .4h0m.1-1.3h0m.3-.3h0m0 .4h0m.1-.8h0m.1 .1h0m0 0h0m.4 2.1h0m.3-1.6h0m.3 .8h0m.5 .6h0m.8-2.2h0m.4 2.2h0m.2-2.2h0m.4 2.4h0m.2-2.3h0m.9 2.6h0m.5-1.4h0m.4-1.5h0m.2 2.6h0m1.4 0h0m1.3 3h0m-2.2-2.4h0m-.6 2.3h0m-.1-2.2h0m-.1 1.1h0m-.6 .9h0m-1.2-.3h0m-.2-.7h0m-.3-.1h0m-.7 1.1h0m-.2 0h0m-1.5-1.8h0m0 .1h0m-1.4 1.6h0m-.2-1.3h0m-.3 0h0m-.6 2h0m-.2-2.7h0m-1.6 5.2h0m.4 .5h0m2.7-1.5h0m.3 0h0m.1 1.3h0m.1-1.3h0m.2 .5h0m.3 0h0m.1 .1h0m.1-1.6h0m.5 2.1h0m.2-1h0m.1 1.4h0m.1-.7h0m.5-1.6h0m.3 1.5h0m.4-.4h0m.1-.5h0m1.2-.7h0m.3 .7h0m.7 .4h0m.1-1.1h0m.6 1.4h0m.3 1h0m.1 .1h0m.2-1.5h0m.2 .5h0m.6-.8h0m1.9 1.6h0m.1 .8h0m-1 1.8h0m-.6-1h0m-.1 .2h0m-.1-.5h0m-1.1-.7h0m-.1-.1h0m-.1 1.6h0m-.6-1.6h0m-.5 .6h0m-.5 .1h0m-1.3-.6h0m-.8 1.5h0m-.4 .9h0m-2.1-2.2h0m-.7 .9h0m-.1 1.3h0m-.1-.1h0m-.1-.2h0m-1.8-1.4h0m-.2-.2h0m-.3 1.5h0m-.5 0h0m-1.1 3.3h0m1.2-2.5h0m1.2 2.1h0m.2-.5h0m1.5-1.1h0m1.7 .8h0m.6-.9h0m.1 1h0m.1-.9h0m.3 2.3h0m.1 0h0m.3-.2h0m1.1-.8h0m.4 .2h0m.1-1.4h0m.2 1.2h0m.9-.6h0m.5 .1h0m.3-1.3h0m.3 2.6h0m.1-.8h0m.2-.9h0m1.6-.6h0m.6-.4h0m.8 .4h0m-3.8 4h0m0-.9h0m-.1 1.2h0m-.3-.4h0m-1-.1h0m-2.2 .6h0m-.1 .1h0m-.3-.2h0m-1 .2h0m-1.5-1h0m-1-.6h0m-.9 0h0m3.7 3.6h0m.7 .7h0m2.9-.1h0m.5-1.6h0m1.9 .1h0" stroke="#f28b2a" stroke-width="0.95" stroke-linecap="round" opacity="0.85" fill="none"/>
<path d="M408.4 96.1h0m.4 1h0m0-.5h0m.4 .3h0m.3-.6h0m0 .1h0m.5-.1h0m.5-.4h0m.3-1.1h0m.5 .2h0m.3 1.4h0m1.2-1.3h0m.5 1.3h0m.6-.8h0m.2-.5h0m0 .8h0m.2-.6h0m.3 .2h0m0 .2h0m.4 1.7h0m.5-2.8h0m.1 1.8h0m.2 .4h0m.6-.8h0m.5-.4h0m1.4 1.7h0m.1-.6h0m.8-.8h0m-.1 2.6h0m-.2 1.7h0m-.1 .2h0m-1.3-.2h0m-.2-2.3h0m-.1 1.9h0m-.4 .3h0m-.3 .3h0m-.6-.1h0m-.1-.4h0m-.9-1.4h0m-.2 .9h0m-.2 .8h0m-.1-1h0m-.5-1.6h0m-.1 .1h0m-.4 .3h0m-.1 .7h0m-.6-.7h0m-.7 .4h0m-.6 1.1h0m0-1.6h0m-1.6 .3h0m-.5 2.2h0m-.5-.3h0m-.2 0h0m-.5 3.1h0m.2-1.7h0m0 1.1h0m1.2-.7h0m1.4 .5h0m.2-.6h0m.4-1.1h0m1.4 1.4h0m.3 0h0m.5 1.3h0m.1-1.4h0m.2 .1h0m.1 .5h0m.2-1h0m.8 .6h0m.9 .7h0m0 .3h0m.6-2.3h0m1.5 .7h0m2.1 1.3h0m-1.4 2.1h0m-2.5 .8h0m-.4 .4h0m-.6-1.8h0m-1.9 2h0m-.8-1h0m-.1 0h0m-.4 .6h0m-1-1.7h0m-.4 2.1h0m-.2-2.5h0m-1 2.3h0m-.1-2.6h0m-.4 1.7h0m-.2-.4h0m-.6 0h0m-.2-1.1h0m-.2 2.4h0m-1.3-1.4h0m3.7 3.6h0m.2 .9h0m1.1-.8h0m2.9-1.4h0m.4 .2h0m0 .5h0m.1 .7h0m.7-.2h0m1.5 .9h0m.5-1.8h0m.2 .3h0" stroke="#9cc23c" stroke-width="0.95" stroke-linecap="round" opacity="0.85" fill="none"/>
<circle cx="475.2" cy="34.6" r="1.7" fill="#9a8445"/>
<text x="479.5" y="37.5" font-family="Liberation Sans, sans-serif" font-size="8.3" text-anchor="start" fill="#333" textLength="32.8" lengthAdjust="spacingAndGlyphs" >LT-HSC.1</text>
<circle cx="515.9" cy="35.0" r="0.75" fill="#333"/>
<circle cx="475.2" cy="41.9" r="1.7" fill="#1f8a68"/>
<text x="479.5" y="44.8" font-family="Liberation Sans, sans-serif" font-size="8.3" text-anchor="start" fill="#333" textLength="32.8" lengthAdjust="spacingAndGlyphs" >LT-HSC.2</text>
<circle cx="515.9" cy="42.3" r="0.75" fill="#333"/>
<circle cx="475.2" cy="49.3" r="1.7" fill="#d8982e"/>
<text x="479.5" y="52.2" font-family="Liberation Sans, sans-serif" font-size="8.3" text-anchor="start" fill="#333" textLength="34.2" lengthAdjust="spacingAndGlyphs" >ST-HSC.1</text>
<circle cx="517.3" cy="49.7" r="0.75" fill="#333"/>
<circle cx="475.2" cy="56.6" r="1.7" fill="#1f9aa8"/>
<text x="479.5" y="59.5" font-family="Liberation Sans, sans-serif" font-size="8.3" text-anchor="start" fill="#333" textLength="34.2" lengthAdjust="spacingAndGlyphs" >ST-HSC.2</text>
<circle cx="475.2" cy="64.0" r="1.7" fill="#2a80ba"/>
<text x="479.5" y="66.9" font-family="Liberation Sans, sans-serif" font-size="8.3" text-anchor="start" fill="#333" textLength="16.5" lengthAdjust="spacingAndGlyphs" >MPP</text>
<circle cx="499.6" cy="64.4" r="0.75" fill="#333"/>
<circle cx="475.2" cy="71.3" r="1.7" fill="#1f8f3a"/>
<text x="479.5" y="74.2" font-family="Liberation Sans, sans-serif" font-size="8.3" text-anchor="start" fill="#333" textLength="16.5" lengthAdjust="spacingAndGlyphs" >MKP</text>
<circle cx="499.6" cy="71.7" r="0.75" fill="#333"/>
<circle cx="475.2" cy="78.6" r="1.7" fill="#da8030"/>
<text x="479.5" y="81.5" font-family="Liberation Sans, sans-serif" font-size="8.3" text-anchor="start" fill="#333" textLength="16.9" lengthAdjust="spacingAndGlyphs" >CMP</text>
<circle cx="475.2" cy="86.0" r="1.7" fill="#2a8080"/>
<text x="479.5" y="88.9" font-family="Liberation Sans, sans-serif" font-size="8.3" text-anchor="start" fill="#333" textLength="16.5" lengthAdjust="spacingAndGlyphs" >MEP</text>
<circle cx="499.6" cy="86.4" r="0.75" fill="#333"/>
<circle cx="475.2" cy="93.3" r="1.7" fill="#7e9040"/>
<text x="479.5" y="96.2" font-family="Liberation Sans, sans-serif" font-size="8.3" text-anchor="start" fill="#333" textLength="17.3" lengthAdjust="spacingAndGlyphs" >GMP</text>
<circle cx="500.4" cy="93.7" r="0.75" fill="#333"/>
<circle cx="475.2" cy="100.7" r="1.7" fill="#1a7a48"/>
<text x="479.5" y="103.6" font-family="Liberation Sans, sans-serif" font-size="8.3" text-anchor="start" fill="#333" textLength="15.6" lengthAdjust="spacingAndGlyphs" >ERP</text>
<circle cx="475.2" cy="108.0" r="1.7" fill="#c85462"/>
<text x="479.5" y="110.9" font-family="Liberation Sans, sans-serif" font-size="8.3" text-anchor="start" fill="#333" textLength="11.4" lengthAdjust="spacingAndGlyphs" >Ery</text>
<text x="1.0" y="177.8" font-family="Liberation Sans, sans-serif" font-size="11" text-anchor="start" fill="#000" font-weight="bold" stroke="#000" stroke-width="0.35">Aiii</text>
<defs><linearGradient id="pk" x1="0" y1="0" x2="0" y2="1"><stop offset="0" stop-color="#f59a5a"/><stop offset="0.18" stop-color="#e8684e"/><stop offset="0.45" stop-color="#b8305e"/><stop offset="0.75" stop-color="#6a1878"/><stop offset="1" stop-color="#2a0c44"/></linearGradient><linearGradient id="pk2" x1="0" y1="0" x2="0" y2="1"><stop offset="0" stop-color="#f7b070"/><stop offset="0.2" stop-color="#ee7a52"/><stop offset="0.5" stop-color="#c03a5a"/><stop offset="0.8" stop-color="#6a1a78"/><stop offset="1" stop-color="#1e0a36"/></linearGradient><linearGradient id="pp" x1="0" y1="0" x2="0" y2="1"><stop offset="0" stop-color="#a8408a"/><stop offset="0.35" stop-color="#7a2288"/><stop offset="0.7" stop-color="#4a1470"/><stop offset="1" stop-color="#1a0830"/></linearGradient><linearGradient id="cb" x1="0" y1="0" x2="0" y2="1"><stop offset="0" stop-color="#f6b47a"/><stop offset="0.3" stop-color="#ea6a50"/><stop offset="0.6" stop-color="#a02a70"/><stop offset="0.85" stop-color="#4a1070"/><stop offset="1" stop-color="#100818"/></linearGradient><filter id="sb" x="-10%" y="-10%" width="120%" height="120%"><feGaussianBlur stdDeviation="0.9"/></filter><filter id="sb2" x="-20%" y="-20%" width="140%" height="140%"><feGaussianBlur stdDeviation="2.2"/></filter></defs>
<path d="M60.0 189.6L294.5 235.5L256.0 294.0L20.8 250.0Z" fill="#e8e8e8"/>
<path d="M61.5 191.0L170.0 210.8L137.5 268.5L26.5 251.5Z" fill="#f6f6f6"/>
<path d="M171.5 214.5L269.0 232.5L238.0 288.5L135.0 270.5Z" fill="#f6f6f6"/>
<text transform="translate(45.2,221) rotate(-58)" font-family="Liberation Sans, sans-serif" font-size="3.6" text-anchor="middle" fill="#777">UMAP2</text>
<text transform="translate(108,268) rotate(10)" font-family="Liberation Sans, sans-serif" font-size="3.2" text-anchor="middle" fill="#999">UMAP1_1</text>
<path d="M164 213.5L135.5 264.5M170.5 215.5L141.5 267.5" stroke="#dcdcdc" stroke-width="1.6"/>
<path d="M64.0 197.0L165.4 214.0L134.0 262.0L39.0 247.0Z" fill="#050308"/>
<path d="M174.0 217.0L263.4 233.7L233.7 282.5L142.0 266.3Z" fill="#050308"/>
<path d="M56.0 248.5C57.0 247.6 59.4 246.8 61.0 246.2C62.6 245.6 63.9 245.0 65.4 245.2C66.9 245.4 68.2 246.1 70.0 247.5C71.8 248.9 72.7 251.7 76.0 253.5C79.3 255.3 85.2 256.9 90.0 258.5C94.8 260.1 103.2 262.0 105.0 263.2C106.8 264.4 105.2 265.8 101.0 265.5C96.8 265.2 86.5 263.1 80.0 261.5C73.5 259.9 66.2 257.7 62.0 256.0C57.8 254.3 56.0 252.8 55.0 251.5C54.0 250.2 55.0 249.4 56.0 248.5Z" fill="#d8d8d8" filter="url(#sb)"/>
<path d="M159.0 269.8C159.9 268.9 162.1 267.3 163.5 266.6C164.9 265.9 166.3 265.1 167.7 265.4C169.1 265.7 170.4 266.7 172.0 268.5C173.6 270.3 174.2 274.1 177.5 276.0C180.8 277.9 187.2 278.8 192.0 280.0C196.8 281.2 204.2 282.5 206.0 283.4C207.8 284.3 207.0 285.8 203.0 285.6C199.0 285.4 188.3 283.6 182.0 282.0C175.7 280.4 169.0 277.7 165.0 276.0C161.0 274.3 159.0 273.0 158.0 272.0C157.0 271.0 158.1 270.7 159.0 269.8Z" fill="#d8d8d8" filter="url(#sb)"/>
<g style="fill:currentColor;stroke:currentColor;stroke-width:.4;stroke-linejoin:round"><path color="#050014" d="M64 196.7l2.2 .2l-.8 1.2l-2.2 -.1zM121.3 206.2l2.2 .6l-.9 1.1l-2.2 -.9z"/><path color="#050019" d="M66.2 196.9l2.2 .2l-.8 1.1l-2.2 -.1z"/><path color="#0a0019" d="M68.4 197.1l2.2 .2l-.8 1l-2.2 0zM119.1 205.6l2.2 .6l-.9 .8l-2.2 -1z"/><path color="#0a001e" d="M70.6 197.3l2.2 .1l-.8 .8l-2.2 0zM116.9 205l2.2 .6l-.9 .4l-2.2 -1z"/><path color="#0f0023" d="M72.8 197.4l2.2 .1l-.8 .6l-2.2 .1z"/><path color="#0f0528" d="M75 197.5l2.2 .1l-.8 .4l-2.2 .1zM112.5 204l2.2 .4l-.9 -.2l-2.2 -.4z"/><path color="#14052d" d="M77.2 197.7l2.2 .1l-.8 .3l-2.2 .1zM99.3 201.1l2.2 .6l-.9 .1l-2.2 -.7z"/><path color="#190532" d="M79.4 197.8l2.2 .2l-.8 .1l-2.2 0zM81.6 197.9l2.2 .2l-.8 0l-2.2 -.1zM92.7 199.5l2.2 .5l-.8 -.2l-2.2 -.5zM94.9 200l2.2 .5l-.8 -.1l-2.2 -.6z"/><path color="#1e0537" d="M83.8 198.1l2.2 .2l-.8 -.1l-2.2 -.1zM86 198.4l2.2 .3l-.8 -.2l-2.2 -.2zM88.2 198.7l2.2 .4l-.8 -.2l-2.2 -.3zM90.5 199.1l2.2 .4l-.8 -.2l-2.2 -.4z"/><path color="#19052d" d="M97.1 200.5l2.2 .6l-.9 0l-2.2 -.7z"/><path color="#140528" d="M101.5 201.7l2.2 .6l-.9 .3l-2.2 -.7z"/><path color="#0f0523" d="M103.7 202.3l2.2 .5l-.9 .3l-2.2 -.6zM105.9 202.8l2.2 .5l-.9 .2l-2.2 -.4zM108.1 203.3l2.2 .4l-.9 0l-2.2 -.2zM110.3 203.7l2.2 .4l-.9 -.2l-2.2 -.2zM114.7 204.5l2.2 .5l-.9 0l-2.2 -.7z"/><path color="#05000f" d="M123.5 206.8l2.2 .5l-.9 1.3l-2.2 -.7zM125.7 207.2l2.2 .4l-.9 1.5l-2.2 -.5z"/><path color="#00000a" d="M127.9 207.7l2.2 .4l-.9 1.5l-2.2 -.4zM130.1 208.1l2.2 .4l-.9 1.5l-2.2 -.4z"/><path color="#000005" d="M132.3 208.5l2.2 .4l-.9 1.5l-2.2 -.4zM134.5 208.8l2.2 .4l-.9 1.5l-2.2 -.4zM136.7 209.2l2.2 .4l-.9 1.5l-2.2 -.4zM138.9 209.6l2.2 .4l-.9 1.5l-2.2 -.4zM141.2 209.9l2.2 .4l-.9 1.5l-2.2 -.4zM143.4 210.3l2.2 .4l-.9 1.5l-2.2 -.4zM145.6 210.7l2.2 .4l-.9 1.5l-2.2 -.4zM147.8 211l2.2 .4l-1 1.5l-2.2 -.4zM150 211.4l2.2 .4l-1 1.5l-2.2 -.4zM152.2 211.8l2.2 .4l-1 1.5l-2.2 -.4zM154.4 212.2l2.2 .4l-1 1.5l-2.2 -.4zM156.6 212.5l2.2 .4l-1 1.5l-2.2 -.4zM158.8 212.9l2.2 .4l-1 1.5l-2.2 -.4zM161 213.3l2.2 .4l-1 1.5l-2.2 -.4zM163.2 213.6l2.2 .4l-1 1.5l-2.2 -.4z"/><path color="#0a0019" d="M63.2 198l2.2 .1l-.8 1.1l-2.2 0z"/><path color="#0a001e" d="M65.4 198.1l2.2 .1l-.8 .9l-2.2 .1zM120.4 207l2.2 .9l-.9 .8l-2.2 -1.6z"/><path color="#0f0523" d="M67.6 198.2l2.2 0l-.8 .7l-2.2 .2z"/><path color="#14052d" d="M69.8 198.2l2.2 0l-.8 .5l-2.2 .3zM118.2 206l2.2 1l-.9 .1l-2.2 -1.8z"/><path color="#190537" d="M72 198.2l2.2 -.1l-.8 .2l-2.2 .3z"/><path color="#1e053c" d="M74.2 198.2l2.2 -.1l-.8 0l-2.2 .3zM100.6 201.8l2.2 .7l-.9 -.6l-2.2 -.8zM107.2 203.5l2.2 .2l-.9 -1.2l-2.2 .2z"/><path color="#230541" d="M76.4 198.1l2.2 -.1l-.8 -.3l-2.2 .3zM96.2 200.4l2.2 .7l-.9 -.8l-2.2 -.8zM109.4 203.7l2.2 .2l-.9 -1.6l-2.2 .2zM113.8 204.3l2.2 .7l-.9 -1.4l-2.2 -1.1z"/><path color="#280546" d="M78.6 198l2.2 0l-.8 -.5l-2.2 .2zM80.8 198l2.2 .1l-.8 -.7l-2.2 .1zM83 198.1l2.2 .1l-.8 -.9l-2.2 0z"/><path color="#2d0a46" d="M85.2 198.2l2.2 .2l-.8 -1l-2.2 -.1zM87.4 198.5l2.2 .3l-.8 -1.1l-2.2 -.3z"/><path color="#280541" d="M89.6 198.8l2.2 .4l-.8 -1.1l-2.2 -.4zM91.8 199.3l2.2 .5l-.8 -1.1l-2.2 -.6zM94 199.8l2.2 .6l-.8 -1l-2.2 -.7zM111.6 203.9l2.2 .4l-.9 -1.7l-2.2 -.3z"/><path color="#23053c" d="M98.4 201.1l2.2 .7l-.9 -.7l-2.2 -.9z"/><path color="#1e0537" d="M102.8 202.5l2.2 .6l-.9 -.6l-2.2 -.6zM105 203.1l2.2 .4l-.9 -.8l-2.2 -.2zM116 205l2.2 1l-.9 -.7l-2.2 -1.7z"/><path color="#050014" d="M122.6 207.9l2.2 .7l-.9 1.2l-2.2 -1.1z"/><path color="#05000f" d="M124.8 208.6l2.2 .5l-.9 1.4l-2.2 -.7z"/><path color="#00000a" d="M127 209.1l2.2 .4l-.9 1.5l-2.2 -.5zM129.2 209.6l2.2 .4l-.9 1.5l-2.2 -.4zM131.4 210l2.2 .4l-.9 1.5l-2.2 -.4z"/><path color="#000005" d="M133.6 210.3l2.2 .4l-.9 1.5l-2.2 -.4zM135.8 210.7l2.2 .4l-.9 1.5l-2.2 -.4zM138 211.1l2.2 .4l-.9 1.5l-2.2 -.4zM140.2 211.4l2.2 .4l-.9 1.5l-2.2 -.4zM142.4 211.8l2.2 .4l-.9 1.5l-2.2 -.4zM144.6 212.2l2.2 .4l-.9 1.5l-2.2 -.4zM146.8 212.6l2.2 .4l-1 1.5l-2.2 -.4zM149 212.9l2.2 .4l-1 1.5l-2.2 -.4zM151.2 213.3l2.2 .4l-1 1.5l-2.2 -.4zM153.4 213.7l2.2 .4l-1 1.5l-2.2 -.4zM155.6 214l2.2 .4l-1 1.5l-2.2 -.4zM157.8 214.4l2.2 .4l-1 1.5l-2.2 -.4zM160 214.8l2.2 .4l-1 1.5l-2.2 -.4zM162.2 215.1l2.2 .4l-1 1.5l-2.2 -.4z"/><path color="#0a001e" d="M62.4 199.2l2.2 0l-.8 .9l-2.2 .2zM121.7 208.7l2.2 1.1l-.9 1l-2.2 -1.7z"/><path color="#140528" d="M64.6 199.2l2.2 -.1l-.8 .7l-2.2 .3z"/><path color="#190537" d="M66.8 199.1l2.2 -.2l-.8 .4l-2.2 .5z"/><path color="#230541" d="M69 199l2.2 -.3l-.8 .1l-2.2 .6z"/><path color="#280546" d="M71.2 198.7l2.2 -.3l-.8 -.2l-2.2 .6z"/><path color="#2d0a50" d="M73.4 198.4l2.2 -.3l-.8 -.6l-2.2 .7z"/><path color="#320a4b" d="M75.6 198.1l2.2 -.3l-.8 -.9l-2.2 .7z"/><path color="#370a4b" d="M77.8 197.7l2.2 -.2l-.8 -1.2l-2.2 .6zM97.6 200.3l2.2 .9l-.9 -1.6l-2.2 -1.1z"/><path color="#3c0a4b" d="M80 197.5l2.2 -.1l-.8 -1.5l-2.2 .4zM95.4 199.4l2.2 .8l-.9 -1.8l-2.2 -1zM106.4 202.7l2.2 -.2l-.9 -2.2l-2.2 .7zM115.1 203.6l2.2 1.7l-.9 -1.4l-2.2 -2.6z"/><path color="#410f4b" d="M82.2 197.3l2.2 0l-.8 -1.7l-2.2 .2zM93.2 198.7l2.2 .7l-.8 -1.9l-2.2 -.8z"/><path color="#460f4b" d="M84.4 197.3l2.2 .1l-.8 -1.9l-2.2 .1z"/><path color="#460f50" d="M86.6 197.4l2.2 .3l-.8 -2l-2.2 -.2zM88.8 197.7l2.2 .4l-.8 -2.1l-2.2 -.4zM91 198.1l2.2 .6l-.8 -2l-2.2 -.6zM108.5 202.5l2.2 -.2l-.9 -2.7l-2.2 .7z"/><path color="#320a46" d="M99.8 201.2l2.2 .8l-.9 -1.4l-2.2 -1zM102 202l2.2 .6l-.9 -1.4l-2.2 -.6z"/><path color="#370a46" d="M104.2 202.5l2.2 .2l-.9 -1.7l-2.2 .1z"/><path color="#4b0f50" d="M110.7 202.3l2.2 .3l-.9 -2.8l-2.2 -.2zM112.9 202.6l2.2 1.1l-.9 -2.3l-2.2 -1.5z"/><path color="#280541" d="M117.3 205.3l2.2 1.8l-.9 -.3l-2.2 -2.9z"/><path color="#190532" d="M119.5 207.1l2.2 1.6l-.9 .5l-2.2 -2.4z"/><path color="#050014" d="M123.9 209.8l2.2 .7l-.9 1.3l-2.2 -1z"/><path color="#05000f" d="M126.1 210.5l2.2 .5l-.9 1.4l-2.2 -.6z"/><path color="#00000a" d="M128.3 211l2.2 .4l-.9 1.5l-2.2 -.5zM130.5 211.5l2.2 .4l-.9 1.5l-2.2 -.4zM132.7 211.9l2.2 .4l-.9 1.5l-2.2 -.4zM134.9 212.2l2.2 .4l-.9 1.5l-2.2 -.4zM137.1 212.6l2.2 .4l-.9 1.5l-2.2 -.4zM139.3 213l2.2 .4l-.9 1.5l-2.2 -.4zM141.5 213.3l2.2 .4l-.9 1.5l-2.2 -.4zM143.7 213.7l2.2 .4l-.9 1.5l-2.2 -.4zM145.9 214.1l2.2 .4l-1 1.5l-2.2 -.4zM148.1 214.4l2.2 .4l-1 1.5l-2.2 -.4zM150.3 214.8l2.2 .4l-1 1.5l-2.2 -.4zM152.5 215.2l2.2 .4l-1 1.5l-2.2 -.4zM154.7 215.5l2.2 .4l-1 1.5l-2.2 -.4zM156.9 215.9l2.2 .4l-1 1.5l-2.2 -.4zM159 216.3l2.2 .4l-1 1.5l-2.2 -.4zM161.2 216.6l2.2 .4l-1 1.5l-2.2 -.4z"/><path color="#14052d" d="M61.7 200.3l2.2 -.2l-.8 .8l-2.2 .4zM120.8 209.2l2.2 1.7l-.9 1l-2.2 -2.1z"/><path color="#1e053c" d="M63.8 200.2l2.2 -.3l-.8 .5l-2.2 .6z"/><path color="#280546" d="M66 199.8l2.2 -.5l-.8 .2l-2.2 .8zM118.6 206.8l2.2 2.4l-.9 .6l-2.2 -3.1z"/><path color="#2d0a50" d="M68.2 199.4l2.2 -.6l-.8 -.2l-2.2 .9z"/><path color="#370a55" d="M70.4 198.8l2.2 -.6l-.8 -.6l-2.2 1.1z"/><path color="#410f55" d="M72.6 198.2l2.2 -.7l-.8 -1l-2.2 1.1z"/><path color="#4b0f55" d="M74.8 197.5l2.2 -.7l-.8 -1.4l-2.2 1.1z"/><path color="#500f50" d="M77 196.8l2.2 -.6l-.8 -1.8l-2.2 .9zM98.9 199.6l2.2 1l-.9 -1.8l-2.2 -1.3zM103.3 201.2l2.2 -.1l-.9 -1.7l-2.2 .1z"/><path color="#551450" d="M79.2 196.3l2.2 -.4l-.8 -2.1l-2.2 .8zM96.7 198.5l2.2 1.1l-.9 -2.1l-2.2 -1.4z"/><path color="#5a144b" d="M81.4 195.9l2.2 -.2l-.8 -2.4l-2.2 .5zM94.5 197.5l2.2 1l-.9 -2.4l-2.2 -1.2zM105.5 201l2.2 -.7l-.9 -1.9l-2.2 .9zM114.2 201.3l2.2 2.6l-.9 -.9l-2.2 -3.3z"/><path color="#5f144b" d="M83.6 195.6l2.2 -.1l-.8 -2.6l-2.2 .3zM92.3 196.7l2.2 .8l-.8 -2.6l-2.2 -.9z"/><path color="#64194b" d="M85.8 195.6l2.2 .2l-.8 -2.7l-2.2 0zM88 195.7l2.2 .4l-.8 -2.8l-2.2 -.3zM90.1 196.1l2.2 .6l-.8 -2.8l-2.2 -.6zM107.7 200.3l2.2 -.7l-.9 -2.1l-2.2 .9z"/><path color="#4b0f50" d="M101.1 200.6l2.2 .6l-.9 -1.7l-2.2 -.8z"/><path color="#6e1946" d="M109.9 199.6l2.2 .2l-.9 -2.1l-2.2 -.2z"/><path color="#691946" d="M112.1 199.8l2.2 1.5l-.9 -1.6l-2.2 -2z"/><path color="#410f4b" d="M116.4 203.9l2.2 2.9l-.9 -.1l-2.2 -3.7z"/><path color="#0a0019" d="M123 210.8l2.2 1l-.9 1.2l-2.2 -1.3z"/><path color="#050014" d="M125.2 211.8l2.2 .6l-.9 1.4l-2.2 -.8z"/><path color="#05000f" d="M127.4 212.5l2.2 .5l-.9 1.4l-2.2 -.5z"/><path color="#00000a" d="M129.6 213l2.2 .4l-.9 1.5l-2.2 -.4zM131.8 213.4l2.2 .4l-.9 1.5l-2.2 -.4zM134 213.7l2.2 .4l-.9 1.5l-2.2 -.4zM136.2 214.1l2.2 .4l-.9 1.5l-2.2 -.4zM138.4 214.5l2.2 .4l-.9 1.5l-2.2 -.4zM140.5 214.8l2.2 .4l-.9 1.5l-2.2 -.4zM142.7 215.2l2.2 .4l-.9 1.5l-2.2 -.4zM144.9 215.6l2.2 .4l-1 1.5l-2.2 -.4zM147.1 215.9l2.2 .4l-1 1.5l-2.2 -.4zM149.3 216.3l2.2 .4l-1 1.4l-2.2 -.4zM151.5 216.6l2.2 .4l-1 1.4l-2.2 -.4zM153.7 217l2.2 .4l-1 1.4l-2.2 -.4zM155.9 217.4l2.2 .4l-1 1.5l-2.2 -.4zM158.1 217.7l2.2 .4l-1 1.5l-2.2 -.4zM160.3 218.1l2.2 .4l-1 1.5l-2.2 -.4z"/><path color="#1e053c" d="M60.9 201.4l2.2 -.4l-.8 .8l-2.2 .6zM119.9 209.7l2.2 2.1l-.9 .9l-2.2 -2.1z"/><path color="#28054b" d="M63.1 201l2.2 -.6l-.8 .5l-2.2 .9z"/><path color="#320a5a" d="M65.2 200.4l2.2 -.8l-.8 .1l-2.2 1.1z"/><path color="#410f5a" d="M67.4 199.6l2.2 -.9l-.8 -.3l-2.2 1.3z"/><path color="#500f5f" d="M69.6 198.7l2.2 -1.1l-.8 -.7l-2.2 1.5z"/><path color="#5a145a" d="M71.8 197.6l2.2 -1.1l-.8 -1.2l-2.2 1.5z"/><path color="#5f1450" d="M74 196.5l2.2 -1.1l-.8 -1.6l-2.2 1.5z"/><path color="#64194b" d="M76.2 195.5l2.2 -.9l-.8 -2l-2.2 1.3zM100.2 198.7l2.2 .8l-.9 -1.1l-2.2 -1.3z"/><path color="#6e1946" d="M78.4 194.5l2.2 -.8l-.8 -2.3l-2.2 1.1zM95.9 196.1l2.2 1.4l-.9 -2.1l-2.2 -1.8z"/><path color="#731e41" d="M80.6 193.8l2.2 -.5l-.8 -2.6l-2.2 .8zM93.7 194.8l2.2 1.2l-.9 -2.4l-2.2 -1.5z"/><path color="#781e41" d="M82.7 193.2l2.2 -.3l-.8 -2.8l-2.2 .4zM91.5 193.9l2.2 .9l-.8 -2.7l-2.2 -1.1z"/><path color="#7d233c" d="M84.9 193l2.2 0l-.8 -2.9l-2.2 .1zM87.1 193l2.2 .3l-.8 -2.9l-2.2 -.3zM89.3 193.3l2.2 .6l-.8 -2.9l-2.2 -.7z"/><path color="#69194b" d="M98.1 197.5l2.2 1.3l-.9 -1.6l-2.2 -1.8z"/><path color="#6e1950" d="M102.4 199.5l2.2 -.1l-.9 -.6l-2.2 -.4z"/><path color="#871e5a" d="M104.6 199.4l2.2 -.9l-.9 -.1l-2.2 .4z"/><path color="#a0285a" d="M106.8 198.4l2.2 -.9l-.9 .3l-2.2 .5z"/><path color="#aa2d55" d="M109 197.5l2.2 .2l-.9 .6l-2.2 -.5z"/><path color="#962850" d="M111.2 197.7l2.2 2l-.9 .8l-2.2 -2.1z"/><path color="#731950" d="M113.4 199.7l2.2 3.3l-.9 .9l-2.2 -3.4z"/><path color="#55145a" d="M115.5 203l2.2 3.7l-.9 .9l-2.2 -3.7z"/><path color="#370a50" d="M117.7 206.7l2.2 3.1l-.9 .9l-2.2 -3z"/><path color="#0f0523" d="M122.1 211.8l2.2 1.3l-.9 1l-2.2 -1.4z"/><path color="#050019" d="M124.3 213.1l2.2 .8l-.9 1.1l-2.2 -.9z"/><path color="#050014" d="M126.5 213.8l2.2 .5l-.9 1.3l-2.2 -.7z"/><path color="#05000f" d="M128.7 214.4l2.2 .4l-.9 1.4l-2.2 -.5zM130.9 214.8l2.2 .4l-.9 1.4l-2.2 -.4zM139.6 216.3l2.2 .4l-.9 1.4l-2.2 -.3zM141.8 216.7l2.2 .4l-.9 1.4l-2.2 -.3zM144 217l2.2 .4l-1 1.4l-2.2 -.3zM146.2 217.4l2.2 .4l-1 1.4l-2.2 -.4zM148.4 217.7l2.2 .4l-1 1.4l-2.2 -.4zM150.5 218.1l2.2 .4l-1 1.4l-2.2 -.4zM152.7 218.5l2.2 .4l-1 1.4l-2.2 -.4zM154.9 218.8l2.2 .4l-1 1.4l-2.2 -.4zM157.1 219.2l2.2 .4l-1 1.4l-2.2 -.4zM159.3 219.6l2.2 .4l-1 1.4l-2.2 -.4z"/><path color="#00000a" d="M133 215.2l2.2 .4l-.9 1.4l-2.2 -.4zM135.2 215.6l2.2 .4l-.9 1.4l-2.2 -.4zM137.4 215.9l2.2 .4l-.9 1.4l-2.2 -.3z"/><path color="#28054b" d="M60.1 202.4l2.2 -.6l-.8 .8l-2.2 .9z"/><path color="#320a5a" d="M62.3 201.7l2.2 -.9l-.8 .5l-2.2 1.2z"/><path color="#460f64" d="M64.5 200.8l2.2 -1.1l-.8 .2l-2.2 1.5z"/><path color="#551464" d="M66.6 199.7l2.2 -1.3l-.8 -.2l-2.2 1.7z"/><path color="#641464" d="M68.8 198.4l2.2 -1.5l-.8 -.6l-2.2 1.9z"/><path color="#73195a" d="M71 196.9l2.2 -1.5l-.8 -1.1l-2.2 2z"/><path color="#7d1e50" d="M73.2 195.3l2.2 -1.5l-.8 -1.4l-2.2 1.9z"/><path color="#7d1e41" d="M75.4 193.9l2.2 -1.3l-.8 -1.8l-2.2 1.7z"/><path color="#822337" d="M77.6 192.5l2.2 -1.1l-.8 -2.1l-2.2 1.4z"/><path color="#872832" d="M79.7 191.4l2.2 -.8l-.8 -2.3l-2.2 1zM92.8 192.1l2.2 1.5l-.9 -1.6l-2.2 -1.8z"/><path color="#8c2832" d="M81.9 190.6l2.2 -.4l-.8 -2.4l-2.2 .6zM90.7 191l2.2 1.1l-.8 -1.9l-2.2 -1.3z"/><path color="#8c2d2d" d="M84.1 190.2l2.2 -.1l-.8 -2.4l-2.2 .1zM86.3 190.1l2.2 .3l-.8 -2.3l-2.2 -.3zM88.5 190.4l2.2 .7l-.8 -2.2l-2.2 -.8z"/><path color="#82233c" d="M95 193.6l2.2 1.8l-.9 -1.2l-2.2 -2.2z"/><path color="#781e41" d="M97.2 195.4l2.2 1.8l-.9 -.6l-2.2 -2.3z"/><path color="#781e4b" d="M99.4 197.1l2.2 1.3l-.9 .1l-2.2 -2z"/><path color="#96235f" d="M101.6 198.4l2.2 .4l-.9 1.1l-2.2 -1.3z"/><path color="#c32d78" d="M103.7 198.8l2.2 -.4l-.9 2.1l-2.2 -.6z"/><path color="#dc3778" d="M105.9 198.3l2.2 -.5l-.9 3l-2.2 -.4z"/><path color="#d73773" d="M108.1 197.8l2.2 .5l-.9 3.5l-2.2 -1z"/><path color="#be2d6e" d="M110.3 198.3l2.2 2.1l-.9 3.3l-2.2 -2z"/><path color="#91236e" d="M112.5 200.5l2.2 3.4l-.9 2.6l-2.2 -2.7z"/><path color="#69146e" d="M114.7 203.9l2.2 3.7l-.9 1.7l-2.2 -2.8z"/><path color="#410f5a" d="M116.8 207.6l2.2 3l-.9 .9l-2.2 -2.3z"/><path color="#280546" d="M119 210.6l2.2 2.1l-.9 .5l-2.2 -1.7z"/><path color="#190532" d="M121.2 212.7l2.2 1.4l-.9 .5l-2.2 -1.3z"/><path color="#0f0023" d="M123.4 214.1l2.2 .9l-.9 .7l-2.2 -1.1z"/><path color="#0a0019" d="M125.6 215l2.2 .7l-.9 1l-2.2 -1z"/><path color="#050014" d="M127.8 215.7l2.2 .5l-.9 1.2l-2.2 -.7zM140.9 218.1l2.2 .3l-.9 1.2l-2.2 -.3zM143 218.4l2.2 .3l-1 1.2l-2.2 -.3zM145.2 218.7l2.2 .4l-1 1.2l-2.2 -.3zM147.4 219.1l2.2 .4l-1 1.2l-2.2 -.3zM149.6 219.5l2.2 .4l-1 1.2l-2.2 -.4zM151.8 219.8l2.2 .4l-1 1.2l-2.2 -.4zM153.9 220.2l2.2 .4l-1 1.2l-2.2 -.4zM156.1 220.6l2.2 .4l-1 1.2l-2.2 -.4zM158.3 221l2.2 .4l-1 1.3l-2.2 -.4z"/><path color="#05000f" d="M129.9 216.2l2.2 .4l-.9 1.3l-2.2 -.5zM132.1 216.6l2.2 .4l-.9 1.3l-2.2 -.4zM134.3 217l2.2 .4l-.9 1.3l-2.2 -.3zM136.5 217.4l2.2 .3l-.9 1.3l-2.2 -.3zM138.7 217.7l2.2 .3l-.9 1.3l-2.2 -.3z"/><path color="#2d0a55" d="M59.3 203.4l2.2 -.9l-.8 .9l-2.2 1.1z"/><path color="#410a69" d="M61.5 202.5l2.2 -1.2l-.8 .7l-2.2 1.4z"/><path color="#55146e" d="M63.7 201.3l2.2 -1.5l-.8 .4l-2.2 1.8z"/><path color="#6e1973" d="M65.8 199.9l2.2 -1.7l-.8 .1l-2.2 2z"/><path color="#7d1e64" d="M68 198.1l2.2 -1.9l-.8 -.2l-2.2 2.2z"/><path color="#8c235a" d="M70.2 196.2l2.2 -2l-.8 -.6l-2.2 2.3z"/><path color="#96284b" d="M72.4 194.3l2.2 -1.9l-.8 -.9l-2.2 2.2z"/><path color="#9b2d3c" d="M74.6 192.4l2.2 -1.7l-.8 -1.1l-2.2 1.9z"/><path color="#a03232" d="M76.7 190.7l2.2 -1.4l-.8 -1.2l-2.2 1.5z"/><path color="#9b372d" d="M78.9 189.4l2.2 -1l-.8 -1.3l-2.2 1.1z"/><path color="#9b3c28" d="M81.1 188.4l2.2 -.6l-.8 -1.3l-2.2 .5zM83.3 187.8l2.2 -.1l-.8 -1.2l-2.2 0z"/><path color="#963c28" d="M85.5 187.7l2.2 .3l-.8 -1l-2.2 -.5zM87.6 188.1l2.2 .8l-.8 -.7l-2.2 -1.1z"/><path color="#96372d" d="M89.8 188.9l2.2 1.3l-.8 -.4l-2.2 -1.6z"/><path color="#96322d" d="M92 190.2l2.2 1.8l-.9 -.1l-2.2 -2.2z"/><path color="#962d32" d="M94.2 192l2.2 2.2l-.9 .3l-2.2 -2.6z"/><path color="#912841" d="M96.3 194.2l2.2 2.3l-.9 .8l-2.2 -2.8z"/><path color="#962855" d="M98.5 196.5l2.2 2l-.9 1.5l-2.2 -2.7z"/><path color="#aa286e" d="M100.7 198.5l2.2 1.3l-.9 2.4l-2.2 -2.3z"/><path color="#b92d7d" d="M102.9 199.9l2.2 .6l-.9 3.5l-2.2 -1.7z"/><path color="#b92d82" d="M105.1 200.5l2.2 .4l-.9 4.4l-2.2 -1.3z"/><path color="#af287d" d="M107.2 200.9l2.2 1l-.9 4.8l-2.2 -1.3z"/><path color="#a0237d" d="M109.4 201.8l2.2 2l-.9 4.3l-2.2 -1.5z"/><path color="#8c1e82" d="M111.6 203.8l2.2 2.7l-.9 3.1l-2.2 -1.5z"/><path color="#6e1978" d="M113.8 206.5l2.2 2.8l-.9 1.7l-2.2 -1.3z"/><path color="#4b0f64" d="M115.9 209.3l2.2 2.3l-.9 .5l-2.2 -1.1z"/><path color="#320a50" d="M118.1 211.5l2.2 1.7l-.9 -.1l-2.2 -1.1z"/><path color="#230541" d="M120.3 213.2l2.2 1.3l-.9 -.1l-2.2 -1.4z"/><path color="#190532" d="M122.5 214.6l2.2 1.1l-.9 .2l-2.2 -1.5z"/><path color="#140528" d="M124.7 215.7l2.2 1l-.9 .7l-2.2 -1.4z"/><path color="#0a0019" d="M126.8 216.7l2.2 .7l-.9 1l-2.2 -1.1zM139.9 219.3l2.2 .3l-.9 1l-2.2 -.2zM142.1 219.6l2.2 .3l-1 .9l-2.2 -.3zM144.3 220l2.2 .3l-1 .9l-2.2 -.3zM146.4 220.3l2.2 .3l-1 .9l-2.2 -.3zM148.6 220.6l2.2 .4l-1 .9l-2.2 -.4zM150.8 221l2.2 .4l-1 .9l-2.2 -.4zM153 221.4l2.2 .4l-1 .9l-2.2 -.4zM155.2 221.8l2.2 .4l-1 1l-2.2 -.5z"/><path color="#050019" d="M129 217.4l2.2 .5l-.9 1.2l-2.2 -.7zM137.7 219l2.2 .3l-.9 1l-2.2 -.2zM157.3 222.2l2.2 .4l-1 1.1l-2.2 -.5z"/><path color="#050014" d="M131.2 218l2.2 .4l-.9 1.2l-2.2 -.4zM133.4 218.4l2.2 .3l-.9 1.2l-2.2 -.3zM135.6 218.7l2.2 .3l-.9 1.1l-2.2 -.3z"/><path color="#370a64" d="M58.5 204.5l2.2 -1.1l-.8 1.2l-2.2 1.2z"/><path color="#500f6e" d="M60.7 203.4l2.2 -1.4l-.8 1l-2.2 1.6z"/><path color="#691478" d="M62.9 202l2.2 -1.8l-.8 .8l-2.2 2z"/><path color="#821e78" d="M65.1 200.3l2.2 -2l-.8 .6l-2.2 2.3z"/><path color="#9b236e" d="M67.2 198.2l2.2 -2.2l-.8 .4l-2.2 2.4z"/><path color="#aa2d5a" d="M69.4 196l2.2 -2.3l-.8 .2l-2.2 2.5z"/><path color="#b9324b" d="M71.6 193.7l2.2 -2.2l-.8 .1l-2.2 2.3z"/><path color="#c34141" d="M73.7 191.5l2.2 -1.9l-.8 0l-2.2 2z"/><path color="#c84b37" d="M75.9 189.6l2.2 -1.5l-.8 0l-2.2 1.5z"/><path color="#c85032" d="M78.1 188.1l2.2 -1.1l-.8 .1l-2.2 1z"/><path color="#cd5532" d="M80.3 187.1l2.2 -.5l-.8 .3l-2.2 .4z"/><path color="#cd5a37" d="M82.4 186.5l2.2 0l-.8 .5l-2.2 -.2z"/><path color="#d25a37" d="M84.6 186.5l2.2 .5l-.8 .8l-2.2 -.8z"/><path color="#d25a32" d="M86.8 187.1l2.2 1.1l-.8 1.1l-2.2 -1.4z"/><path color="#cd5037" d="M89 188.1l2.2 1.6l-.8 1.4l-2.2 -1.9z"/><path color="#c8463c" d="M91.1 189.8l2.2 2.2l-.9 1.7l-2.2 -2.4z"/><path color="#be3c41" d="M93.3 191.9l2.2 2.6l-.9 1.9l-2.2 -2.8z"/><path color="#b4324b" d="M95.5 194.5l2.2 2.8l-.9 2.2l-2.2 -3.1z"/><path color="#aa285f" d="M97.7 197.3l2.2 2.7l-.9 2.6l-2.2 -3.1z"/><path color="#a0286e" d="M99.8 200l2.2 2.3l-.9 3.1l-2.2 -2.8z"/><path color="#96237d" d="M102 202.3l2.2 1.7l-.9 3.7l-2.2 -2.3z"/><path color="#8c1e87" d="M104.2 204l2.2 1.3l-.9 4.3l-2.2 -1.8z"/><path color="#821e8c" d="M106.4 205.3l2.2 1.3l-.9 4.3l-2.2 -1.4z"/><path color="#7d1987" d="M108.5 206.6l2.2 1.5l-.9 3.8l-2.2 -.9z"/><path color="#781987" d="M110.7 208.1l2.2 1.5l-.9 2.6l-2.2 -.4z"/><path color="#6e1982" d="M112.9 209.6l2.2 1.3l-.9 1.3l-2.2 0z"/><path color="#5a146e" d="M115.1 210.9l2.2 1.1l-.9 .3l-2.2 0z"/><path color="#460f55" d="M117.2 212l2.2 1.1l-.9 -.3l-2.2 -.6z"/><path color="#370a4b" d="M119.4 213.1l2.2 1.4l-.9 -.2l-2.2 -1.4z"/><path color="#280546" d="M121.6 214.5l2.2 1.5l-.9 .1l-2.2 -1.9z"/><path color="#1e053c" d="M123.7 216l2.2 1.4l-.9 .6l-2.2 -1.8z"/><path color="#14052d" d="M125.9 217.4l2.2 1.1l-.9 .9l-2.2 -1.4zM141.1 220.6l2.2 .3l-1 .4l-2.2 -.2zM143.3 220.9l2.2 .3l-1 .4l-2.2 -.2zM149.8 221.9l2.2 .4l-1 .4l-2.2 -.5zM152 222.3l2.2 .4l-1 .5l-2.2 -.5z"/><path color="#0a001e" d="M128.1 218.4l2.2 .7l-.9 1l-2.2 -.8zM130.3 219.1l2.2 .4l-.9 1l-2.2 -.4zM132.4 219.6l2.2 .3l-.9 .9l-2.2 -.2zM134.6 219.9l2.2 .3l-.9 .8l-2.2 -.1z"/><path color="#0f0523" d="M136.8 220.1l2.2 .2l-.9 .6l-2.2 -.1zM156.4 223.2l2.2 .5l-1 .7l-2.2 -.6z"/><path color="#0f0528" d="M139 220.4l2.2 .2l-.9 .5l-2.2 -.1z"/><path color="#19052d" d="M145.5 221.2l2.2 .3l-1 .3l-2.2 -.3zM147.7 221.5l2.2 .4l-1 .4l-2.2 -.4z"/><path color="#140528" d="M154.2 222.7l2.2 .5l-1 .6l-2.2 -.6z"/><path color="#3c0a69" d="M57.8 205.8l2.2 -1.2l-.8 1.4l-2.2 1.2z"/><path color="#551478" d="M59.9 204.6l2.2 -1.6l-.8 1.3l-2.2 1.7z"/><path color="#781982" d="M62.1 203l2.2 -2l-.8 1.2l-2.2 2.1zM101.1 205.4l2.2 2.3l-.9 3.4l-2.2 -2.4z"/><path color="#96237d" d="M64.3 201.1l2.2 -2.3l-.8 1.1l-2.2 2.4z"/><path color="#af2d73" d="M66.4 198.8l2.2 -2.4l-.8 1.1l-2.2 2.5z"/><path color="#c8375f" d="M68.6 196.4l2.2 -2.5l-.8 1.1l-2.2 2.5z"/><path color="#dc4150" d="M70.8 193.9l2.2 -2.3l-.8 1.1l-2.2 2.2z"/><path color="#eb5546" d="M72.9 191.6l2.2 -2l-.8 1.2l-2.2 1.8z"/><path color="#fa6441" d="M75.1 189.6l2.2 -1.5l-.8 1.4l-2.2 1.3z"/><path color="#ff6e41" d="M77.3 188.1l2.2 -1l-.8 1.7l-2.2 .7z"/><path color="#ff7846" d="M79.4 187.2l2.2 -.4l-.8 1.9l-2.2 .1zM81.6 186.8l2.2 .2l-.8 2.2l-2.2 -.5z"/><path color="#ff7346" d="M83.8 187l2.2 .8l-.8 2.5l-2.2 -1.1z"/><path color="#ff693c" d="M86 187.8l2.2 1.4l-.8 2.8l-2.2 -1.7z"/><path color="#f05a41" d="M88.1 189.2l2.2 1.9l-.8 3.1l-2.2 -2.2z"/><path color="#dc4b46" d="M90.3 191.2l2.2 2.4l-.9 3.2l-2.2 -2.6z"/><path color="#cd3c4b" d="M92.5 193.6l2.2 2.8l-.9 3.3l-2.2 -2.9z"/><path color="#b9325a" d="M94.6 196.5l2.2 3.1l-.9 3.3l-2.2 -3.1z"/><path color="#a52869" d="M96.8 199.5l2.2 3.1l-.9 3.3l-2.2 -3z"/><path color="#8c1e73" d="M99 202.6l2.2 2.8l-.9 3.3l-2.2 -2.8z"/><path color="#69147d" d="M103.3 207.7l2.2 1.8l-.9 3.5l-2.2 -1.9z"/><path color="#5f147d" d="M105.5 209.6l2.2 1.4l-.9 3.4l-2.2 -1.3z"/><path color="#5a147d" d="M107.7 211l2.2 .9l-.9 3l-2.2 -.5z"/><path color="#5f1482" d="M109.8 211.9l2.2 .4l-.9 2.3l-2.2 .3z"/><path color="#691487" d="M112 212.3l2.2 0l-.9 1.6l-2.2 .8z"/><path color="#6e1982" d="M114.2 212.2l2.2 0l-.9 1l-2.2 .6z"/><path color="#691473" d="M116.3 212.3l2.2 .6l-.9 .7l-2.2 -.3z"/><path color="#551464" d="M118.5 212.9l2.2 1.4l-.9 .6l-2.2 -1.3z"/><path color="#410a5a" d="M120.7 214.2l2.2 1.9l-.9 .7l-2.2 -2z"/><path color="#2d0a50" d="M122.8 216.1l2.2 1.8l-.9 .9l-2.2 -1.9z"/><path color="#1e053c" d="M125 217.9l2.2 1.4l-.9 .9l-2.2 -1.4zM135.9 220.9l2.2 .1l-.9 .1l-2.2 .1zM155.4 223.8l2.2 .6l-1 .2l-2.2 -.8z"/><path color="#190532" d="M127.2 219.3l2.2 .8l-.9 .8l-2.2 -.8z"/><path color="#14052d" d="M129.3 220.1l2.2 .4l-.9 .7l-2.2 -.3zM131.5 220.5l2.2 .2l-.9 .5l-2.2 0z"/><path color="#190537" d="M133.7 220.8l2.2 .1l-.9 .3l-2.2 .1z"/><path color="#230541" d="M138 221l2.2 .1l-.9 -.1l-2.2 .1zM140.2 221.1l2.2 .2l-1 -.2l-2.2 0zM151 222.7l2.2 .5l-1 -.1l-2.2 -.6z"/><path color="#280546" d="M142.4 221.3l2.2 .2l-1 -.3l-2.2 -.1zM144.5 221.5l2.2 .3l-1 -.4l-2.2 -.3zM146.7 221.8l2.2 .4l-1 -.3l-2.2 -.4z"/><path color="#230546" d="M148.9 222.2l2.2 .5l-1 -.3l-2.2 -.5z"/><path color="#23053c" d="M153.2 223.2l2.2 .6l-1 0l-2.2 -.7z"/><path color="#3c0a6e" d="M57 207.3l2.2 -1.2l-.8 1.7l-2.2 1.3z"/><path color="#5a147d" d="M59.1 206l2.2 -1.7l-.8 1.6l-2.2 1.7z"/><path color="#7d1987" d="M61.3 204.4l2.2 -2.1l-.8 1.6l-2.2 2.1z"/><path color="#a02382" d="M63.5 202.3l2.2 -2.4l-.8 1.6l-2.2 2.4z"/><path color="#be2d78" d="M65.6 200l2.2 -2.5l-.8 1.7l-2.2 2.5z"/><path color="#dc3c64" d="M67.8 197.4l2.2 -2.5l-.8 1.8l-2.2 2.3z"/><path color="#f54b55" d="M70 195l2.2 -2.2l-.8 2l-2.2 2z"/><path color="#ff5f50" d="M72.1 192.7l2.2 -1.8l-.8 2.3l-2.2 1.5z"/><path color="#ff694b" d="M74.3 190.9l2.2 -1.3l-.8 2.7l-2.2 1z"/><path color="#ff7346" d="M76.5 189.5l2.2 -.7l-.8 3.1l-2.2 .4z"/><path color="#ff7846" d="M78.6 188.8l2.2 -.1l-.8 3.4l-2.2 -.3z"/><path color="#ff7341" d="M80.8 188.7l2.2 .5l-.8 3.7l-2.2 -.8z"/><path color="#ff6941" d="M83 189.2l2.2 1.1l-.8 4l-2.2 -1.4z"/><path color="#f55f46" d="M85.1 190.4l2.2 1.7l-.8 4.1l-2.2 -1.8z"/><path color="#e65046" d="M87.3 192l2.2 2.2l-.8 4.2l-2.2 -2.3z"/><path color="#dc4150" d="M89.4 194.2l2.2 2.6l-.9 4.2l-2.2 -2.6z"/><path color="#c3375a" d="M91.6 196.8l2.2 2.9l-.9 4.1l-2.2 -2.8z"/><path color="#af2d69" d="M93.8 199.7l2.2 3.1l-.9 3.9l-2.2 -2.9z"/><path color="#962373" d="M95.9 202.8l2.2 3l-.9 3.6l-2.2 -2.8z"/><path color="#78197d" d="M98.1 205.9l2.2 2.8l-.9 3.3l-2.2 -2.6z"/><path color="#641478" d="M100.3 208.7l2.2 2.4l-.9 3.1l-2.2 -2.2z"/><path color="#4b0f73" d="M102.4 211.1l2.2 1.9l-.9 2.9l-2.2 -1.7z"/><path color="#410a6e" d="M104.6 213.1l2.2 1.3l-.9 2.8l-2.2 -1.1z"/><path color="#410a73" d="M106.8 214.4l2.2 .5l-.9 2.7l-2.2 -.4z"/><path color="#4b0f7d" d="M108.9 214.9l2.2 -.3l-.9 2.6l-2.2 .4z"/><path color="#5f1487" d="M111.1 214.6l2.2 -.8l-.9 2.5l-2.2 .8z"/><path color="#78198c" d="M113.3 213.8l2.2 -.6l-.9 2.5l-2.2 .6z"/><path color="#82198c" d="M115.4 213.3l2.2 .3l-.9 2.3l-2.2 -.1z"/><path color="#6e1982" d="M117.6 213.5l2.2 1.3l-.9 2.1l-2.2 -1.1z"/><path color="#550f6e" d="M119.8 214.9l2.2 2l-.9 1.7l-2.2 -1.6z"/><path color="#370a5f" d="M121.9 216.9l2.2 1.9l-.9 1.4l-2.2 -1.6z"/><path color="#280550" d="M124.1 218.8l2.2 1.4l-.9 1l-2.2 -1z"/><path color="#230541" d="M126.3 220.2l2.2 .8l-.9 .7l-2.2 -.5zM128.4 220.9l2.2 .3l-.9 .4l-2.2 0z"/><path color="#280546" d="M130.6 221.2l2.2 0l-.9 .1l-2.2 .3z"/><path color="#28054b" d="M132.8 221.3l2.2 -.1l-.9 -.2l-2.2 .4z"/><path color="#320a50" d="M134.9 221.2l2.2 -.1l-.9 -.4l-2.2 .4z"/><path color="#370a50" d="M137.1 221.1l2.2 -.1l-.9 -.7l-2.2 .3z"/><path color="#3c0a50" d="M139.2 221.1l2.2 0l-1 -.9l-2.2 .2z"/><path color="#3c0a4b" d="M141.4 221.1l2.2 .1l-1 -1.1l-2.2 0zM145.7 221.5l2.2 .4l-1 -1.1l-2.2 -.4zM147.9 221.9l2.2 .5l-1 -1l-2.2 -.6z"/><path color="#410a4b" d="M143.6 221.2l2.2 .3l-1 -1.1l-2.2 -.2z"/><path color="#370a4b" d="M150.1 222.4l2.2 .6l-1 -.8l-2.2 -.8zM152.2 223.1l2.2 .7l-1 -.6l-2.2 -1z"/><path color="#2d0a4b" d="M154.4 223.8l2.2 .8l-1 -.3l-2.2 -1.1z"/><path color="#3c0a6e" d="M56.2 209l2.2 -1.3l-.8 1.8l-2.2 1.2z"/><path color="#5a147d" d="M58.3 207.7l2.2 -1.7l-.8 1.8l-2.2 1.7z"/><path color="#7d198c" d="M60.5 206l2.2 -2.1l-.8 1.8l-2.2 2.1z"/><path color="#a02887" d="M62.7 203.9l2.2 -2.4l-.8 1.9l-2.2 2.3z"/><path color="#c3327d" d="M64.8 201.6l2.2 -2.5l-.8 2l-2.2 2.3z"/><path color="#e13c69" d="M67 199.1l2.2 -2.3l-.8 2.2l-2.2 2.1z"/><path color="#ff4b5a" d="M69.2 196.8l2.2 -2l-.8 2.6l-2.2 1.7z"/><path color="#ff5a55" d="M71.3 194.7l2.2 -1.5l-.8 3.1l-2.2 1.1z"/><path color="#ff6450" d="M73.5 193.2l2.2 -1l-.8 3.6l-2.2 .5z"/><path color="#ff694b" d="M75.6 192.2l2.2 -.4l-.8 4l-2.2 -.1z"/><path color="#ff644b" d="M77.8 191.9l2.2 .3l-.8 4.4l-2.2 -.6z"/><path color="#ff5f4b" d="M80 192.1l2.2 .8l-.8 4.7l-2.2 -1.1z"/><path color="#f5554b" d="M82.1 193l2.2 1.4l-.8 4.9l-2.2 -1.5z"/><path color="#e64b50" d="M84.3 194.3l2.2 1.8l-.8 4.9l-2.2 -1.9z"/><path color="#dc4155" d="M86.4 196.2l2.2 2.3l-.8 4.8l-2.2 -2.2z"/><path color="#c8375f" d="M88.6 198.4l2.2 2.6l-.9 4.6l-2.2 -2.4z"/><path color="#b42d6e" d="M90.8 201l2.2 2.8l-.9 4.4l-2.2 -2.5z"/><path color="#9b2378" d="M92.9 203.8l2.2 2.9l-.9 4l-2.2 -2.5z"/><path color="#821e7d" d="M95.1 206.7l2.2 2.8l-.9 3.6l-2.2 -2.4z"/><path color="#641478" d="M97.2 209.5l2.2 2.6l-.9 3.2l-2.2 -2.2z"/><path color="#500f6e" d="M99.4 212l2.2 2.2l-.9 2.9l-2.2 -1.9z"/><path color="#370a64" d="M101.6 214.3l2.2 1.7l-.9 2.6l-2.2 -1.5zM108 217.5l2.2 -.4l-.9 2.8l-2.2 .1z"/><path color="#2d0a5a" d="M103.7 216l2.2 1.1l-.9 2.5l-2.2 -1zM105.9 217.1l2.2 .4l-.9 2.6l-2.2 -.5z"/><path color="#460f7d" d="M110.2 217.2l2.2 -.8l-.9 3.2l-2.2 .4z"/><path color="#5f1482" d="M112.4 216.3l2.2 -.6l-.9 3.5l-2.2 .4z"/><path color="#641487" d="M114.5 215.7l2.2 .1l-.9 3.4l-2.2 -.1z"/><path color="#5f147d" d="M116.7 215.9l2.2 1.1l-.9 3l-2.2 -.7z"/><path color="#500f73" d="M118.9 217l2.2 1.6l-.9 2.4l-2.2 -1z"/><path color="#3c0a69" d="M121 218.6l2.2 1.6l-.9 1.7l-2.2 -.9z"/><path color="#320a5a" d="M123.2 220.2l2.2 1l-.9 1.1l-2.2 -.4z"/><path color="#2d0a55" d="M125.3 221.2l2.2 .5l-.9 .6l-2.2 0z"/><path color="#320a55" d="M127.5 221.7l2.2 0l-.9 .2l-2.2 .4z"/><path color="#370a5a" d="M129.7 221.7l2.2 -.3l-.9 -.2l-2.2 .6z"/><path color="#410f55" d="M131.8 221.4l2.2 -.4l-.9 -.5l-2.2 .7z"/><path color="#4b0f55" d="M134 221.1l2.2 -.4l-.9 -.9l-2.2 .7z"/><path color="#500f55" d="M136.1 220.7l2.2 -.3l-.9 -1.2l-2.2 .6z"/><path color="#551450" d="M138.3 220.4l2.2 -.2l-1 -1.5l-2.2 .4zM149.1 221.4l2.2 .8l-1 -1.3l-2.2 -1z"/><path color="#5a1450" d="M140.5 220.2l2.2 0l-1 -1.6l-2.2 .2zM146.9 220.8l2.2 .6l-1 -1.6l-2.2 -.8z"/><path color="#5a144b" d="M142.6 220.2l2.2 .2l-1 -1.7l-2.2 -.1zM144.8 220.4l2.2 .4l-1 -1.7l-2.2 -.4z"/><path color="#500f50" d="M151.3 222.2l2.2 1l-1 -1l-2.2 -1.3z"/><path color="#460f50" d="M153.4 223.2l2.2 1.1l-1 -.7l-2.2 -1.4z"/><path color="#3c0a69" d="M55.4 210.8l2.2 -1.2l-.8 1.9l-2.2 1.2zM98.5 215.2l2.2 1.9l-.9 2.6l-2.2 -1.5z"/><path color="#5a147d" d="M57.6 209.5l2.2 -1.7l-.8 1.9l-2.2 1.7z"/><path color="#7d198c" d="M59.7 207.8l2.2 -2.1l-.8 1.9l-2.2 2.1z"/><path color="#a02387" d="M61.9 205.8l2.2 -2.3l-.8 1.9l-2.2 2.3z"/><path color="#c32d7d" d="M64 203.5l2.2 -2.3l-.8 2l-2.2 2.2z"/><path color="#e13c6e" d="M66.2 201.1l2.2 -2.1l-.8 2.3l-2.2 1.8z"/><path color="#fa465f" d="M68.3 199l2.2 -1.7l-.8 2.8l-2.2 1.2z"/><path color="#ff505a" d="M70.5 197.3l2.2 -1.1l-.8 3.3l-2.2 .5z"/><path color="#ff5555" d="M72.7 196.3l2.2 -.5l-.8 3.9l-2.2 -.1zM74.8 195.8l2.2 .1l-.8 4.5l-2.2 -.7z"/><path color="#f55050" d="M77 195.9l2.2 .6l-.8 4.9l-2.2 -1.1z"/><path color="#eb4655" d="M79.1 196.6l2.2 1.1l-.8 5.1l-2.2 -1.4z"/><path color="#e1415a" d="M81.3 197.7l2.2 1.5l-.8 5.2l-2.2 -1.6z"/><path color="#d2375f" d="M83.4 199.2l2.2 1.9l-.8 5.2l-2.2 -1.8z"/><path color="#be326e" d="M85.6 201.1l2.2 2.2l-.8 5l-2.2 -2z"/><path color="#af2873" d="M87.8 203.3l2.2 2.4l-.9 4.6l-2.2 -2.1z"/><path color="#96237d" d="M89.9 205.7l2.2 2.5l-.9 4.3l-2.2 -2.1z"/><path color="#821e82" d="M92.1 208.2l2.2 2.5l-.9 3.8l-2.2 -2.1z"/><path color="#69147d" d="M94.2 210.7l2.2 2.4l-.9 3.4l-2.2 -2z"/><path color="#500f73" d="M96.4 213.1l2.2 2.2l-.9 3l-2.2 -1.8z"/><path color="#2d0a55" d="M100.7 217.1l2.2 1.5l-.9 2.4l-2.2 -1.2zM109.3 220l2.2 -.4l-.9 3.1l-2.2 0z"/><path color="#230541" d="M102.8 218.6l2.2 1l-.9 2.3l-2.2 -.9z"/><path color="#1e0541" d="M105 219.6l2.2 .5l-.9 2.4l-2.2 -.6z"/><path color="#230546" d="M107.2 220.1l2.2 -.1l-.9 2.7l-2.2 -.2z"/><path color="#370a69" d="M111.5 219.5l2.2 -.4l-.9 3.4l-2.2 .1zM120.1 221l2.2 .9l-.9 1.7l-2.2 -.2z"/><path color="#410a73" d="M113.6 219.2l2.2 .1l-.9 3.4l-2.2 -.1zM115.8 219.3l2.2 .7l-.9 3l-2.2 -.3z"/><path color="#3c0a6e" d="M117.9 220l2.2 1l-.9 2.3l-2.2 -.4z"/><path color="#370a64" d="M122.3 221.8l2.2 .4l-.9 1.1l-2.2 .2z"/><path color="#3c0a64" d="M124.4 222.3l2.2 0l-.9 .6l-2.2 .5z"/><path color="#460f64" d="M126.6 222.3l2.2 -.4l-.9 .1l-2.2 .8z"/><path color="#500f64" d="M128.7 221.9l2.2 -.6l-.9 -.2l-2.2 1z"/><path color="#5f1464" d="M130.9 221.2l2.2 -.7l-.9 -.6l-2.2 1.1z"/><path color="#69195a" d="M133 220.5l2.2 -.7l-.9 -1l-2.2 1.1z"/><path color="#6e1950" d="M135.2 219.8l2.2 -.6l-.9 -1.3l-2.2 .9z"/><path color="#73194b" d="M137.4 219.2l2.2 -.4l-1 -1.6l-2.2 .7z"/><path color="#731e46" d="M139.5 218.7l2.2 -.2l-1 -1.8l-2.2 .4z"/><path color="#781e41" d="M141.7 218.5l2.2 .1l-1 -1.9l-2.2 0zM143.8 218.7l2.2 .4l-1 -1.8l-2.2 -.5zM146 219.1l2.2 .8l-1 -1.7l-2.2 -.9z"/><path color="#731946" d="M148.1 219.9l2.2 1l-1 -1.5l-2.2 -1.3z"/><path color="#69194b" d="M150.3 220.9l2.2 1.3l-1 -1.2l-2.2 -1.6z"/><path color="#5f144b" d="M152.4 222.2l2.2 1.4l-1 -.8l-2.2 -1.7z"/><path color="#370a64" d="M54.6 212.6l2.2 -1.2l-.8 1.8l-2.1 1.2z"/><path color="#550f7d" d="M56.8 211.4l2.2 -1.7l-.8 1.8l-2.1 1.7z"/><path color="#7d1987" d="M58.9 209.7l2.2 -2.1l-.8 1.7l-2.1 2.1z"/><path color="#a02382" d="M61.1 207.6l2.2 -2.3l-.8 1.7l-2.1 2.3z"/><path color="#c32d7d" d="M63.2 205.4l2.2 -2.2l-.8 1.8l-2.1 2.1z"/><path color="#e13c6e" d="M65.4 203.2l2.2 -1.8l-.8 2.1l-2.1 1.6z"/><path color="#f54664" d="M67.5 201.3l2.2 -1.2l-.8 2.6l-2.1 .8z"/><path color="#ff4b5f" d="M69.7 200.1l2.2 -.5l-.8 3.2l-2.1 -.1z"/><path color="#fa4b5a" d="M71.8 199.6l2.2 .1l-.8 3.8l-2.1 -.8z"/><path color="#eb415a" d="M74 199.7l2.2 .7l-.8 4.4l-2.1 -1.3z"/><path color="#dc3c5f" d="M76.1 200.4l2.2 1.1l-.8 4.8l-2.1 -1.5z"/><path color="#cd3769" d="M78.3 201.5l2.2 1.4l-.8 5.1l-2.1 -1.6z"/><path color="#c33273" d="M80.5 202.8l2.2 1.6l-.8 5.1l-2.1 -1.7z"/><path color="#b42d78" d="M82.6 204.4l2.2 1.8l-.8 5l-2.1 -1.7z"/><path color="#a0287d" d="M84.8 206.2l2.2 2l-.8 4.7l-2.1 -1.7z"/><path color="#8c1e82" d="M86.9 208.2l2.2 2.1l-.9 4.3l-2.1 -1.7z"/><path color="#781982" d="M89.1 210.3l2.2 2.1l-.9 3.9l-2.1 -1.7z"/><path color="#64147d" d="M91.2 212.4l2.2 2.1l-.9 3.5l-2.1 -1.7z"/><path color="#500f73" d="M93.4 214.5l2.2 2l-.9 3.1l-2.1 -1.5z"/><path color="#3c0a69" d="M95.5 216.5l2.2 1.8l-.9 2.7l-2.1 -1.4zM121.3 223.5l2.2 -.2l-.9 1.1l-2.1 .6z"/><path color="#2d0a55" d="M97.7 218.2l2.2 1.5l-.9 2.4l-2.1 -1.2zM114.9 222.7l2.2 .3l-.9 2.4l-2.1 0z"/><path color="#1e0541" d="M99.8 219.8l2.2 1.2l-.9 2.2l-2.1 -1zM110.6 222.6l2.2 -.1l-.9 2.7l-2.1 -.1z"/><path color="#190532" d="M102 221l2.2 .9l-.9 2.1l-2.1 -.8zM108.4 222.7l2.2 0l-.9 2.5l-2.1 -.2z"/><path color="#0f0528" d="M104.1 221.9l2.2 .6l-.9 2.1l-2.1 -.6z"/><path color="#0f052d" d="M106.3 222.5l2.2 .2l-.9 2.3l-2.1 -.4z"/><path color="#28054b" d="M112.7 222.6l2.2 .1l-.9 2.7l-2.1 -.1z"/><path color="#320a5a" d="M117 223l2.2 .4l-.9 2l-2.1 .1z"/><path color="#370a5f" d="M119.2 223.3l2.2 .2l-.9 1.5l-2.1 .3z"/><path color="#4b0f6e" d="M123.5 223.3l2.2 -.5l-.9 .7l-2.1 .9z"/><path color="#5f146e" d="M125.6 222.8l2.2 -.8l-.9 .4l-2.1 1.2z"/><path color="#6e196e" d="M127.8 222l2.2 -1l-.9 0l-2.1 1.3z"/><path color="#7d1e64" d="M130 221l2.2 -1.1l-.9 -.3l-2.1 1.4z"/><path color="#871e5a" d="M132.1 219.9l2.2 -1.1l-.9 -.6l-2.1 1.4z"/><path color="#8c234b" d="M134.3 218.8l2.2 -.9l-.9 -.9l-2.1 1.2z"/><path color="#912841" d="M136.4 217.8l2.2 -.7l-1 -1.1l-2.1 .9z"/><path color="#912837" d="M138.6 217.1l2.2 -.4l-1 -1.2l-2.1 .5z"/><path color="#8c2832" d="M140.7 216.8l2.2 0l-1 -1.3l-2.1 0zM142.9 216.8l2.2 .5l-1 -1.3l-2.1 -.5zM145 217.3l2.2 .9l-1 -1.2l-2.1 -1z"/><path color="#872337" d="M147.2 218.2l2.2 1.3l-1 -1l-2.1 -1.5z"/><path color="#7d233c" d="M149.3 219.5l2.2 1.6l-1 -.7l-2.1 -1.8z"/><path color="#731e46" d="M151.5 221l2.2 1.7l-1 -.4l-2.1 -2z"/><path color="#370a64" d="M53.8 214.4l2.1 -1.2l-.8 1.7l-2.1 1.3zM92.5 218l2.1 1.5l-.9 2.6l-2.1 -1.2z"/><path color="#550f78" d="M56 213.2l2.1 -1.7l-.8 1.6l-2.1 1.8z"/><path color="#7d1987" d="M58.1 211.5l2.1 -2.1l-.8 1.6l-2.1 2.2zM83.9 211.2l2.1 1.7l-.8 4.2l-2.1 -1.4z"/><path color="#a02382" d="M60.3 209.4l2.1 -2.3l-.8 1.5l-2.1 2.3z"/><path color="#c33278" d="M62.4 207.1l2.1 -2.1l-.8 1.6l-2.1 2z"/><path color="#dc3c69" d="M64.6 205l2.1 -1.6l-.8 1.8l-2.1 1.3z"/><path color="#f04664" d="M66.7 203.4l2.1 -.8l-.8 2.2l-2.1 .4z"/><path color="#f5465f" d="M68.9 202.7l2.1 .1l-.8 2.8l-2.1 -.6z"/><path color="#e6415f" d="M71 202.7l2.1 .8l-.8 3.4l-2.1 -1.4z"/><path color="#d23764" d="M73.2 203.5l2.1 1.3l-.8 3.9l-2.1 -1.8z"/><path color="#c33273" d="M75.3 204.8l2.1 1.5l-.8 4.3l-2.1 -1.9z"/><path color="#b42d78" d="M77.5 206.3l2.1 1.6l-.8 4.6l-2.1 -1.8z"/><path color="#a0237d" d="M79.6 207.9l2.1 1.7l-.8 4.6l-2.1 -1.7z"/><path color="#911e82" d="M81.8 209.5l2.1 1.7l-.8 4.4l-2.1 -1.5z"/><path color="#6e1982" d="M86.1 212.9l2.1 1.7l-.9 3.8l-2.1 -1.4z"/><path color="#5a1478" d="M88.2 214.6l2.1 1.7l-.9 3.4l-2.1 -1.3zM122.6 224.4l2.1 -.9l-.9 1l-2.1 1.1z"/><path color="#4b0f73" d="M90.4 216.4l2.1 1.7l-.9 3l-2.1 -1.3z"/><path color="#2d0a55" d="M94.7 219.6l2.1 1.4l-.9 2.3l-2.1 -1.1z"/><path color="#230541" d="M96.8 221l2.1 1.2l-.9 2.1l-2.1 -1z"/><path color="#140532" d="M98.9 222.2l2.1 1l-.9 1.9l-2.1 -.9zM111.8 225.3l2.1 .1l-.9 2l-2.1 0z"/><path color="#0f0523" d="M101.1 223.2l2.1 .8l-.9 1.8l-2.1 -.7zM109.7 225.2l2.1 .1l-.9 2.1l-2.1 -.2z"/><path color="#0a001e" d="M103.2 224l2.1 .6l-.9 1.8l-2.1 -.6zM105.4 224.6l2.1 .4l-.9 1.9l-2.1 -.4zM107.5 225l2.1 .2l-.9 2l-2.1 -.3z"/><path color="#1e053c" d="M114 225.3l2.1 0l-.9 1.9l-2.1 .1z"/><path color="#28054b" d="M116.1 225.4l2.1 -.1l-.9 1.7l-2.1 .3z"/><path color="#320a5f" d="M118.3 225.3l2.1 -.3l-.9 1.5l-2.1 .5z"/><path color="#410a6e" d="M120.4 225l2.1 -.6l-.9 1.2l-2.1 .8z"/><path color="#73197d" d="M124.7 223.5l2.1 -1.2l-.9 .9l-2.1 1.3z"/><path color="#8c1e78" d="M126.9 222.4l2.1 -1.3l-.9 .7l-2.1 1.5z"/><path color="#a0286e" d="M129 221l2.1 -1.4l-.9 .5l-2.1 1.6z"/><path color="#af2d5f" d="M131.2 219.6l2.1 -1.4l-.9 .3l-2.1 1.6z"/><path color="#b9374b" d="M133.3 218.2l2.1 -1.2l-.9 .2l-2.1 1.4z"/><path color="#be3c41" d="M135.5 217l2.1 -.9l-1 .1l-2.1 1.1z"/><path color="#be413c" d="M137.6 216.1l2.1 -.5l-1 0l-2.1 .6z"/><path color="#b94137" d="M139.8 215.5l2.1 0l-1 -.1l-2.1 .1z"/><path color="#b44132" d="M141.9 215.5l2.1 .5l-1 -.1l-2.1 -.5z"/><path color="#aa3c32" d="M144.1 216l2.1 1l-1 0l-2.1 -1.1z"/><path color="#a53732" d="M146.2 217l2.1 1.5l-1 .1l-2.1 -1.6z"/><path color="#9b2d37" d="M148.3 218.5l2.1 1.8l-1 .3l-2.1 -2z"/><path color="#912846" d="M150.5 220.3l2.1 2l-1 .4l-2.1 -2.2z"/><path color="#370a64" d="M53.1 216.2l2.1 -1.3l-.8 1.6l-2.1 1.3zM89.5 219.8l2.1 1.3l-.9 2.3l-2.1 -.9z"/><path color="#550f78" d="M55.2 214.9l2.1 -1.8l-.8 1.6l-2.1 1.9z"/><path color="#7d1987" d="M57.3 213.1l2.1 -2.2l-.8 1.4l-2.1 2.3z"/><path color="#a5287d" d="M59.5 210.9l2.1 -2.3l-.8 1.4l-2.1 2.4z"/><path color="#c33273" d="M61.6 208.6l2.1 -2l-.8 1.4l-2.1 2z"/><path color="#dc3c64" d="M63.8 206.5l2.1 -1.3l-.8 1.6l-2.1 1.2z"/><path color="#eb415f" d="M65.9 205.2l2.1 -.4l-.8 1.9l-2.1 0z"/><path color="#e1415f" d="M68.1 204.9l2.1 .6l-.8 2.4l-2.1 -1.1z"/><path color="#d2375f" d="M70.2 205.5l2.1 1.4l-.8 2.9l-2.1 -1.9z"/><path color="#be2d6e" d="M72.4 206.9l2.1 1.8l-.8 3.3l-2.1 -2.3z"/><path color="#a52878" d="M74.5 208.7l2.1 1.9l-.8 3.7l-2.1 -2.3z"/><path color="#962382" d="M76.6 210.6l2.1 1.8l-.8 3.8l-2.1 -2z"/><path color="#821e87" d="M78.8 212.5l2.1 1.7l-.8 3.8l-2.1 -1.6z"/><path color="#6e1982" d="M80.9 214.1l2.1 1.5l-.8 3.6l-2.1 -1.4z"/><path color="#5f147d" d="M83.1 215.6l2.1 1.4l-.8 3.3l-2.1 -1.1z"/><path color="#500f78" d="M85.2 217.1l2.1 1.4l-.9 3l-2.1 -1z"/><path color="#460f73" d="M87.4 218.4l2.1 1.3l-.9 2.6l-2.1 -1zM119.5 226.4l2.1 -.8l-.9 1.6l-2.1 .8z"/><path color="#2d0a55" d="M91.6 221l2.1 1.2l-.9 2l-2.1 -.9z"/><path color="#230546" d="M93.8 222.2l2.1 1.1l-.9 1.8l-2.1 -.9zM115.2 227.3l2.1 -.3l-.9 1.7l-2.1 .3z"/><path color="#190537" d="M95.9 223.3l2.1 1l-.9 1.7l-2.1 -.8z"/><path color="#140528" d="M98.1 224.3l2.1 .9l-.9 1.6l-2.1 -.8z"/><path color="#0a001e" d="M100.2 225.1l2.1 .7l-.9 1.6l-2.1 -.7zM102.4 225.9l2.1 .6l-.9 1.6l-2.1 -.6zM108.8 227.2l2.1 .2l-.9 1.7l-2.1 -.2z"/><path color="#0a0019" d="M104.5 226.4l2.1 .4l-.9 1.6l-2.1 -.5zM106.6 226.9l2.1 .3l-.9 1.7l-2.1 -.3z"/><path color="#0a0523" d="M110.9 227.3l2.1 0l-.9 1.7l-2.1 0z"/><path color="#140532" d="M113.1 227.4l2.1 -.1l-.9 1.7l-2.1 .1z"/><path color="#320a5f" d="M117.4 227l2.1 -.5l-.9 1.6l-2.1 .6z"/><path color="#64147d" d="M121.7 225.6l2.1 -1.1l-.9 1.6l-2.1 1.1z"/><path color="#821e8c" d="M123.8 224.6l2.1 -1.3l-.9 1.6l-2.1 1.3z"/><path color="#a02387" d="M125.9 223.2l2.1 -1.5l-.9 1.6l-2.1 1.5z"/><path color="#be2d7d" d="M128.1 221.7l2.1 -1.6l-.9 1.6l-2.1 1.6z"/><path color="#d73c69" d="M130.2 220.1l2.1 -1.6l-.9 1.6l-2.1 1.6z"/><path color="#f0465a" d="M132.4 218.5l2.1 -1.4l-.9 1.6l-2.1 1.4z"/><path color="#fa5550" d="M134.5 217.2l2.1 -1.1l-1 1.6l-2.1 1z"/><path color="#ff5f4b" d="M136.7 216.1l2.1 -.6l-1 1.6l-2.1 .6z"/><path color="#ff6446" d="M138.8 215.5l2.1 -.1l-1 1.6l-2.1 .1z"/><path color="#fa5f41" d="M140.9 215.4l2.1 .5l-1 1.6l-2.1 -.5z"/><path color="#eb5a41" d="M143.1 215.9l2.1 1.1l-1 1.6l-2.1 -1.1z"/><path color="#d74b41" d="M145.2 217l2.1 1.6l-1 1.6l-2.1 -1.6z"/><path color="#c83c46" d="M147.4 218.6l2.1 2l-1 1.6l-2.1 -1.9z"/><path color="#b43250" d="M149.5 220.5l2.1 2.2l-1 1.6l-2.1 -2.2z"/><path color="#320a5f" d="M52.3 217.9l2.1 -1.3l-.8 1.6l-2.1 1.3z"/><path color="#550f78" d="M54.4 216.5l2.1 -1.9l-.8 1.6l-2.1 1.9z"/><path color="#821e87" d="M56.6 214.7l2.1 -2.3l-.8 1.5l-2.1 2.4z"/><path color="#a5287d" d="M58.7 212.4l2.1 -2.4l-.8 1.5l-2.1 2.5z"/><path color="#c8326e" d="M60.8 210l2.1 -2l-.8 1.5l-2.1 2z"/><path color="#e13c64" d="M63 207.9l2.1 -1.2l-.8 1.6l-2.1 1z"/><path color="#e6415a" d="M65.1 206.8l2.1 0l-.8 1.8l-2.1 -.2z"/><path color="#d73c5a" d="M67.3 206.8l2.1 1.1l-.8 2.2l-2.1 -1.4z"/><path color="#be325f" d="M69.4 207.8l2.1 1.9l-.8 2.5l-2.1 -2.2z"/><path color="#aa286e" d="M71.5 209.7l2.1 2.3l-.8 2.8l-2.1 -2.6z"/><path color="#912378" d="M73.7 212l2.1 2.3l-.8 2.9l-2.1 -2.4z"/><path color="#7d1982" d="M75.8 214.3l2.1 2l-.8 3l-2.1 -2z"/><path color="#69147d" d="M78 216.3l2.1 1.6l-.8 2.8l-2.1 -1.5z"/><path color="#5a1478" d="M80.1 217.9l2.1 1.4l-.8 2.6l-2.1 -1.1z"/><path color="#4b0f73" d="M82.2 219.3l2.1 1.1l-.8 2.3l-2.1 -.8z"/><path color="#410a6e" d="M84.4 220.4l2.1 1l-.9 2l-2.1 -.7z"/><path color="#370a69" d="M86.5 221.4l2.1 1l-.9 1.6l-2.1 -.6z"/><path color="#320a5a" d="M88.6 222.4l2.1 .9l-.9 1.4l-2.1 -.6z"/><path color="#280550" d="M90.8 223.3l2.1 .9l-.9 1.2l-2.1 -.7z"/><path color="#230546" d="M92.9 224.2l2.1 .9l-.9 1l-2.1 -.8z"/><path color="#1e0537" d="M95.1 225.1l2.1 .8l-.9 1l-2.1 -.8z"/><path color="#14052d" d="M97.2 225.9l2.1 .8l-.9 1.1l-2.1 -.9zM112.2 229.1l2.1 -.1l-.9 1.7l-2.1 .1z"/><path color="#0f0523" d="M99.3 226.7l2.1 .7l-.9 1.2l-2.1 -.8z"/><path color="#0a001e" d="M101.5 227.4l2.1 .6l-.9 1.3l-2.1 -.7zM107.9 228.8l2.1 .2l-.9 1.6l-2.1 -.3zM110 229l2.1 0l-.9 1.7l-2.1 -.1z"/><path color="#0a0019" d="M103.6 228l2.1 .5l-.9 1.4l-2.1 -.6zM105.8 228.5l2.1 .3l-.9 1.5l-2.1 -.4z"/><path color="#1e0541" d="M114.3 229l2.1 -.3l-.9 1.8l-2.1 .3z"/><path color="#2d0a5a" d="M116.5 228.6l2.1 -.6l-.9 1.8l-2.1 .5z"/><path color="#410a73" d="M118.6 228l2.1 -.8l-.9 2l-2.1 .7z"/><path color="#5f1482" d="M120.7 227.2l2.1 -1.1l-.9 2.1l-2.1 1z"/><path color="#821e91" d="M122.9 226.1l2.1 -1.3l-.9 2.3l-2.1 1.2z"/><path color="#a52391" d="M125 224.8l2.1 -1.5l-.9 2.4l-2.1 1.3z"/><path color="#c32d87" d="M127.2 223.3l2.1 -1.6l-.9 2.6l-2.1 1.4z"/><path color="#e13c78" d="M129.3 221.7l2.1 -1.6l-.9 2.8l-2.1 1.4z"/><path color="#f54669" d="M131.4 220.1l2.1 -1.4l-.9 3l-2.1 1.2z"/><path color="#ff505a" d="M133.6 218.8l2.1 -1l-1 3.1l-2.1 .9z"/><path color="#ff5a55" d="M135.7 217.7l2.1 -.6l-1 3.2l-2.1 .5z"/><path color="#ff5f50" d="M137.8 217.1l2.1 -.1l-1 3.2l-2.1 0z"/><path color="#ff5f4b" d="M140 217l2.1 .5l-1 3.2l-2.1 -.5z"/><path color="#ff5a4b" d="M142.1 217.5l2.1 1.1l-1 3.1l-2.1 -1z"/><path color="#f05050" d="M144.3 218.6l2.1 1.6l-1 3l-2.1 -1.4z"/><path color="#dc4155" d="M146.4 220.2l2.1 1.9l-1 2.9l-2.1 -1.8z"/><path color="#c8375f" d="M148.5 222.1l2.1 2.2l-1 2.7l-2.1 -2z"/><path color="#320a5f" d="M51.5 219.5l2.1 -1.3l-.8 1.7l-2.1 1.3z"/><path color="#5a1478" d="M53.6 218.2l2.1 -1.9l-.8 1.7l-2.1 1.9z"/><path color="#821e8c" d="M55.8 216.2l2.1 -2.4l-.8 1.7l-2.1 2.4z"/><path color="#af2882" d="M57.9 213.9l2.1 -2.5l-.8 1.8l-2.1 2.4z"/><path color="#d23773" d="M60 211.4l2.1 -2l-.8 1.8l-2.1 1.9z"/><path color="#eb4164" d="M62.2 209.4l2.1 -1l-.8 1.9l-2.1 .9z"/><path color="#eb415f" d="M64.3 208.4l2.1 .2l-.8 2.1l-2.1 -.3z"/><path color="#d23c5a" d="M66.4 208.6l2.1 1.4l-.8 2.2l-2.1 -1.5z"/><path color="#b42d5f" d="M68.6 210l2.1 2.2l-.8 2.3l-2.1 -2.3z"/><path color="#9b2369" d="M70.7 212.2l2.1 2.6l-.8 2.3l-2.1 -2.6z"/><path color="#821e73" d="M72.8 214.8l2.1 2.4l-.8 2.3l-2.1 -2.4z"/><path color="#6e1978" d="M75 217.2l2.1 2l-.8 2.1l-2.1 -1.8z"/><path color="#5a1473" d="M77.1 219.2l2.1 1.5l-.8 1.8l-2.1 -1.2z"/><path color="#4b0f6e" d="M79.3 220.8l2.1 1.1l-.8 1.4l-2.1 -.8z"/><path color="#410f69" d="M81.4 221.9l2.1 .8l-.8 1l-2.1 -.5z"/><path color="#3c0a5f" d="M83.5 222.7l2.1 .7l-.9 .7l-2.1 -.3z"/><path color="#370a5a" d="M85.7 223.4l2.1 .6l-.9 .4l-2.1 -.3z"/><path color="#320a55" d="M87.8 224l2.1 .6l-.9 .1l-2.1 -.4z"/><path color="#2d0a50" d="M89.9 224.7l2.1 .7l-.9 0l-2.1 -.6z"/><path color="#28054b" d="M92.1 225.4l2.1 .8l-.9 .1l-2.1 -.8z"/><path color="#230541" d="M94.2 226.1l2.1 .8l-.9 .2l-2.1 -1z"/><path color="#1e053c" d="M96.3 227l2.1 .9l-.9 .5l-2.1 -1.1z"/><path color="#190532" d="M98.5 227.8l2.1 .8l-.9 .7l-2.1 -1.1z"/><path color="#0f0528" d="M100.6 228.6l2.1 .7l-.9 1l-2.1 -1z"/><path color="#0a001e" d="M102.7 229.3l2.1 .6l-.9 1.2l-2.1 -.8zM109.1 230.6l2.1 .1l-.9 1.7l-2.1 -.2z"/><path color="#0a0019" d="M104.9 229.9l2.1 .4l-.9 1.4l-2.1 -.6zM107 230.4l2.1 .3l-.9 1.5l-2.1 -.4z"/><path color="#0f0523" d="M111.3 230.7l2.1 -.1l-.9 1.8l-2.1 0z"/><path color="#190537" d="M113.4 230.7l2.1 -.3l-.9 1.9l-2.1 .2z"/><path color="#280a50" d="M115.5 230.4l2.1 -.5l-.9 2l-2.1 .3z"/><path color="#3c0a69" d="M117.7 229.9l2.1 -.7l-.9 2.2l-2.1 .5z"/><path color="#550f7d" d="M119.8 229.2l2.1 -1l-.9 2.5l-2.1 .7z"/><path color="#73198c" d="M121.9 228.2l2.1 -1.2l-.9 2.8l-2.1 .9z"/><path color="#911e9b" d="M124.1 227l2.1 -1.3l-.9 3.1l-2.1 1z"/><path color="#af2891" d="M126.2 225.7l2.1 -1.4l-.9 3.4l-2.1 1.1z"/><path color="#c83287" d="M128.4 224.3l2.1 -1.4l-.9 3.7l-2.1 1.1z"/><path color="#dc3778" d="M130.5 222.9l2.1 -1.2l-.9 4l-2.1 .9z"/><path color="#eb4169" d="M132.6 221.7l2.1 -.9l-1 4.2l-2.1 .7z"/><path color="#f5465f" d="M134.8 220.8l2.1 -.5l-1 4.3l-2.1 .4z"/><path color="#fa465a" d="M136.9 220.3l2.1 0l-1 4.4l-2.1 0z"/><path color="#f5465a" d="M139 220.3l2.1 .5l-1 4.4l-2.1 -.5z"/><path color="#eb465a" d="M141.2 220.8l2.1 1l-1 4.3l-2.1 -.9z"/><path color="#e13c5f" d="M143.3 221.8l2.1 1.4l-1 4.1l-2.1 -1.2z"/><path color="#cd3769" d="M145.4 223.2l2.1 1.8l-1 3.8l-2.1 -1.5z"/><path color="#b92d73" d="M147.6 225l2.1 2l-1 3.5l-2.1 -1.7z"/><path color="#320a5f" d="M50.7 221.2l2.1 -1.3l-.8 1.8l-2.1 1.2z"/><path color="#550f7d" d="M52.8 219.9l2.1 -1.9l-.8 1.9l-2.1 1.8z"/><path color="#821e8c" d="M55 218l2.1 -2.4l-.8 2.1l-2.1 2.2z"/><path color="#af2887" d="M57.1 215.6l2.1 -2.4l-.8 2.2l-2.1 2.3z"/><path color="#d73778" d="M59.2 213.2l2.1 -1.9l-.8 2.4l-2.1 1.8z"/><path color="#f0416e" d="M61.4 211.2l2.1 -.9l-.8 2.5l-2.1 .8z"/><path color="#eb4164" d="M63.5 210.3l2.1 .3l-.8 2.5l-2.1 -.4z"/><path color="#d2375f" d="M65.6 210.6l2.1 1.5l-.8 2.4l-2.1 -1.5z"/><path color="#b42d64" d="M67.8 212.2l2.1 2.3l-.8 2.3l-2.1 -2.2z"/><path color="#962369" d="M69.9 214.5l2.1 2.6l-.8 2l-2.1 -2.3z"/><path color="#7d1973" d="M72 217.1l2.1 2.4l-.8 1.6l-2.1 -2z"/><path color="#641473" d="M74.2 219.5l2.1 1.8l-.8 1.1l-2.1 -1.3z"/><path color="#551469" d="M76.3 221.3l2.1 1.2l-.8 .6l-2.1 -.7z"/><path color="#4b0f5f" d="M78.4 222.5l2.1 .8l-.8 .1l-2.1 -.2z"/><path color="#460f5a" d="M80.5 223.3l2.1 .5l-.8 -.4l-2.1 0z"/><path color="#410f50" d="M82.7 223.8l2.1 .3l-.9 -.8l-2.1 .1zM84.8 224.1l2.1 .3l-.9 -1.1l-2.1 0z"/><path color="#410f4b" d="M86.9 224.4l2.1 .4l-.9 -1.3l-2.1 -.3z"/><path color="#3c0a4b" d="M89.1 224.8l2.1 .6l-.9 -1.3l-2.1 -.6zM91.2 225.4l2.1 .8l-.9 -1.1l-2.1 -1z"/><path color="#320a46" d="M93.3 226.2l2.1 1l-.9 -.7l-2.1 -1.3z"/><path color="#2d0546" d="M95.5 227.2l2.1 1.1l-.9 -.3l-2.1 -1.6z"/><path color="#230541" d="M97.6 228.3l2.1 1.1l-.9 .2l-2.1 -1.6z"/><path color="#190537" d="M99.7 229.4l2.1 1l-.9 .7l-2.1 -1.4z"/><path color="#140528" d="M101.8 230.4l2.1 .8l-.9 1l-2.1 -1.2z"/><path color="#0a001e" d="M104 231.2l2.1 .6l-.9 1.3l-2.1 -.9zM108.2 232.2l2.1 .2l-.9 1.6l-2.1 -.4zM110.4 232.4l2.1 0l-.9 1.8l-2.1 -.2z"/><path color="#0a0019" d="M106.1 231.8l2.1 .4l-.9 1.5l-2.1 -.6z"/><path color="#14052d" d="M112.5 232.4l2.1 -.2l-.9 1.9l-2.1 0z"/><path color="#1e0541" d="M114.6 232.3l2.1 -.3l-.9 2.1l-2.1 .2z"/><path color="#2d0a55" d="M116.8 231.9l2.1 -.5l-.9 2.4l-2.1 .3z"/><path color="#410a73" d="M118.9 231.4l2.1 -.7l-.9 2.6l-2.1 .4z"/><path color="#550f82" d="M121 230.7l2.1 -.9l-.9 2.9l-2.1 .6z"/><path color="#73198c" d="M123.2 229.8l2.1 -1l-.9 3.3l-2.1 .7z"/><path color="#8c1e96" d="M125.3 228.8l2.1 -1.1l-.9 3.7l-2.1 .7z"/><path color="#a02391" d="M127.4 227.7l2.1 -1.1l-.9 4l-2.1 .7z"/><path color="#b4288c" d="M129.5 226.6l2.1 -.9l-.9 4.4l-2.1 .6z"/><path color="#c32d82" d="M131.7 225.7l2.1 -.7l-1 4.6l-2.1 .4z"/><path color="#cd327d" d="M133.8 225l2.1 -.4l-1 4.8l-2.1 .2z"/><path color="#d23278" d="M135.9 224.6l2.1 0l-1 4.9l-2.1 -.1z"/><path color="#cd3773" d="M138.1 224.7l2.1 .5l-1 4.8l-2.1 -.4z"/><path color="#c83278" d="M140.2 225.1l2.1 .9l-1 4.7l-2.1 -.7z"/><path color="#be2d78" d="M142.3 226l2.1 1.2l-1 4.5l-2.1 -1z"/><path color="#af287d" d="M144.5 227.3l2.1 1.5l-1 4.2l-2.1 -1.2z"/><path color="#9b2382" d="M146.6 228.8l2.1 1.7l-1 3.8l-2.1 -1.4z"/><path color="#2d0a55" d="M49.9 222.9l2.1 -1.2l-.8 2l-2.1 1.1zM118 233.8l2.1 -.4l-.9 2.6l-2.1 .2z"/><path color="#500f78" d="M52.1 221.7l2.1 -1.8l-.8 2.2l-2.1 1.6z"/><path color="#7d198c" d="M54.2 219.9l2.1 -2.2l-.8 2.5l-2.1 2z"/><path color="#aa288c" d="M56.3 217.7l2.1 -2.3l-.8 2.7l-2.1 2z"/><path color="#cd3287" d="M58.4 215.4l2.1 -1.8l-.8 2.9l-2.1 1.6z"/><path color="#e13c78" d="M60.6 213.6l2.1 -.8l-.8 3l-2.1 .7z"/><path color="#e13c6e" d="M62.7 212.7l2.1 .4l-.8 3l-2.1 -.3z"/><path color="#cd3769" d="M64.8 213.1l2.1 1.5l-.8 2.7l-2.1 -1.3z"/><path color="#af2d6e" d="M66.9 214.6l2.1 2.2l-.8 2.3l-2.1 -1.8z"/><path color="#962373" d="M69.1 216.8l2.1 2.3l-.8 1.8l-2.1 -1.7z"/><path color="#7d1e73" d="M71.2 219.1l2.1 2l-.8 1l-2.1 -1.3z"/><path color="#69146e" d="M73.3 221.1l2.1 1.3l-.8 .3l-2.1 -.6z"/><path color="#5a145f" d="M75.5 222.4l2.1 .7l-.8 -.5l-2.1 .1z"/><path color="#55145a" d="M77.6 223.1l2.1 .2l-.8 -1.2l-2.1 .5z"/><path color="#551450" d="M79.7 223.4l2.1 0l-.8 -1.8l-2.1 .6z"/><path color="#5a1450" d="M81.8 223.3l2.1 -.1l-.9 -2.2l-2.1 .5z"/><path color="#5f144b" d="M84 223.3l2.1 0l-.9 -2.5l-2.1 .2zM86.1 223.3l2.1 .3l-.9 -2.5l-2.1 -.2zM88.2 223.5l2.1 .6l-.9 -2.4l-2.1 -.7z"/><path color="#5a144b" d="M90.3 224.1l2.1 1l-.9 -2l-2.1 -1.3z"/><path color="#500f50" d="M92.5 225.1l2.1 1.3l-.9 -1.5l-2.1 -1.9z"/><path color="#460f4b" d="M94.6 226.4l2.1 1.6l-.9 -.8l-2.1 -2.2z"/><path color="#320a46" d="M96.7 228l2.1 1.6l-.9 -.2l-2.1 -2.2z"/><path color="#280546" d="M98.8 229.6l2.1 1.4l-.9 .4l-2.1 -2z"/><path color="#1e0537" d="M101 231l2.1 1.2l-.9 .9l-2.1 -1.6z"/><path color="#140528" d="M103.1 232.2l2.1 .9l-.9 1.2l-2.1 -1.2z"/><path color="#0a001e" d="M105.2 233.1l2.1 .6l-.9 1.4l-2.1 -.8zM109.5 234l2.1 .2l-.9 1.8l-2.1 -.3z"/><path color="#0a0019" d="M107.3 233.7l2.1 .4l-.9 1.6l-2.1 -.5z"/><path color="#0a0023" d="M111.6 234.2l2.1 0l-.9 1.9l-2.1 -.2z"/><path color="#14052d" d="M113.7 234.2l2.1 -.2l-.9 2.1l-2.1 0z"/><path color="#1e0541" d="M115.8 234.1l2.1 -.3l-.9 2.3l-2.1 .1z"/><path color="#3c0a69" d="M120.1 233.3l2.1 -.6l-.9 2.9l-2.1 .3z"/><path color="#4b0f7d" d="M122.2 232.7l2.1 -.7l-.9 3.2l-2.1 .3z"/><path color="#5f1482" d="M124.4 232.1l2.1 -.7l-.9 3.5l-2.1 .4z"/><path color="#73198c" d="M126.5 231.3l2.1 -.7l-.9 3.9l-2.1 .4z"/><path color="#821e91" d="M128.6 230.6l2.1 -.6l-.9 4.2l-2.1 .3z"/><path color="#911e91" d="M130.7 230l2.1 -.4l-1 4.4l-2.1 .2z"/><path color="#9b238c" d="M132.9 229.6l2.1 -.2l-1 4.6l-2.1 0z"/><path color="#a0238c" d="M135 229.4l2.1 .1l-1 4.7l-2.1 -.2z"/><path color="#9b2387" d="M137.1 229.6l2.1 .4l-1 4.7l-2.1 -.4z"/><path color="#96238c" d="M139.2 230l2.1 .7l-1 4.5l-2.1 -.6z"/><path color="#8c1e8c" d="M141.4 230.7l2.1 1l-1 4.3l-2.1 -.8z"/><path color="#821e8c" d="M143.5 231.7l2.1 1.2l-1 4l-2.1 -.9z"/><path color="#731987" d="M145.6 233l2.1 1.4l-1 3.7l-2.1 -1z"/><path color="#28054b" d="M49.2 224.8l2.1 -1.1l-.8 2.1l-2.1 .9z"/><path color="#410a78" d="M51.3 223.7l2.1 -1.6l-.8 2.4l-2.1 1.3z"/><path color="#6e1987" d="M53.4 222.1l2.1 -2l-.8 2.7l-2.1 1.6z"/><path color="#962396" d="M55.5 220.1l2.1 -2l-.8 3.1l-2.1 1.7z"/><path color="#b92d8c" d="M57.6 218.1l2.1 -1.6l-.8 3.4l-2.1 1.3z"/><path color="#cd3287" d="M59.8 216.5l2.1 -.7l-.8 3.5l-2.1 .6z"/><path color="#d2327d" d="M61.9 215.8l2.1 .3l-.8 3.4l-2.1 -.2z"/><path color="#c3327d" d="M64 216.1l2.1 1.3l-.8 3l-2.1 -.9z"/><path color="#af2878" d="M66.1 217.4l2.1 1.8l-.8 2.4l-2.1 -1.2z"/><path color="#9b237d" d="M68.3 219.1l2.1 1.7l-.8 1.6l-2.1 -.9z"/><path color="#871e73" d="M70.4 220.9l2.1 1.3l-.8 .7l-2.1 -.3z"/><path color="#731964" d="M72.5 222.1l2.1 .6l-.8 -.3l-2.1 .4z"/><path color="#691955" d="M74.6 222.7l2.1 -.1l-.8 -1.3l-2.1 1z"/><path color="#69194b" d="M76.7 222.6l2.1 -.5l-.8 -2.1l-2.1 1.3z"/><path color="#731946" d="M78.9 222.2l2.1 -.6l-.8 -2.7l-2.1 1.2z"/><path color="#781e41" d="M81 221.6l2.1 -.5l-.9 -3.1l-2.1 .9zM89.5 221.8l2.1 1.3l-.9 -2.3l-2.1 -1.8z"/><path color="#7d233c" d="M83.1 221.1l2.1 -.2l-.9 -3.2l-2.1 .3zM87.3 221l2.1 .7l-.9 -2.8l-2.1 -1z"/><path color="#82233c" d="M85.2 220.8l2.1 .2l-.9 -3.1l-2.1 -.3z"/><path color="#6e1946" d="M91.6 223.1l2.1 1.9l-.9 -1.7l-2.1 -2.5z"/><path color="#5f144b" d="M93.7 225l2.1 2.2l-.9 -1l-2.1 -2.9z"/><path color="#4b0f50" d="M95.8 227.2l2.1 2.2l-.9 -.3l-2.1 -2.9z"/><path color="#370a4b" d="M98 229.4l2.1 2l-.9 .3l-2.1 -2.6z"/><path color="#230546" d="M100.1 231.4l2.1 1.6l-.9 .8l-2.1 -2.1z"/><path color="#190532" d="M102.2 233.1l2.1 1.2l-.9 1.2l-2.1 -1.6z"/><path color="#0a0023" d="M104.3 234.3l2.1 .8l-.9 1.4l-2.1 -1.1z"/><path color="#0a0019" d="M106.4 235.1l2.1 .5l-.9 1.6l-2.1 -.7zM108.6 235.7l2.1 .3l-.9 1.7l-2.1 -.4zM110.7 236l2.1 .2l-.9 1.8l-2.1 -.3z"/><path color="#0a001e" d="M112.8 236.1l2.1 0l-.9 2l-2.1 -.2z"/><path color="#0f0528" d="M114.9 236.2l2.1 -.1l-.9 2.1l-2.1 -.1z"/><path color="#190537" d="M117.1 236.1l2.1 -.2l-.9 2.4l-2.1 0z"/><path color="#23054b" d="M119.2 235.9l2.1 -.3l-.9 2.6l-2.1 0z"/><path color="#320a5a" d="M121.3 235.6l2.1 -.3l-.9 2.9l-2.1 .1z"/><path color="#3c0a69" d="M123.4 235.3l2.1 -.4l-.9 3.1l-2.1 .1z"/><path color="#460f78" d="M125.5 234.9l2.1 -.4l-.9 3.4l-2.1 .1z"/><path color="#550f7d" d="M127.7 234.5l2.1 -.3l-.9 3.7l-2.1 0z"/><path color="#5f1482" d="M129.8 234.2l2.1 -.2l-1 3.9l-2.1 0z"/><path color="#641482" d="M131.9 234.1l2.1 0l-1 4l-2.1 -.1zM138.3 234.6l2.1 .6l-1 3.9l-2.1 -.5z"/><path color="#691482" d="M134 234.1l2.1 .2l-1 4.1l-2.1 -.2zM136.1 234.2l2.1 .4l-1 4l-2.1 -.4z"/><path color="#5f147d" d="M140.4 235.3l2.1 .8l-1 3.7l-2.1 -.6z"/><path color="#550f78" d="M142.5 236l2.1 .9l-1 3.5l-2.1 -.7z"/><path color="#460f73" d="M144.6 237l2.1 1l-1 3.3l-2.1 -.8z"/><path color="#1e0541" d="M48.4 226.6l2.1 -.9l-.8 2.1l-2.1 .6z"/><path color="#370a69" d="M50.5 225.8l2.1 -1.3l-.8 2.5l-2.1 1zM133.1 238l2.1 .2l-1 3.3l-2.1 -.3zM137.3 238.7l2.1 .5l-1 3.2l-2.1 -.4z"/><path color="#5a1482" d="M52.6 224.5l2.1 -1.6l-.8 2.9l-2.1 1.2z"/><path color="#7d1991" d="M54.7 222.9l2.1 -1.7l-.8 3.3l-2.1 1.3z"/><path color="#9b2396" d="M56.8 221.2l2.1 -1.3l-.8 3.6l-2.1 1z"/><path color="#af288c" d="M59 219.9l2.1 -.6l-.8 3.7l-2.1 .5z"/><path color="#b42887" d="M61.1 219.3l2.1 .2l-.8 3.6l-2.1 -.1z"/><path color="#af2887" d="M63.2 219.5l2.1 .9l-.8 3.2l-2.1 -.5z"/><path color="#a52887" d="M65.3 220.4l2.1 1.2l-.8 2.5l-2.1 -.5z"/><path color="#a02387" d="M67.4 221.6l2.1 .9l-.8 1.6l-2.1 0z"/><path color="#962378" d="M69.5 222.5l2.1 .3l-.8 .6l-2.1 .7z"/><path color="#871e64" d="M71.7 222.8l2.1 -.4l-.8 -.4l-2.1 1.5z"/><path color="#821e50" d="M73.8 222.4l2.1 -1l-.8 -1.4l-2.1 2z"/><path color="#82233c" d="M75.9 221.3l2.1 -1.3l-.8 -2.1l-2.1 2z"/><path color="#8c2832" d="M78 220.1l2.1 -1.2l-.8 -2.6l-2.1 1.7z"/><path color="#91322d" d="M80.1 218.9l2.1 -.9l-.9 -2.9l-2.1 1.1zM82.3 218l2.1 -.3l-.9 -2.8l-2.1 .3zM86.5 217.9l2.1 1l-.9 -2.2l-2.1 -1.4z"/><path color="#913728" d="M84.4 217.6l2.1 .3l-.9 -2.6l-2.1 -.5z"/><path color="#8c2d2d" d="M88.6 219l2.1 1.8l-.9 -1.6l-2.1 -2.3z"/><path color="#822337" d="M90.7 220.8l2.1 2.5l-.9 -1.1l-2.1 -3.1z"/><path color="#731e46" d="M92.8 223.3l2.1 2.9l-.9 -.5l-2.1 -3.5z"/><path color="#5a144b" d="M95 226.2l2.1 2.9l-.9 .1l-2.1 -3.5z"/><path color="#460f50" d="M97.1 229.1l2.1 2.6l-.9 .6l-2.1 -3.1z"/><path color="#2d0a50" d="M99.2 231.8l2.1 2.1l-.9 1l-2.1 -2.5z"/><path color="#1e053c" d="M101.3 233.9l2.1 1.6l-.9 1.3l-2.1 -1.8z"/><path color="#0f0528" d="M103.4 235.5l2.1 1.1l-.9 1.4l-2.1 -1.2zM118.2 238.2l2.1 0l-.9 2.3l-2.1 -.1z"/><path color="#0a0019" d="M105.5 236.5l2.1 .7l-.9 1.6l-2.1 -.8z"/><path color="#050019" d="M107.7 237.2l2.1 .4l-.9 1.6l-2.1 -.5zM111.9 238l2.1 .2l-.9 1.8l-2.1 -.3z"/><path color="#050014" d="M109.8 237.7l2.1 .3l-.9 1.7l-2.1 -.4z"/><path color="#0a001e" d="M114 238.1l2.1 .1l-.9 2l-2.1 -.2z"/><path color="#0a0023" d="M116.1 238.2l2.1 0l-.9 2.1l-2.1 -.2z"/><path color="#190537" d="M120.4 238.2l2.1 -.1l-.9 2.5l-2.1 -.1z"/><path color="#230546" d="M122.5 238.1l2.1 -.1l-.9 2.7l-2.1 -.1z"/><path color="#280a50" d="M124.6 238l2.1 -.1l-.9 2.8l-2.1 -.1zM143.7 240.5l2.1 .8l-1 2.7l-2.1 -.6z"/><path color="#2d0a5a" d="M126.7 237.9l2.1 0l-.9 3l-2.1 -.1z"/><path color="#320a5f" d="M128.8 237.9l2.1 0l-1 3.2l-2.1 -.2zM139.4 239.2l2.1 .6l-1 3.1l-2.1 -.5z"/><path color="#370a64" d="M131 237.9l2.1 .1l-1 3.2l-2.1 -.2z"/><path color="#3c0a69" d="M135.2 238.3l2.1 .4l-1 3.3l-2.1 -.4z"/><path color="#320a5a" d="M141.5 239.8l2.1 .7l-1 2.9l-2.1 -.5z"/><path color="#140532" d="M47.6 228.5l2.1 -.6l-.8 2.1l-2.1 .4zM125.8 240.8l2.1 .1l-.9 2.4l-2.1 -.2zM140.6 242.9l2.1 .5l-1 2.4l-2.1 -.4z"/><path color="#280a50" d="M49.7 227.9l2.1 -1l-.8 2.5l-2.1 .6z"/><path color="#410a78" d="M51.8 227l2.1 -1.2l-.8 2.9l-2.1 .8z"/><path color="#5f1482" d="M53.9 225.7l2.1 -1.3l-.8 3.3l-2.1 .9z"/><path color="#781991" d="M56 224.5l2.1 -1l-.8 3.6l-2.1 .7z"/><path color="#8c1e96" d="M58.2 223.5l2.1 -.5l-.8 3.7l-2.1 .4z"/><path color="#962391" d="M60.3 223l2.1 .1l-.8 3.6l-2.1 0zM62.4 223.1l2.1 .5l-.8 3.2l-2.1 -.1zM64.5 223.5l2.1 .5l-.8 2.6l-2.1 .1z"/><path color="#a02391" d="M66.6 224l2.1 0l-.8 1.8l-2.1 .7z"/><path color="#a52882" d="M68.7 224.1l2.1 -.7l-.8 1l-2.1 1.6z"/><path color="#a52869" d="M70.8 223.4l2.1 -1.5l-.8 .1l-2.1 2.3z"/><path color="#aa2d4b" d="M73 221.9l2.1 -2l-.8 -.6l-2.1 2.7z"/><path color="#aa3737" d="M75.1 219.9l2.1 -2l-.8 -1.1l-2.1 2.5z"/><path color="#a5412d" d="M77.2 217.9l2.1 -1.7l-.8 -1.4l-2.1 2z"/><path color="#a04628" d="M79.3 216.2l2.1 -1.1l-.9 -1.4l-2.1 1.1z"/><path color="#9b4628" d="M81.4 215.1l2.1 -.3l-.9 -1.2l-2.1 .1zM83.5 214.8l2.1 .5l-.9 -.8l-2.1 -.9z"/><path color="#9b4128" d="M85.6 215.4l2.1 1.4l-.9 -.4l-2.1 -1.8z"/><path color="#963c28" d="M87.7 216.8l2.1 2.3l-.9 0l-2.1 -2.7z"/><path color="#8c2d2d" d="M89.9 219.2l2.1 3.1l-.9 .4l-2.1 -3.5z"/><path color="#82233c" d="M92 222.2l2.1 3.5l-.9 .7l-2.1 -3.8z"/><path color="#6e1950" d="M94.1 225.7l2.1 3.5l-.9 1l-2.1 -3.8z"/><path color="#55145a" d="M96.2 229.2l2.1 3.1l-.9 1.2l-2.1 -3.3z"/><path color="#3c0a55" d="M98.3 232.4l2.1 2.5l-.9 1.3l-2.1 -2.7z"/><path color="#230546" d="M100.4 234.9l2.1 1.8l-.9 1.4l-2.1 -1.9z"/><path color="#14052d" d="M102.5 236.7l2.1 1.2l-.9 1.5l-2.1 -1.3zM142.7 243.4l2.1 .6l-1 2.3l-2.1 -.5z"/><path color="#0a0019" d="M104.6 238l2.1 .8l-.9 1.6l-2.1 -.9z"/><path color="#050014" d="M106.8 238.8l2.1 .5l-.9 1.6l-2.1 -.6zM108.9 239.3l2.1 .4l-.9 1.7l-2.1 -.4zM111 239.7l2.1 .3l-.9 1.7l-2.1 -.3zM113.1 240l2.1 .2l-.9 1.8l-2.1 -.3z"/><path color="#050019" d="M115.2 240.2l2.1 .2l-.9 1.9l-2.1 -.3z"/><path color="#0a001e" d="M117.3 240.3l2.1 .1l-.9 2l-2.1 -.2zM119.4 240.5l2.1 .1l-.9 2.1l-2.1 -.2z"/><path color="#0a0523" d="M121.6 240.6l2.1 .1l-.9 2.2l-2.1 -.2z"/><path color="#0f0528" d="M123.7 240.7l2.1 .1l-.9 2.3l-2.1 -.2z"/><path color="#190537" d="M127.9 240.9l2.1 .2l-1 2.5l-2.1 -.3zM138.5 242.4l2.1 .5l-1 2.5l-2.1 -.4z"/><path color="#19053c" d="M130 241.1l2.1 .2l-1 2.6l-2.1 -.3zM136.3 241.9l2.1 .4l-1 2.5l-2.1 -.4z"/><path color="#1e053c" d="M132.1 241.3l2.1 .3l-1 2.6l-2.1 -.3zM134.2 241.6l2.1 .4l-1 2.6l-2.1 -.3z"/><path color="#0a0523" d="M46.8 230.4l2.1 -.4l-.8 2.1l-2.1 .2z"/><path color="#1e053c" d="M48.9 230.1l2.1 -.6l-.8 2.4l-2.1 .3z"/><path color="#2d0a5a" d="M51 229.4l2.1 -.8l-.8 2.7l-2.1 .5z"/><path color="#410a73" d="M53.1 228.6l2.1 -.9l-.8 3.1l-2.1 .5z"/><path color="#550f82" d="M55.2 227.7l2.1 -.7l-.8 3.3l-2.1 .4z"/><path color="#641487" d="M57.4 227l2.1 -.4l-.8 3.5l-2.1 .2z"/><path color="#6e1987" d="M59.5 226.7l2.1 0l-.8 3.4l-2.1 .1z"/><path color="#78198c" d="M61.6 226.6l2.1 .1l-.8 3.1l-2.1 .2z"/><path color="#821e91" d="M63.7 226.7l2.1 -.1l-.8 2.7l-2.1 .5z"/><path color="#962396" d="M65.8 226.6l2.1 -.7l-.8 2.2l-2.1 1.2z"/><path color="#aa2887" d="M67.9 225.9l2.1 -1.6l-.8 1.7l-2.1 2.1z"/><path color="#c33273" d="M70 224.3l2.1 -2.3l-.8 1.3l-2.1 2.7z"/><path color="#d73c55" d="M72.1 222l2.1 -2.7l-.8 1l-2.1 3z"/><path color="#e15041" d="M74.2 219.3l2.1 -2.5l-.8 .8l-2.1 2.7z"/><path color="#f0693c" d="M76.3 216.8l2.1 -2l-.8 .9l-2.1 1.9z"/><path color="#f56e41" d="M78.4 214.8l2.1 -1.1l-.9 1.1l-2.1 .9zM80.6 213.8l2.1 -.1l-.9 1.4l-2.1 -.2z"/><path color="#f06941" d="M82.7 213.7l2.1 .9l-.9 1.7l-2.1 -1.2z"/><path color="#e1643c" d="M84.8 214.5l2.1 1.8l-.9 2l-2.1 -2.1z"/><path color="#d25537" d="M86.9 216.4l2.1 2.7l-.9 2.1l-2.1 -2.9z"/><path color="#b93c3c" d="M89 219.1l2.1 3.5l-.9 2.2l-2.1 -3.5z"/><path color="#a02d4b" d="M91.1 222.6l2.1 3.8l-.9 2.1l-2.1 -3.8z"/><path color="#821e5f" d="M93.2 226.4l2.1 3.8l-.9 2l-2.1 -3.7z"/><path color="#5f1469" d="M95.3 230.2l2.1 3.3l-.9 1.9l-2.1 -3.2z"/><path color="#410a5f" d="M97.4 233.5l2.1 2.7l-.9 1.7l-2.1 -2.6z"/><path color="#230546" d="M99.5 236.2l2.1 1.9l-.9 1.7l-2.1 -1.9z"/><path color="#140528" d="M101.6 238.2l2.1 1.3l-.9 1.6l-2.1 -1.3z"/><path color="#0a0019" d="M103.7 239.5l2.1 .9l-.9 1.6l-2.1 -.8zM122.7 242.9l2.1 .2l-.9 2l-2.1 -.3zM141.7 245.8l2.1 .5l-1 1.9l-2.1 -.4z"/><path color="#050014" d="M105.9 240.3l2.1 .6l-.9 1.6l-2.1 -.6zM114.3 242l2.1 .3l-.9 1.7l-2.1 -.3zM116.4 242.2l2.1 .2l-.9 1.8l-2.1 -.3zM118.5 242.5l2.1 .2l-.9 1.8l-2.1 -.3z"/><path color="#05000f" d="M108 240.9l2.1 .4l-.9 1.6l-2.1 -.4zM110.1 241.3l2.1 .3l-.9 1.6l-2.1 -.4zM112.2 241.7l2.1 .3l-.9 1.7l-2.1 -.3z"/><path color="#050019" d="M120.6 242.7l2.1 .2l-.9 1.9l-2.1 -.3z"/><path color="#0a001e" d="M124.8 243.1l2.1 .2l-.9 2l-2.1 -.3zM126.9 243.3l2.1 .3l-1 2.1l-2.1 -.3zM129.1 243.6l2.1 .3l-1 2.1l-2.1 -.3zM131.2 243.9l2.1 .3l-1 2.1l-2.1 -.3zM133.3 244.2l2.1 .3l-1 2.1l-2.1 -.3zM135.4 244.5l2.1 .4l-1 2.1l-2.1 -.4zM137.5 244.9l2.1 .4l-1 2l-2.1 -.4zM139.6 245.3l2.1 .4l-1 2l-2.1 -.4z"/><path color="#0a001e" d="M46 232.3l2.1 -.2l-.8 2l-2.1 0z"/><path color="#0f0528" d="M48.1 232.1l2.1 -.3l-.8 2.2l-2.1 .1zM100.7 239.8l2.1 1.3l-.9 1.7l-2.1 -1.1z"/><path color="#1e053c" d="M50.2 231.8l2.1 -.5l-.8 2.5l-2.1 .2z"/><path color="#2d0a55" d="M52.3 231.3l2.1 -.5l-.8 2.8l-2.1 .2z"/><path color="#370a64" d="M54.4 230.8l2.1 -.4l-.8 3l-2.1 .2z"/><path color="#410a73" d="M56.6 230.4l2.1 -.2l-.8 3.1l-2.1 .1z"/><path color="#4b0f7d" d="M58.7 230.1l2.1 -.1l-.8 3.1l-2.1 .1z"/><path color="#5a0f82" d="M60.8 230l2.1 -.2l-.8 3l-2.1 .3z"/><path color="#691487" d="M62.9 229.9l2.1 -.5l-.8 2.8l-2.1 .7z"/><path color="#821e91" d="M65 229.3l2.1 -1.2l-.8 2.7l-2.1 1.4z"/><path color="#a52891" d="M67.1 228.1l2.1 -2.1l-.8 2.6l-2.1 2.1z"/><path color="#cd3282" d="M69.2 226l2.1 -2.7l-.8 2.7l-2.1 2.7z"/><path color="#f0415f" d="M71.3 223.3l2.1 -3l-.8 2.8l-2.1 2.8z"/><path color="#ff5f50" d="M73.4 220.3l2.1 -2.7l-.8 3.1l-2.1 2.4z"/><path color="#ff7846" d="M75.5 217.6l2.1 -1.9l-.8 3.4l-2.1 1.6z"/><path color="#ff824b" d="M77.6 215.7l2.1 -.9l-.9 3.7l-2.1 .6z"/><path color="#ff7d4b" d="M79.7 214.8l2.1 .2l-.9 4l-2.1 -.5z"/><path color="#ff7346" d="M81.8 215l2.1 1.2l-.9 4.2l-2.1 -1.4z"/><path color="#f5693c" d="M83.9 216.2l2.1 2.1l-.9 4.2l-2.1 -2.2z"/><path color="#e15541" d="M86 218.4l2.1 2.9l-.9 4.1l-2.1 -2.8z"/><path color="#cd3c4b" d="M88.1 221.3l2.1 3.5l-.9 3.8l-2.1 -3.2z"/><path color="#aa2d5f" d="M90.2 224.8l2.1 3.8l-.9 3.4l-2.1 -3.3z"/><path color="#821e6e" d="M92.3 228.5l2.1 3.7l-.9 2.9l-2.1 -3.2z"/><path color="#5f146e" d="M94.4 232.2l2.1 3.2l-.9 2.4l-2.1 -2.8z"/><path color="#3c0a64" d="M96.5 235.4l2.1 2.6l-.9 2.1l-2.1 -2.2z"/><path color="#230546" d="M98.6 237.9l2.1 1.9l-.9 1.8l-2.1 -1.6z"/><path color="#0a0019" d="M102.8 241.1l2.1 .8l-.9 1.6l-2.1 -.8z"/><path color="#050014" d="M105 241.9l2.1 .6l-.9 1.6l-2.1 -.5zM121.8 244.8l2.1 .3l-.9 1.7l-2.1 -.3zM123.9 245.1l2.1 .3l-.9 1.8l-2.1 -.3zM126 245.4l2.1 .3l-1 1.8l-2.1 -.3zM128.1 245.7l2.1 .3l-1 1.8l-2.1 -.3zM130.2 246l2.1 .3l-1 1.8l-2.1 -.3zM132.3 246.3l2.1 .3l-1 1.8l-2.1 -.3zM134.4 246.6l2.1 .4l-1 1.8l-2.1 -.3zM136.5 247l2.1 .4l-1 1.8l-2.1 -.4zM138.6 247.4l2.1 .4l-1 1.7l-2.1 -.4zM140.7 247.8l2.1 .4l-1 1.7l-2.1 -.4z"/><path color="#05000f" d="M107.1 242.5l2.1 .4l-.9 1.6l-2.1 -.4zM115.5 243.9l2.1 .3l-.9 1.6l-2.1 -.3zM117.6 244.2l2.1 .3l-.9 1.7l-2.1 -.3zM119.7 244.5l2.1 .3l-.9 1.7l-2.1 -.3z"/><path color="#00000f" d="M109.2 243l2.1 .4l-.9 1.6l-2.1 -.4zM111.3 243.3l2.1 .3l-.9 1.6l-2.1 -.3zM113.4 243.6l2.1 .3l-.9 1.6l-2.1 -.3z"/><path color="#050019" d="M45.2 234.1l2.1 0l-.8 1.9l-2.1 -.1zM101.9 242.8l2.1 .8l-.9 1.6l-2.1 -.7z"/><path color="#0a001e" d="M47.4 234.1l2.1 -.1l-.8 2l-2.1 -.1zM99.8 241.7l2.1 1.1l-.9 1.7l-2.1 -.9z"/><path color="#0f0523" d="M49.5 234l2.1 -.2l-.8 2.2l-2.1 0z"/><path color="#190537" d="M51.5 233.8l2.1 -.2l-.8 2.4l-2.1 0z"/><path color="#230546" d="M53.7 233.6l2.1 -.2l-.8 2.6l-2.1 0z"/><path color="#280a50" d="M55.8 233.4l2.1 -.1l-.8 2.7l-2.1 0z"/><path color="#320a5a" d="M57.9 233.3l2.1 -.1l-.8 2.8l-2.1 0zM95.7 237.8l2.1 2.2l-.9 2.3l-2.1 -1.7z"/><path color="#3c0a6e" d="M60 233.1l2.1 -.3l-.8 2.8l-2.1 .2z"/><path color="#4b0f7d" d="M62 232.9l2.1 -.7l-.8 2.9l-2.1 .7z"/><path color="#691487" d="M64.2 232.2l2.1 -1.4l-.8 3l-2.1 1.2z"/><path color="#8c1e96" d="M66.2 230.8l2.1 -2.1l-.8 3.3l-2.1 1.8z"/><path color="#b92d8c" d="M68.4 228.6l2.1 -2.7l-.8 3.8l-2.1 2.3z"/><path color="#e13c73" d="M70.5 226l2.1 -2.8l-.8 4.3l-2.1 2.3z"/><path color="#ff4b5a" d="M72.6 223.1l2.1 -2.4l-.8 4.8l-2.1 1.9z"/><path color="#ff5a50" d="M74.7 220.7l2.1 -1.6l-.8 5.3l-2.1 1.2z"/><path color="#ff6446" d="M76.8 219.1l2.1 -.6l-.9 5.6l-2.1 .2zM78.8 218.5l2.1 .5l-.9 5.8l-2.1 -.7z"/><path color="#f55a46" d="M80.9 219l2.1 1.4l-.9 5.8l-2.1 -1.4z"/><path color="#e64b4b" d="M83 220.4l2.1 2.2l-.9 5.6l-2.1 -2z"/><path color="#d73c55" d="M85.1 222.6l2.1 2.8l-.9 5.3l-2.1 -2.4z"/><path color="#b93264" d="M87.2 225.4l2.1 3.2l-.9 4.7l-2.1 -2.6z"/><path color="#9b2373" d="M89.3 228.5l2.1 3.3l-.9 4l-2.1 -2.7z"/><path color="#73197d" d="M91.5 231.9l2.1 3.2l-.9 3.3l-2.1 -2.5z"/><path color="#500f6e" d="M93.5 235.1l2.1 2.8l-.9 2.7l-2.1 -2.2z"/><path color="#1e0537" d="M97.8 240l2.1 1.6l-.9 1.9l-2.1 -1.3z"/><path color="#05000f" d="M104.1 243.5l2.1 .5l-.9 1.6l-2.1 -.5zM122.9 246.8l2.1 .3l-.9 1.6l-2.1 -.3zM125 247.1l2.1 .3l-1 1.6l-2.1 -.3zM127.2 247.4l2.1 .3l-1 1.6l-2.1 -.3zM129.2 247.8l2.1 .3l-1 1.6l-2.1 -.3zM131.3 248.1l2.1 .3l-1 1.6l-2.1 -.3zM133.4 248.4l2.1 .3l-1 1.6l-2.1 -.3zM135.5 248.8l2.1 .4l-1 1.6l-2.1 -.3zM137.7 249.1l2.1 .4l-1 1.6l-2.1 -.3z"/><path color="#00000f" d="M106.2 244.1l2.1 .4l-.9 1.6l-2.1 -.4zM120.8 246.5l2.1 .3l-.9 1.6l-2.1 -.3zM139.8 249.5l2.1 .4l-1 1.6l-2.1 -.3z"/><path color="#00000a" d="M108.2 244.5l2.1 .4l-.9 1.5l-2.1 -.4zM110.3 244.9l2.1 .3l-.9 1.6l-2.1 -.3zM112.5 245.2l2.1 .3l-.9 1.6l-2.1 -.3zM114.5 245.5l2.1 .3l-.9 1.6l-2.1 -.3zM116.7 245.9l2.1 .3l-.9 1.6l-2.1 -.3zM118.8 246.2l2.1 .3l-.9 1.6l-2.1 -.3z"/><path color="#050014" d="M44.5 235.8l2.1 .1l-.8 1.8l-2.1 -.2zM101.1 244.5l2.1 .7l-.9 1.6l-2.1 -.5z"/><path color="#050019" d="M46.6 235.9l2.1 .1l-.8 1.9l-2.1 -.2z"/><path color="#0a001e" d="M48.7 236l2.1 0l-.8 2l-2.1 -.1z"/><path color="#0a0023" d="M50.8 236l2.1 0l-.8 2.2l-2.1 -.1z"/><path color="#0f0528" d="M52.9 236l2.1 0l-.8 2.3l-2.1 -.1zM96.9 242.3l2.1 1.3l-.9 1.9l-2.1 -1z"/><path color="#140532" d="M54.9 236l2.1 0l-.8 2.4l-2.1 -.1z"/><path color="#1e053c" d="M57 236l2.1 0l-.8 2.5l-2.1 0z"/><path color="#28054b" d="M59.1 235.9l2.1 -.2l-.8 2.6l-2.1 .1z"/><path color="#370a64" d="M61.2 235.7l2.1 -.7l-.8 2.8l-2.1 .4zM92.7 238.4l2.1 2.2l-.9 2.7l-2.1 -1.6z"/><path color="#4b0f7d" d="M63.3 235l2.1 -1.2l-.8 3.1l-2.1 .9z"/><path color="#6e198c" d="M65.4 233.8l2.1 -1.8l-.8 3.7l-2.1 1.3z"/><path color="#911e96" d="M67.5 232l2.1 -2.3l-.8 4.3l-2.1 1.6z"/><path color="#b92d87" d="M69.6 229.7l2.1 -2.3l-.8 5l-2.1 1.6z"/><path color="#d23778" d="M71.7 227.4l2.1 -1.9l-.8 5.6l-2.1 1.3z"/><path color="#e13c69" d="M73.8 225.5l2.1 -1.2l-.8 6.1l-2.1 .7z"/><path color="#e1415f" d="M75.9 224.3l2.1 -.2l-.9 6.4l-2.1 -.1z"/><path color="#dc3c5f" d="M78 224.1l2.1 .7l-.9 6.4l-2.1 -.7z"/><path color="#d23c5f" d="M80.1 224.8l2.1 1.4l-.9 6.3l-2.1 -1.3z"/><path color="#c33269" d="M82.2 226.2l2.1 2l-.9 5.9l-2.1 -1.6z"/><path color="#af2873" d="M84.3 228.2l2.1 2.4l-.9 5.4l-2.1 -1.9z"/><path color="#96237d" d="M86.4 230.6l2.1 2.6l-.9 4.8l-2.1 -2z"/><path color="#781982" d="M88.5 233.2l2.1 2.7l-.9 4l-2.1 -2z"/><path color="#551473" d="M90.6 235.9l2.1 2.5l-.9 3.3l-2.1 -1.8z"/><path color="#230546" d="M94.8 240.6l2.1 1.7l-.9 2.3l-2.1 -1.3z"/><path color="#0a0019" d="M99 243.6l2.1 .9l-.9 1.7l-2.1 -.7z"/><path color="#05000f" d="M103.1 245.2l2.1 .5l-.9 1.6l-2.1 -.4z"/><path color="#00000a" d="M105.2 245.7l2.1 .4l-.9 1.5l-2.1 -.4zM107.3 246.1l2.1 .4l-.9 1.5l-2.1 -.4zM109.4 246.4l2.1 .3l-.9 1.5l-2.1 -.3zM111.5 246.8l2.1 .3l-.9 1.5l-2.1 -.3zM113.6 247.1l2.1 .3l-.9 1.5l-2.1 -.3zM115.7 247.4l2.1 .3l-.9 1.5l-2.1 -.3zM117.8 247.8l2.1 .3l-.9 1.5l-2.1 -.3zM119.9 248.1l2.1 .3l-.9 1.6l-2.1 -.3zM122 248.4l2.1 .3l-.9 1.6l-2.1 -.3zM124.1 248.7l2.1 .3l-1 1.6l-2.1 -.3zM126.2 249.1l2.1 .3l-1 1.6l-2.1 -.3zM128.3 249.4l2.1 .3l-1 1.6l-2.1 -.3zM130.4 249.7l2.1 .3l-1 1.6l-2.1 -.3zM132.5 250.1l2.1 .3l-1 1.6l-2.1 -.3zM134.6 250.4l2.1 .3l-1 1.5l-2.1 -.3zM136.7 250.8l2.1 .3l-1 1.5l-2.1 -.3zM138.8 251.1l2.1 .3l-1 1.5l-2.1 -.3z"/><path color="#05000f" d="M43.7 237.5l2.1 .2l-.8 1.7l-2.1 -.3zM100.2 246.3l2.1 .5l-.9 1.6l-2.1 -.5z"/><path color="#050014" d="M45.8 237.7l2.1 .2l-.8 1.8l-2.1 -.3zM47.9 237.9l2.1 .1l-.8 1.8l-2.1 -.2zM98.1 245.5l2.1 .7l-.9 1.7l-2.1 -.6z"/><path color="#0a0019" d="M50 238l2.1 .1l-.8 1.9l-2.1 -.2z"/><path color="#0a001e" d="M52.1 238.2l2.1 .1l-.8 2l-2.1 -.2zM54.1 238.3l2.1 .1l-.8 2.1l-2.1 -.2zM96 244.6l2.1 1l-.9 1.9l-2.1 -.7z"/><path color="#0a0523" d="M56.2 238.4l2.1 0l-.8 2.2l-2.1 -.1z"/><path color="#140532" d="M58.3 238.4l2.1 -.1l-.8 2.3l-2.1 0z"/><path color="#1e0541" d="M60.4 238.3l2.1 -.4l-.8 2.6l-2.1 .2z"/><path color="#320a5a" d="M62.5 237.9l2.1 -.9l-.8 3l-2.1 .5z"/><path color="#460f7d" d="M64.6 237l2.1 -1.3l-.8 3.5l-2.1 .8z"/><path color="#691487" d="M66.7 235.7l2.1 -1.6l-.8 4.2l-2.1 1z"/><path color="#871e91" d="M68.8 234l2.1 -1.6l-.8 4.9l-2.1 .9z"/><path color="#9b238c" d="M70.9 232.4l2.1 -1.3l-.8 5.5l-2.1 .7z"/><path color="#aa2887" d="M73 231.1l2.1 -.7l-.8 5.9l-2.1 .3z"/><path color="#af2882" d="M75.1 230.5l2.1 .1l-.9 6l-2.1 -.2z"/><path color="#aa287d" d="M77.1 230.5l2.1 .7l-.9 6l-2.1 -.7z"/><path color="#a02382" d="M79.2 231.3l2.1 1.3l-.9 5.7l-2.1 -1z"/><path color="#8c1e82" d="M81.3 232.5l2.1 1.6l-.9 5.3l-2.1 -1.2z"/><path color="#7d1987" d="M83.4 234.2l2.1 1.9l-.9 4.8l-2.1 -1.3z"/><path color="#64147d" d="M85.5 236l2.1 2l-.9 4.2l-2.1 -1.4z"/><path color="#4b0f73" d="M87.6 238l2.1 2l-.9 3.6l-2.1 -1.3z"/><path color="#370a64" d="M89.7 239.9l2.1 1.8l-.9 3l-2.1 -1.2z"/><path color="#23054b" d="M91.8 241.7l2.1 1.6l-.9 2.5l-2.1 -1.1z"/><path color="#14052d" d="M93.9 243.3l2.1 1.3l-.9 2.1l-2.1 -.9z"/><path color="#00000f" d="M102.2 246.8l2.1 .4l-.9 1.6l-2.1 -.4z"/><path color="#00000a" d="M104.3 247.2l2.1 .4l-.9 1.5l-2.1 -.4zM106.4 247.6l2.1 .4l-.9 1.5l-2.1 -.3zM108.5 248l2.1 .3l-.9 1.5l-2.1 -.3zM114.8 249l2.1 .3l-.9 1.5l-2.1 -.3zM116.9 249.3l2.1 .3l-.9 1.5l-2.1 -.3zM119 249.6l2.1 .3l-.9 1.5l-2.1 -.3zM121.1 250l2.1 .3l-.9 1.5l-2.1 -.3zM123.2 250.3l2.1 .3l-1 1.5l-2.1 -.3zM125.2 250.6l2.1 .3l-1 1.5l-2.1 -.3zM127.3 251l2.1 .3l-1 1.5l-2.1 -.3zM129.4 251.3l2.1 .3l-1 1.5l-2.1 -.3zM131.5 251.6l2.1 .3l-1 1.5l-2.1 -.3zM133.6 252l2.1 .3l-1 1.5l-2.1 -.3zM135.7 252.3l2.1 .3l-1 1.5l-2.1 -.3zM137.8 252.6l2.1 .3l-1 1.5l-2.1 -.3z"/><path color="#000005" d="M110.6 248.3l2.1 .3l-.9 1.5l-2.1 -.3zM112.7 248.6l2.1 .3l-.9 1.5l-2.1 -.3z"/><path color="#00000a" d="M42.9 239.1l2.1 .3l-.8 1.6l-2.1 -.3zM101.3 248.4l2.1 .4l-.9 1.5l-2.1 -.4zM103.4 248.8l2.1 .4l-.9 1.5l-2.1 -.3zM105.5 249.2l2.1 .3l-.9 1.5l-2.1 -.3z"/><path color="#05000f" d="M45 239.4l2.1 .3l-.8 1.7l-2.1 -.3zM47.1 239.6l2.1 .2l-.8 1.7l-2.1 -.3zM97.2 247.4l2.1 .6l-.9 1.6l-2.1 -.4zM99.3 247.9l2.1 .5l-.9 1.6l-2.1 -.4z"/><path color="#050014" d="M49.2 239.9l2.1 .2l-.8 1.8l-2.1 -.3zM51.3 240.1l2.1 .2l-.8 1.8l-2.1 -.3zM95.1 246.7l2.1 .7l-.9 1.7l-2.1 -.5z"/><path color="#050019" d="M53.3 240.3l2.1 .2l-.8 1.9l-2.1 -.3z"/><path color="#0a0019" d="M55.4 240.5l2.1 .1l-.8 2l-2.1 -.2z"/><path color="#0a001e" d="M57.5 240.6l2.1 0l-.8 2.1l-2.1 -.1zM93 245.8l2.1 .9l-.9 1.9l-2.1 -.6z"/><path color="#0f0523" d="M59.6 240.6l2.1 -.2l-.8 2.3l-2.1 0z"/><path color="#190537" d="M61.7 240.4l2.1 -.5l-.8 2.6l-2.1 .2z"/><path color="#2d0a50" d="M63.8 240l2.1 -.8l-.8 3.1l-2.1 .3z"/><path color="#3c0a6e" d="M65.9 239.2l2.1 -1l-.8 3.6l-2.1 .4z"/><path color="#500f7d" d="M67.9 238.2l2.1 -.9l-.8 4.2l-2.1 .4z"/><path color="#641482" d="M70 237.3l2.1 -.7l-.8 4.6l-2.1 .3z"/><path color="#6e1987" d="M72.1 236.6l2.1 -.3l-.8 4.9l-2.1 0zM74.2 236.3l2.1 .2l-.9 5l-2.1 -.3z"/><path color="#6e1982" d="M76.3 236.5l2.1 .7l-.9 4.9l-2.1 -.6z"/><path color="#64147d" d="M78.4 237.2l2.1 1l-.9 4.6l-2.1 -.8z"/><path color="#550f78" d="M80.5 238.2l2.1 1.2l-.9 4.3l-2.1 -.9z"/><path color="#460f73" d="M82.6 239.5l2.1 1.3l-.9 3.8l-2.1 -.9z"/><path color="#370a69" d="M84.6 240.8l2.1 1.4l-.9 3.4l-2.1 -.9z"/><path color="#2d0a55" d="M86.7 242.2l2.1 1.3l-.9 2.9l-2.1 -.9z"/><path color="#1e053c" d="M88.8 243.5l2.1 1.2l-.9 2.5l-2.1 -.8z"/><path color="#0f0528" d="M90.9 244.7l2.1 1.1l-.9 2.2l-2.1 -.7z"/><path color="#000005" d="M107.6 249.5l2.1 .3l-.9 1.5l-2.1 -.3zM109.7 249.8l2.1 .3l-.9 1.5l-2.1 -.3zM111.8 250.2l2.1 .3l-.9 1.5l-2.1 -.3zM113.9 250.5l2.1 .3l-.9 1.5l-2.1 -.3zM115.9 250.8l2.1 .3l-.9 1.5l-2.1 -.3zM118 251.2l2.1 .3l-.9 1.5l-2.1 -.3zM120.1 251.5l2.1 .3l-.9 1.5l-2.1 -.3zM122.2 251.8l2.1 .3l-1 1.5l-2.1 -.3zM124.3 252.2l2.1 .3l-1 1.5l-2.1 -.3zM126.4 252.5l2.1 .3l-1 1.5l-2.1 -.3zM128.5 252.8l2.1 .3l-1 1.5l-2.1 -.3zM130.6 253.2l2.1 .3l-1 1.5l-2.1 -.3zM132.6 253.5l2.1 .3l-1 1.5l-2.1 -.3zM134.7 253.8l2.1 .3l-1 1.5l-2.1 -.3zM136.8 254.2l2.1 .3l-1 1.5l-2.1 -.3z"/><path color="#00000a" d="M42.1 240.7l2.1 .3l-.8 1.6l-2.1 -.3zM44.2 241l2.1 .3l-.8 1.6l-2.1 -.3zM46.3 241.3l2.1 .3l-.8 1.6l-2.1 -.3zM98.4 249.6l2.1 .4l-.9 1.6l-2.1 -.4zM100.4 250l2.1 .4l-.9 1.5l-2.1 -.3zM102.5 250.3l2.1 .3l-.9 1.5l-2.1 -.3z"/><path color="#05000f" d="M48.4 241.6l2.1 .3l-.8 1.7l-2.1 -.3zM50.5 241.9l2.1 .3l-.8 1.7l-2.1 -.3zM52.5 242.1l2.1 .3l-.8 1.7l-2.1 -.3zM94.2 248.6l2.1 .5l-.9 1.7l-2.1 -.4zM96.3 249.1l2.1 .4l-.9 1.6l-2.1 -.4z"/><path color="#050014" d="M54.6 242.4l2.1 .2l-.8 1.8l-2.1 -.3zM56.7 242.6l2.1 .1l-.8 1.9l-2.1 -.2zM92.1 248l2.1 .6l-.9 1.8l-2.1 -.5z"/><path color="#0a0019" d="M58.8 242.7l2.1 0l-.8 2l-2.1 -.2zM90 247.3l2.1 .7l-.9 1.9l-2.1 -.5z"/><path color="#0a0023" d="M60.9 242.7l2.1 -.2l-.8 2.3l-2.1 -.1z"/><path color="#14052d" d="M63 242.6l2.1 -.3l-.8 2.6l-2.1 0zM85.9 245.6l2.1 .9l-.9 2.4l-2.1 -.6z"/><path color="#1e0541" d="M65 242.3l2.1 -.4l-.8 2.9l-2.1 .1z"/><path color="#280a50" d="M67.1 241.9l2.1 -.4l-.8 3.3l-2.1 0z"/><path color="#320a5f" d="M69.2 241.5l2.1 -.3l-.8 3.6l-2.1 0zM77.5 242.1l2.1 .8l-.9 3.5l-2.1 -.6z"/><path color="#370a69" d="M71.3 241.2l2.1 0l-.8 3.8l-2.1 -.2z"/><path color="#3c0a69" d="M73.4 241.2l2.1 .3l-.9 3.8l-2.1 -.3z"/><path color="#370a64" d="M75.4 241.5l2.1 .6l-.9 3.7l-2.1 -.5z"/><path color="#2d0a55" d="M79.6 242.9l2.1 .9l-.9 3.2l-2.1 -.6z"/><path color="#230546" d="M81.7 243.8l2.1 .9l-.9 2.9l-2.1 -.6z"/><path color="#1e053c" d="M83.8 244.7l2.1 .9l-.9 2.7l-2.1 -.6z"/><path color="#0a001e" d="M87.9 246.5l2.1 .8l-.9 2.1l-2.1 -.6z"/><path color="#000005" d="M104.6 250.7l2.1 .3l-.9 1.5l-2.1 -.3zM106.7 251l2.1 .3l-.9 1.5l-2.1 -.3zM108.8 251.4l2.1 .3l-.9 1.5l-2.1 -.3zM110.9 251.7l2.1 .3l-.9 1.5l-2.1 -.3zM112.9 252l2.1 .3l-.9 1.5l-2.1 -.3zM115 252.4l2.1 .3l-.9 1.5l-2.1 -.3zM117.1 252.7l2.1 .3l-.9 1.5l-2.1 -.3zM119.2 253l2.1 .3l-.9 1.5l-2.1 -.3zM121.3 253.3l2.1 .3l-1 1.5l-2.1 -.3zM123.3 253.7l2.1 .3l-1 1.5l-2.1 -.3zM125.4 254l2.1 .3l-1 1.5l-2.1 -.3zM127.5 254.3l2.1 .3l-1 1.5l-2.1 -.3zM129.6 254.7l2.1 .3l-1 1.5l-2.1 -.3zM131.7 255l2.1 .3l-1 1.5l-2.1 -.3zM133.8 255.3l2.1 .3l-1 1.5l-2.1 -.3zM135.8 255.7l2.1 .3l-1 1.5l-2.1 -.3z"/><path color="#00000a" d="M41.3 242.3l2.1 .3l-.8 1.6l-2.1 -.3zM43.4 242.6l2.1 .3l-.8 1.6l-2.1 -.3zM45.5 242.9l2.1 .3l-.8 1.6l-2.1 -.3zM47.6 243.2l2.1 .3l-.8 1.6l-2.1 -.3zM49.7 243.5l2.1 .3l-.8 1.6l-2.1 -.3zM95.4 250.8l2.1 .4l-.9 1.6l-2.1 -.4zM97.5 251.2l2.1 .4l-.9 1.5l-2.1 -.3zM99.5 251.5l2.1 .3l-.9 1.5l-2.1 -.3z"/><path color="#00000f" d="M51.7 243.8l2.1 .3l-.8 1.7l-2.1 -.3zM93.3 250.4l2.1 .4l-.9 1.6l-2.1 -.4z"/><path color="#05000f" d="M53.8 244.1l2.1 .3l-.8 1.7l-2.1 -.3zM55.9 244.4l2.1 .2l-.8 1.7l-2.1 -.3zM91.2 249.9l2.1 .5l-.9 1.6l-2.1 -.4z"/><path color="#050014" d="M58 244.6l2.1 .2l-.8 1.8l-2.1 -.3zM87.1 248.8l2.1 .6l-.9 1.8l-2.1 -.4zM89.1 249.4l2.1 .5l-.9 1.7l-2.1 -.4z"/><path color="#050019" d="M60 244.8l2.1 .1l-.8 2l-2.1 -.2z"/><path color="#0a001e" d="M62.1 244.9l2.1 0l-.8 2.1l-2.1 -.2zM82.9 247.6l2.1 .6l-.9 2.1l-2.1 -.5z"/><path color="#0a0023" d="M64.2 244.9l2.1 -.1l-.8 2.3l-2.1 -.2zM80.8 247l2.1 .6l-.9 2.3l-2.1 -.5z"/><path color="#0f0528" d="M66.3 244.8l2.1 0l-.8 2.6l-2.1 -.2zM78.8 246.4l2.1 .6l-.9 2.4l-2.1 -.5z"/><path color="#140532" d="M68.4 244.8l2.1 0l-.8 2.7l-2.1 -.2zM76.7 245.8l2.1 .6l-.9 2.6l-2.1 -.4z"/><path color="#190537" d="M70.4 244.8l2.1 .2l-.8 2.8l-2.1 -.3zM72.5 245l2.1 .3l-.9 2.8l-2.1 -.3zM74.6 245.3l2.1 .5l-.9 2.7l-2.1 -.4z"/><path color="#0a0019" d="M85 248.2l2.1 .6l-.9 2l-2.1 -.4z"/><path color="#000005" d="M101.6 251.9l2.1 .3l-.9 1.5l-2.1 -.3zM103.7 252.2l2.1 .3l-.9 1.5l-2.1 -.3zM105.8 252.5l2.1 .3l-.9 1.5l-2.1 -.3zM107.8 252.9l2.1 .3l-.9 1.5l-2.1 -.3zM109.9 253.2l2.1 .3l-.9 1.5l-2.1 -.3zM112 253.5l2.1 .3l-.9 1.5l-2.1 -.3zM114.1 253.9l2.1 .3l-.9 1.5l-2.1 -.3zM116.2 254.2l2.1 .3l-.9 1.5l-2.1 -.3zM118.2 254.5l2.1 .3l-.9 1.5l-2.1 -.3zM120.3 254.9l2.1 .3l-1 1.5l-2.1 -.3zM122.4 255.2l2.1 .3l-1 1.5l-2.1 -.3zM124.5 255.5l2.1 .3l-1 1.5l-2.1 -.3zM126.6 255.8l2.1 .3l-1 1.5l-2.1 -.3zM128.6 256.2l2.1 .3l-1 1.5l-2.1 -.3zM130.7 256.5l2.1 .3l-1 1.5l-2.1 -.3zM132.8 256.8l2.1 .3l-1 1.5l-2.1 -.3zM134.9 257.2l2.1 .3l-1 1.5l-2.1 -.3z"/><path color="#000005" d="M40.6 243.9l2.1 .3l-.8 1.6l-2.1 -.3zM98.6 253.1l2.1 .3l-.9 1.5l-2.1 -.3zM100.7 253.4l2.1 .3l-.9 1.5l-2.1 -.3zM102.8 253.7l2.1 .3l-.9 1.5l-2.1 -.3zM104.9 254.1l2.1 .3l-.9 1.5l-2.1 -.3zM106.9 254.4l2.1 .3l-.9 1.5l-2.1 -.3zM109 254.7l2.1 .3l-.9 1.5l-2.1 -.3zM111.1 255.1l2.1 .3l-.9 1.5l-2.1 -.3zM113.1 255.4l2.1 .3l-.9 1.5l-2.1 -.3zM115.2 255.7l2.1 .3l-.9 1.5l-2.1 -.3zM117.3 256l2.1 .3l-.9 1.5l-2.1 -.3zM119.4 256.4l2.1 .3l-1 1.5l-2.1 -.3zM121.4 256.7l2.1 .3l-1 1.5l-2.1 -.3zM123.5 257l2.1 .3l-1 1.5l-2.1 -.3zM125.6 257.4l2.1 .3l-1 1.5l-2.1 -.3zM127.7 257.7l2.1 .3l-1 1.5l-2.1 -.3zM129.7 258l2.1 .3l-1 1.5l-2.1 -.3zM131.8 258.3l2.1 .3l-1 1.5l-2.1 -.3zM133.9 258.7l2.1 .3l-1 1.5l-2.1 -.3z"/><path color="#00000a" d="M42.6 244.2l2.1 .3l-.8 1.6l-2.1 -.3zM44.7 244.5l2.1 .3l-.8 1.6l-2.1 -.3zM46.8 244.8l2.1 .3l-.8 1.6l-2.1 -.3zM48.9 245.1l2.1 .3l-.8 1.6l-2.1 -.3zM50.9 245.5l2.1 .3l-.8 1.6l-2.1 -.3zM53 245.8l2.1 .3l-.8 1.6l-2.1 -.3zM55.1 246.1l2.1 .3l-.8 1.6l-2.1 -.3zM90.3 251.6l2.1 .4l-.9 1.6l-2.1 -.3zM92.4 252l2.1 .4l-.9 1.6l-2.1 -.3zM94.5 252.4l2.1 .4l-.9 1.5l-2.1 -.3zM96.6 252.7l2.1 .3l-.9 1.5l-2.1 -.3z"/><path color="#05000f" d="M57.2 246.4l2.1 .3l-.8 1.7l-2.1 -.3zM59.2 246.6l2.1 .2l-.8 1.8l-2.1 -.3zM84.1 250.4l2.1 .4l-.9 1.7l-2.1 -.4zM86.2 250.8l2.1 .4l-.9 1.7l-2.1 -.4z"/><path color="#050014" d="M61.3 246.8l2.1 .2l-.8 1.8l-2.1 -.3zM63.4 247l2.1 .2l-.8 1.9l-2.1 -.3zM80 249.4l2.1 .5l-.9 1.9l-2.1 -.4zM82 249.9l2.1 .5l-.9 1.8l-2.1 -.4z"/><path color="#0a0019" d="M65.4 247.1l2.1 .2l-.8 2l-2.1 -.3zM67.5 247.3l2.1 .2l-.8 2.1l-2.1 -.3zM75.8 248.5l2.1 .4l-.9 2l-2.1 -.4z"/><path color="#0a001e" d="M69.6 247.5l2.1 .3l-.8 2.2l-2.1 -.3zM71.7 247.8l2.1 .3l-.9 2.2l-2.1 -.3zM73.7 248.1l2.1 .4l-.9 2.1l-2.1 -.4z"/><path color="#050019" d="M77.9 249l2.1 .5l-.9 2l-2.1 -.4z"/><path color="#00000f" d="M88.3 251.2l2.1 .4l-.9 1.6l-2.1 -.4z"/><path color="#000005" d="M39.8 245.4l2.1 .3l-.8 1.6l-2.1 -.3zM41.9 245.8l2.1 .3l-.8 1.6l-2.1 -.3zM43.9 246.1l2.1 .3l-.8 1.6l-2.1 -.3zM93.6 253.9l2.1 .3l-.9 1.5l-2.1 -.3zM95.7 254.3l2.1 .3l-.9 1.5l-2.1 -.3zM97.7 254.6l2.1 .3l-.9 1.5l-2.1 -.3zM99.8 254.9l2.1 .3l-.9 1.5l-2.1 -.3zM101.9 255.3l2.1 .3l-.9 1.5l-2.1 -.3zM103.9 255.6l2.1 .3l-.9 1.5l-2.1 -.3zM106 255.9l2.1 .3l-.9 1.5l-2.1 -.3zM108.1 256.2l2.1 .3l-.9 1.5l-2.1 -.3zM110.1 256.6l2.1 .3l-.9 1.5l-2.1 -.3zM112.2 256.9l2.1 .3l-.9 1.5l-2.1 -.3zM114.3 257.2l2.1 .3l-.9 1.5l-2.1 -.3zM116.4 257.6l2.1 .3l-.9 1.5l-2.1 -.3zM118.4 257.9l2.1 .3l-1 1.5l-2.1 -.3zM120.5 258.2l2.1 .3l-1 1.5l-2.1 -.3zM122.6 258.5l2.1 .3l-1 1.5l-2.1 -.3zM124.6 258.9l2.1 .3l-1 1.5l-2.1 -.3zM126.7 259.2l2.1 .3l-1 1.5l-2.1 -.3zM128.8 259.5l2.1 .3l-1 1.5l-2.1 -.3zM130.8 259.8l2.1 .3l-1 1.5l-2.1 -.3zM132.9 260.2l2.1 .3l-1 1.5l-2.1 -.3z"/><path color="#00000a" d="M46 246.4l2.1 .3l-.8 1.6l-2.1 -.3zM48.1 246.7l2.1 .3l-.8 1.6l-2.1 -.3zM50.1 247.1l2.1 .3l-.8 1.6l-2.1 -.3zM52.2 247.4l2.1 .3l-.8 1.6l-2.1 -.3zM54.3 247.7l2.1 .3l-.8 1.6l-2.1 -.3zM56.3 248l2.1 .3l-.8 1.6l-2.1 -.3zM58.4 248.3l2.1 .3l-.8 1.6l-2.1 -.3zM83.2 252.2l2.1 .4l-.9 1.6l-2.1 -.3zM85.3 252.5l2.1 .4l-.9 1.6l-2.1 -.3zM87.4 252.9l2.1 .4l-.9 1.6l-2.1 -.3zM89.5 253.2l2.1 .3l-.9 1.5l-2.1 -.3zM91.5 253.6l2.1 .3l-.9 1.5l-2.1 -.3z"/><path color="#00000f" d="M60.5 248.6l2.1 .3l-.8 1.7l-2.1 -.3z"/><path color="#05000f" d="M62.5 248.8l2.1 .3l-.8 1.7l-2.1 -.3zM64.6 249.1l2.1 .3l-.8 1.8l-2.1 -.3zM75 250.6l2.1 .4l-.9 1.8l-2.1 -.3zM77 251l2.1 .4l-.9 1.7l-2.1 -.3zM79.1 251.4l2.1 .4l-.9 1.7l-2.1 -.3zM81.2 251.8l2.1 .4l-.9 1.6l-2.1 -.3z"/><path color="#050014" d="M66.7 249.4l2.1 .3l-.8 1.8l-2.1 -.3zM68.8 249.6l2.1 .3l-.8 1.8l-2.1 -.3zM70.8 249.9l2.1 .3l-.9 1.8l-2.1 -.3zM72.9 250.3l2.1 .4l-.9 1.8l-2.1 -.3z"/></g><path d="M39.0 247.0 L41.1 247.3 L43.1 247.6 L45.2 248.0 L47.3 248.3 L49.3 248.6 L51.4 248.9 L53.5 249.3 L55.5 249.6 L57.6 249.9 L59.7 250.2 L61.7 250.5 L63.8 250.8 L65.8 251.1 L67.9 251.4 L70.0 251.7 L72.0 252.1 L74.1 252.4 L76.2 252.8 L78.2 253.1 L80.3 253.5 L82.4 253.8 L84.4 254.1 L86.5 254.5 L88.6 254.8 L90.6 255.1 L92.7 255.5 L94.8 255.8 L96.8 256.1 L98.9 256.5 L101.0 256.8 L103.0 257.1 L105.1 257.4 L107.2 257.8 L109.2 258.1 L111.3 258.4 L113.3 258.7 L115.4 259.1 L117.5 259.4 L119.5 259.7 L121.6 260.0 L123.7 260.4 L125.7 260.7 L127.8 261.0 L129.9 261.3 L131.9 261.7 L134.0 262.0 L134.0 262.3 L131.9 262.0 L129.9 261.6 L127.8 261.3 L125.7 261.0 L123.7 260.7 L121.6 260.3 L119.5 260.0 L117.5 259.7 L115.4 259.4 L113.3 259.0 L111.3 258.7 L109.2 258.4 L107.2 258.1 L105.1 257.7 L103.0 257.4 L101.0 257.1 L98.9 256.8 L96.8 256.4 L94.8 256.1 L92.7 255.8 L90.6 255.5 L88.6 255.1 L86.5 254.8 L84.4 254.5 L82.4 254.1 L80.3 253.8 L78.2 253.5 L76.2 253.2 L74.1 252.8 L72.0 252.5 L70.0 252.2 L67.9 251.9 L65.8 251.5 L63.8 251.2 L61.7 250.9 L59.7 250.6 L57.6 250.2 L55.5 249.9 L53.5 249.6 L51.4 249.3 L49.3 248.9 L47.3 248.6 L45.2 248.3 L43.1 248.0 L41.1 247.6 L39.0 247.3Z" fill="#d6d6d6"/>
<g style="fill:currentColor;stroke:currentColor;stroke-width:.4;stroke-linejoin:round"><path color="#140528" d="M174 215.9l1.9 0l-1 .7l-1.9 .2z"/><path color="#190532" d="M175.9 215.9l1.9 0l-1 .5l-1.9 .3zM222.6 223.8l1.9 1.4l-1 1.1l-1.9 -1.8z"/><path color="#1e053c" d="M177.9 215.9l1.9 -.1l-1 .3l-1.9 .3z"/><path color="#230546" d="M179.8 215.8l1.9 -.1l-1 0l-1.9 .4z"/><path color="#28054b" d="M181.8 215.7l1.9 -.1l-1 -.3l-1.9 .4z"/><path color="#2d0a50" d="M183.7 215.6l1.9 -.1l-1 -.6l-1.9 .4z"/><path color="#370a4b" d="M185.7 215.4l1.9 -.1l-1 -.8l-1.9 .3zM187.6 215.4l1.9 0l-1 -1l-1.9 .2zM199.3 216.9l1.9 .6l-1 -.9l-1.9 -.8zM201.2 217.5l1.9 .6l-1 -.7l-1.9 -.7zM203.2 218.1l1.9 .2l-1 -.7l-1.9 -.3z"/><path color="#3c0a4b" d="M189.5 215.3l1.9 .1l-1 -1.2l-1.9 .1zM191.5 215.4l1.9 .2l-1 -1.2l-1.9 -.1zM193.4 215.6l1.9 .3l-1 -1.3l-1.9 -.3zM195.4 215.9l1.9 .4l-1 -1.2l-1.9 -.5zM197.3 216.4l1.9 .5l-1 -1.1l-1.9 -.7z"/><path color="#410f55" d="M205.1 218.3l1.9 -.5l-1 -1l-1.9 .8z"/><path color="#5a145a" d="M207 217.8l1.9 -1.6l-1 -1.6l-1.9 2.3z"/><path color="#73194b" d="M209 216.1l1.9 -2.4l-1 -2.6l-1.9 3.4z"/><path color="#82233c" d="M210.9 213.8l1.9 -1.9l-1 -3.5l-1.9 2.7z"/><path color="#8c2832" d="M212.9 211.8l1.9 0l-1 -3.5l-1.9 .1z"/><path color="#822337" d="M214.8 211.9l1.9 2.4l-1 -2.7l-1.9 -3.2z"/><path color="#6e1946" d="M216.8 214.2l1.9 3.7l-1 -1.4l-1.9 -5z"/><path color="#4b0f50" d="M218.7 217.9l1.9 3.5l-1 -.1l-1.9 -4.7z"/><path color="#280546" d="M220.6 221.4l1.9 2.4l-1 .7l-1.9 -3.3z"/><path color="#0a001e" d="M224.5 225.2l1.9 .8l-1 1.3l-1.9 -1z"/><path color="#0a0019" d="M226.5 226l1.9 .6l-1 1.4l-1.9 -.6z"/><path color="#050019" d="M228.4 226.6l1.9 .5l-1 1.4l-1.9 -.5z"/><path color="#050014" d="M230.4 227l1.9 .4l-1 1.4l-1.9 -.5zM232.3 227.5l1.9 .4l-1 1.4l-1.9 -.4zM234.2 227.9l1.9 .4l-1 1.4l-1.9 -.4z"/><path color="#05000f" d="M236.2 228.3l1.9 .4l-.9 1.5l-1.9 -.4zM238.1 228.7l1.9 .4l-.9 1.5l-1.9 -.4zM240.1 229.1l1.9 .4l-.9 1.5l-1.9 -.4zM242 229.5l1.9 .4l-.9 1.5l-1.9 -.4zM244 229.9l1.9 .4l-.9 1.5l-1.9 -.4z"/><path color="#00000a" d="M245.9 230.3l1.9 .4l-.9 1.5l-1.9 -.4zM247.9 230.7l1.9 .4l-.9 1.5l-1.9 -.4zM249.8 231.1l1.9 .4l-.9 1.5l-1.9 -.4zM251.7 231.5l1.9 .4l-.9 1.5l-1.9 -.4zM253.7 231.8l1.9 .4l-.9 1.5l-1.9 -.4zM255.6 232.2l1.9 .4l-.9 1.5l-1.9 -.4zM257.6 232.6l1.9 .4l-.9 1.5l-1.9 -.4zM259.5 233l1.9 .4l-.9 1.5l-1.9 -.4zM261.5 233.3l1.9 .4l-.9 1.5l-1.9 -.4z"/><path color="#1e053c" d="M173 216.8l1.9 -.2l-1 .7l-1.9 .4zM221.6 224.5l1.9 1.8l-1 1.2l-1.9 -2z"/><path color="#280546" d="M174.9 216.7l1.9 -.3l-1 .4l-1.9 .5z"/><path color="#2d0a50" d="M176.9 216.4l1.9 -.3l-1 .1l-1.9 .6z"/><path color="#370a55" d="M178.8 216.1l1.9 -.4l-1 -.2l-1.9 .7z"/><path color="#410f55" d="M180.8 215.7l1.9 -.4l-1 -.5l-1.9 .7z"/><path color="#460f55" d="M182.7 215.3l1.9 -.4l-1 -.8l-1.9 .7z"/><path color="#4b0f55" d="M184.7 214.9l1.9 -.3l-1 -1.1l-1.9 .6z"/><path color="#500f55" d="M186.6 214.6l1.9 -.2l-1 -1.3l-1.9 .5zM202.2 217.3l1.9 .3l-1 -.7l-1.9 -.5z"/><path color="#551450" d="M188.6 214.3l1.9 -.1l-1 -1.5l-1.9 .2zM190.5 214.3l1.9 .1l-1 -1.5l-1.9 0zM194.4 214.7l1.9 .5l-1 -1.5l-1.9 -.6zM196.3 215.2l1.9 .7l-1 -1.3l-1.9 -.8z"/><path color="#5a1450" d="M192.5 214.4l1.9 .3l-1 -1.6l-1.9 -.3z"/><path color="#500f50" d="M198.3 215.8l1.9 .8l-1 -1.1l-1.9 -1z"/><path color="#4b0f50" d="M200.2 216.6l1.9 .7l-1 -.9l-1.9 -.9z"/><path color="#5f145f" d="M204.1 217.6l1.9 -.8l-1 -.6l-1.9 .7z"/><path color="#7d1e5a" d="M206.1 216.8l1.9 -2.3l-1 -.7l-1.9 2.4z"/><path color="#a02d4b" d="M208 214.5l1.9 -3.4l-1 -.9l-1.9 3.6z"/><path color="#af3c37" d="M210 211.1l1.9 -2.7l-1 -1l-1.9 2.9z"/><path color="#a04128" d="M211.9 208.4l1.9 -.1l-1 -.9l-1.9 0z"/><path color="#913728" d="M213.8 208.3l1.9 3.2l-1 -.5l-1.9 -3.6z"/><path color="#82233c" d="M215.8 211.5l1.9 5l-1 .1l-1.9 -5.6z"/><path color="#5a144b" d="M217.7 216.5l1.9 4.7l-1 .6l-1.9 -5.3z"/><path color="#370a4b" d="M219.7 221.2l1.9 3.3l-1 1l-1.9 -3.6z"/><path color="#0f0523" d="M223.6 226.3l1.9 1l-1 1.3l-1.9 -1.1z"/><path color="#0a001e" d="M225.5 227.3l1.9 .6l-1 1.3l-1.9 -.7z"/><path color="#0a0019" d="M227.5 227.9l1.9 .5l-1 1.4l-1.9 -.5z"/><path color="#050019" d="M229.4 228.4l1.9 .5l-1 1.4l-1.9 -.5z"/><path color="#050014" d="M231.4 228.9l1.9 .4l-1 1.4l-1.9 -.5zM233.3 229.3l1.9 .4l-.9 1.4l-1.9 -.5zM235.2 229.8l1.9 .4l-.9 1.5l-1.9 -.4z"/><path color="#05000f" d="M237.2 230.2l1.9 .4l-.9 1.5l-1.9 -.4zM239.1 230.6l1.9 .4l-.9 1.5l-1.9 -.4zM241.1 231l1.9 .4l-.9 1.5l-1.9 -.4zM243 231.4l1.9 .4l-.9 1.5l-1.9 -.4zM245 231.8l1.9 .4l-.9 1.5l-1.9 -.4z"/><path color="#00000a" d="M246.9 232.2l1.9 .4l-.9 1.5l-1.9 -.4zM248.9 232.6l1.9 .4l-.9 1.5l-1.9 -.4zM250.8 233l1.9 .4l-.9 1.5l-1.9 -.4zM252.7 233.4l1.9 .4l-.9 1.5l-1.9 -.4zM254.7 233.7l1.9 .4l-.9 1.5l-1.9 -.4zM256.6 234.1l1.9 .4l-.9 1.5l-1.9 -.4zM258.6 234.5l1.9 .4l-.9 1.5l-1.9 -.4zM260.5 234.8l1.9 .4l-.9 1.5l-1.9 -.4z"/><path color="#280a50" d="M172 217.7l1.9 -.4l-1 .8l-1.9 .6z"/><path color="#320a5f" d="M173.9 217.3l1.9 -.5l-1 .5l-1.9 .7z"/><path color="#410f5f" d="M175.9 216.8l1.9 -.6l-1 .3l-1.9 .9z"/><path color="#500f64" d="M177.8 216.2l1.9 -.7l-1 0l-1.9 1z"/><path color="#5a1464" d="M179.8 215.5l1.9 -.7l-1 -.3l-1.9 1z"/><path color="#641464" d="M181.7 214.8l1.9 -.7l-1 -.5l-1.9 1z"/><path color="#69195a" d="M183.7 214.1l1.9 -.6l-1 -.8l-1.9 .8z"/><path color="#6e1955" d="M185.6 213.5l1.9 -.5l-1 -1l-1.9 .6z"/><path color="#731950" d="M187.6 213l1.9 -.2l-1 -1.1l-1.9 .4z"/><path color="#73194b" d="M189.5 212.8l1.9 0l-1 -1.2l-1.9 .1z"/><path color="#6e1946" d="M191.5 212.8l1.9 .3l-1 -1.2l-1.9 -.3zM193.4 213.1l1.9 .6l-1 -1.1l-1.9 -.6zM195.4 213.7l1.9 .8l-1 -1l-1.9 -.9z"/><path color="#69194b" d="M197.3 214.5l1.9 1l-1 -.8l-1.9 -1.2z"/><path color="#64194b" d="M199.3 215.5l1.9 .9l-1 -.6l-1.9 -1.2z"/><path color="#691955" d="M201.2 216.4l1.9 .5l-1 -.2l-1.9 -.8zM216.8 216.6l1.9 5.3l-1 1.7l-1.9 -4.8z"/><path color="#7d1e64" d="M203.1 216.9l1.9 -.7l-1 .3l-1.9 .2z"/><path color="#aa2869" d="M205.1 216.2l1.9 -2.4l-1 1l-1.9 1.7z"/><path color="#dc3c55" d="M207 213.8l1.9 -3.6l-1 1.8l-1.9 2.7z"/><path color="#ff5f4b" d="M209 210.2l1.9 -2.9l-1 2.5l-1.9 2.2z"/><path color="#ff7346" d="M210.9 207.3l1.9 0l-1 2.8l-1.9 -.4z"/><path color="#c84b37" d="M212.9 207.4l1.9 3.6l-1 2.6l-1.9 -3.4z"/><path color="#962841" d="M214.8 211l1.9 5.6l-1 2.2l-1.9 -5.1z"/><path color="#410f55" d="M218.7 221.8l1.9 3.6l-1 1.4l-1.9 -3.3z"/><path color="#230546" d="M220.7 225.5l1.9 2l-1 1.3l-1.9 -1.9z"/><path color="#14052d" d="M222.6 227.5l1.9 1.1l-1 1.3l-1.9 -1.1z"/><path color="#0a001e" d="M224.6 228.6l1.9 .7l-1 1.3l-1.9 -.7z"/><path color="#0a0019" d="M226.5 229.3l1.9 .5l-1 1.4l-1.9 -.6zM228.5 229.8l1.9 .5l-1 1.4l-1.9 -.5z"/><path color="#050019" d="M230.4 230.3l1.9 .5l-1 1.4l-1.9 -.5z"/><path color="#050014" d="M232.3 230.8l1.9 .5l-.9 1.4l-1.9 -.5zM234.3 231.2l1.9 .4l-.9 1.4l-1.9 -.5zM236.2 231.6l1.9 .4l-.9 1.5l-1.9 -.4zM238.2 232.1l1.9 .4l-.9 1.5l-1.9 -.4z"/><path color="#05000f" d="M240.1 232.5l1.9 .4l-.9 1.5l-1.9 -.4zM242.1 232.9l1.9 .4l-.9 1.5l-1.9 -.4zM244 233.3l1.9 .4l-.9 1.5l-1.9 -.4z"/><path color="#00000a" d="M246 233.7l1.9 .4l-.9 1.5l-1.9 -.4zM247.9 234.1l1.9 .4l-.9 1.5l-1.9 -.4zM249.9 234.5l1.9 .4l-.9 1.5l-1.9 -.4zM251.8 234.9l1.9 .4l-.9 1.5l-1.9 -.4zM253.8 235.2l1.9 .4l-.9 1.5l-1.9 -.4zM255.7 235.6l1.9 .4l-.9 1.5l-1.9 -.4zM257.7 236l1.9 .4l-.9 1.5l-1.9 -.4zM259.6 236.4l1.9 .4l-.9 1.5l-1.9 -.4z"/><path color="#320a5f" d="M171 218.7l1.9 -.6l-1 1.1l-1.9 .7z"/><path color="#460f69" d="M172.9 218.1l1.9 -.7l-1 .9l-1.9 .9z"/><path color="#5a1473" d="M174.9 217.4l1.9 -.9l-1 .8l-1.9 1z"/><path color="#691978" d="M176.8 216.5l1.9 -1l-1 .6l-1.9 1.1z"/><path color="#781973" d="M178.8 215.5l1.9 -1l-1 .4l-1.9 1.2z"/><path color="#871e6e" d="M180.7 214.5l1.9 -1l-1 .3l-1.9 1.1z"/><path color="#912364" d="M182.7 213.6l1.9 -.8l-1 .2l-1.9 1z"/><path color="#9b235a" d="M184.6 212.7l1.9 -.6l-1 0l-1.9 .8z"/><path color="#9b2855" d="M186.6 212.1l1.9 -.4l-1 0l-1.9 .5z"/><path color="#9b284b" d="M188.5 211.7l1.9 -.1l-1 -.1l-1.9 .1zM190.5 211.6l1.9 .3l-1 -.1l-1.9 -.3z"/><path color="#962846" d="M192.4 211.9l1.9 .6l-1 0l-1.9 -.7z"/><path color="#91234b" d="M194.4 212.6l1.9 .9l-1 0l-1.9 -1z"/><path color="#872350" d="M196.3 213.5l1.9 1.2l-1 .1l-1.9 -1.3z"/><path color="#871e55" d="M198.3 214.7l1.9 1.2l-1 .3l-1.9 -1.4z"/><path color="#8c1e5f" d="M200.2 215.8l1.9 .8l-1 .7l-1.9 -1.2z"/><path color="#a52873" d="M202.2 216.6l1.9 -.2l-1 1.4l-1.9 -.5z"/><path color="#cd327d" d="M204.1 216.4l1.9 -1.7l-1 2.5l-1.9 .6z"/><path color="#f0416e" d="M206.1 214.8l1.9 -2.7l-1 3.9l-1.9 1.3z"/><path color="#ff505a" d="M208 212l1.9 -2.2l-1 5.1l-1.9 1z"/><path color="#fa5550" d="M210 209.9l1.9 .4l-1 5.5l-1.9 -.7z"/><path color="#d7414b" d="M211.9 210.2l1.9 3.4l-1 4.9l-1.9 -2.8z"/><path color="#a5285a" d="M213.9 213.6l1.9 5.1l-1 3.7l-1.9 -3.9z"/><path color="#6e1969" d="M215.8 218.8l1.9 4.8l-1 2.5l-1.9 -3.7z"/><path color="#410f5f" d="M217.8 223.6l1.9 3.3l-1 1.8l-1.9 -2.6z"/><path color="#280546" d="M219.7 226.9l1.9 1.9l-1 1.5l-1.9 -1.6z"/><path color="#190532" d="M221.7 228.8l1.9 1.1l-1 1.4l-1.9 -1z"/><path color="#0f0523" d="M223.6 229.9l1.9 .7l-1 1.4l-1.9 -.7z"/><path color="#0a001e" d="M225.5 230.6l1.9 .6l-1 1.4l-1.9 -.6z"/><path color="#0a0019" d="M227.5 231.2l1.9 .5l-1 1.4l-1.9 -.5zM229.4 231.7l1.9 .5l-1 1.4l-1.9 -.5z"/><path color="#050019" d="M231.4 232.2l1.9 .5l-1 1.4l-1.9 -.5z"/><path color="#050014" d="M233.3 232.6l1.9 .5l-.9 1.4l-1.9 -.5zM235.3 233.1l1.9 .4l-.9 1.5l-1.9 -.5zM237.2 233.5l1.9 .4l-.9 1.5l-1.9 -.4z"/><path color="#05000f" d="M239.2 234l1.9 .4l-.9 1.5l-1.9 -.4zM241.1 234.4l1.9 .4l-.9 1.5l-1.9 -.4zM243.1 234.8l1.9 .4l-.9 1.5l-1.9 -.4zM245 235.2l1.9 .4l-.9 1.5l-1.9 -.4z"/><path color="#00000a" d="M247 235.6l1.9 .4l-.9 1.5l-1.9 -.4zM248.9 236l1.9 .4l-.9 1.5l-1.9 -.4zM250.9 236.4l1.9 .4l-.9 1.5l-1.9 -.4zM252.8 236.8l1.9 .4l-.9 1.5l-1.9 -.4zM254.8 237.1l1.9 .4l-.9 1.5l-1.9 -.4zM256.7 237.5l1.9 .4l-.9 1.5l-1.9 -.4zM258.7 237.9l1.9 .4l-.9 1.5l-1.9 -.4z"/><path color="#3c0a69" d="M170 219.8l1.9 -.7l-1 1.5l-2 .7z"/><path color="#500f78" d="M171.9 219.1l1.9 -.9l-1 1.4l-2 .9z"/><path color="#69147d" d="M173.9 218.3l1.9 -1l-1 1.4l-2 1z"/><path color="#7d1e87" d="M175.8 217.3l1.9 -1.1l-1 1.4l-2 1.1z"/><path color="#962382" d="M177.8 216.1l1.9 -1.2l-1 1.4l-2 1.2z"/><path color="#aa287d" d="M179.7 215l1.9 -1.1l-1 1.4l-2 1.1z"/><path color="#be2d78" d="M181.7 213.9l1.9 -1l-1 1.4l-2 1z"/><path color="#c8326e" d="M183.6 212.9l1.9 -.8l-1 1.4l-2 .7z"/><path color="#d23769" d="M185.6 212.1l1.9 -.5l-1 1.4l-2 .4zM209 215l1.9 .7l-1 5.9l-2 -1z"/><path color="#d73c5f" d="M187.5 211.7l1.9 -.1l-1 1.5l-2 .1zM189.5 211.6l1.9 .3l-1 1.5l-2 -.3z"/><path color="#d2375a" d="M191.4 211.9l1.9 .7l-1 1.5l-2 -.7z"/><path color="#c3375f" d="M193.4 212.5l1.9 1l-1 1.5l-2 -1z"/><path color="#b9325f" d="M195.3 213.5l1.9 1.3l-1 1.5l-2 -1.3z"/><path color="#af2d69" d="M197.3 214.8l1.9 1.4l-1 1.5l-2 -1.4z"/><path color="#aa286e" d="M199.2 216.2l1.9 1.2l-1 1.7l-2 -1.4z"/><path color="#b42d7d" d="M201.2 217.3l1.9 .5l-1 2.3l-2 -1z"/><path color="#c83287" d="M203.1 217.8l1.9 -.6l-1 3.3l-2 -.4z"/><path color="#d23282" d="M205.1 217.3l1.9 -1.3l-1 4.6l-2 0z"/><path color="#d73773" d="M207 215.9l1.9 -1l-1 5.7l-2 -.1z"/><path color="#b42d6e" d="M210.9 215.7l1.9 2.8l-1 5.2l-2 -2.1z"/><path color="#8c1e73" d="M212.9 218.5l1.9 3.9l-1 3.9l-2 -2.7z"/><path color="#5f1473" d="M214.8 222.4l1.9 3.7l-1 2.7l-2 -2.4z"/><path color="#370a64" d="M216.8 226.1l1.9 2.6l-1 1.9l-2 -1.8z"/><path color="#230546" d="M218.7 228.7l1.9 1.6l-1 1.5l-2 -1.2z"/><path color="#190532" d="M220.7 230.3l1.9 1l-1 1.4l-2 -.8z"/><path color="#0f0528" d="M222.6 231.3l1.9 .7l-1 1.4l-2 -.7z"/><path color="#0a001e" d="M224.6 232l1.9 .6l-1 1.4l-2 -.6zM226.5 232.5l1.9 .5l-1 1.4l-2 -.5z"/><path color="#0a0019" d="M228.5 233.1l1.9 .5l-1 1.4l-2 -.5zM230.4 233.6l1.9 .5l-1 1.4l-2 -.5z"/><path color="#050019" d="M232.4 234.1l1.9 .5l-.9 1.5l-2 -.5z"/><path color="#050014" d="M234.3 234.5l1.9 .5l-.9 1.5l-2 -.5zM236.3 235l1.9 .4l-.9 1.5l-2 -.5zM238.2 235.4l1.9 .4l-.9 1.5l-2 -.4z"/><path color="#05000f" d="M240.2 235.9l1.9 .4l-.9 1.5l-2 -.4zM242.1 236.3l1.9 .4l-.9 1.5l-2 -.4zM244.1 236.7l1.9 .4l-.9 1.5l-2 -.4zM246 237.1l1.9 .4l-.9 1.5l-2 -.4z"/><path color="#00000a" d="M248 237.5l1.9 .4l-.9 1.5l-2 -.4zM249.9 237.9l1.9 .4l-.9 1.5l-2 -.4zM251.9 238.3l1.9 .4l-.9 1.5l-2 -.4zM253.8 238.7l1.9 .4l-.9 1.5l-2 -.4zM255.8 239l1.9 .4l-.9 1.5l-2 -.4zM257.7 239.4l1.9 .4l-.9 1.5l-2 -.4z"/><path color="#3c0a69" d="M169 221.3l2 -.7l-1 1.8l-2 .7z"/><path color="#500f78" d="M171 220.6l2 -.9l-1 1.8l-2 .8z"/><path color="#691487" d="M172.9 219.7l2 -1l-1 1.9l-2 1z"/><path color="#871e91" d="M174.9 218.7l2 -1.1l-1 2l-2 1.1z"/><path color="#a02391" d="M176.8 217.5l2 -1.2l-1 2.1l-2 1.1z"/><path color="#b42d8c" d="M178.8 216.4l2 -1.1l-1 2.2l-2 1z"/><path color="#c83287" d="M180.7 215.2l2 -1l-1 2.4l-2 .8z"/><path color="#dc377d" d="M182.7 214.3l2 -.7l-1 2.6l-2 .6z"/><path color="#e13c78" d="M184.6 213.5l2 -.4l-1 2.7l-2 .3z"/><path color="#e6416e" d="M186.6 213.1l2 -.1l-1 2.8l-2 0z"/><path color="#e63c6e" d="M188.5 213l2 .3l-1 2.9l-2 -.4z"/><path color="#e13c6e" d="M190.5 213.3l2 .7l-1 2.9l-2 -.7z"/><path color="#d7376e" d="M192.4 214l2 1l-1 2.8l-2 -.9z"/><path color="#c83273" d="M194.4 215l2 1.3l-1 2.7l-2 -1.2z"/><path color="#be2d78" d="M196.3 216.3l2 1.4l-1 2.6l-2 -1.3z"/><path color="#af287d" d="M198.3 217.7l2 1.4l-1 2.6l-2 -1.4z"/><path color="#aa2882" d="M200.2 219.1l2 1l-1 2.8l-2 -1.2z"/><path color="#a52887" d="M202.2 220.1l2 .4l-1 3.4l-2 -1zM206.1 220.5l2 .1l-1 4.8l-2 -.8z"/><path color="#aa288c" d="M204.1 220.5l2 0l-1 4.1l-2 -.7z"/><path color="#a02382" d="M208 220.6l2 1l-1 4.8l-2 -1.1z"/><path color="#871e87" d="M210 221.6l2 2.1l-1 4.3l-2 -1.5z"/><path color="#69147d" d="M211.9 223.7l2 2.7l-1 3.3l-2 -1.7z"/><path color="#4b0f6e" d="M213.9 226.4l2 2.4l-1 2.4l-2 -1.6z"/><path color="#320a5a" d="M215.8 228.8l2 1.8l-1 1.8l-2 -1.2z"/><path color="#230546" d="M217.8 230.6l2 1.2l-1 1.5l-2 -.9z"/><path color="#190537" d="M219.7 231.8l2 .8l-1 1.4l-2 -.7z"/><path color="#14052d" d="M221.7 232.7l2 .7l-1 1.4l-2 -.6z"/><path color="#0f0523" d="M223.6 233.3l2 .6l-1 1.4l-2 -.6z"/><path color="#0a001e" d="M225.6 233.9l2 .5l-1 1.4l-2 -.6zM227.5 234.5l2 .5l-1 1.4l-2 -.5z"/><path color="#0a0019" d="M229.5 235l2 .5l-.9 1.4l-2 -.5zM231.4 235.5l2 .5l-.9 1.5l-2 -.5z"/><path color="#050014" d="M233.4 236l2 .5l-.9 1.5l-2 -.5zM235.3 236.5l2 .5l-.9 1.5l-2 -.5zM237.3 236.9l2 .4l-.9 1.5l-2 -.5zM239.2 237.4l2 .4l-.9 1.5l-2 -.4z"/><path color="#05000f" d="M241.2 237.8l2 .4l-.9 1.5l-2 -.4zM243.1 238.2l2 .4l-.9 1.5l-2 -.4zM245.1 238.6l2 .4l-.9 1.5l-2 -.4z"/><path color="#00000a" d="M247.1 239l2 .4l-.9 1.5l-2 -.4zM249 239.4l2 .4l-.9 1.5l-2 -.4zM251 239.8l2 .4l-.9 1.5l-2 -.4zM252.9 240.2l2 .4l-.9 1.5l-2 -.4zM254.9 240.6l2 .4l-.9 1.5l-2 -.4zM256.8 240.9l2 .4l-.9 1.5l-2 -.4z"/><path color="#370a69" d="M168 223.1l2 -.7l-1 1.8l-2 .6z"/><path color="#500f78" d="M170 222.4l2 -.8l-1 1.9l-2 .8z"/><path color="#641482" d="M171.9 221.5l2 -1l-1 2l-2 .9z"/><path color="#821e91" d="M173.9 220.6l2 -1.1l-1 2.1l-2 .9z"/><path color="#962391" d="M175.8 219.5l2 -1.1l-1 2.2l-2 .9z"/><path color="#af288c" d="M177.8 218.4l2 -1l-1 2.5l-2 .7z"/><path color="#c32d8c" d="M179.7 217.5l2 -.8l-1 2.7l-2 .5z"/><path color="#cd3287" d="M181.7 216.7l2 -.6l-1 3l-2 .3z"/><path color="#d23282" d="M183.6 216.1l2 -.3l-1 3.3l-2 0z"/><path color="#d7377d" d="M185.6 215.8l2 0l-1 3.5l-2 -.3z"/><path color="#d2377d" d="M187.5 215.9l2 .4l-1 3.7l-2 -.5z"/><path color="#cd327d" d="M189.5 216.2l2 .7l-1 3.7l-2 -.7z"/><path color="#c32d7d" d="M191.4 216.9l2 .9l-1 3.7l-2 -.9z"/><path color="#b92d7d" d="M193.4 217.8l2 1.2l-1 3.5l-2 -1z"/><path color="#af2882" d="M195.3 219l2 1.3l-1 3.3l-2 -1.1z"/><path color="#a02387" d="M197.3 220.3l2 1.4l-1 3.2l-2 -1.2z"/><path color="#962387" d="M199.2 221.7l2 1.2l-1 3.1l-2 -1.2z"/><path color="#871e8c" d="M201.2 222.9l2 1l-1 3.2l-2 -1.1z"/><path color="#821e8c" d="M203.2 223.9l2 .7l-1 3.4l-2 -1z"/><path color="#78198c" d="M205.1 224.6l2 .8l-1 3.6l-2 -.9z"/><path color="#731987" d="M207.1 225.4l2 1.1l-1 3.5l-2 -1z"/><path color="#5f147d" d="M209 226.5l2 1.5l-1 3.1l-2 -1.1z"/><path color="#4b0f73" d="M211 228l2 1.7l-1 2.5l-2 -1.1z"/><path color="#370a64" d="M212.9 229.6l2 1.6l-1 2l-2 -1z"/><path color="#2d0a50" d="M214.9 231.2l2 1.2l-1 1.7l-2 -.9z"/><path color="#230541" d="M216.8 232.4l2 .9l-1 1.5l-2 -.8z"/><path color="#190537" d="M218.8 233.4l2 .7l-1 1.5l-2 -.7z"/><path color="#14052d" d="M220.7 234.1l2 .6l-1 1.4l-2 -.6z"/><path color="#0f0528" d="M222.7 234.8l2 .6l-1 1.4l-2 -.6z"/><path color="#0a0023" d="M224.6 235.3l2 .6l-1 1.4l-2 -.6z"/><path color="#0a001e" d="M226.6 235.9l2 .5l-1 1.4l-2 -.5zM228.5 236.4l2 .5l-.9 1.5l-2 -.5z"/><path color="#0a0019" d="M230.5 237l2 .5l-.9 1.5l-2 -.5z"/><path color="#050019" d="M232.4 237.4l2 .5l-.9 1.5l-2 -.5z"/><path color="#050014" d="M234.4 237.9l2 .5l-.9 1.5l-2 -.5zM236.3 238.4l2 .5l-.9 1.5l-2 -.5zM238.3 238.8l2 .4l-.9 1.5l-2 -.4z"/><path color="#05000f" d="M240.3 239.3l2 .4l-.9 1.5l-2 -.4zM242.2 239.7l2 .4l-.9 1.5l-2 -.4zM244.2 240.1l2 .4l-.9 1.5l-2 -.4zM246.1 240.5l2 .4l-.9 1.5l-2 -.4z"/><path color="#00000a" d="M248.1 240.9l2 .4l-.9 1.5l-2 -.4zM250 241.3l2 .4l-.9 1.5l-2 -.4zM252 241.7l2 .4l-.9 1.5l-2 -.4zM253.9 242.1l2 .4l-.9 1.5l-2 -.4zM255.9 242.4l2 .4l-.9 1.5l-2 -.4z"/><path color="#370a64" d="M167 224.9l2 -.6l-1 1.6l-2 .7z"/><path color="#4b0f73" d="M169 224.2l2 -.8l-1 1.5l-2 .9z"/><path color="#64147d" d="M170.9 223.4l2 -.9l-1 1.5l-2 .9z"/><path color="#781987" d="M172.9 222.5l2 -.9l-1 1.5l-2 .9zM198.3 224.9l2 1.2l-1 3.1l-2 -1z"/><path color="#911e8c" d="M174.8 221.6l2 -.9l-1 1.7l-2 .8zM194.4 222.5l2 1.1l-1 3.5l-2 -1z"/><path color="#a0238c" d="M176.8 220.7l2 -.7l-1 1.9l-2 .5z"/><path color="#b42887" d="M178.7 219.9l2 -.5l-1 2.2l-2 .2z"/><path color="#be2d87" d="M180.7 219.4l2 -.3l-1 2.6l-2 -.1zM182.6 219.2l2 0l-1 3l-2 -.4zM184.6 219.2l2 .3l-1 3.4l-2 -.6z"/><path color="#b92d87" d="M186.5 219.4l2 .5l-1 3.6l-2 -.8z"/><path color="#af2887" d="M188.5 219.9l2 .7l-1 3.8l-2 -.8z"/><path color="#a52887" d="M190.5 220.6l2 .9l-1 3.8l-2 -.9z"/><path color="#9b2387" d="M192.4 221.5l2 1l-1 3.7l-2 -.9z"/><path color="#871e8c" d="M196.3 223.7l2 1.2l-1 3.3l-2 -1z"/><path color="#6e1987" d="M200.2 226l2 1.1l-1 2.9l-2 -.9z"/><path color="#641482" d="M202.2 227.1l2 1l-1 2.8l-2 -.9z"/><path color="#5a147d" d="M204.1 228l2 .9l-1 2.7l-2 -.8z"/><path color="#500f78" d="M206.1 229l2 1l-1 2.5l-2 -.8z"/><path color="#460f73" d="M208 230l2 1.1l-1 2.2l-2 -.8z"/><path color="#3c0a69" d="M210 231.1l2 1.1l-1 1.9l-2 -.8z"/><path color="#2d0a5a" d="M212 232.2l2 1l-1 1.6l-2 -.8z"/><path color="#28054b" d="M213.9 233.2l2 .9l-1 1.5l-2 -.7z"/><path color="#1e0541" d="M215.9 234.1l2 .8l-1 1.4l-2 -.7z"/><path color="#190537" d="M217.8 234.9l2 .7l-1 1.4l-2 -.7z"/><path color="#140532" d="M219.8 235.6l2 .6l-1 1.4l-2 -.6z"/><path color="#0f0528" d="M221.7 236.2l2 .6l-1 1.5l-2 -.6z"/><path color="#0f0523" d="M223.7 236.8l2 .6l-1 1.5l-2 -.6z"/><path color="#0a001e" d="M225.6 237.3l2 .5l-1 1.5l-2 -.5zM227.6 237.9l2 .5l-1 1.5l-2 -.5z"/><path color="#0a0019" d="M229.5 238.4l2 .5l-.9 1.5l-2 -.5zM231.5 238.9l2 .5l-.9 1.5l-2 -.5z"/><path color="#050014" d="M233.5 239.4l2 .5l-.9 1.5l-2 -.5zM235.4 239.9l2 .5l-.9 1.5l-2 -.5zM237.4 240.3l2 .4l-.9 1.5l-2 -.4zM239.3 240.8l2 .4l-.9 1.5l-2 -.4z"/><path color="#05000f" d="M241.3 241.2l2 .4l-.9 1.5l-2 -.4zM243.2 241.6l2 .4l-.9 1.5l-2 -.4zM245.2 242l2 .4l-.9 1.4l-2 -.4zM247.1 242.4l2 .4l-.9 1.4l-2 -.4zM249.1 242.8l2 .4l-.9 1.4l-2 -.4zM251 243.2l2 .4l-.9 1.4l-2 -.4z"/><path color="#00000a" d="M253 243.6l2 .4l-.9 1.4l-2 -.4zM254.9 243.9l2 .4l-.9 1.4l-2 -.4z"/><path color="#370a64" d="M166 226.5l2 -.7l-1 1.1l-2 .9z"/><path color="#4b0f6e" d="M168 225.8l2 -.9l-1 .9l-2 1.1z"/><path color="#5f1473" d="M169.9 225l2 -.9l-1 .7l-2 1.1z"/><path color="#731978" d="M171.9 224l2 -.9l-1 .6l-2 1z"/><path color="#821e73" d="M173.8 223.1l2 -.8l-1 .6l-2 .8z"/><path color="#8c2373" d="M175.8 222.3l2 -.5l-1 .8l-2 .3z"/><path color="#9b2373" d="M177.7 221.8l2 -.2l-1 1.1l-2 -.2z"/><path color="#a52878" d="M179.7 221.6l2 .1l-1 1.6l-2 -.6z"/><path color="#a5287d" d="M181.6 221.8l2 .4l-1 2.1l-2 -.9z"/><path color="#a52882" d="M183.6 222.2l2 .6l-1 2.6l-2 -1.1z"/><path color="#9b2387" d="M185.6 222.8l2 .8l-1 3l-2 -1.1z"/><path color="#91238c" d="M187.5 223.6l2 .8l-1 3.2l-2 -1.1z"/><path color="#871e91" d="M189.5 224.4l2 .9l-1 3.3l-2 -1z"/><path color="#7d198c" d="M191.4 225.3l2 .9l-1 3.3l-2 -.9z"/><path color="#731987" d="M193.4 226.2l2 1l-1 3.2l-2 -.8z"/><path color="#691482" d="M195.3 227.2l2 1l-1 3l-2 -.8z"/><path color="#5f147d" d="M197.3 228.1l2 1l-1 2.8l-2 -.7z"/><path color="#5a147d" d="M199.3 229.1l2 .9l-1 2.6l-2 -.7z"/><path color="#500f78" d="M201.2 230l2 .9l-1 2.4l-2 -.7z"/><path color="#460f73" d="M203.2 230.9l2 .8l-1 2.2l-2 -.6z"/><path color="#410a6e" d="M205.1 231.7l2 .8l-1 1.9l-2 -.5z"/><path color="#370a69" d="M207.1 232.5l2 .8l-1 1.6l-2 -.5z"/><path color="#320a5f" d="M209 233.3l2 .8l-1 1.3l-2 -.5z"/><path color="#2d0a55" d="M211 234.1l2 .8l-1 1.1l-2 -.6z"/><path color="#28054b" d="M212.9 234.9l2 .7l-1 1.1l-2 -.7z"/><path color="#230541" d="M214.9 235.6l2 .7l-1 1.2l-2 -.8z"/><path color="#1e053c" d="M216.9 236.3l2 .7l-1 1.3l-2 -.8z"/><path color="#190532" d="M218.8 237l2 .6l-1 1.4l-2 -.7z"/><path color="#14052d" d="M220.8 237.6l2 .6l-1 1.4l-2 -.7z"/><path color="#0f0523" d="M222.7 238.2l2 .6l-1 1.5l-2 -.6z"/><path color="#0a001e" d="M224.7 238.8l2 .5l-1 1.5l-2 -.6zM226.6 239.4l2 .5l-.9 1.5l-2 -.5zM228.6 239.9l2 .5l-.9 1.5l-2 -.5z"/><path color="#0a0019" d="M230.5 240.4l2 .5l-.9 1.5l-2 -.5z"/><path color="#050019" d="M232.5 240.9l2 .5l-.9 1.4l-2 -.5z"/><path color="#050014" d="M234.5 241.3l2 .5l-.9 1.4l-2 -.4zM236.4 241.8l2 .4l-.9 1.4l-2 -.4zM238.4 242.2l2 .4l-.9 1.4l-2 -.4zM240.3 242.7l2 .4l-.9 1.4l-2 -.4zM242.3 243.1l2 .4l-.9 1.3l-2 -.4zM244.2 243.5l2 .4l-.9 1.3l-2 -.4zM246.2 243.9l2 .4l-.9 1.3l-2 -.4z"/><path color="#05000f" d="M248.2 244.2l2 .4l-.9 1.3l-2 -.4zM250.1 244.6l2 .4l-.9 1.3l-2 -.4zM252.1 245l2 .4l-.9 1.3l-2 -.4zM254 245.4l2 .4l-.9 1.3l-2 -.4z"/><path color="#3c0a64" d="M165 227.8l2 -.9l-1 .7l-2 1.2z"/><path color="#550f69" d="M167 226.9l2 -1.1l-1 .3l-2 1.4z"/><path color="#64146e" d="M168.9 225.9l2 -1.1l-1 -.1l-2 1.5z"/><path color="#731964" d="M170.9 224.7l2 -1l-1 -.3l-2 1.3z"/><path color="#7d1e5a" d="M172.8 223.7l2 -.8l-1 -.5l-2 .9z"/><path color="#821e55" d="M174.8 222.9l2 -.3l-1 -.4l-2 .2z"/><path color="#871e55" d="M176.7 222.6l2 .2l-1 0l-2 -.5z"/><path color="#871e5a" d="M178.7 222.8l2 .6l-1 .4l-2 -1.1z"/><path color="#8c1e64" d="M180.7 223.3l2 .9l-1 1l-2 -1.5z"/><path color="#8c1e6e" d="M182.6 224.3l2 1.1l-1 1.6l-2 -1.7z"/><path color="#871e7d" d="M184.6 225.4l2 1.1l-1 2.1l-2 -1.6z"/><path color="#7d1987" d="M186.5 226.5l2 1.1l-1 2.4l-2 -1.5z"/><path color="#6e1982" d="M188.5 227.6l2 1l-1 2.6l-2 -1.2z"/><path color="#64147d" d="M190.4 228.6l2 .9l-1 2.7l-2 -1z"/><path color="#5a147d" d="M192.4 229.5l2 .8l-1 2.7l-2 -.8z"/><path color="#500f78" d="M194.4 230.3l2 .8l-1 2.6l-2 -.7z"/><path color="#4b0f78" d="M196.3 231.1l2 .7l-1 2.4l-2 -.6z"/><path color="#410a73" d="M198.3 231.9l2 .7l-1 2.2l-2 -.5z"/><path color="#410a6e" d="M200.2 232.6l2 .7l-1 2l-2 -.4z"/><path color="#3c0a6e" d="M202.2 233.2l2 .6l-1 1.7l-2 -.3z"/><path color="#3c0a69" d="M204.2 233.9l2 .5l-1 1.2l-2 -.1z"/><path color="#370a64" d="M206.1 234.4l2 .5l-1 .7l-2 0z"/><path color="#320a5a" d="M208.1 234.9l2 .5l-1 .3l-2 -.1z"/><path color="#320a55" d="M210 235.4l2 .6l-1 .1l-2 -.4z"/><path color="#2d0a50" d="M212 236l2 .7l-1 .2l-2 -.8z"/><path color="#280546" d="M213.9 236.7l2 .8l-1 .5l-2 -1.1z"/><path color="#230541" d="M215.9 237.5l2 .8l-1 .9l-2 -1.2z"/><path color="#1e0537" d="M217.9 238.3l2 .7l-1 1.2l-2 -1z"/><path color="#140532" d="M219.8 239l2 .7l-1 1.4l-2 -.8z"/><path color="#0f0528" d="M221.8 239.7l2 .6l-1 1.4l-2 -.7z"/><path color="#0a0023" d="M223.7 240.3l2 .6l-1 1.5l-2 -.6z"/><path color="#0a001e" d="M225.7 240.8l2 .5l-.9 1.5l-2 -.5zM227.6 241.4l2 .5l-.9 1.4l-2 -.5z"/><path color="#0a0019" d="M229.6 241.9l2 .5l-.9 1.4l-2 -.4zM231.6 242.3l2 .5l-.9 1.3l-2 -.4zM233.5 242.8l2 .4l-.9 1.3l-2 -.4zM243.3 244.8l2 .4l-.9 1l-2 -.3z"/><path color="#050019" d="M235.5 243.2l2 .4l-.9 1.2l-2 -.4zM237.4 243.6l2 .4l-.9 1.2l-2 -.3zM239.4 244l2 .4l-.9 1.1l-2 -.3zM241.3 244.4l2 .4l-.9 1l-2 -.3zM245.3 245.2l2 .4l-.9 .9l-2 -.3zM247.2 245.5l2 .4l-.9 .9l-2 -.3zM249.2 245.9l2 .4l-.9 .9l-2 -.4zM251.1 246.3l2 .4l-.9 .9l-2 -.4zM253.1 246.7l2 .4l-.9 1l-2 -.4z"/><path color="#4b0f69" d="M164 228.8l2 -1.2l-1 .5l-2 1.6z"/><path color="#64146e" d="M166 227.6l2 -1.4l-1 .1l-2 1.9z"/><path color="#781964" d="M167.9 226.2l2 -1.5l-1 -.4l-2 1.9z"/><path color="#871e5a" d="M169.9 224.7l2 -1.3l-1 -.7l-2 1.7z"/><path color="#8c234b" d="M171.8 223.3l2 -.9l-1 -.9l-2 1.1z"/><path color="#872341" d="M173.8 222.5l2 -.2l-1 -.9l-2 .2z"/><path color="#87233c" d="M175.8 222.2l2 .5l-1 -.6l-2 -.7z"/><path color="#822341" d="M177.7 222.7l2 1.1l-1 -.2l-2 -1.5z"/><path color="#821e4b" d="M179.7 223.8l2 1.5l-1 .4l-2 -2z"/><path color="#7d1e5a" d="M181.6 225.3l2 1.7l-1 .9l-2 -2.2z"/><path color="#731969" d="M183.6 227l2 1.6l-1 1.4l-2 -2.1z"/><path color="#691978" d="M185.6 228.6l2 1.5l-1 1.8l-2 -1.8z"/><path color="#5f1478" d="M187.5 230l2 1.2l-1 2.1l-2 -1.5z"/><path color="#500f73" d="M189.5 231.2l2 1l-1 2.2l-2 -1.1z"/><path color="#460f73" d="M191.4 232.2l2 .8l-1 2.2l-2 -.8z"/><path color="#410a6e" d="M193.4 233l2 .7l-1 2.2l-2 -.6z"/><path color="#3c0a69" d="M195.3 233.7l2 .6l-1 2.1l-2 -.5z"/><path color="#370a64" d="M197.3 234.3l2 .5l-1 1.9l-2 -.4zM199.3 234.8l2 .4l-1 1.7l-2 -.2z"/><path color="#370a69" d="M201.2 235.3l2 .3l-1 1.2l-2 .2z"/><path color="#3c0a64" d="M203.2 235.5l2 .1l-1 .5l-2 .6z"/><path color="#410f5a" d="M205.1 235.6l2 0l-1 -.3l-2 .9z"/><path color="#410f55" d="M207.1 235.6l2 .1l-1 -1.1l-2 .6z"/><path color="#410f4b" d="M209.1 235.7l2 .4l-1 -1.3l-2 -.1z"/><path color="#3c0a4b" d="M211 236.1l2 .8l-1 -1.1l-2 -1.1z"/><path color="#370a46" d="M213 236.9l2 1.1l-1 -.4l-2 -1.8z"/><path color="#2d054b" d="M214.9 238l2 1.2l-1 .3l-2 -1.9z"/><path color="#230541" d="M216.9 239.2l2 1l-1 .9l-2 -1.6z"/><path color="#190537" d="M218.9 240.2l2 .8l-1 1.3l-2 -1.2z"/><path color="#14052d" d="M220.8 241l2 .7l-1 1.4l-2 -.8z"/><path color="#0f0523" d="M222.8 241.7l2 .6l-1 1.4l-2 -.6zM240.4 245.5l2 .3l-.9 .5l-2 -.2z"/><path color="#0a001e" d="M224.7 242.3l2 .5l-1 1.4l-2 -.5zM226.7 242.8l2 .5l-.9 1.3l-2 -.4zM228.7 243.3l2 .4l-.9 1.3l-2 -.4zM230.6 243.7l2 .4l-.9 1.2l-2 -.3zM232.6 244.1l2 .4l-.9 1l-2 -.3zM234.5 244.5l2 .4l-.9 .9l-2 -.2zM236.5 244.9l2 .3l-.9 .8l-2 -.2z"/><path color="#0f0023" d="M238.4 245.2l2 .3l-.9 .6l-2 -.2z"/><path color="#0f0528" d="M242.4 245.8l2 .3l-.9 .4l-2 -.2zM244.3 246.2l2 .3l-.9 .3l-2 -.2zM252.2 247.6l2 .4l-.9 .3l-2 -.5z"/><path color="#140528" d="M246.3 246.5l2 .3l-.9 .2l-2 -.3zM248.2 246.8l2 .4l-.9 .2l-2 -.4zM250.2 247.2l2 .4l-.9 .2l-2 -.4z"/><path color="#5f1473" d="M163 229.7l2 -1.6l-1 .7l-2 1.9z"/><path color="#7d1978" d="M165 228.1l2 -1.9l-1 .4l-2 2.2z"/><path color="#962369" d="M166.9 226.2l2 -1.9l-1 0l-2 2.3z"/><path color="#a52d55" d="M168.9 224.3l2 -1.7l-1 -.2l-2 1.9z"/><path color="#aa3241" d="M170.8 222.6l2 -1.1l-1 -.4l-2 1.2z"/><path color="#a53237" d="M172.8 221.6l2 -.2l-1 -.4l-2 .2z"/><path color="#9b3237" d="M174.8 221.4l2 .7l-1 -.2l-2 -.9z"/><path color="#962837" d="M176.7 222.1l2 1.5l-1 .1l-2 -1.8z"/><path color="#8c2346" d="M178.7 223.6l2 2l-1 .5l-2 -2.4z"/><path color="#821e55" d="M180.6 225.7l2 2.2l-1 .9l-2 -2.6z"/><path color="#731964" d="M182.6 227.9l2 2.1l-1 1.3l-2 -2.5z"/><path color="#64146e" d="M184.6 230l2 1.8l-1 1.6l-2 -2.1z"/><path color="#550f6e" d="M186.5 231.9l2 1.5l-1 1.8l-2 -1.7z"/><path color="#460f6e" d="M188.5 233.3l2 1.1l-1 1.9l-2 -1.2z"/><path color="#3c0a69" d="M190.4 234.4l2 .8l-1 2l-2 -.9zM200.3 236.9l2 -.2l-1 .9l-2 .8z"/><path color="#370a64" d="M192.4 235.3l2 .6l-1 1.9l-2 -.6z"/><path color="#320a5f" d="M194.4 235.9l2 .5l-1 1.9l-2 -.4z"/><path color="#320a5a" d="M196.3 236.4l2 .4l-1 1.7l-2 -.2z"/><path color="#370a5f" d="M198.3 236.8l2 .2l-1 1.5l-2 .1z"/><path color="#4b0f69" d="M202.2 236.7l2 -.6l-1 0l-2 1.5z"/><path color="#5a145f" d="M204.2 236.1l2 -.9l-1 -1.1l-2 1.9z"/><path color="#5f1450" d="M206.1 235.3l2 -.6l-1 -2l-2 1.6z"/><path color="#64194b" d="M208.1 234.6l2 .1l-1 -2.3l-2 .3z"/><path color="#64144b" d="M210.1 234.7l2 1.1l-1 -2l-2 -1.4z"/><path color="#551450" d="M212 235.8l2 1.8l-1 -1.1l-2 -2.7z"/><path color="#3c0a4b" d="M214 237.6l2 1.9l-1 -.1l-2 -2.9z"/><path color="#2d0a4b" d="M215.9 239.5l2 1.6l-1 .7l-2 -2.4z"/><path color="#230541" d="M217.9 241.1l2 1.2l-1 1.2l-2 -1.6zM241.4 246.3l2 .2l-.9 -.5l-2 0zM243.4 246.5l2 .2l-.9 -.7l-2 -.1zM245.3 246.8l2 .3l-.9 -.8l-2 -.2zM247.3 247.1l2 .4l-.9 -.8l-2 -.3zM249.3 247.4l2 .4l-.9 -.8l-2 -.5z"/><path color="#190532" d="M219.9 242.3l2 .8l-1 1.3l-2 -1zM233.6 245.6l2 .2l-.9 .4l-2 0zM235.5 245.8l2 .2l-.9 .2l-2 .1z"/><path color="#0f0528" d="M221.8 243.1l2 .6l-1 1.4l-2 -.6zM229.7 245l2 .3l-.9 .9l-2 -.1z"/><path color="#0f0523" d="M223.8 243.7l2 .5l-.9 1.3l-2 -.4zM225.7 244.2l2 .4l-.9 1.2l-2 -.3zM227.7 244.6l2 .4l-.9 1.1l-2 -.2z"/><path color="#14052d" d="M231.6 245.3l2 .3l-.9 .7l-2 -.1z"/><path color="#1e0537" d="M237.5 246l2 .2l-.9 -.1l-2 .1z"/><path color="#1e053c" d="M239.5 246.1l2 .2l-.9 -.3l-2 .1z"/><path color="#23053c" d="M251.2 247.9l2 .5l-.9 -.6l-2 -.6z"/><path color="#6e197d" d="M162 230.7l2 -1.9l-1 1.3l-2 1.9z"/><path color="#912382" d="M164 228.8l2 -2.2l-1 1.2l-2 2.3z"/><path color="#b92d73" d="M165.9 226.6l2 -2.3l-1 1.1l-2 2.4z"/><path color="#d23c5a" d="M167.9 224.3l2 -1.9l-1 1l-2 2z"/><path color="#e1464b" d="M169.8 222.4l2 -1.2l-1 1l-2 1.2z"/><path color="#e14b46" d="M171.8 221.2l2 -.2l-1 1l-2 .2z"/><path color="#d24641" d="M173.8 221l2 .9l-1 1.1l-2 -1z"/><path color="#be3741" d="M175.7 221.9l2 1.8l-1 1.2l-2 -1.9z"/><path color="#a52d46" d="M177.7 223.7l2 2.4l-1 1.3l-2 -2.6z"/><path color="#91235a" d="M179.7 226.2l2 2.6l-1 1.5l-2 -2.8z"/><path color="#7d1e64" d="M181.6 228.8l2 2.5l-1 1.6l-2 -2.6z"/><path color="#69146e" d="M183.6 231.3l2 2.1l-1 1.7l-2 -2.2z"/><path color="#550f6e" d="M185.5 233.4l2 1.7l-1 1.8l-2 -1.7z"/><path color="#410a69" d="M187.5 235.1l2 1.2l-1 1.8l-2 -1.3z"/><path color="#370a64" d="M189.5 236.3l2 .9l-1 1.9l-2 -.9zM197.3 238.5l2 -.1l-1 1.5l-2 .4z"/><path color="#320a5a" d="M191.4 237.2l2 .6l-1 1.8l-2 -.6z"/><path color="#2d0a55" d="M193.4 237.8l2 .4l-1 1.8l-2 -.4z"/><path color="#2d0a5a" d="M195.4 238.3l2 .2l-1 1.7l-2 -.1z"/><path color="#460f6e" d="M199.3 238.4l2 -.8l-1 1.1l-2 1.2z"/><path color="#641473" d="M201.2 237.6l2 -1.5l-1 .4l-2 2.2z"/><path color="#7d1e69" d="M203.2 236.1l2 -1.9l-1 -.5l-2 2.8z"/><path color="#8c2350" d="M205.2 234.2l2 -1.6l-1 -1.2l-2 2.3z"/><path color="#82233c" d="M207.1 232.7l2 -.3l-1 -1.5l-2 .5z"/><path color="#7d233c" d="M209.1 232.4l2 1.4l-1 -1.2l-2 -1.7z"/><path color="#6e1946" d="M211.1 233.8l2 2.7l-1 -.5l-2 -3.3z"/><path color="#551450" d="M213 236.5l2 2.9l-1 .3l-2 -3.7z"/><path color="#3c0a50" d="M215 239.4l2 2.4l-1 .9l-2 -3z"/><path color="#28054b" d="M216.9 241.8l2 1.6l-1 1.2l-2 -2zM234.6 246.2l2 -.1l-.9 -.4l-2 .4z"/><path color="#1e053c" d="M218.9 243.5l2 1l-1 1.4l-2 -1.1z"/><path color="#14052d" d="M220.9 244.5l2 .6l-1 1.3l-2 -.6zM222.8 245.1l2 .4l-.9 1.2l-2 -.3zM224.8 245.5l2 .3l-.9 1.1l-2 -.1z"/><path color="#190532" d="M226.8 245.8l2 .2l-.9 .9l-2 0z"/><path color="#1e0537" d="M228.7 246l2 .1l-.9 .6l-2 .1z"/><path color="#230541" d="M230.7 246.2l2 .1l-.9 .3l-2 .3z"/><path color="#230546" d="M232.6 246.2l2 0l-.9 -.1l-2 .4z"/><path color="#320a4b" d="M236.6 246.2l2 -.1l-.9 -.8l-2 .5z"/><path color="#370a4b" d="M238.5 246.1l2 -.1l-.9 -1.2l-2 .4zM240.5 246l2 0l-.9 -1.5l-2 .3z"/><path color="#3c0a4b" d="M242.5 246l2 .1l-.9 -1.7l-2 .2z"/><path color="#410f4b" d="M244.4 246.1l2 .2l-.9 -1.9l-2 -.1zM246.4 246.3l2 .3l-.9 -1.9l-2 -.3zM248.3 246.6l2 .5l-.9 -1.8l-2 -.6zM250.3 247.1l2 .6l-.9 -1.6l-2 -.8z"/><path color="#731987" d="M161 232l2 -1.9l-1 2.1l-2 1.8z"/><path color="#a0238c" d="M163 230.1l2 -2.3l-1 2.2l-2 2.1z"/><path color="#c83282" d="M164.9 227.8l2 -2.4l-1 2.4l-2 2.2z"/><path color="#eb4169" d="M166.9 225.4l2 -2l-1 2.6l-2 1.8z"/><path color="#ff505a" d="M168.9 223.4l2 -1.2l-1 2.7l-2 1.1z"/><path color="#ff5a55" d="M170.8 222.2l2 -.2l-1 2.8l-2 .1z"/><path color="#fa5050" d="M172.8 222l2 1l-1 2.7l-2 -.9z"/><path color="#e14150" d="M174.7 223l2 1.9l-1 2.6l-2 -1.9z"/><path color="#be325a" d="M176.7 224.9l2 2.6l-1 2.5l-2 -2.4z"/><path color="#a02869" d="M178.7 227.5l2 2.8l-1 2.3l-2 -2.6z"/><path color="#821e6e" d="M180.6 230.3l2 2.6l-1 2.2l-2 -2.5z"/><path color="#691473" d="M182.6 232.9l2 2.2l-1 2.1l-2 -2.1z"/><path color="#500f6e" d="M184.6 235.2l2 1.7l-1 2l-2 -1.6z"/><path color="#3c0a69" d="M186.5 236.9l2 1.3l-1 1.9l-2 -1.2z"/><path color="#320a5a" d="M188.5 238.2l2 .9l-1 1.9l-2 -.8z"/><path color="#2d0a55" d="M190.5 239.1l2 .6l-1 1.8l-2 -.6zM194.4 240.1l2 .1l-1 1.8l-2 -.1zM216 242.7l2 2l-1 1.5l-2 -1.9z"/><path color="#280a50" d="M192.4 239.7l2 .4l-1 1.8l-2 -.4z"/><path color="#370a64" d="M196.3 240.2l2 -.4l-1 1.8l-2 .4z"/><path color="#4b0f78" d="M198.3 239.9l2 -1.2l-1 1.7l-2 1.2z"/><path color="#781987" d="M200.3 238.7l2 -2.2l-1 1.6l-2 2.2z"/><path color="#aa287d" d="M202.2 236.5l2 -2.8l-1 1.6l-2 2.8z"/><path color="#d23769" d="M204.2 233.8l2 -2.3l-1 1.5l-2 2.3z"/><path color="#e6415a" d="M206.2 231.5l2 -.5l-1 1.5l-2 .6z"/><path color="#c3374b" d="M208.1 231l2 1.7l-1 1.5l-2 -1.7z"/><path color="#912350" d="M210.1 232.7l2 3.3l-1 1.5l-2 -3.4z"/><path color="#6e195a" d="M212.1 236l2 3.7l-1 1.5l-2 -3.7z"/><path color="#4b0f5f" d="M214 239.7l2 3l-1 1.5l-2 -3z"/><path color="#230541" d="M217.9 244.7l2 1.1l-1 1.4l-2 -1.1zM225.8 246.9l2 0l-.9 .7l-2 .2z"/><path color="#190537" d="M219.9 245.8l2 .6l-1 1.3l-2 -.5z"/><path color="#190532" d="M221.9 246.4l2 .3l-1 1.2l-2 -.2z"/><path color="#1e053c" d="M223.8 246.7l2 .1l-.9 1l-2 0z"/><path color="#28054b" d="M227.8 246.9l2 -.1l-.9 .4l-2 .4z"/><path color="#320a55" d="M229.7 246.8l2 -.3l-.9 .1l-2 .6z"/><path color="#3c0a55" d="M231.7 246.5l2 -.4l-.9 -.3l-2 .8z"/><path color="#460f55" d="M233.7 246.1l2 -.4l-.9 -.8l-2 .9z"/><path color="#4b0f55" d="M235.6 245.7l2 -.5l-.9 -1.2l-2 .9z"/><path color="#500f55" d="M237.6 245.2l2 -.4l-.9 -1.6l-2 .8z"/><path color="#5a1450" d="M239.6 244.8l2 -.3l-.9 -2l-2 .7z"/><path color="#5f144b" d="M241.5 244.5l2 -.2l-.9 -2.2l-2 .4z"/><path color="#64194b" d="M243.5 244.3l2 .1l-.9 -2.4l-2 .1zM245.4 244.4l2 .3l-.9 -2.4l-2 -.3zM247.4 244.7l2 .6l-.9 -2.3l-2 -.7z"/><path color="#64144b" d="M249.4 245.3l2 .8l-.9 -2.1l-2 -1z"/><path color="#641487" d="M160 233.9l2 -1.8l-1 2.7l-2 1.4z"/><path color="#911e96" d="M162 232.2l2 -2.1l-1 3.1l-2 1.7z"/><path color="#b92d8c" d="M163.9 230l2 -2.2l-1 3.5l-2 1.7z"/><path color="#dc377d" d="M165.9 227.9l2 -1.8l-1 3.9l-2 1.5z"/><path color="#f04169" d="M167.9 226l2 -1.1l-1 4.2l-2 .9z"/><path color="#f5465f" d="M169.8 224.9l2 -.1l-1 4.2l-2 .1z"/><path color="#eb415a" d="M171.8 224.8l2 .9l-1 4.1l-2 -.8z"/><path color="#d73c5f" d="M173.8 225.7l2 1.9l-1 3.9l-2 -1.6z"/><path color="#be2d6e" d="M175.7 227.6l2 2.4l-1 3.5l-2 -2.1z"/><path color="#9b2373" d="M177.7 230l2 2.6l-1 3.1l-2 -2.2z"/><path color="#7d1e7d" d="M179.7 232.6l2 2.5l-1 2.7l-2 -2.1z"/><path color="#5f1478" d="M181.6 235.1l2 2.1l-1 2.4l-2 -1.8z"/><path color="#460f6e" d="M183.6 237.2l2 1.6l-1 2.2l-2 -1.4z"/><path color="#370a64" d="M185.5 238.9l2 1.2l-1 2l-2 -1zM226.8 247.6l2 -.4l-.9 .6l-2 .7z"/><path color="#2d0a55" d="M187.5 240.1l2 .8l-1 1.9l-2 -.8zM224.9 247.9l2 -.2l-.9 .9l-2 .5z"/><path color="#28054b" d="M189.5 240.9l2 .6l-1 1.8l-2 -.5zM193.4 241.9l2 .1l-1 1.9l-2 -.2z"/><path color="#230546" d="M191.4 241.5l2 .4l-1 1.8l-2 -.4zM222.9 247.9l2 0l-.9 1.1l-2 .2z"/><path color="#320a5a" d="M195.4 242l2 -.4l-1 2.1l-2 .2zM215 244.3l2 1.9l-1 1.8l-2 -1.5z"/><path color="#460f78" d="M197.3 241.6l2 -1.2l-1 2.4l-2 .9z"/><path color="#73198c" d="M199.3 240.4l2 -2.2l-1 3l-2 1.6z"/><path color="#a5288c" d="M201.3 238.2l2 -2.8l-1 3.7l-2 2.1z"/><path color="#d7377d" d="M203.2 235.3l2 -2.3l-1 4.3l-2 1.7z"/><path color="#e63c6e" d="M205.2 233l2 -.6l-1 4.5l-2 .4z"/><path color="#d23764" d="M207.2 232.4l2 1.7l-1 4.3l-2 -1.4z"/><path color="#aa286e" d="M209.1 234.1l2 3.4l-1 3.6l-2 -2.7z"/><path color="#781973" d="M211.1 237.5l2 3.7l-1 2.8l-2 -3z"/><path color="#500f69" d="M213.1 241.2l2 3l-1 2.2l-2 -2.4z"/><path color="#230541" d="M217 246.2l2 1.1l-1 1.6l-2 -.8z"/><path color="#190537" d="M219 247.3l2 .5l-1 1.4l-2 -.3z"/><path color="#1e053c" d="M220.9 247.8l2 .2l-.9 1.3l-2 0z"/><path color="#460f64" d="M228.8 247.2l2 -.6l-.9 .3l-2 .9z"/><path color="#551469" d="M230.8 246.6l2 -.8l-.9 0l-2 1.1z"/><path color="#641469" d="M232.7 245.8l2 -.9l-.9 -.4l-2 1.2z"/><path color="#6e195a" d="M234.7 245l2 -.9l-.9 -.8l-2 1.3z"/><path color="#731950" d="M236.6 244l2 -.8l-.9 -1.2l-2 1.2z"/><path color="#781e46" d="M238.6 243.2l2 -.7l-.9 -1.5l-2 1z"/><path color="#781e41" d="M240.6 242.5l2 -.4l-.9 -1.7l-2 .7z"/><path color="#7d233c" d="M242.5 242.1l2 -.1l-.9 -1.8l-2 .2zM246.5 242.3l2 .7l-.9 -1.8l-2 -.7zM248.4 242.9l2 1l-.9 -1.6l-2 -1.2z"/><path color="#82233c" d="M244.5 242l2 .3l-.9 -1.9l-2 -.2z"/><path color="#500f7d" d="M159 236.3l2 -1.4l-1 3l-2 1z"/><path color="#73198c" d="M161 234.9l2 -1.7l-1 3.5l-2 1.2z"/><path color="#962396" d="M162.9 233.2l2 -1.7l-1 4.1l-2 1.2z"/><path color="#b4288c" d="M164.9 231.4l2 -1.5l-1 4.5l-2 1z"/><path color="#c83282" d="M166.9 230l2 -.9l-1 4.9l-2 .6z"/><path color="#cd3278" d="M168.8 229.1l2 -.1l-1 4.9l-2 0z"/><path color="#c83278" d="M170.8 229l2 .8l-1 4.8l-2 -.7z"/><path color="#b92d78" d="M172.8 229.8l2 1.6l-1 4.5l-2 -1.2z"/><path color="#a0237d" d="M174.7 231.4l2 2.1l-1 4l-2 -1.6z"/><path color="#871e82" d="M176.7 233.5l2 2.2l-1 3.4l-2 -1.7zM208.2 238.4l2 2.7l-1 4.4l-2 -1.8z"/><path color="#69147d" d="M178.7 235.7l2 2.1l-1 2.9l-2 -1.6z"/><path color="#500f73" d="M180.6 237.8l2 1.8l-1 2.5l-2 -1.4z"/><path color="#3c0a69" d="M182.6 239.6l2 1.4l-1 2.2l-2 -1.1z"/><path color="#2d0a55" d="M184.6 241l2 1l-1 2l-2 -.8z"/><path color="#28054b" d="M186.5 242.1l2 .8l-1 1.9l-2 -.6z"/><path color="#230541" d="M188.5 242.8l2 .5l-1 1.8l-2 -.5zM220 249.2l2 0l-.9 1.5l-2 .1z"/><path color="#1e0541" d="M190.5 243.4l2 .4l-1 1.8l-2 -.4z"/><path color="#230546" d="M192.4 243.7l2 .2l-1 1.9l-2 -.2z"/><path color="#280a50" d="M194.4 243.9l2 -.2l-1 2.1l-2 0zM214.1 246.5l2 1.5l-1 2l-2 -1zM221.9 249.2l2 -.2l-.9 1.4l-2 .3z"/><path color="#370a69" d="M196.4 243.7l2 -.9l-1 2.6l-2 .4z"/><path color="#550f82" d="M198.3 242.8l2 -1.6l-1 3.5l-2 .8z"/><path color="#7d1991" d="M200.3 241.1l2 -2.1l-1 4.5l-2 1.1z"/><path color="#a0238c" d="M202.3 239l2 -1.7l-1 5.4l-2 .8z"/><path color="#af2882" d="M204.2 237.3l2 -.4l-1 5.7l-2 0z"/><path color="#a5287d" d="M206.2 237l2 1.4l-1 5.3l-2 -1z"/><path color="#641478" d="M210.1 241.1l2 3l-1 3.4l-2 -1.9z"/><path color="#410a69" d="M212.1 244.1l2 2.4l-1 2.5l-2 -1.6z"/><path color="#1e053c" d="M216 248l2 .8l-1 1.7l-2 -.5zM218 248.8l2 .3l-1 1.6l-2 -.2z"/><path color="#370a64" d="M223.9 249l2 -.5l-.9 1.3l-2 .6z"/><path color="#460f6e" d="M225.9 248.5l2 -.7l-.9 1.1l-2 .8z"/><path color="#5f1478" d="M227.8 247.8l2 -.9l-.9 1l-2 1.1z"/><path color="#78197d" d="M229.8 246.9l2 -1.1l-.9 .8l-2 1.3z"/><path color="#8c1e78" d="M231.8 245.8l2 -1.2l-.9 .6l-2 1.4z"/><path color="#9b236e" d="M233.7 244.5l2 -1.3l-.9 .5l-2 1.5z"/><path color="#aa2d5f" d="M235.7 243.3l2 -1.2l-.9 .3l-2 1.4z"/><path color="#b43250" d="M237.7 242.1l2 -1l-.9 .2l-2 1.1z"/><path color="#b93246" d="M239.6 241.1l2 -.7l-.9 0l-2 .8z"/><path color="#b4373c" d="M241.6 240.4l2 -.2l-.9 0l-2 .3z"/><path color="#af373c" d="M243.6 240.2l2 .2l-.9 0l-2 -.2z"/><path color="#aa3737" d="M245.5 240.4l2 .7l-.9 0l-2 -.8z"/><path color="#a02d37" d="M247.5 241.2l2 1.2l-.9 .1l-2 -1.3z"/><path color="#370a64" d="M158 238.8l2 -1l-1 2.9l-2 .5z"/><path color="#500f7d" d="M160 237.8l2 -1.2l-1 3.4l-2 .6zM199.3 244.6l2 -1.1l-1 3.8l-2 .2z"/><path color="#691487" d="M161.9 236.7l2 -1.2l-1 4l-2 .7z"/><path color="#821e91" d="M163.9 235.5l2 -1l-1 4.4l-2 .5z"/><path color="#911e91" d="M165.9 234.5l2 -.6l-1 4.7l-2 .3z"/><path color="#96238c" d="M167.8 233.9l2 0l-1 4.8l-2 -.1zM169.8 234l2 .7l-1 4.7l-2 -.5z"/><path color="#8c1e8c" d="M171.8 234.7l2 1.2l-1 4.3l-2 -.9z"/><path color="#781987" d="M173.7 235.9l2 1.6l-1 3.9l-2 -1.1z"/><path color="#64147d" d="M175.7 237.5l2 1.7l-1 3.3l-2 -1.2z"/><path color="#500f73" d="M177.7 239.2l2 1.6l-1 2.9l-2 -1.1z"/><path color="#3c0a69" d="M179.7 240.8l2 1.4l-1 2.4l-2 -1zM197.4 245.4l2 -.8l-1 3l-2 .1zM223 250.4l2 -.6l-.9 1.8l-2 .5z"/><path color="#2d0a5a" d="M181.6 242.2l2 1.1l-1 2.1l-2 -.8z"/><path color="#28054b" d="M183.6 243.3l2 .8l-1 1.9l-2 -.6z"/><path color="#1e0541" d="M185.6 244.1l2 .6l-1 1.8l-2 -.5z"/><path color="#1e053c" d="M187.5 244.7l2 .5l-1 1.7l-2 -.4zM189.5 245.2l2 .4l-1 1.6l-2 -.3zM191.5 245.5l2 .2l-1 1.7l-2 -.3zM213.1 249l2 1l-1 2l-2 -.6z"/><path color="#230541" d="M193.4 245.8l2 0l-1 1.9l-2 -.2zM219 250.7l2 -.1l-1 1.7l-2 .1z"/><path color="#2d0a50" d="M195.4 245.8l2 -.4l-1 2.3l-2 -.1zM211.1 247.4l2 1.6l-1 2.4l-2 -.9z"/><path color="#641482" d="M201.3 243.5l2 -.8l-1 4.6l-2 .1z"/><path color="#6e1987" d="M203.3 242.7l2 0l-1 4.8l-2 -.3zM226.9 249l2 -1.1l-.9 1.9l-2 1z"/><path color="#691482" d="M205.2 242.7l2 1l-1 4.5l-2 -.7z"/><path color="#550f78" d="M207.2 243.7l2 1.8l-1 3.8l-2 -1.1z"/><path color="#3c0a6e" d="M209.2 245.5l2 1.9l-1 3l-2 -1.1z"/><path color="#190537" d="M215.1 250l2 .5l-1 1.8l-2 -.4zM217.1 250.6l2 .2l-1 1.7l-2 -.1z"/><path color="#2d0a55" d="M221 250.7l2 -.3l-.9 1.7l-2 .3z"/><path color="#500f78" d="M224.9 249.8l2 -.8l-.9 1.8l-2 .8z"/><path color="#871e91" d="M228.9 247.9l2 -1.3l-.9 2l-2 1.2z"/><path color="#a5288c" d="M230.8 246.6l2 -1.4l-.9 2.1l-2 1.3z"/><path color="#c32d87" d="M232.8 245.2l2 -1.5l-.9 2.2l-2 1.4z"/><path color="#dc3778" d="M234.8 243.7l2 -1.4l-.9 2.3l-2 1.3z"/><path color="#f04169" d="M236.7 242.4l2 -1.1l-.9 2.4l-2 1.1z"/><path color="#ff4b5f" d="M238.7 241.2l2 -.8l-.9 2.4l-2 .7z"/><path color="#ff505a" d="M240.7 240.5l2 -.3l-.9 2.4l-2 .3z"/><path color="#ff5555" d="M242.6 240.2l2 .2l-.9 2.5l-2 -.2z"/><path color="#fa5050" d="M244.6 240.4l2 .8l-.9 2.4l-2 -.8z"/><path color="#eb4650" d="M246.6 241.2l2 1.3l-.9 2.4l-2 -1.2z"/><path color="#1e0541" d="M157 241.3l2 -.5l-1 2.6l-2 .2zM182.6 245.4l2 .6l-1 1.6l-2 -.4z"/><path color="#320a5a" d="M159 240.8l2 -.6l-1 3.1l-2 .2z"/><path color="#410a73" d="M160.9 240.1l2 -.7l-1 3.5l-2 .3zM174.7 241.3l2 1.2l-1 2.9l-2 -.8z"/><path color="#500f7d" d="M162.9 239.5l2 -.5l-1 3.8l-2 .2z"/><path color="#5a1482" d="M164.9 238.9l2 -.3l-1 4.1l-2 0z"/><path color="#641482" d="M166.9 238.7l2 .1l-1 4.1l-2 -.2z"/><path color="#5f1482" d="M168.8 238.8l2 .5l-1 4l-2 -.4z"/><path color="#5a147d" d="M170.8 239.3l2 .9l-1 3.7l-2 -.6z"/><path color="#500f78" d="M172.8 240.2l2 1.1l-1 3.4l-2 -.7z"/><path color="#370a64" d="M176.7 242.5l2 1.1l-1 2.5l-2 -.7zM204.3 247.5l2 .7l-1 3.1l-2 -.6zM222 252.1l2 -.5l-.9 2.2l-2 .4z"/><path color="#2d0a55" d="M178.7 243.6l2 1l-1 2.2l-2 -.6z"/><path color="#230546" d="M180.6 244.6l2 .8l-1 1.9l-2 -.5zM194.4 247.7l2 .1l-1 1.6l-2 -.3zM208.2 249.3l2 1.1l-1 2.3l-2 -.7z"/><path color="#1e053c" d="M184.6 246l2 .5l-1 1.5l-2 -.3zM188.5 246.9l2 .3l-1 1.3l-2 -.3zM190.5 247.2l2 .3l-1 1.3l-2 -.3zM192.5 247.5l2 .2l-1 1.4l-2 -.3zM218.1 252.5l2 -.1l-.9 1.9l-2 0z"/><path color="#190537" d="M186.6 246.5l2 .4l-1 1.4l-2 -.3zM210.2 250.4l2 .9l-1 2l-2 -.6z"/><path color="#280a50" d="M196.4 247.7l2 -.1l-1 2l-2 -.3z"/><path color="#320a5f" d="M198.4 247.6l2 -.2l-1 2.5l-2 -.3z"/><path color="#370a69" d="M200.3 247.4l2 -.1l-1 3l-2 -.3z"/><path color="#3c0a69" d="M202.3 247.3l2 .3l-1 3.2l-2 -.5z"/><path color="#2d0a5a" d="M206.3 248.3l2 1.1l-1 2.7l-2 -.7z"/><path color="#14052d" d="M212.2 251.3l2 .6l-1 1.9l-2 -.5z"/><path color="#0f0528" d="M214.1 252l2 .4l-1 1.8l-2 -.3z"/><path color="#140532" d="M216.1 252.3l2 .1l-1 1.8l-2 -.2z"/><path color="#28054b" d="M220 252.4l2 -.3l-.9 2.1l-2 .2z"/><path color="#460f78" d="M224 251.6l2 -.8l-.9 2.4l-2 .6z"/><path color="#5f1487" d="M226 250.8l2 -1l-.9 2.7l-2 .7z"/><path color="#7d1991" d="M227.9 249.8l2 -1.2l-.9 3l-2 .9z"/><path color="#9b2396" d="M229.9 248.6l2 -1.3l-.9 3.3l-2 1z"/><path color="#b4288c" d="M231.9 247.3l2 -1.4l-.9 3.6l-2 1z"/><path color="#cd3287" d="M233.8 245.9l2 -1.3l-.9 3.9l-2 1z"/><path color="#dc3778" d="M235.8 244.6l2 -1.1l-.9 4.2l-2 .8z"/><path color="#e6416e" d="M237.8 243.6l2 -.7l-.9 4.4l-2 .5z"/><path color="#eb4164" d="M239.7 242.9l2 -.3l-.9 4.5l-2 .2z"/><path color="#f0415f" d="M241.7 242.6l2 .2l-.9 4.5l-2 -.3z"/><path color="#e6415f" d="M243.7 242.8l2 .8l-.9 4.5l-2 -.7z"/><path color="#dc3c64" d="M245.7 243.6l2 1.2l-.9 4.3l-2 -1.1z"/><path color="#0f0523" d="M156 243.6l2 -.2l-1 2.3l-2 -.1z"/><path color="#190537" d="M158 243.4l2 -.2l-1 2.6l-2 0z"/><path color="#230546" d="M159.9 243.2l2 -.3l-1 2.8l-2 0zM195.4 249.3l2 .3l-1 1l-2 -.5zM197.4 249.6l2 .3l-1 1.3l-2 -.6z"/><path color="#2d0a55" d="M161.9 242.9l2 -.2l-1 3.1l-2 -.1z"/><path color="#320a5f" d="M163.9 242.7l2 0l-1 3.2l-2 -.1zM169.8 243.3l2 .6l-1 3l-2 -.4z"/><path color="#370a64" d="M165.9 242.7l2 .2l-1 3.3l-2 -.2zM167.8 242.9l2 .4l-1 3.2l-2 -.3zM223 253.8l2 -.6l-.9 2.7l-2 .3z"/><path color="#320a5a" d="M171.8 244l2 .7l-1 2.7l-2 -.5z"/><path color="#280a50" d="M173.7 244.7l2 .8l-1 2.4l-2 -.4zM221.1 254.2l2 -.4l-.9 2.4l-2 .1z"/><path color="#23054b" d="M175.7 245.5l2 .7l-1 2l-2 -.4z"/><path color="#1e0541" d="M177.7 246.2l2 .6l-1 1.7l-2 -.3z"/><path color="#1e053c" d="M179.7 246.8l2 .5l-1 1.4l-2 -.2zM181.6 247.3l2 .4l-1 1.2l-2 -.1zM183.6 247.6l2 .3l-1 1l-2 -.1zM185.6 247.9l2 .3l-1 .8l-2 -.1zM205.3 251.3l2 .7l-1 1.8l-2 -.7zM219.1 254.3l2 -.2l-.9 2.2l-2 0z"/><path color="#230541" d="M187.5 248.2l2 .3l-1 .7l-2 -.1zM189.5 248.5l2 .3l-1 .6l-2 -.2zM191.5 248.8l2 .3l-1 .6l-2 -.3zM193.5 249.1l2 .3l-1 .7l-2 -.4zM203.3 250.7l2 .6l-1 1.9l-2 -.7z"/><path color="#28054b" d="M199.4 249.9l2 .3l-1 1.6l-2 -.6zM201.3 250.2l2 .5l-1 1.8l-2 -.7z"/><path color="#140532" d="M207.3 252.1l2 .7l-1 1.8l-2 -.7z"/><path color="#0f0528" d="M209.2 252.8l2 .6l-1 1.7l-2 -.6zM215.1 254.2l2 .2l-1 1.9l-2 -.3z"/><path color="#0a0023" d="M211.2 253.4l2 .5l-1 1.7l-2 -.5zM213.2 253.8l2 .3l-1 1.8l-2 -.4z"/><path color="#14052d" d="M217.1 254.3l2 0l-1 2l-2 -.1z"/><path color="#460f78" d="M225 253.2l2 -.7l-.9 3l-2 .4z"/><path color="#5f1482" d="M227 252.5l2 -.9l-.9 3.4l-2 .5z"/><path color="#73198c" d="M228.9 251.6l2 -1l-.9 3.8l-2 .6z"/><path color="#8c1e96" d="M230.9 250.6l2 -1l-.9 4.3l-2 .6z"/><path color="#a02391" d="M232.9 249.5l2 -1l-.9 4.7l-2 .6z"/><path color="#aa2887" d="M234.9 248.6l2 -.8l-.9 5l-2 .4z"/><path color="#b92d82" d="M236.8 247.8l2 -.5l-.9 5.3l-2 .2z"/><path color="#be2d7d" d="M238.8 247.3l2 -.2l-.9 5.4l-2 0zM240.8 247.1l2 .3l-.9 5.5l-2 -.3zM242.8 247.4l2 .7l-.9 5.4l-2 -.6z"/><path color="#b42d7d" d="M244.7 248.1l2 1.1l-.9 5.2l-2 -.9z"/><path color="#0a0019" d="M155 245.6l2 .1l-1 2l-2 -.2z"/><path color="#0a001e" d="M157 245.7l2 0l-1 2.1l-2 -.2zM210.2 255.1l2 .5l-1 1.6l-2 -.6zM212.2 255.6l2 .4l-1 1.7l-2 -.5zM214.2 255.9l2 .3l-1 1.8l-2 -.4z"/><path color="#0a0523" d="M158.9 245.7l2 0l-1 2.3l-2 -.2z"/><path color="#14052d" d="M160.9 245.8l2 .1l-1 2.4l-2 -.2z"/><path color="#190532" d="M162.9 245.8l2 .1l-1 2.5l-2 -.2zM204.3 253.2l2 .7l-1 1.2l-2 -.9z"/><path color="#190537" d="M164.9 246l2 .2l-1 2.5l-2 -.2zM170.8 246.9l2 .5l-1 2.1l-2 -.2zM172.8 247.4l2 .4l-1 1.8l-2 -.2zM174.7 247.8l2 .4l-1 1.5l-2 -.1zM220.1 256.3l2 -.1l-.9 2.3l-2 -.1z"/><path color="#19053c" d="M166.8 246.2l2 .3l-1 2.5l-2 -.3z"/><path color="#1e053c" d="M168.8 246.5l2 .4l-1 2.3l-2 -.3zM176.7 248.2l2 .3l-1 1.2l-2 0zM202.4 252.5l2 .7l-1 1l-2 -1z"/><path color="#1e0541" d="M178.7 248.5l2 .2l-1 .9l-2 .1z"/><path color="#230541" d="M180.7 248.7l2 .1l-1 .5l-2 .2zM200.4 251.8l2 .7l-1 .8l-2 -1z"/><path color="#230546" d="M182.6 248.8l2 .1l-1 .2l-2 .2zM198.4 251.2l2 .6l-1 .5l-2 -.9zM222.1 256.2l2 -.3l-.9 2.6l-2 0z"/><path color="#280546" d="M184.6 248.9l2 .1l-1 -.1l-2 .2zM194.5 250.1l2 .5l-1 -.1l-2 -.7zM196.4 250.6l2 .6l-1 .1l-2 -.9z"/><path color="#28054b" d="M186.6 249l2 .1l-1 -.3l-2 .1zM188.5 249.1l2 .2l-1 -.4l-2 -.1zM190.5 249.4l2 .3l-1 -.4l-2 -.3zM192.5 249.7l2 .4l-1 -.3l-2 -.5z"/><path color="#140528" d="M206.3 253.9l2 .7l-1 1.3l-2 -.8z"/><path color="#0f0523" d="M208.3 254.5l2 .6l-1 1.5l-2 -.7z"/><path color="#0a0023" d="M216.2 256.2l2 .1l-.9 2l-2 -.3z"/><path color="#0f0528" d="M218.1 256.3l2 0l-.9 2.1l-2 -.2z"/><path color="#2d0a55" d="M224.1 255.9l2 -.4l-.9 2.9l-2 .1z"/><path color="#3c0a69" d="M226 255.5l2 -.5l-.9 3.3l-2 .2z"/><path color="#460f78" d="M228 255l2 -.6l-.9 3.7l-2 .2z"/><path color="#550f7d" d="M230 254.4l2 -.6l-.9 4.1l-2 .2z"/><path color="#691487" d="M232 253.8l2 -.6l-.9 4.4l-2 .2z"/><path color="#731987" d="M233.9 253.3l2 -.4l-.9 4.8l-2 .1z"/><path color="#7d198c" d="M235.9 252.8l2 -.2l-.9 5l-2 0z"/><path color="#821e8c" d="M237.9 252.6l2 0l-.9 5.1l-2 -.1zM241.8 252.9l2 .6l-.9 5.1l-2 -.5z"/><path color="#871e8c" d="M239.8 252.6l2 .3l-.9 5.2l-2 -.3z"/><path color="#7d1987" d="M243.8 253.4l2 .9l-.9 4.9l-2 -.7z"/><path color="#050014" d="M154 247.5l2 .2l-1 1.8l-2 -.3zM156 247.7l2 .2l-1 1.9l-2 -.3z"/><path color="#0a0019" d="M157.9 247.9l2 .2l-1 1.9l-2 -.3zM159.9 248.1l2 .2l-1 2l-2 -.3zM213.2 257.6l2 .4l-1 1.7l-2 -.5z"/><path color="#0a001e" d="M161.9 248.3l2 .2l-1 2l-2 -.2zM163.9 248.5l2 .2l-1 2l-2 -.2zM209.3 256.6l2 .6l-1 1.4l-2 -.8zM211.3 257.2l2 .5l-1 1.6l-2 -.6zM215.2 258l2 .3l-.9 1.8l-2 -.4zM217.2 258.3l2 .2l-.9 2l-2 -.3z"/><path color="#0a0023" d="M165.8 248.7l2 .3l-1 1.9l-2 -.2zM219.2 258.5l2 .1l-.9 2.1l-2 -.3z"/><path color="#0f0523" d="M167.8 249l2 .3l-1 1.8l-2 -.1z"/><path color="#0f0528" d="M169.8 249.2l2 .2l-1 1.6l-2 0zM207.3 255.9l2 .7l-1 1.2l-2 -.9zM221.1 258.6l2 0l-.9 2.3l-2 -.2z"/><path color="#140532" d="M171.8 249.5l2 .2l-1 1.4l-2 .1z"/><path color="#190537" d="M173.7 249.7l2 .1l-1 1l-2 .3zM223.1 258.6l2 -.1l-.9 2.5l-2 -.1z"/><path color="#230541" d="M175.7 249.7l2 0l-1 .7l-2 .4zM201.4 253.2l2 1l-1 .4l-2 -1.4z"/><path color="#280546" d="M177.7 249.7l2 -.1l-1 .2l-2 .6zM199.4 252.3l2 1l-1 0l-2 -1.4z"/><path color="#2d0a50" d="M179.7 249.5l2 -.2l-1 -.2l-2 .7z"/><path color="#320a50" d="M181.6 249.3l2 -.2l-1 -.7l-2 .7z"/><path color="#370a4b" d="M183.6 249.1l2 -.2l-1 -1.1l-2 .6z"/><path color="#3c0a4b" d="M185.6 248.9l2 -.1l-1 -1.4l-2 .4zM187.6 248.8l2 .1l-1 -1.6l-2 .1zM193.5 249.7l2 .7l-1 -1.3l-2 -1z"/><path color="#410f4b" d="M189.5 248.9l2 .3l-1 -1.7l-2 -.3zM191.5 249.2l2 .5l-1 -1.6l-2 -.6z"/><path color="#370a46" d="M195.5 250.5l2 .9l-1 -.9l-2 -1.2z"/><path color="#320a46" d="M197.4 251.3l2 .9l-1 -.5l-2 -1.4z"/><path color="#1e053c" d="M203.4 254.2l2 .9l-1 .7l-2 -1.3z"/><path color="#190532" d="M205.3 255.1l2 .8l-1 1l-2 -1.1z"/><path color="#1e0541" d="M225.1 258.5l2 -.2l-.9 2.8l-2 -.1z"/><path color="#28054b" d="M227.1 258.3l2 -.2l-.9 3.1l-2 -.1z"/><path color="#320a5a" d="M229 258.1l2 -.2l-.9 3.4l-2 -.1z"/><path color="#370a64" d="M231 257.9l2 -.2l-.9 3.6l-2 -.1z"/><path color="#3c0a6e" d="M233 257.7l2 -.1l-.9 3.9l-2 -.1z"/><path color="#410a78" d="M235 257.6l2 0l-.9 4l-2 -.2z"/><path color="#460f78" d="M236.9 257.6l2 .1l-.9 4.2l-2 -.3zM238.9 257.7l2 .3l-.9 4.2l-2 -.3zM240.9 258l2 .5l-.9 4.1l-2 -.4z"/><path color="#460f73" d="M242.9 258.5l2 .7l-.9 4l-2 -.5z"/><path color="#05000f" d="M153 249.2l2 .3l-1 1.7l-2 -.3zM155 249.5l2 .3l-1 1.7l-2 -.3z"/><path color="#050014" d="M157 249.7l2 .3l-1 1.7l-2 -.3zM158.9 250l2 .3l-1 1.7l-2 -.3zM160.9 250.3l2 .2l-1 1.7l-2 -.2z"/><path color="#050019" d="M162.9 250.5l2 .2l-1 1.7l-2 -.2zM214.3 259.7l2 .4l-.9 1.7l-2 -.5zM216.2 260.1l2 .3l-.9 1.8l-2 -.4zM218.2 260.4l2 .3l-.9 1.9l-2 -.4z"/><path color="#0a001e" d="M164.9 250.7l2 .2l-1 1.6l-2 -.1zM166.8 250.9l2 .1l-1 1.5l-2 0zM210.3 258.6l2 .6l-1 1.5l-2 -.8zM222.2 260.9l2 .1l-.9 2.1l-2 -.3z"/><path color="#0f0528" d="M168.8 251.1l2 0l-1 1.3l-2 .2z"/><path color="#190532" d="M170.8 251.1l2 -.1l-1 1l-2 .4zM206.4 256.9l2 .9l-1 1.1l-2 -1.2z"/><path color="#230541" d="M172.8 251l2 -.3l-1 .7l-2 .6z"/><path color="#280550" d="M174.7 250.8l2 -.4l-1 .2l-2 .9z"/><path color="#320a55" d="M176.7 250.3l2 -.6l-1 -.3l-2 1.1z"/><path color="#410f55" d="M178.7 249.8l2 -.7l-1 -.9l-2 1.3z"/><path color="#460f55" d="M180.7 249.1l2 -.7l-1 -1.5l-2 1.3z"/><path color="#500f50" d="M182.6 248.4l2 -.6l-1 -2l-2 1.1z"/><path color="#5a1450" d="M184.6 247.8l2 -.4l-1 -2.4l-2 .8z"/><path color="#5f144b" d="M186.6 247.4l2 -.1l-1 -2.7l-2 .4zM190.5 247.6l2 .6l-1 -2.6l-2 -.8z"/><path color="#64144b" d="M188.6 247.3l2 .3l-1 -2.7l-2 -.2z"/><path color="#5a144b" d="M192.5 248.2l2 1l-1 -2.3l-2 -1.3z"/><path color="#551450" d="M194.5 249.2l2 1.2l-1 -1.8l-2 -1.7z"/><path color="#4b0f50" d="M196.5 250.4l2 1.4l-1 -1.2l-2 -1.9z"/><path color="#3c0a4b" d="M198.5 251.8l2 1.4l-1 -.7l-2 -2z"/><path color="#320a46" d="M200.4 253.2l2 1.4l-1 -.1l-2 -1.9z"/><path color="#280546" d="M202.4 254.6l2 1.3l-1 .4l-2 -1.7z"/><path color="#1e053c" d="M204.4 255.8l2 1.1l-1 .8l-2 -1.5z"/><path color="#0f0523" d="M208.3 257.8l2 .8l-1 1.3l-2 -1zM226.1 261.1l2 .1l-.9 2.5l-2 -.2z"/><path color="#0a0019" d="M212.3 259.2l2 .5l-1 1.6l-2 -.6zM220.2 260.7l2 .2l-.9 2l-2 -.3z"/><path color="#0a0023" d="M224.1 261l2 .1l-.9 2.3l-2 -.3z"/><path color="#14052d" d="M228.1 261.2l2 .1l-.9 2.6l-2 -.2z"/><path color="#190537" d="M230.1 261.3l2 .1l-.9 2.8l-2 -.2z"/><path color="#19053c" d="M232.1 261.3l2 .1l-.9 2.9l-2 -.3z"/><path color="#1e0541" d="M234 261.4l2 .2l-.9 3l-2 -.3zM241.9 262.6l2 .5l-.9 3l-2 -.4z"/><path color="#230546" d="M236 261.6l2 .3l-.9 3.1l-2 -.3zM238 261.9l2 .3l-.9 3.1l-2 -.3zM240 262.2l2 .4l-.9 3l-2 -.4z"/><path color="#00000a" d="M152 250.8l2 .3l-1 1.6l-2 -.3z"/><path color="#05000f" d="M154 251.1l2 .3l-1 1.6l-2 -.3zM156 251.4l2 .3l-1 1.6l-2 -.3zM157.9 251.7l2 .3l-1 1.6l-2 -.3z"/><path color="#050014" d="M159.9 252l2 .2l-1 1.6l-2 -.2zM161.9 252.2l2 .2l-1 1.6l-2 -.2zM213.3 261.3l2 .5l-1 1.6l-2 -.6zM215.3 261.8l2 .4l-.9 1.6l-2 -.5zM217.3 262.2l2 .4l-.9 1.7l-2 -.4zM219.2 262.6l2 .3l-.9 1.8l-2 -.4zM221.2 262.9l2 .3l-.9 1.8l-2 -.3zM223.2 263.1l2 .3l-.9 1.9l-2 -.3z"/><path color="#0a0019" d="M163.9 252.4l2 .1l-1 1.5l-2 0zM211.3 260.6l2 .6l-1 1.5l-2 -.7zM227.2 263.6l2 .2l-.9 2.1l-2 -.3z"/><path color="#0a001e" d="M165.8 252.6l2 0l-1 1.4l-2 .1zM209.4 259.9l2 .8l-1 1.4l-2 -.9zM229.1 263.9l2 .2l-.9 2.1l-2 -.3zM231.1 264.1l2 .3l-.9 2.2l-2 -.3zM233.1 264.4l2 .3l-.9 2.3l-2 -.3zM235.1 264.6l2 .3l-.9 2.3l-2 -.3zM237 264.9l2 .3l-.9 2.3l-2 -.4zM239 265.3l2 .4l-.9 2.3l-2 -.4zM241 265.7l2 .4l-.9 2.2l-2 -.4z"/><path color="#14052d" d="M167.8 252.6l2 -.2l-1 1.2l-2 .4zM207.4 258.9l2 1l-1 1.2l-2 -1.2z"/><path color="#1e053c" d="M169.8 252.4l2 -.4l-1 .9l-2 .7zM205.4 257.7l2 1.2l-1 1l-2 -1.5z"/><path color="#2d0a50" d="M171.8 252l2 -.6l-1 .5l-2 1z"/><path color="#3c0a5f" d="M173.8 251.4l2 -.9l-1 0l-2 1.3z"/><path color="#4b0f5f" d="M175.7 250.5l2 -1.1l-1 -.5l-2 1.7z"/><path color="#5a145f" d="M177.7 249.4l2 -1.3l-1 -1.1l-2 1.9z"/><path color="#641455" d="M179.7 248.2l2 -1.3l-1 -1.7l-2 1.9z"/><path color="#691946" d="M181.7 246.9l2 -1.1l-1 -2.3l-2 1.7z"/><path color="#781e41" d="M183.6 245.8l2 -.8l-1 -2.8l-2 1.3zM191.6 245.6l2 1.3l-1 -2.6l-2 -1.7z"/><path color="#7d233c" d="M185.6 245l2 -.4l-1 -3l-2 .6zM187.6 244.6l2 .2l-1 -3.1l-2 -.1zM189.6 244.8l2 .8l-1 -2.9l-2 -.9z"/><path color="#731946" d="M193.5 246.9l2 1.7l-1 -2.1l-2 -2.2z"/><path color="#64194b" d="M195.5 248.6l2 1.9l-1 -1.5l-2 -2.5z"/><path color="#551450" d="M197.5 250.5l2 2l-1 -.9l-2 -2.6z"/><path color="#410f4b" d="M199.5 252.5l2 1.9l-1 -.3l-2 -2.5z"/><path color="#370a4b" d="M201.4 254.5l2 1.7l-1 .2l-2 -2.2z"/><path color="#28054b" d="M203.4 256.2l2 1.5l-1 .7l-2 -1.9z"/><path color="#050019" d="M225.2 263.4l2 .2l-.9 2l-2 -.3z"/><path color="#00000a" d="M151 252.4l2 .3l-1 1.6l-2 -.3zM153 252.7l2 .3l-1 1.6l-2 -.3z"/><path color="#00000f" d="M155 253l2 .3l-1 1.6l-2 -.3z"/><path color="#05000f" d="M156.9 253.3l2 .3l-1 1.6l-2 -.3zM158.9 253.6l2 .2l-1 1.6l-2 -.2zM216.3 263.8l2 .4l-.9 1.6l-2 -.4zM218.3 264.3l2 .4l-.9 1.6l-2 -.4zM220.3 264.6l2 .3l-.9 1.7l-2 -.4zM222.3 265l2 .3l-.9 1.7l-2 -.4zM224.2 265.3l2 .3l-.9 1.7l-2 -.4zM226.2 265.6l2 .3l-.9 1.8l-2 -.3z"/><path color="#050014" d="M160.9 253.8l2 .2l-1 1.5l-2 -.1zM212.4 262.8l2 .6l-.9 1.5l-2 -.6zM214.3 263.4l2 .5l-.9 1.6l-2 -.5zM228.2 265.9l2 .3l-.9 1.8l-2 -.3zM230.2 266.2l2 .3l-.9 1.8l-2 -.3zM232.2 266.6l2 .3l-.9 1.8l-2 -.3zM234.1 266.9l2 .3l-.9 1.8l-2 -.4zM236.1 267.2l2 .4l-.9 1.8l-2 -.4zM238.1 267.6l2 .4l-.9 1.8l-2 -.4zM240.1 268l2 .4l-.9 1.8l-2 -.4z"/><path color="#0a0019" d="M162.9 254l2 0l-1 1.5l-2 0zM210.4 262l2 .7l-1 1.5l-2 -.8z"/><path color="#0a001e" d="M164.9 254.1l2 -.1l-1 1.4l-2 .2z"/><path color="#190532" d="M166.8 253.9l2 -.4l-1 1.2l-2 .5z"/><path color="#28054b" d="M168.8 253.6l2 -.7l-1 1l-2 .9z"/><path color="#370a64" d="M170.8 252.9l2 -1l-1 .7l-2 1.3z"/><path color="#500f69" d="M172.8 251.9l2 -1.3l-1 .3l-2 1.7z"/><path color="#64146e" d="M174.8 250.6l2 -1.7l-1 -.2l-2 2.1z"/><path color="#781e64" d="M176.7 248.9l2 -1.9l-1 -.7l-2 2.4z"/><path color="#872355" d="M178.7 247.1l2 -1.9l-1 -1.2l-2 2.4z"/><path color="#8c2841" d="M180.7 245.2l2 -1.7l-1 -1.6l-2 2.2z"/><path color="#8c2832" d="M182.7 243.5l2 -1.3l-1 -2l-2 1.6z"/><path color="#912d2d" d="M184.7 242.2l2 -.6l-1 -2.2l-2 .9z"/><path color="#91322d" d="M186.6 241.6l2 .1l-1 -2.3l-2 -.1zM188.6 241.7l2 .9l-1 -2.2l-2 -1.1z"/><path color="#8c2d2d" d="M190.6 242.7l2 1.7l-1 -1.9l-2 -2z"/><path color="#872832" d="M192.6 244.3l2 2.2l-1 -1.4l-2 -2.6z"/><path color="#781e41" d="M194.5 246.5l2 2.5l-1 -.9l-2 -3z"/><path color="#69194b" d="M196.5 249.1l2 2.6l-1 -.4l-2 -3.1z"/><path color="#551450" d="M198.5 251.7l2 2.5l-1 0l-2 -3z"/><path color="#460f55" d="M200.5 254.2l2 2.2l-1 .5l-2 -2.7z"/><path color="#370a50" d="M202.5 256.4l2 1.9l-1 .8l-2 -2.2z"/><path color="#280546" d="M204.4 258.3l2 1.5l-1 1.1l-2 -1.8z"/><path color="#190537" d="M206.4 259.9l2 1.2l-1 1.3l-2 -1.4z"/><path color="#0f0528" d="M208.4 261.1l2 .9l-1 1.4l-2 -1.1z"/><path color="#00000a" d="M150 253.9l2 .3l-1 1.6l-2 -.3zM152 254.3l2 .3l-1 1.6l-2 -.3zM154 254.6l2 .3l-1 1.6l-2 -.3zM219.3 266.3l2 .4l-.9 1.6l-2 -.4zM221.3 266.6l2 .4l-.9 1.6l-2 -.4zM223.3 267l2 .4l-.9 1.6l-2 -.4zM225.3 267.3l2 .3l-.9 1.6l-2 -.4zM227.3 267.7l2 .3l-.9 1.6l-2 -.4zM229.2 268l2 .3l-.9 1.6l-2 -.4zM239.1 269.8l2 .4l-.9 1.6l-2 -.4z"/><path color="#05000f" d="M155.9 254.9l2 .3l-1 1.6l-2 -.3zM157.9 255.2l2 .2l-1 1.6l-2 -.2zM215.4 265.4l2 .4l-.9 1.6l-2 -.5zM217.4 265.9l2 .4l-.9 1.6l-2 -.4z"/><path color="#050014" d="M159.9 255.4l2 .1l-1 1.5l-2 -.1zM213.4 264.9l2 .5l-.9 1.6l-2 -.5z"/><path color="#0a0019" d="M161.9 255.5l2 0l-1 1.5l-2 0z"/><path color="#0a0523" d="M163.9 255.5l2 -.2l-1 1.5l-2 .3z"/><path color="#1e053c" d="M165.8 255.3l2 -.5l-1 1.4l-2 .6z"/><path color="#2d0a55" d="M167.8 254.8l2 -.9l-1 1.3l-2 1zM203.5 259.1l2 1.8l-1 1.3l-2 -1.9z"/><path color="#410a6e" d="M169.8 253.9l2 -1.3l-1 1.1l-2 1.4z"/><path color="#641478" d="M171.8 252.6l2 -1.7l-1 1l-2 1.9z"/><path color="#821e7d" d="M173.8 250.9l2 -2.1l-1 .7l-2 2.3z"/><path color="#a0286e" d="M175.8 248.8l2 -2.4l-1 .5l-2 2.6z"/><path color="#b4325a" d="M177.7 246.4l2 -2.4l-1 .3l-2 2.6z"/><path color="#c33c46" d="M179.7 244l2 -2.2l-1 0l-2 2.4z"/><path color="#c3463c" d="M181.7 241.8l2 -1.6l-1 -.1l-2 1.8z"/><path color="#be4b32" d="M183.7 240.2l2 -.9l-1 -.3l-2 1z"/><path color="#b44b2d" d="M185.7 239.3l2 .1l-1 -.3l-2 -.1z"/><path color="#aa4628" d="M187.6 239.4l2 1.1l-1 -.2l-2 -1.1z"/><path color="#9b3c2d" d="M189.6 240.5l2 2l-1 -.1l-2 -2.1z"/><path color="#91322d" d="M191.6 242.5l2 2.6l-1 .1l-2 -2.8z"/><path color="#872837" d="M193.6 245.1l2 3l-1 .4l-2 -3.3z"/><path color="#7d1e46" d="M195.6 248.1l2 3.1l-1 .6l-2 -3.4z"/><path color="#691955" d="M197.5 251.2l2 3l-1 .8l-2 -3.2z"/><path color="#55145f" d="M199.5 254.2l2 2.7l-1 1l-2 -2.9z"/><path color="#410f5a" d="M201.5 256.9l2 2.2l-1 1.2l-2 -2.4z"/><path color="#1e0541" d="M205.5 260.9l2 1.4l-1 1.4l-2 -1.5z"/><path color="#140528" d="M207.4 262.3l2 1.1l-1 1.5l-2 -1.1z"/><path color="#0a001e" d="M209.4 263.4l2 .8l-1 1.5l-2 -.9z"/><path color="#050019" d="M211.4 264.2l2 .6l-.9 1.5l-2 -.7z"/><path color="#00000f" d="M231.2 268.4l2 .3l-.9 1.6l-2 -.4zM233.2 268.7l2 .4l-.9 1.6l-2 -.4zM235.2 269.1l2 .4l-.9 1.6l-2 -.4zM237.2 269.4l2 .4l-.9 1.6l-2 -.4z"/><path color="#00000a" d="M149 255.5l2 .3l-1 1.6l-2 -.3zM151 255.8l2 .3l-1 1.6l-2 -.3zM153 256.2l2 .3l-1 1.6l-2 -.3zM216.4 267.4l2 .4l-.9 1.6l-2 -.4zM218.4 267.8l2 .4l-.9 1.6l-2 -.4zM220.4 268.2l2 .4l-.9 1.6l-2 -.4zM222.4 268.6l2 .4l-.9 1.6l-2 -.4zM224.3 268.9l2 .4l-.9 1.6l-2 -.4zM226.3 269.3l2 .4l-.9 1.6l-2 -.4zM228.3 269.7l2 .4l-.9 1.6l-2 -.4zM230.3 270l2 .4l-.9 1.6l-2 -.4zM232.3 270.4l2 .4l-.9 1.6l-2 -.4zM234.2 270.7l2 .4l-.9 1.6l-2 -.4zM236.2 271.1l2 .4l-.9 1.6l-2 -.4zM238.2 271.4l2 .4l-.9 1.6l-2 -.4z"/><path color="#05000f" d="M154.9 256.5l2 .3l-1 1.6l-2 -.3zM156.9 256.7l2 .2l-1 1.6l-2 -.2zM214.4 267l2 .5l-.9 1.6l-2 -.5z"/><path color="#050014" d="M158.9 257l2 .1l-1 1.6l-2 -.1zM210.5 265.8l2 .7l-.9 1.6l-2 -.7zM212.4 266.4l2 .5l-.9 1.6l-2 -.5z"/><path color="#0a0019" d="M160.9 257.1l2 0l-1 1.6l-2 0z"/><path color="#0a0523" d="M162.9 257l2 -.3l-1 1.6l-2 .2z"/><path color="#1e053c" d="M164.9 256.8l2 -.6l-1 1.7l-2 .5z"/><path color="#320a5a" d="M166.8 256.2l2 -1l-1 1.7l-2 .9zM202.5 260.3l2 1.9l-1 1.7l-2 -1.9z"/><path color="#4b0f78" d="M168.8 255.2l2 -1.4l-1 1.8l-2 1.4z"/><path color="#6e1982" d="M170.8 253.8l2 -1.9l-1 1.8l-2 1.8z"/><path color="#96238c" d="M172.8 251.8l2 -2.3l-1 1.9l-2 2.2z"/><path color="#be2d7d" d="M174.8 249.5l2 -2.6l-1 2l-2 2.5z"/><path color="#dc3c69" d="M176.8 246.9l2 -2.6l-1 2.1l-2 2.5z"/><path color="#fa5055" d="M178.7 244.3l2 -2.4l-1 2.2l-2 2.3z"/><path color="#ff644b" d="M180.7 241.9l2 -1.8l-1 2.3l-2 1.7z"/><path color="#ff7346" d="M182.7 240.1l2 -1l-1 2.4l-2 .9z"/><path color="#ff7846" d="M184.7 239.1l2 .1l-1 2.4l-2 -.1z"/><path color="#ff6e41" d="M186.7 239.2l2 1.1l-1 2.3l-2 -1.1z"/><path color="#e65a3c" d="M188.7 240.3l2 2.1l-1 2.3l-2 -2z"/><path color="#cd4641" d="M190.6 242.4l2 2.8l-1 2.2l-2 -2.7z"/><path color="#b43246" d="M192.6 245.2l2 3.3l-1 2.1l-2 -3.2z"/><path color="#9b2855" d="M194.6 248.5l2 3.4l-1 2l-2 -3.3z"/><path color="#821e64" d="M196.6 251.9l2 3.2l-1 1.9l-2 -3.1z"/><path color="#64146e" d="M198.6 255.1l2 2.9l-1 1.8l-2 -2.8z"/><path color="#4b0f64" d="M200.5 257.9l2 2.4l-1 1.7l-2 -2.3z"/><path color="#230541" d="M204.5 262.3l2 1.5l-1 1.6l-2 -1.5z"/><path color="#14052d" d="M206.5 263.8l2 1.1l-1 1.6l-2 -1.1z"/><path color="#0a001e" d="M208.5 264.9l2 .9l-1 1.6l-2 -.8z"/><path color="#00000a" d="M148 257l2 .3l-1 1.5l-2 -.3zM150 257.4l2 .3l-1 1.6l-2 -.3zM152 257.7l2 .3l-1 1.6l-2 -.3zM215.5 269l2 .4l-.9 1.5l-2 -.4zM217.4 269.4l2 .4l-.9 1.5l-2 -.4zM219.4 269.8l2 .4l-.9 1.5l-2 -.4zM221.4 270.1l2 .4l-.9 1.5l-2 -.4zM223.4 270.5l2 .4l-.9 1.5l-2 -.4zM225.4 270.9l2 .4l-.9 1.5l-2 -.4zM227.4 271.2l2 .4l-.9 1.5l-2 -.4zM229.3 271.6l2 .4l-.9 1.5l-2 -.4zM231.3 271.9l2 .4l-.9 1.5l-2 -.4z"/><path color="#00000f" d="M154 258l2 .3l-1 1.6l-2 -.3z"/><path color="#05000f" d="M155.9 258.3l2 .2l-1 1.6l-2 -.2zM211.5 268l2 .5l-.9 1.6l-2 -.5zM213.5 268.5l2 .5l-.9 1.6l-2 -.4z"/><path color="#050014" d="M157.9 258.5l2 .1l-1 1.6l-2 -.2zM209.5 267.3l2 .7l-1 1.6l-2 -.6z"/><path color="#0a0019" d="M159.9 258.7l2 0l-1 1.7l-2 0z"/><path color="#0a0023" d="M161.9 258.6l2 -.2l-1 1.8l-2 .2z"/><path color="#190537" d="M163.9 258.4l2 -.5l-1 1.9l-2 .4z"/><path color="#2d0a55" d="M165.9 257.8l2 -.9l-1 2.1l-2 .7zM201.6 262.1l2 1.9l-1 2l-2 -1.7z"/><path color="#460a78" d="M167.8 256.9l2 -1.4l-1 2.3l-2 1.1z"/><path color="#691487" d="M169.8 255.5l2 -1.8l-1 2.6l-2 1.5z"/><path color="#911e96" d="M171.8 253.7l2 -2.2l-1 3l-2 1.9z"/><path color="#b92d8c" d="M173.8 251.5l2 -2.5l-1 3.4l-2 2.1z"/><path color="#dc3778" d="M175.8 248.9l2 -2.5l-1 3.9l-2 2.1z"/><path color="#f54664" d="M177.8 246.4l2 -2.3l-1 4.2l-2 1.9z"/><path color="#ff5555" d="M179.7 244.1l2 -1.7l-1 4.5l-2 1.4z"/><path color="#ff5f50" d="M181.7 242.4l2 -.9l-1 4.7l-2 .7z"/><path color="#ff644b" d="M183.7 241.4l2 .1l-1 4.8l-2 -.1z"/><path color="#ff5f46" d="M185.7 241.5l2 1.1l-1 4.6l-2 -1z"/><path color="#f05546" d="M187.7 242.6l2 2l-1 4.4l-2 -1.8z"/><path color="#dc414b" d="M189.7 244.7l2 2.7l-1 4.1l-2 -2.4z"/><path color="#c3325a" d="M191.7 247.4l2 3.2l-1 3.7l-2 -2.8z"/><path color="#a52869" d="M193.6 250.6l2 3.3l-1 3.2l-2 -2.8z"/><path color="#871e73" d="M195.6 253.8l2 3.1l-1 2.8l-2 -2.7z"/><path color="#641473" d="M197.6 257l2 2.8l-1 2.5l-2 -2.4z"/><path color="#460f69" d="M199.6 259.7l2 2.3l-1 2.2l-2 -2z"/><path color="#1e053c" d="M203.6 263.9l2 1.5l-1 1.8l-2 -1.3z"/><path color="#0f0528" d="M205.5 265.4l2 1.1l-1 1.7l-2 -1z"/><path color="#0a001e" d="M207.5 266.5l2 .8l-1 1.6l-2 -.8z"/><path color="#000005" d="M233.3 272.3l2 .4l-.9 1.5l-2 -.4zM235.3 272.6l2 .4l-.9 1.5l-2 -.4zM237.3 273l2 .4l-.9 1.5l-2 -.4z"/><path color="#00000a" d="M147 258.6l2 .3l-1 1.5l-2 -.3zM149 258.9l2 .3l-1 1.6l-2 -.3zM151 259.3l2 .3l-1 1.6l-2 -.3zM153 259.6l2 .3l-1 1.6l-2 -.3zM214.5 270.5l2 .4l-.9 1.5l-2 -.4zM216.5 270.9l2 .4l-.9 1.5l-2 -.4zM218.5 271.3l2 .4l-.9 1.5l-2 -.4zM220.5 271.7l2 .4l-.9 1.5l-2 -.4z"/><path color="#05000f" d="M154.9 259.9l2 .2l-1 1.6l-2 -.3zM210.5 269.6l2 .5l-.9 1.6l-2 -.5z"/><path color="#050014" d="M156.9 260.1l2 .2l-1 1.6l-2 -.2zM208.6 269l2 .6l-.9 1.6l-2 -.5z"/><path color="#050019" d="M158.9 260.3l2 0l-1 1.7l-2 -.1z"/><path color="#0a001e" d="M160.9 260.3l2 -.2l-1 1.8l-2 0zM204.6 267.2l2 1l-1 1.8l-2 -.8z"/><path color="#14052d" d="M162.9 260.2l2 -.4l-1 2l-2 .2z"/><path color="#230546" d="M164.9 259.7l2 -.7l-1 2.3l-2 .5z"/><path color="#370a64" d="M166.9 259l2 -1.1l-1 2.7l-2 .8z"/><path color="#500f7d" d="M168.8 257.9l2 -1.5l-1 3.1l-2 1.1z"/><path color="#78198c" d="M170.8 256.3l2 -1.9l-1 3.6l-2 1.3z"/><path color="#962396" d="M172.8 254.5l2 -2.1l-1 4.2l-2 1.5z"/><path color="#b92d87" d="M174.8 252.4l2 -2.1l-1 4.8l-2 1.5z"/><path color="#d2327d" d="M176.8 250.3l2 -1.9l-1 5.4l-2 1.4z"/><path color="#e13c69" d="M178.8 248.3l2 -1.4l-1 5.8l-2 1z"/><path color="#eb415f" d="M180.8 246.9l2 -.7l-1 6.1l-2 .5z"/><path color="#eb465a" d="M182.7 246.2l2 .1l-1 6.1l-2 -.2z"/><path color="#e6415a" d="M184.7 246.3l2 1l-1 6l-2 -.8z"/><path color="#d73c5f" d="M186.7 247.3l2 1.8l-1 5.6l-2 -1.4z"/><path color="#c33264" d="M188.7 249.1l2 2.4l-1 5.1l-2 -1.9z"/><path color="#af2873" d="M190.7 251.5l2 2.8l-1 4.6l-2 -2.2z"/><path color="#912378" d="M192.7 254.2l2 2.8l-1 4l-2 -2.2z"/><path color="#73197d" d="M194.7 257.1l2 2.7l-1 3.4l-2 -2.1z"/><path color="#550f73" d="M196.6 259.8l2 2.4l-1 2.9l-2 -1.9z"/><path color="#3c0a69" d="M198.6 262.2l2 2l-1 2.5l-2 -1.6z"/><path color="#280550" d="M200.6 264.3l2 1.7l-1 2.2l-2 -1.3z"/><path color="#190537" d="M202.6 265.9l2 1.3l-1 1.9l-2 -1.1z"/><path color="#0a0019" d="M206.6 268.2l2 .8l-1 1.7l-2 -.7z"/><path color="#00000f" d="M212.5 270.1l2 .4l-.9 1.6l-2 -.4z"/><path color="#000005" d="M222.5 272l2 .4l-.9 1.5l-2 -.4zM224.4 272.4l2 .4l-.9 1.5l-2 -.4zM226.4 272.7l2 .4l-.9 1.5l-2 -.4zM228.4 273.1l2 .4l-.9 1.5l-2 -.4zM230.4 273.5l2 .4l-.9 1.5l-2 -.4zM232.4 273.8l2 .4l-.9 1.5l-2 -.4zM234.4 274.2l2 .4l-.9 1.5l-2 -.4zM236.4 274.5l2 .4l-.9 1.5l-2 -.4z"/><path color="#00000a" d="M146 260.1l2 .3l-1 1.5l-2 -.3zM148 260.5l2 .3l-1 1.6l-2 -.3zM150 260.8l2 .3l-1 1.6l-2 -.3zM152 261.1l2 .3l-1 1.6l-2 -.3zM211.6 271.7l2 .4l-.9 1.6l-2 -.4zM213.6 272.1l2 .4l-.9 1.5l-2 -.4zM215.6 272.5l2 .4l-.9 1.5l-2 -.4zM217.5 272.8l2 .4l-.9 1.5l-2 -.4z"/><path color="#00000f" d="M153.9 261.5l2 .3l-1 1.6l-2 -.3z"/><path color="#05000f" d="M155.9 261.7l2 .2l-1 1.6l-2 -.3zM207.6 270.7l2 .5l-1 1.6l-2 -.5zM209.6 271.2l2 .5l-.9 1.6l-2 -.4z"/><path color="#050014" d="M157.9 261.9l2 .1l-1 1.7l-2 -.2zM205.6 270l2 .7l-1 1.7l-2 -.6z"/><path color="#0a0019" d="M159.9 262l2 0l-1 1.9l-2 -.1z"/><path color="#0a0023" d="M161.9 262l2 -.2l-1 2l-2 0z"/><path color="#190532" d="M163.9 261.8l2 -.5l-1 2.3l-2 .2z"/><path color="#280a50" d="M165.9 261.3l2 -.8l-1 2.7l-2 .4z"/><path color="#370a69" d="M167.9 260.5l2 -1.1l-1 3.1l-2 .6z"/><path color="#500f7d" d="M169.8 259.5l2 -1.3l-1 3.7l-2 .8z"/><path color="#6e1987" d="M171.8 258.1l2 -1.5l-1 4.3l-2 .9z"/><path color="#871e91" d="M173.8 256.6l2 -1.5l-1 4.9l-2 .9z"/><path color="#9b238c" d="M175.8 255.1l2 -1.4l-1 5.5l-2 .8z"/><path color="#af2887" d="M177.8 253.7l2 -1l-1 5.9l-2 .6z"/><path color="#b92d7d" d="M179.8 252.7l2 -.5l-1 6.2l-2 .2zM181.8 252.2l2 .2l-1 6.3l-2 -.2z"/><path color="#b42d78" d="M183.8 252.4l2 .8l-1 6.1l-2 -.7z"/><path color="#aa287d" d="M185.7 253.2l2 1.4l-1 5.7l-2 -1.1z"/><path color="#9b237d" d="M187.7 254.7l2 1.9l-1 5.2l-2 -1.4z"/><path color="#871e82" d="M189.7 256.6l2 2.2l-1 4.6l-2 -1.6z"/><path color="#6e1982" d="M191.7 258.8l2 2.2l-1 4l-2 -1.6z"/><path color="#550f73" d="M193.7 261l2 2.1l-1 3.4l-2 -1.6z"/><path color="#3c0a6e" d="M195.7 263.2l2 1.9l-1 2.9l-2 -1.4z"/><path color="#2d0a50" d="M197.7 265.1l2 1.6l-1 2.5l-2 -1.2z"/><path color="#1e053c" d="M199.7 266.7l2 1.3l-1 2.2l-2 -1z"/><path color="#0f0528" d="M201.6 268.1l2 1.1l-1 1.9l-2 -.8z"/><path color="#0a001e" d="M203.6 269.1l2 .8l-1 1.8l-2 -.7z"/><path color="#000005" d="M219.5 273.2l2 .4l-.9 1.5l-2 -.4zM221.5 273.6l2 .4l-.9 1.5l-2 -.4zM223.5 273.9l2 .4l-.9 1.5l-2 -.4zM225.5 274.3l2 .4l-.9 1.5l-2 -.4zM227.5 274.6l2 .4l-.9 1.5l-2 -.4zM229.5 275l2 .4l-.9 1.5l-2 -.4zM231.5 275.3l2 .4l-.9 1.5l-2 -.4zM233.4 275.7l2 .4l-.9 1.5l-2 -.4zM235.4 276l2 .4l-.9 1.5l-2 -.4z"/><path color="#000005" d="M145 261.7l2 .3l-1 1.5l-2 -.4zM216.6 274.4l2 .4l-.9 1.5l-2 -.4zM218.6 274.7l2 .4l-.9 1.5l-2 -.4zM220.6 275.1l2 .4l-.9 1.5l-2 -.4zM222.6 275.4l2 .4l-.9 1.5l-2 -.4zM224.6 275.8l2 .4l-.9 1.5l-2 -.4zM226.5 276.2l2 .4l-.9 1.5l-2 -.4zM228.5 276.5l2 .4l-.9 1.5l-2 -.4zM230.5 276.9l2 .4l-.9 1.5l-2 -.4zM232.5 277.2l2 .4l-.9 1.5l-2 -.4zM234.5 277.6l2 .4l-.9 1.5l-2 -.4z"/><path color="#00000a" d="M147 262l2 .3l-1 1.5l-2 -.3zM149 262.4l2 .3l-1 1.6l-2 -.3zM151 262.7l2 .3l-1 1.6l-2 -.3zM153 263l2 .3l-1 1.6l-2 -.3zM208.6 272.8l2 .4l-.9 1.6l-2 -.4zM210.6 273.2l2 .4l-.9 1.5l-2 -.4zM212.6 273.6l2 .4l-.9 1.5l-2 -.4zM214.6 274l2 .4l-.9 1.5l-2 -.4z"/><path color="#05000f" d="M154.9 263.3l2 .3l-1 1.6l-2 -.3zM156.9 263.6l2 .2l-1 1.7l-2 -.3zM206.7 272.3l2 .5l-.9 1.6l-2 -.4z"/><path color="#050014" d="M158.9 263.8l2 .1l-1 1.8l-2 -.2zM204.7 271.8l2 .6l-1 1.6l-2 -.5z"/><path color="#0a0019" d="M160.9 263.9l2 0l-1 2l-2 -.1z"/><path color="#0a0023" d="M162.9 263.8l2 -.2l-1 2.2l-2 0z"/><path color="#140532" d="M164.9 263.6l2 -.4l-1 2.5l-2 .1z"/><path color="#230546" d="M166.9 263.2l2 -.6l-1 2.9l-2 .2z"/><path color="#320a5f" d="M168.9 262.6l2 -.8l-1 3.3l-2 .3z"/><path color="#410a73" d="M170.9 261.8l2 -.9l-1 3.8l-2 .4z"/><path color="#550f7d" d="M172.8 260.9l2 -.9l-1 4.3l-2 .4z"/><path color="#641482" d="M174.8 260l2 -.8l-1 4.8l-2 .3z"/><path color="#731987" d="M176.8 259.2l2 -.6l-1 5.2l-2 .2zM184.8 259.3l2 1.1l-1 5l-2 -.8z"/><path color="#7d198c" d="M178.8 258.6l2 -.2l-1 5.4l-2 0zM180.8 258.4l2 .2l-1 5.5l-2 -.3z"/><path color="#7d1987" d="M182.8 258.7l2 .7l-1 5.3l-2 -.5z"/><path color="#69147d" d="M186.8 260.4l2 1.4l-1 4.6l-2 -1z"/><path color="#5a1478" d="M188.8 261.8l2 1.6l-1 4.1l-2 -1.1z"/><path color="#460f73" d="M190.7 263.4l2 1.6l-1 3.6l-2 -1.1z"/><path color="#370a64" d="M192.7 265l2 1.6l-1 3.1l-2 -1.1z"/><path color="#280550" d="M194.7 266.6l2 1.4l-1 2.7l-2 -1z"/><path color="#190537" d="M196.7 268l2 1.2l-1 2.3l-2 -.9z"/><path color="#0f0523" d="M198.7 269.2l2 1l-1 2.1l-2 -.7z"/><path color="#0a001e" d="M200.7 270.3l2 .8l-1 1.9l-2 -.6z"/><path color="#050019" d="M202.7 271.1l2 .7l-1 1.7l-2 -.5z"/><path color="#000005" d="M144 263.2l2 .4l-1 1.5l-2 -.4zM146 263.6l2 .3l-1 1.5l-2 -.3zM213.7 275.6l2 .4l-.9 1.5l-2 -.4zM215.7 275.9l2 .4l-.9 1.5l-2 -.4zM217.6 276.3l2 .4l-.9 1.5l-2 -.4zM219.6 276.6l2 .4l-.9 1.5l-2 -.4zM221.6 277l2 .4l-.9 1.5l-2 -.4zM223.6 277.3l2 .4l-.9 1.5l-2 -.4zM225.6 277.7l2 .4l-.9 1.5l-2 -.4zM227.6 278l2 .4l-.9 1.5l-2 -.4zM229.6 278.4l2 .4l-.9 1.5l-2 -.4zM231.6 278.7l2 .4l-.9 1.5l-2 -.4zM233.6 279.1l2 .4l-.9 1.5l-2 -.4z"/><path color="#00000a" d="M148 263.9l2 .3l-1 1.5l-2 -.3zM150 264.3l2 .3l-1 1.6l-2 -.3zM152 264.6l2 .3l-1 1.6l-2 -.3zM154 264.9l2 .3l-1 1.6l-2 -.3zM207.7 274.4l2 .4l-.9 1.6l-2 -.4zM209.7 274.8l2 .4l-.9 1.5l-2 -.4zM211.7 275.2l2 .4l-.9 1.5l-2 -.4z"/><path color="#05000f" d="M155.9 265.2l2 .3l-1 1.6l-2 -.3zM157.9 265.5l2 .2l-1 1.7l-2 -.3zM203.7 273.5l2 .5l-1 1.6l-2 -.4z"/><path color="#050014" d="M159.9 265.7l2 .1l-1 1.8l-2 -.2zM199.7 272.3l2 .6l-1 1.8l-2 -.5zM201.7 273l2 .5l-1 1.7l-2 -.5z"/><path color="#0a0019" d="M161.9 265.8l2 0l-1 2l-2 -.2zM197.7 271.6l2 .7l-1 1.9l-2 -.6z"/><path color="#0a001e" d="M163.9 265.8l2 -.1l-1 2.2l-2 -.1z"/><path color="#0f0528" d="M165.9 265.7l2 -.2l-1 2.5l-2 -.1z"/><path color="#190537" d="M167.9 265.5l2 -.3l-1 2.8l-2 0z"/><path color="#23054b" d="M169.9 265.2l2 -.4l-1 3.1l-2 0z"/><path color="#2d0a5a" d="M171.9 264.8l2 -.4l-1 3.5l-2 0z"/><path color="#370a69" d="M173.9 264.4l2 -.3l-1 3.8l-2 0z"/><path color="#410a6e" d="M175.8 264l2 -.2l-1 4.1l-2 -.1z"/><path color="#410a73" d="M177.8 263.8l2 0l-1 4.2l-2 -.2zM183.8 264.7l2 .8l-1 4l-2 -.6z"/><path color="#460f78" d="M179.8 263.8l2 .3l-1 4.3l-2 -.3z"/><path color="#410f73" d="M181.8 264.1l2 .5l-1 4.2l-2 -.5z"/><path color="#370a64" d="M185.8 265.5l2 1l-1 3.7l-2 -.7z"/><path color="#320a5a" d="M187.8 266.4l2 1.1l-1 3.3l-2 -.7z"/><path color="#28054b" d="M189.8 267.5l2 1.1l-1 3l-2 -.8z"/><path color="#1e053c" d="M191.8 268.6l2 1.1l-1 2.6l-2 -.7z"/><path color="#14052d" d="M193.8 269.7l2 1l-1 2.3l-2 -.7z"/><path color="#0a0023" d="M195.7 270.7l2 .9l-1 2.1l-2 -.6z"/><path color="#00000f" d="M205.7 274l2 .4l-.9 1.6l-2 -.4z"/><path color="#000005" d="M143 264.8l2 .4l-1 1.5l-2 -.4zM145 265.1l2 .3l-1 1.5l-2 -.4zM147 265.5l2 .3l-1 1.5l-2 -.3zM210.7 276.7l2 .4l-.9 1.5l-2 -.4zM212.7 277.1l2 .4l-.9 1.5l-2 -.4zM214.7 277.4l2 .4l-.9 1.5l-2 -.4zM216.7 277.8l2 .4l-.9 1.5l-2 -.4zM218.7 278.2l2 .4l-.9 1.5l-2 -.4zM220.7 278.5l2 .4l-.9 1.5l-2 -.4zM222.7 278.9l2 .4l-.9 1.5l-2 -.4zM224.7 279.2l2 .4l-.9 1.5l-2 -.4zM226.7 279.6l2 .4l-.9 1.5l-2 -.4zM228.7 279.9l2 .4l-.9 1.5l-2 -.4zM230.6 280.3l2 .4l-.9 1.5l-2 -.4zM232.6 280.6l2 .4l-.9 1.5l-2 -.4z"/><path color="#00000a" d="M149 265.8l2 .3l-1 1.6l-2 -.3zM151 266.1l2 .3l-1 1.6l-2 -.3zM153 266.5l2 .3l-1 1.6l-2 -.3zM155 266.8l2 .3l-1 1.6l-2 -.3zM202.8 275.2l2 .4l-1 1.6l-2 -.4zM204.7 275.6l2 .4l-.9 1.6l-2 -.4zM206.7 276l2 .4l-.9 1.5l-2 -.4zM208.7 276.4l2 .4l-.9 1.5l-2 -.4z"/><path color="#00000f" d="M156.9 267.1l2 .3l-1 1.6l-2 -.3z"/><path color="#05000f" d="M158.9 267.4l2 .2l-1 1.7l-2 -.3zM198.8 274.2l2 .5l-1 1.7l-2 -.4zM200.8 274.7l2 .5l-1 1.6l-2 -.4z"/><path color="#050014" d="M160.9 267.6l2 .2l-1 1.8l-2 -.3zM162.9 267.8l2 .1l-1 1.9l-2 -.2zM196.8 273.7l2 .6l-1 1.8l-2 -.5z"/><path color="#0a0019" d="M164.9 267.9l2 .1l-1 2.1l-2 -.2z"/><path color="#0a001e" d="M166.9 267.9l2 0l-1 2.3l-2 -.2zM190.8 271.6l2 .7l-1 2.2l-2 -.5zM192.8 272.3l2 .7l-1 2l-2 -.5z"/><path color="#0a0523" d="M168.9 267.9l2 0l-1 2.5l-2 -.2z"/><path color="#14052d" d="M170.9 267.9l2 0l-1 2.7l-2 -.2z"/><path color="#190537" d="M172.9 267.8l2 0l-1 2.9l-2 -.2z"/><path color="#1e0541" d="M174.9 267.8l2 .1l-1 3l-2 -.2zM182.8 268.8l2 .6l-1 3l-2 -.5z"/><path color="#230546" d="M176.9 267.9l2 .2l-1 3.1l-2 -.3zM178.9 268.1l2 .3l-1 3.2l-2 -.3zM180.8 268.4l2 .5l-1 3.1l-2 -.4z"/><path color="#19053c" d="M184.8 269.4l2 .7l-1 2.8l-2 -.5z"/><path color="#140532" d="M186.8 270.1l2 .7l-1 2.6l-2 -.5z"/><path color="#0f0528" d="M188.8 270.9l2 .8l-1 2.4l-2 -.5z"/><path color="#050019" d="M194.8 273l2 .6l-1 1.9l-2 -.5z"/></g><path d="M142.0 266.3 L144.0 266.6 L146.0 267.0 L148.0 267.4 L150.0 267.7 L152.0 268.0 L154.0 268.4 L156.0 268.7 L157.9 269.0 L159.9 269.3 L161.9 269.6 L163.9 269.8 L165.9 270.0 L167.9 270.2 L169.9 270.4 L171.9 270.5 L173.9 270.7 L175.9 270.9 L177.9 271.2 L179.9 271.6 L181.9 272.0 L183.9 272.4 L185.9 272.9 L187.8 273.5 L189.8 274.0 L191.8 274.5 L193.8 275.0 L195.8 275.5 L197.8 276.0 L199.8 276.4 L201.8 276.8 L203.8 277.2 L205.8 277.5 L207.8 277.9 L209.8 278.3 L211.8 278.6 L213.8 279.0 L215.8 279.3 L217.8 279.7 L219.7 280.0 L221.7 280.4 L223.7 280.7 L225.7 281.1 L227.7 281.4 L229.7 281.8 L231.7 282.1 L233.7 282.5 L233.7 282.8 L231.7 282.4 L229.7 282.1 L227.7 281.7 L225.7 281.4 L223.7 281.0 L221.7 280.7 L219.7 280.3 L217.8 280.0 L215.8 279.6 L213.8 279.3 L211.8 278.9 L209.8 278.6 L207.8 278.2 L205.8 277.9 L203.8 277.5 L201.8 277.2 L199.8 276.8 L197.8 276.5 L195.8 276.1 L193.8 275.8 L191.8 275.4 L189.8 275.1 L187.8 274.7 L185.9 274.3 L183.9 274.0 L181.9 273.6 L179.9 273.3 L177.9 272.9 L175.9 272.6 L173.9 272.2 L171.9 271.9 L169.9 271.5 L167.9 271.2 L165.9 270.8 L163.9 270.5 L161.9 270.1 L159.9 269.8 L157.9 269.4 L156.0 269.1 L154.0 268.7 L152.0 268.4 L150.0 268.0 L148.0 267.7 L146.0 267.3 L144.0 267.0 L142.0 266.6Z" fill="#d6d6d6"/>
<path transform="translate(63.2,251.6)" d="M-2.6 0L0 -4.6L2.6 0L0 -1.3Z" fill="#8cc63f"/>
<path transform="translate(166.2,271.6)" d="M-2.6 0L0 -4.6L2.6 0L0 -1.3Z" fill="#8cc63f"/>
<path d="M264.5 232.5L269.2 233.2L262.5 270.5L253.6 270.2Z" fill="url(#cb)"/>
<text x="272.0" y="258.2" font-family="Liberation Sans, sans-serif" font-size="7.7" text-anchor="start" fill="#333" >1.00</text>
<text x="265.0" y="269.3" font-family="Liberation Sans, sans-serif" font-size="7.7" text-anchor="start" fill="#333" >0.25</text>
<text x="246.5" y="280.0" font-family="Liberation Sans, sans-serif" font-size="7.5" text-anchor="start" fill="#333" >Density</text>
<text x="128.5" y="200.4" font-family="Liberation Serif, serif" font-size="8.4" font-style="italic" fill="#222">Nfix<tspan font-size="5.4" dy="-3.6">+/+</tspan></text>
<text x="233.8" y="222.4" font-family="Liberation Serif, serif" font-size="8.4" font-style="italic" fill="#222">Nfix<tspan font-size="5.4" dy="-3.6">Δ/Δ</tspan></text>
<path d="M77.9 177.7L80.5 181.5L80.7 181.5L83.3 177.7L81.6 183.6L80.6 186.1L79.6 183.6Z" fill="#b8a428"/>
<path d="M108.6 190.9L111.2 194.7L111.4 194.7L114.0 190.9L112.3 196.8L111.3 199.3L110.3 196.8Z" fill="#1f9448"/>
<path d="M188.6 201.6L191.2 205.4L191.4 205.4L194.0 201.6L192.3 207.5L191.3 210.0L190.3 207.5Z" fill="#b8a428"/>
<path d="M209.8 201.6L212.4 205.4L212.6 205.4L215.2 201.6L213.5 207.5L212.5 210.0L211.5 207.5Z" fill="#1f9448"/>
<path transform="translate(111.6,215.6) rotate(52) scale(0.85)" d="M-2.7 -8.4L0 -4.6L2.7 -8.4L1 -2.5L0 0L-1 -2.5Z" fill="#1fa8b4"/>
<path transform="translate(213.0,229.8) rotate(52) scale(0.85)" d="M-2.7 -8.4L0 -4.6L2.7 -8.4L1 -2.5L0 0L-1 -2.5Z" fill="#1fa8b4"/>
<text x="304.0" y="177.4" font-family="Liberation Sans, sans-serif" font-size="11.2" text-anchor="start" fill="#000" font-weight="bold" stroke="#000" stroke-width="0.35">B</text>
<rect x="349.00" y="215.96" width="5.35" height="56.44" fill="#c8102e"/>
<rect x="354.35" y="242.32" width="5.35" height="30.08" fill="#1d4f8e"/>
<path d="M348.70 214.06H360.00" stroke="#222" stroke-width="0.95"/>
<path d="M354.35 209.46v1.6M353.65 209.86l1.4 0.8M355.05 209.86l-1.4 0.8" stroke="#333" stroke-width="0.45"/>
<rect x="361.50" y="255.10" width="5.35" height="17.30" fill="#c8102e"/>
<rect x="366.85" y="243.15" width="5.35" height="29.25" fill="#1d4f8e"/>
<path d="M361.20 241.25H372.50" stroke="#222" stroke-width="0.95"/>
<path d="M366.85 236.65v1.6M366.15 237.05l1.4 0.8M367.55 237.05l-1.4 0.8" stroke="#333" stroke-width="0.45"/>
<rect x="374.00" y="226.26" width="5.35" height="46.14" fill="#c8102e"/>
<rect x="379.35" y="223.37" width="5.35" height="49.03" fill="#1d4f8e"/>
<path d="M373.70 221.47H385.00" stroke="#222" stroke-width="0.95"/>
<path d="M379.35 216.87v1.6M378.65 217.27l1.4 0.8M380.05 217.27l-1.4 0.8" stroke="#333" stroke-width="0.45"/>
<rect x="386.50" y="251.39" width="5.35" height="21.01" fill="#c8102e"/>
<rect x="391.85" y="254.68" width="5.35" height="17.72" fill="#1d4f8e"/>
<rect x="399.00" y="258.39" width="5.35" height="14.01" fill="#c8102e"/>
<rect x="404.35" y="264.16" width="5.35" height="8.24" fill="#1d4f8e"/>
<path d="M398.70 256.49H410.00" stroke="#222" stroke-width="0.95"/>
<path d="M404.35 251.89v1.6M403.65 252.29l1.4 0.8M405.05 252.29l-1.4 0.8" stroke="#333" stroke-width="0.45"/>
<rect x="411.50" y="236.97" width="5.35" height="35.43" fill="#c8102e"/>
<rect x="416.85" y="215.13" width="5.35" height="57.27" fill="#1d4f8e"/>
<path d="M411.20 213.23H422.50" stroke="#222" stroke-width="0.95"/>
<path d="M416.85 208.63v1.6M416.15 209.03l1.4 0.8M417.55 209.03l-1.4 0.8" stroke="#333" stroke-width="0.45"/>
<rect x="424.00" y="201.95" width="5.35" height="70.45" fill="#c8102e"/>
<rect x="429.35" y="202.36" width="5.35" height="70.04" fill="#1d4f8e"/>
<rect x="436.50" y="256.74" width="5.35" height="15.66" fill="#c8102e"/>
<rect x="441.85" y="246.86" width="5.35" height="25.54" fill="#1d4f8e"/>
<path d="M436.20 244.96H447.50" stroke="#222" stroke-width="0.95"/>
<path d="M441.85 240.36v1.6M441.15 240.76l1.4 0.8M442.55 240.76l-1.4 0.8" stroke="#333" stroke-width="0.45"/>
<rect x="449.00" y="227.08" width="5.35" height="45.32" fill="#c8102e"/>
<rect x="454.35" y="236.14" width="5.35" height="36.26" fill="#1d4f8e"/>
<path d="M448.70 225.18H460.00" stroke="#222" stroke-width="0.95"/>
<path d="M454.35 220.58v1.6M453.65 220.98l1.4 0.8M455.05 220.98l-1.4 0.8" stroke="#333" stroke-width="0.45"/>
<rect x="461.50" y="250.56" width="5.35" height="21.84" fill="#c8102e"/>
<rect x="466.85" y="248.50" width="5.35" height="23.90" fill="#1d4f8e"/>
<rect x="474.00" y="201.54" width="5.35" height="70.86" fill="#c8102e"/>
<rect x="479.35" y="206.89" width="5.35" height="65.51" fill="#1d4f8e"/>
<path d="M346.7 200.3V272.4H486.5" stroke="#231f20" stroke-width="0.8" fill="none"/>
<path d="M344.5 272.40H346.7M344.5 251.80H346.7M344.5 231.20H346.7M344.5 210.60H346.7" stroke="#231f20" stroke-width="0.7"/>
<text x="341.0" y="275.3" font-family="Liberation Sans, sans-serif" font-size="8.3" text-anchor="end" fill="#333" >0.00</text>
<text x="341.0" y="254.7" font-family="Liberation Sans, sans-serif" font-size="8.3" text-anchor="end" fill="#333" >0.05</text>
<text x="341.0" y="234.1" font-family="Liberation Sans, sans-serif" font-size="8.3" text-anchor="end" fill="#333" >0.10</text>
<text x="341.0" y="213.5" font-family="Liberation Sans, sans-serif" font-size="8.3" text-anchor="end" fill="#333" >0.15</text>
<text transform="translate(319.8,236.8) rotate(-90)" font-family="Liberation Sans, sans-serif" font-size="8.6" text-anchor="middle" fill="#2a2a2a" textLength="57" lengthAdjust="spacingAndGlyphs">Percentage of cells</text>
<text transform="translate(356.9,279.3) rotate(-45)" font-family="Liberation Sans, sans-serif" font-size="8" text-anchor="end" fill="#333">LT-HSC.1</text>
<text transform="translate(369.4,279.3) rotate(-45)" font-family="Liberation Sans, sans-serif" font-size="8" text-anchor="end" fill="#333">LT-HSC.2</text>
<text transform="translate(381.9,279.3) rotate(-45)" font-family="Liberation Sans, sans-serif" font-size="8" text-anchor="end" fill="#333">ST-HSC.1</text>
<text transform="translate(394.4,279.3) rotate(-45)" font-family="Liberation Sans, sans-serif" font-size="8" text-anchor="end" fill="#333">ST-HSC.2</text>
<text transform="translate(406.9,279.3) rotate(-45)" font-family="Liberation Sans, sans-serif" font-size="8" text-anchor="end" fill="#333">MPP</text>
<text transform="translate(419.4,279.3) rotate(-45)" font-family="Liberation Sans, sans-serif" font-size="8" text-anchor="end" fill="#333">MKP</text>
<text transform="translate(431.9,279.3) rotate(-45)" font-family="Liberation Sans, sans-serif" font-size="8" text-anchor="end" fill="#333">CMP</text>
<text transform="translate(444.4,279.3) rotate(-45)" font-family="Liberation Sans, sans-serif" font-size="8" text-anchor="end" fill="#333">MEP</text>
<text transform="translate(456.9,279.3) rotate(-45)" font-family="Liberation Sans, sans-serif" font-size="8" text-anchor="end" fill="#333">GMP</text>
<text transform="translate(469.4,279.3) rotate(-45)" font-family="Liberation Sans, sans-serif" font-size="8" text-anchor="end" fill="#333">ERP</text>
<text transform="translate(481.9,279.3) rotate(-45)" font-family="Liberation Sans, sans-serif" font-size="8" text-anchor="end" fill="#333">Ery</text>
<rect x="442.4" y="182.1" width="6.2" height="6.1" fill="#c8102e"/>
<rect x="442.4" y="193.7" width="6.2" height="6.1" fill="#1d4f8e"/>
<text x="451.6" y="187.9" font-family="Liberation Serif, serif" font-size="8" font-style="italic" fill="#333">Nfix<tspan font-size="5.2" dy="-3">+/+</tspan></text>
<text x="451.6" y="199.5" font-family="Liberation Serif, serif" font-size="8" font-style="italic" fill="#333">Nfix<tspan font-size="5.2" dy="-3">Δ/Δ</tspan></text>
<text x="1.3" y="335.8" font-family="Liberation Sans, sans-serif" font-size="12.4" text-anchor="start" fill="#000" font-weight="bold" textLength="7.9" lengthAdjust="spacingAndGlyphs" stroke="#000" stroke-width="0.35">C</text>
<text transform="translate(16.8,396.2) rotate(-90)" font-family="Liberation Sans, sans-serif" font-size="7.0" text-anchor="middle" fill="#333" font-weight="bold" textLength="37" lengthAdjust="spacingAndGlyphs">GSEA for LT-HSC.1</text>
<text transform="translate(27.2,378) rotate(-90)" font-family="Liberation Sans, sans-serif" font-size="7.0" text-anchor="middle" fill="#333" font-weight="bold" textLength="22" lengthAdjust="spacingAndGlyphs">Enrichment</text>
<text transform="translate(35.2,377.7) rotate(-90)" font-family="Liberation Sans, sans-serif" font-size="7.0" text-anchor="middle" fill="#333" font-weight="bold" textLength="10" lengthAdjust="spacingAndGlyphs">score</text>
<text transform="translate(27.2,413.8) rotate(-90)" font-family="Liberation Sans, sans-serif" font-size="7.0" text-anchor="middle" fill="#333" font-weight="bold" textLength="15.5" lengthAdjust="spacingAndGlyphs">Ranked</text>
<text transform="translate(35.2,414.2) rotate(-90)" font-family="Liberation Sans, sans-serif" font-size="7.0" text-anchor="middle" fill="#333" font-weight="bold" textLength="20.5" lengthAdjust="spacingAndGlyphs">list metric</text>
<text transform="translate(16.8,514.2) rotate(-90)" font-family="Liberation Sans, sans-serif" font-size="7.0" text-anchor="middle" fill="#333" font-weight="bold" textLength="37" lengthAdjust="spacingAndGlyphs">GSEA for LT-HSC.2</text>
<text transform="translate(27.2,496) rotate(-90)" font-family="Liberation Sans, sans-serif" font-size="7.0" text-anchor="middle" fill="#333" font-weight="bold" textLength="22" lengthAdjust="spacingAndGlyphs">Enrichment</text>
<text transform="translate(35.2,495.7) rotate(-90)" font-family="Liberation Sans, sans-serif" font-size="7.0" text-anchor="middle" fill="#333" font-weight="bold" textLength="10" lengthAdjust="spacingAndGlyphs">score</text>
<text transform="translate(27.2,531.8) rotate(-90)" font-family="Liberation Sans, sans-serif" font-size="7.0" text-anchor="middle" fill="#333" font-weight="bold" textLength="15.5" lengthAdjust="spacingAndGlyphs">Ranked</text>
<text transform="translate(35.2,532.2) rotate(-90)" font-family="Liberation Sans, sans-serif" font-size="7.0" text-anchor="middle" fill="#333" font-weight="bold" textLength="20.5" lengthAdjust="spacingAndGlyphs">list metric</text>
<rect x="53.7" y="362.2" width="68.60" height="62.80" fill="#fff" stroke="#231f20" stroke-width="0.9"/>
<rect x="53.7" y="392.90" width="68.60" height="1.6" fill="#858585"/>
<defs><linearGradient id="g11" x1="0" x2="1" y1="0" y2="0"><stop offset="0" stop-color="#d41f26"/><stop offset="0.306" stop-color="#dc3a3a"/><stop offset="0.539" stop-color="#e87878"/><stop offset="0.572" stop-color="#9a9ac8"/><stop offset="0.778" stop-color="#5a5aa0"/><stop offset="1" stop-color="#262670"/></linearGradient></defs>
<rect x="54.1" y="397.5" width="67.80" height="4.40" fill="url(#g11)"/>
<path d="M54.2 407.60L121.8 413.00L121.8 415.90L54.2 410.40Z" fill="#c9dbe6"/>
<path d="M91.81 402.4V424.5" stroke="#e4ecf2" stroke-width="0.6"/>
<text x="93.0" y="413.4" font-family="Liberation Sans, sans-serif" font-size="4.9" text-anchor="middle" fill="#333" textLength="30.5" lengthAdjust="spacingAndGlyphs" >Zero cross at 65</text>
<path d="M53.70 367.50L54.29 367.30L54.87 368.31L55.46 368.71L56.05 367.70L56.63 367.90L57.22 367.50L58.00 369.11L58.78 369.52L59.56 370.52L60.35 370.52L61.13 371.74L61.91 372.34L62.69 371.94L63.47 372.74L64.25 372.94L65.43 373.35L66.60 374.96L67.77 375.97L68.94 375.97L70.12 377.18L71.29 377.79L72.46 377.58L73.64 378.59L74.81 379.00L76.37 379.60L77.93 381.42L79.50 382.62L81.06 384.24L82.63 384.64L84.19 385.65L85.36 386.05L86.53 387.67L87.71 388.68L89.07 389.18L90.44 390.89L91.81 392.00L93.18 389.88L94.55 388.98L95.92 387.46L97.09 384.64L98.26 383.03L99.43 380.81L100.61 379.60L101.78 379.60L102.95 379.00L104.12 377.99L105.30 378.19L106.47 377.79L107.64 377.79L108.81 376.57L109.99 375.97L111.16 374.96L112.33 375.16L113.51 374.76L114.29 374.15L115.07 372.34L115.85 371.13L116.63 370.12L117.41 367.90L118.20 366.29L118.78 365.28L119.37 365.48L119.95 365.08L120.54 366.89L121.13 367.50L121.71 368.71L121.91 368.31L122.10 369.11L122.30 369.31" fill="none" stroke="#7cbf3a" stroke-width="0.6"/>
<text x="56.0" y="385.0" font-family="Liberation Sans, sans-serif" font-size="5.0" text-anchor="start" fill="#333" textLength="23.0" lengthAdjust="spacingAndGlyphs" >NES:−2.466</text>
<text x="56.0" y="390.2" font-family="Liberation Sans, sans-serif" font-size="5.0" text-anchor="start" fill="#333" textLength="21.0" lengthAdjust="spacingAndGlyphs" >FDR:0.000</text>
<text x="48.7" y="369.2" font-family="Liberation Sans, sans-serif" font-size="4.8" text-anchor="end" fill="#3a3a3a" >0.0</text>
<text x="48.7" y="381.3" font-family="Liberation Sans, sans-serif" font-size="4.8" text-anchor="end" fill="#3a3a3a" >−0.2</text>
<text x="48.7" y="393.4" font-family="Liberation Sans, sans-serif" font-size="4.8" text-anchor="end" fill="#3a3a3a" >−0.4</text>
<text x="48.7" y="403.3" font-family="Liberation Sans, sans-serif" font-size="4.4" text-anchor="end" fill="#3a3a3a" >1.0</text>
<text x="48.7" y="408.2" font-family="Liberation Sans, sans-serif" font-size="4.4" text-anchor="end" fill="#3a3a3a" >0.5</text>
<text x="48.7" y="413.3" font-family="Liberation Sans, sans-serif" font-size="4.4" text-anchor="end" fill="#3a3a3a" >0.0</text>
<text x="48.7" y="418.4" font-family="Liberation Sans, sans-serif" font-size="4.4" text-anchor="end" fill="#3a3a3a" >−0.5</text>
<text x="48.7" y="423.2" font-family="Liberation Sans, sans-serif" font-size="4.4" text-anchor="end" fill="#3a3a3a" >−1.0</text>
<text x="53.7" y="435.9" font-family="Liberation Sans, sans-serif" font-size="4.8" text-anchor="middle" fill="#3a3a3a" >0</text>
<text x="65.4" y="435.9" font-family="Liberation Sans, sans-serif" font-size="4.8" text-anchor="middle" fill="#3a3a3a" >20</text>
<text x="77.2" y="435.9" font-family="Liberation Sans, sans-serif" font-size="4.8" text-anchor="middle" fill="#3a3a3a" >40</text>
<text x="88.9" y="435.9" font-family="Liberation Sans, sans-serif" font-size="4.8" text-anchor="middle" fill="#3a3a3a" >60</text>
<text x="100.6" y="435.9" font-family="Liberation Sans, sans-serif" font-size="4.8" text-anchor="middle" fill="#3a3a3a" >80</text>
<text x="112.3" y="435.9" font-family="Liberation Sans, sans-serif" font-size="4.8" text-anchor="middle" fill="#3a3a3a" >100</text>
<path d="M50.7 367.50H53.7M50.7 379.60H53.7M50.7 391.70H53.7M53.70 425.0V426.8M65.43 425.0V426.8M77.15 425.0V426.8M88.88 425.0V426.8M100.61 425.0V426.8M112.33 425.0V426.8" stroke="#231f20" stroke-width="0.6"/>
<text x="88.0" y="342.9" font-family="Liberation Sans, sans-serif" font-size="6.4" text-anchor="middle" fill="#231f20" >Macromolecule</text>
<text x="88.0" y="350.6" font-family="Liberation Sans, sans-serif" font-size="6.4" text-anchor="middle" fill="#231f20" >biosynthetic process</text>
<text x="88.0" y="358.0" font-family="Liberation Sans, sans-serif" font-size="6.4" text-anchor="middle" fill="#231f20" >GO:0009059</text>
<rect x="139.6" y="362.2" width="69.80" height="62.80" fill="#fff" stroke="#231f20" stroke-width="0.9"/>
<rect x="139.6" y="392.90" width="69.80" height="1.6" fill="#858585"/>
<defs><linearGradient id="g12" x1="0" x2="1" y1="0" y2="0"><stop offset="0" stop-color="#d41f26"/><stop offset="0.306" stop-color="#dc3a3a"/><stop offset="0.539" stop-color="#e87878"/><stop offset="0.572" stop-color="#9a9ac8"/><stop offset="0.778" stop-color="#5a5aa0"/><stop offset="1" stop-color="#262670"/></linearGradient></defs>
<rect x="140.0" y="397.5" width="69.00" height="4.40" fill="url(#g12)"/>
<path d="M140.1 407.60L208.9 413.00L208.9 415.90L140.1 410.40Z" fill="#c9dbe6"/>
<path d="M178.38 402.4V424.5" stroke="#e4ecf2" stroke-width="0.6"/>
<text x="179.6" y="413.4" font-family="Liberation Sans, sans-serif" font-size="4.9" text-anchor="middle" fill="#333" textLength="30.5" lengthAdjust="spacingAndGlyphs" >Zero cross at 65</text>
<path d="M139.60 364.88L140.40 365.34L141.19 364.42L141.99 364.19L142.78 365.57L143.58 365.57L144.37 366.26L145.17 365.80L145.96 366.72L146.76 366.95L147.95 368.79L149.15 369.25L150.34 370.40L151.53 370.63L152.72 372.24L153.92 373.16L155.11 373.39L156.30 375.00L157.50 375.92L158.69 377.30L159.88 377.30L161.08 377.99L162.27 379.83L163.46 380.29L164.66 381.44L165.85 383.51L167.04 384.20L168.24 385.58L169.43 386.04L170.62 387.88L171.82 389.03L173.01 389.03L174.20 390.41L175.39 391.10L176.59 391.56L177.78 390.64L178.97 390.41L180.17 388.80L181.36 388.57L182.55 387.65L183.75 385.12L184.94 383.97L186.13 382.13L187.33 380.52L188.52 380.29L189.71 379.37L190.91 378.22L192.10 378.45L193.29 377.99L194.49 376.38L195.68 376.15L196.87 375.23L198.06 373.62L199.26 373.39L200.45 372.47L201.25 370.86L202.04 370.63L202.84 369.71L203.63 369.71L204.43 368.33L205.22 367.64L206.02 367.87L206.81 369.48L207.61 370.40L208.21 370.86L208.80 372.70L209.40 373.85" fill="none" stroke="#7cbf3a" stroke-width="0.6"/>
<text x="141.5" y="385.0" font-family="Liberation Sans, sans-serif" font-size="5.0" text-anchor="start" fill="#333" textLength="23.0" lengthAdjust="spacingAndGlyphs" >NES:−1.752</text>
<text x="141.5" y="390.2" font-family="Liberation Sans, sans-serif" font-size="5.0" text-anchor="start" fill="#333" textLength="21.0" lengthAdjust="spacingAndGlyphs" >FDR:0.016</text>
<text x="134.6" y="365.2" font-family="Liberation Sans, sans-serif" font-size="4.8" text-anchor="end" fill="#3a3a3a" >0.1</text>
<text x="134.6" y="372.1" font-family="Liberation Sans, sans-serif" font-size="4.8" text-anchor="end" fill="#3a3a3a" >0.0</text>
<text x="134.6" y="379.0" font-family="Liberation Sans, sans-serif" font-size="4.8" text-anchor="end" fill="#3a3a3a" >−0.1</text>
<text x="134.6" y="385.9" font-family="Liberation Sans, sans-serif" font-size="4.8" text-anchor="end" fill="#3a3a3a" >−0.2</text>
<text x="134.6" y="392.8" font-family="Liberation Sans, sans-serif" font-size="4.8" text-anchor="end" fill="#3a3a3a" >−0.3</text>
<text x="134.6" y="403.3" font-family="Liberation Sans, sans-serif" font-size="4.4" text-anchor="end" fill="#3a3a3a" >1.0</text>
<text x="134.6" y="408.2" font-family="Liberation Sans, sans-serif" font-size="4.4" text-anchor="end" fill="#3a3a3a" >0.5</text>
<text x="134.6" y="413.3" font-family="Liberation Sans, sans-serif" font-size="4.4" text-anchor="end" fill="#3a3a3a" >0.0</text>
<text x="134.6" y="418.4" font-family="Liberation Sans, sans-serif" font-size="4.4" text-anchor="end" fill="#3a3a3a" >−0.5</text>
<text x="134.6" y="423.2" font-family="Liberation Sans, sans-serif" font-size="4.4" text-anchor="end" fill="#3a3a3a" >−1.0</text>
<text x="139.6" y="435.9" font-family="Liberation Sans, sans-serif" font-size="4.8" text-anchor="middle" fill="#3a3a3a" >0</text>
<text x="151.5" y="435.9" font-family="Liberation Sans, sans-serif" font-size="4.8" text-anchor="middle" fill="#3a3a3a" >20</text>
<text x="163.5" y="435.9" font-family="Liberation Sans, sans-serif" font-size="4.8" text-anchor="middle" fill="#3a3a3a" >40</text>
<text x="175.4" y="435.9" font-family="Liberation Sans, sans-serif" font-size="4.8" text-anchor="middle" fill="#3a3a3a" >60</text>
<text x="187.3" y="435.9" font-family="Liberation Sans, sans-serif" font-size="4.8" text-anchor="middle" fill="#3a3a3a" >80</text>
<text x="199.3" y="435.9" font-family="Liberation Sans, sans-serif" font-size="4.8" text-anchor="middle" fill="#3a3a3a" >100</text>
<path d="M136.6 363.50H139.6M136.6 370.40H139.6M136.6 377.30H139.6M136.6 384.20H139.6M136.6 391.10H139.6M139.60 425.0V426.8M151.53 425.0V426.8M163.46 425.0V426.8M175.39 425.0V426.8M187.33 425.0V426.8M199.26 425.0V426.8" stroke="#231f20" stroke-width="0.6"/>
<text x="175.0" y="342.9" font-family="Liberation Sans, sans-serif" font-size="6.4" text-anchor="middle" fill="#231f20" >Cellular</text>
<text x="175.0" y="350.6" font-family="Liberation Sans, sans-serif" font-size="6.4" text-anchor="middle" fill="#231f20" >metabolic process</text>
<text x="175.0" y="358.0" font-family="Liberation Sans, sans-serif" font-size="6.4" text-anchor="middle" fill="#231f20" >GO:0044237</text>
<rect x="226.2" y="362.2" width="69.20" height="62.80" fill="#fff" stroke="#231f20" stroke-width="0.9"/>
<rect x="226.2" y="392.90" width="69.20" height="1.6" fill="#858585"/>
<defs><linearGradient id="g13" x1="0" x2="1" y1="0" y2="0"><stop offset="0" stop-color="#d41f26"/><stop offset="0.306" stop-color="#dc3a3a"/><stop offset="0.539" stop-color="#e87878"/><stop offset="0.572" stop-color="#9a9ac8"/><stop offset="0.778" stop-color="#5a5aa0"/><stop offset="1" stop-color="#262670"/></linearGradient></defs>
<rect x="226.6" y="397.5" width="68.40" height="4.40" fill="url(#g13)"/>
<path d="M226.7 407.60L294.9 413.00L294.9 415.90L226.7 410.40Z" fill="#c9dbe6"/>
<path d="M264.64 402.4V424.5" stroke="#e4ecf2" stroke-width="0.6"/>
<text x="265.8" y="413.4" font-family="Liberation Sans, sans-serif" font-size="4.9" text-anchor="middle" fill="#333" textLength="30.5" lengthAdjust="spacingAndGlyphs" >Zero cross at 65</text>
<path d="M226.20 385.50L227.09 387.72L227.97 388.50L228.86 387.12L229.75 384.30L230.93 384.18L232.11 385.50L233.30 382.68L234.48 381.30L235.66 382.62L236.85 382.50L238.03 379.68L239.21 378.30L240.39 378.18L241.58 379.50L242.76 378.12L243.94 375.30L245.42 372.78L246.90 371.70L247.79 373.02L248.68 372.90L249.86 373.08L251.04 374.70L252.82 371.58L254.59 369.90L256.66 366.18L258.73 363.90L261.69 365.28L264.64 368.10L267.60 369.48L270.56 372.30L273.52 373.98L276.47 377.10L277.95 379.02L279.43 379.50L280.32 378.48L281.21 378.90L283.28 379.98L285.35 382.50L287.71 385.32L290.08 386.70L292.74 389.82L295.40 391.50" fill="none" stroke="#7cbf3a" stroke-width="0.6"/>
<text x="293.0" y="370.3" font-family="Liberation Sans, sans-serif" font-size="5.0" text-anchor="end" fill="#333" textLength="23.0" lengthAdjust="spacingAndGlyphs" >NES:2.327</text>
<text x="293.0" y="375.5" font-family="Liberation Sans, sans-serif" font-size="5.0" text-anchor="end" fill="#333" textLength="21.0" lengthAdjust="spacingAndGlyphs" >FDR:0.000</text>
<text x="221.2" y="369.2" font-family="Liberation Sans, sans-serif" font-size="4.8" text-anchor="end" fill="#3a3a3a" >0.4</text>
<text x="221.2" y="381.2" font-family="Liberation Sans, sans-serif" font-size="4.8" text-anchor="end" fill="#3a3a3a" >0.2</text>
<text x="221.2" y="393.2" font-family="Liberation Sans, sans-serif" font-size="4.8" text-anchor="end" fill="#3a3a3a" >0.0</text>
<text x="221.2" y="403.3" font-family="Liberation Sans, sans-serif" font-size="4.4" text-anchor="end" fill="#3a3a3a" >1.0</text>
<text x="221.2" y="408.2" font-family="Liberation Sans, sans-serif" font-size="4.4" text-anchor="end" fill="#3a3a3a" >0.5</text>
<text x="221.2" y="413.3" font-family="Liberation Sans, sans-serif" font-size="4.4" text-anchor="end" fill="#3a3a3a" >0.0</text>
<text x="221.2" y="418.4" font-family="Liberation Sans, sans-serif" font-size="4.4" text-anchor="end" fill="#3a3a3a" >−0.5</text>
<text x="221.2" y="423.2" font-family="Liberation Sans, sans-serif" font-size="4.4" text-anchor="end" fill="#3a3a3a" >−1.0</text>
<text x="226.2" y="435.9" font-family="Liberation Sans, sans-serif" font-size="4.8" text-anchor="middle" fill="#3a3a3a" >0</text>
<text x="238.0" y="435.9" font-family="Liberation Sans, sans-serif" font-size="4.8" text-anchor="middle" fill="#3a3a3a" >20</text>
<text x="249.9" y="435.9" font-family="Liberation Sans, sans-serif" font-size="4.8" text-anchor="middle" fill="#3a3a3a" >40</text>
<text x="261.7" y="435.9" font-family="Liberation Sans, sans-serif" font-size="4.8" text-anchor="middle" fill="#3a3a3a" >60</text>
<text x="273.5" y="435.9" font-family="Liberation Sans, sans-serif" font-size="4.8" text-anchor="middle" fill="#3a3a3a" >80</text>
<text x="285.3" y="435.9" font-family="Liberation Sans, sans-serif" font-size="4.8" text-anchor="middle" fill="#3a3a3a" >100</text>
<path d="M223.2 367.50H226.2M223.2 379.50H226.2M223.2 391.50H226.2M226.20 425.0V426.8M238.03 425.0V426.8M249.86 425.0V426.8M261.69 425.0V426.8M273.52 425.0V426.8M285.35 425.0V426.8" stroke="#231f20" stroke-width="0.6"/>
<text x="262.0" y="343.0" font-family="Liberation Sans, sans-serif" font-size="6.4" text-anchor="middle" fill="#231f20" >Regulation of</text>
<text x="262.0" y="350.4" font-family="Liberation Sans, sans-serif" font-size="6.4" text-anchor="middle" fill="#231f20" >cell differentiation</text>
<text x="262.0" y="357.8" font-family="Liberation Sans, sans-serif" font-size="6.4" text-anchor="middle" fill="#231f20" >GO:0045595</text>
<rect x="53.3" y="479.8" width="69.70" height="62.90" fill="#fff" stroke="#231f20" stroke-width="0.9"/>
<rect x="53.3" y="510.50" width="69.70" height="1.6" fill="#858585"/>
<defs><linearGradient id="g14" x1="0" x2="1" y1="0" y2="0"><stop offset="0" stop-color="#d41f26"/><stop offset="0.359" stop-color="#dc3a3a"/><stop offset="0.632" stop-color="#e87878"/><stop offset="0.671" stop-color="#9a9ac8"/><stop offset="0.826" stop-color="#5a5aa0"/><stop offset="1" stop-color="#262670"/></linearGradient></defs>
<rect x="53.699999999999996" y="514.9" width="68.90" height="4.10" fill="url(#g14)"/>
<path d="M53.8 525.50L122.5 530.90L122.5 533.80L53.8 528.30Z" fill="#c9dbe6"/>
<path d="M98.73 519.5V542.2" stroke="#e4ecf2" stroke-width="0.6"/>
<text x="99.9" y="531.3" font-family="Liberation Sans, sans-serif" font-size="4.9" text-anchor="middle" fill="#333" textLength="30.5" lengthAdjust="spacingAndGlyphs" >Zero cross at 88</text>
<path d="M53.30 505.01L53.82 505.74L54.33 508.02L54.85 509.53L55.37 505.53L55.88 503.07L56.40 499.85L56.91 496.50L57.43 494.69L57.95 492.11L58.46 493.31L58.98 492.97L59.50 493.40L60.18 491.55L60.87 491.25L61.56 490.18L62.25 489.83L62.94 491.04L63.63 491.47L64.66 489.19L65.69 488.46L66.72 486.95L67.76 486.86L68.79 485.23L69.82 484.37L70.85 482.74L71.89 482.65L72.92 481.79L73.61 481.45L74.30 482.65L74.98 483.08L75.67 481.66L76.36 481.79L77.05 481.14L78.08 481.23L79.11 482.87L80.15 483.73L81.18 483.60L82.21 485.01L83.25 485.66L84.62 485.32L86.00 486.52L87.38 486.95L88.75 486.18L90.13 486.95L91.51 486.95L92.54 486.61L93.57 487.81L94.60 488.24L95.64 486.18L96.67 485.66L97.70 484.37L98.73 483.81L99.77 484.80L100.80 485.01L102.18 487.51L103.55 488.46L104.93 490.18L106.65 491.55L108.37 494.48L110.09 496.62L111.81 497.57L113.53 500.06L115.26 501.79L116.29 502.09L117.32 503.94L118.35 505.01L119.04 503.38L119.73 503.29L120.42 502.43L121.28 503.85L122.14 503.72L123.00 504.37" fill="none" stroke="#7cbf3a" stroke-width="0.6"/>
<text x="120.5" y="485.8" font-family="Liberation Sans, sans-serif" font-size="5.0" text-anchor="end" fill="#333" textLength="23.0" lengthAdjust="spacingAndGlyphs" >NES:1.887</text>
<text x="120.5" y="491.0" font-family="Liberation Sans, sans-serif" font-size="5.0" text-anchor="end" fill="#333" textLength="21.0" lengthAdjust="spacingAndGlyphs" >FDR:0.007</text>
<text x="48.3" y="482.2" font-family="Liberation Sans, sans-serif" font-size="4.8" text-anchor="end" fill="#3a3a3a" >0.4</text>
<text x="48.3" y="495.1" font-family="Liberation Sans, sans-serif" font-size="4.8" text-anchor="end" fill="#3a3a3a" >0.2</text>
<text x="48.3" y="508.0" font-family="Liberation Sans, sans-serif" font-size="4.8" text-anchor="end" fill="#3a3a3a" >0.0</text>
<text x="48.3" y="521.2" font-family="Liberation Sans, sans-serif" font-size="4.4" text-anchor="end" fill="#3a3a3a" >1.0</text>
<text x="48.3" y="526.4" font-family="Liberation Sans, sans-serif" font-size="4.4" text-anchor="end" fill="#3a3a3a" >0.5</text>
<text x="48.3" y="531.2" font-family="Liberation Sans, sans-serif" font-size="4.4" text-anchor="end" fill="#3a3a3a" >0.0</text>
<text x="48.3" y="536.6" font-family="Liberation Sans, sans-serif" font-size="4.4" text-anchor="end" fill="#3a3a3a" >−0.5</text>
<text x="48.3" y="541.8" font-family="Liberation Sans, sans-serif" font-size="4.4" text-anchor="end" fill="#3a3a3a" >−1.0</text>
<text x="53.3" y="552.9" font-family="Liberation Sans, sans-serif" font-size="4.8" text-anchor="middle" fill="#3a3a3a" >0</text>
<text x="63.6" y="552.9" font-family="Liberation Sans, sans-serif" font-size="4.8" text-anchor="middle" fill="#3a3a3a" >20</text>
<text x="74.0" y="552.9" font-family="Liberation Sans, sans-serif" font-size="4.8" text-anchor="middle" fill="#3a3a3a" >40</text>
<text x="84.3" y="552.9" font-family="Liberation Sans, sans-serif" font-size="4.8" text-anchor="middle" fill="#3a3a3a" >60</text>
<text x="94.6" y="552.9" font-family="Liberation Sans, sans-serif" font-size="4.8" text-anchor="middle" fill="#3a3a3a" >80</text>
<text x="104.9" y="552.9" font-family="Liberation Sans, sans-serif" font-size="4.8" text-anchor="middle" fill="#3a3a3a" >100</text>
<text x="115.3" y="552.9" font-family="Liberation Sans, sans-serif" font-size="4.8" text-anchor="middle" fill="#3a3a3a" >120</text>
<path d="M50.3 480.50H53.3M50.3 493.40H53.3M50.3 506.30H53.3M53.30 542.7V544.5M63.63 542.7V544.5M73.95 542.7V544.5M84.28 542.7V544.5M94.60 542.7V544.5M104.93 542.7V544.5M115.26 542.7V544.5" stroke="#231f20" stroke-width="0.6"/>
<text x="88.5" y="467.4" font-family="Liberation Sans, sans-serif" font-size="6.4" text-anchor="middle" fill="#231f20" >Cell differentiation</text>
<text x="88.5" y="474.8" font-family="Liberation Sans, sans-serif" font-size="6.4" text-anchor="middle" fill="#231f20" >GO:0030154</text>
<rect x="139.6" y="479.8" width="68.90" height="62.90" fill="#fff" stroke="#231f20" stroke-width="0.9"/>
<rect x="139.6" y="510.50" width="68.90" height="1.6" fill="#858585"/>
<defs><linearGradient id="g15" x1="0" x2="1" y1="0" y2="0"><stop offset="0" stop-color="#d41f26"/><stop offset="0.359" stop-color="#dc3a3a"/><stop offset="0.632" stop-color="#e87878"/><stop offset="0.671" stop-color="#9a9ac8"/><stop offset="0.826" stop-color="#5a5aa0"/><stop offset="1" stop-color="#262670"/></linearGradient></defs>
<rect x="140.0" y="514.9" width="68.10" height="4.10" fill="url(#g15)"/>
<path d="M140.1 525.50L208.0 530.90L208.0 533.80L140.1 528.30Z" fill="#c9dbe6"/>
<path d="M184.51 519.5V542.2" stroke="#e4ecf2" stroke-width="0.6"/>
<text x="185.7" y="531.3" font-family="Liberation Sans, sans-serif" font-size="4.9" text-anchor="middle" fill="#333" textLength="30.5" lengthAdjust="spacingAndGlyphs" >Zero cross at 88</text>
<path d="M139.60 504.90L140.11 505.42L140.62 507.50L141.13 508.80L141.81 506.07L142.49 504.90L143.17 502.95L144.02 500.00L144.87 498.62L145.72 496.45L146.75 494.63L147.77 491.25L148.79 488.65L149.47 488.35L150.15 486.48L150.83 485.40L151.85 484.40L152.87 484.97L153.89 484.75L154.91 483.54L155.93 483.88L156.95 483.45L157.97 484.45L158.99 483.88L160.01 484.10L161.04 484.45L162.06 483.23L163.08 482.80L164.10 481.59L165.12 481.93L166.14 481.50L166.82 480.94L167.50 481.93L168.18 482.15L169.20 483.15L170.22 482.58L171.24 482.80L172.26 482.67L173.28 484.10L174.31 484.75L175.33 485.05L176.35 486.92L177.37 488.00L178.39 488.09L179.41 489.73L180.43 490.60L181.11 490.25L181.79 491.47L182.47 491.90L183.15 490.47L183.83 490.60L184.51 489.95L185.87 490.25L187.23 492.12L188.60 493.20L189.96 493.94L191.32 496.23L192.68 497.75L194.04 500.05L195.40 500.78L196.76 502.30L197.78 502.82L198.80 504.90L199.82 506.20L200.84 506.55L201.87 505.33L202.89 504.90L203.91 504.77L204.93 506.20L205.95 506.85L206.80 507.41L207.65 506.42L208.50 506.20" fill="none" stroke="#7cbf3a" stroke-width="0.6"/>
<text x="206.5" y="485.8" font-family="Liberation Sans, sans-serif" font-size="5.0" text-anchor="end" fill="#333" textLength="23.0" lengthAdjust="spacingAndGlyphs" >NES:2.111</text>
<text x="206.5" y="491.0" font-family="Liberation Sans, sans-serif" font-size="5.0" text-anchor="end" fill="#333" textLength="21.0" lengthAdjust="spacingAndGlyphs" >FDR:0.010</text>
<text x="134.6" y="481.9" font-family="Liberation Sans, sans-serif" font-size="4.8" text-anchor="end" fill="#3a3a3a" >0.4</text>
<text x="134.6" y="488.4" font-family="Liberation Sans, sans-serif" font-size="4.8" text-anchor="end" fill="#3a3a3a" >0.3</text>
<text x="134.6" y="494.9" font-family="Liberation Sans, sans-serif" font-size="4.8" text-anchor="end" fill="#3a3a3a" >0.2</text>
<text x="134.6" y="501.4" font-family="Liberation Sans, sans-serif" font-size="4.8" text-anchor="end" fill="#3a3a3a" >0.1</text>
<text x="134.6" y="507.9" font-family="Liberation Sans, sans-serif" font-size="4.8" text-anchor="end" fill="#3a3a3a" >0.0</text>
<text x="134.6" y="521.2" font-family="Liberation Sans, sans-serif" font-size="4.4" text-anchor="end" fill="#3a3a3a" >1.0</text>
<text x="134.6" y="526.4" font-family="Liberation Sans, sans-serif" font-size="4.4" text-anchor="end" fill="#3a3a3a" >0.5</text>
<text x="134.6" y="531.2" font-family="Liberation Sans, sans-serif" font-size="4.4" text-anchor="end" fill="#3a3a3a" >0.0</text>
<text x="134.6" y="536.6" font-family="Liberation Sans, sans-serif" font-size="4.4" text-anchor="end" fill="#3a3a3a" >−0.5</text>
<text x="134.6" y="541.8" font-family="Liberation Sans, sans-serif" font-size="4.4" text-anchor="end" fill="#3a3a3a" >−1.0</text>
<text x="139.6" y="552.9" font-family="Liberation Sans, sans-serif" font-size="4.8" text-anchor="middle" fill="#3a3a3a" >0</text>
<text x="149.8" y="552.9" font-family="Liberation Sans, sans-serif" font-size="4.8" text-anchor="middle" fill="#3a3a3a" >20</text>
<text x="160.0" y="552.9" font-family="Liberation Sans, sans-serif" font-size="4.8" text-anchor="middle" fill="#3a3a3a" >40</text>
<text x="170.2" y="552.9" font-family="Liberation Sans, sans-serif" font-size="4.8" text-anchor="middle" fill="#3a3a3a" >60</text>
<text x="180.4" y="552.9" font-family="Liberation Sans, sans-serif" font-size="4.8" text-anchor="middle" fill="#3a3a3a" >80</text>
<text x="190.6" y="552.9" font-family="Liberation Sans, sans-serif" font-size="4.8" text-anchor="middle" fill="#3a3a3a" >100</text>
<text x="200.8" y="552.9" font-family="Liberation Sans, sans-serif" font-size="4.8" text-anchor="middle" fill="#3a3a3a" >120</text>
<path d="M136.6 480.20H139.6M136.6 486.70H139.6M136.6 493.20H139.6M136.6 499.70H139.6M136.6 506.20H139.6M139.60 542.7V544.5M149.81 542.7V544.5M160.01 542.7V544.5M170.22 542.7V544.5M180.43 542.7V544.5M190.64 542.7V544.5M200.84 542.7V544.5" stroke="#231f20" stroke-width="0.6"/>
<text x="174.5" y="460.2" font-family="Liberation Sans, sans-serif" font-size="6.4" text-anchor="middle" fill="#231f20" >Regulation of cell</text>
<text x="174.5" y="466.8" font-family="Liberation Sans, sans-serif" font-size="6.4" text-anchor="middle" fill="#231f20" >population proliferation</text>
<text x="174.5" y="474.2" font-family="Liberation Sans, sans-serif" font-size="6.4" text-anchor="middle" fill="#231f20" >GO:0042127</text>
<rect x="226.2" y="479.8" width="69.20" height="62.90" fill="#fff" stroke="#231f20" stroke-width="0.9"/>
<rect x="226.2" y="510.50" width="69.20" height="1.6" fill="#858585"/>
<defs><linearGradient id="g16" x1="0" x2="1" y1="0" y2="0"><stop offset="0" stop-color="#d41f26"/><stop offset="0.359" stop-color="#dc3a3a"/><stop offset="0.632" stop-color="#e87878"/><stop offset="0.671" stop-color="#9a9ac8"/><stop offset="0.826" stop-color="#5a5aa0"/><stop offset="1" stop-color="#262670"/></linearGradient></defs>
<rect x="226.6" y="514.9" width="68.40" height="4.10" fill="url(#g16)"/>
<path d="M226.7 525.50L294.9 530.90L294.9 533.80L226.7 528.30Z" fill="#c9dbe6"/>
<path d="M271.31 519.5V542.2" stroke="#e4ecf2" stroke-width="0.6"/>
<text x="272.5" y="531.3" font-family="Liberation Sans, sans-serif" font-size="4.9" text-anchor="middle" fill="#333" textLength="30.5" lengthAdjust="spacingAndGlyphs" >Zero cross at 88</text>
<path d="M226.20 506.36L226.88 504.54L227.57 504.44L228.25 503.48L229.28 500.70L230.30 499.64L231.33 497.72L232.35 495.66L233.38 495.32L234.40 494.12L235.08 491.82L235.77 491.24L236.45 489.80L237.14 487.98L237.82 487.88L238.50 486.92L239.19 486.78L239.87 488.36L240.55 489.08L241.24 487.74L241.92 488.12L242.60 487.64L243.29 487.02L243.97 488.12L244.65 488.36L245.34 487.74L246.02 488.84L246.70 489.08L247.73 488.98L248.75 487.16L249.78 486.20L250.80 486.10L251.83 484.28L252.85 483.32L253.54 481.98L254.22 482.36L254.91 481.88L255.59 483.46L256.27 483.32L256.96 484.04L257.98 483.18L259.01 484.04L260.03 484.04L261.06 483.66L262.08 485.00L263.11 485.48L264.13 485.10L265.16 486.44L266.18 486.92L267.21 488.74L268.23 488.84L269.26 489.80L270.62 491.86L271.99 492.20L273.36 493.40L274.73 494.22L276.09 496.76L277.46 498.44L278.83 499.02L280.19 501.32L281.56 502.76L282.59 502.62L283.61 504.20L284.64 504.92L285.66 506.26L286.69 505.88L287.71 506.36L288.74 507.70L289.76 507.32L290.79 507.80L291.47 506.22L292.15 506.36L292.84 505.64L293.69 505.50L294.55 507.08L295.40 507.80" fill="none" stroke="#7cbf3a" stroke-width="0.6"/>
<text x="293.0" y="485.8" font-family="Liberation Sans, sans-serif" font-size="5.0" text-anchor="end" fill="#333" textLength="23.0" lengthAdjust="spacingAndGlyphs" >NES:2.685</text>
<text x="293.0" y="491.0" font-family="Liberation Sans, sans-serif" font-size="5.0" text-anchor="end" fill="#333" textLength="21.0" lengthAdjust="spacingAndGlyphs" >FDR:0.000</text>
<text x="221.2" y="487.9" font-family="Liberation Sans, sans-serif" font-size="4.8" text-anchor="end" fill="#3a3a3a" >0.3</text>
<text x="221.2" y="495.1" font-family="Liberation Sans, sans-serif" font-size="4.8" text-anchor="end" fill="#3a3a3a" >0.2</text>
<text x="221.2" y="502.3" font-family="Liberation Sans, sans-serif" font-size="4.8" text-anchor="end" fill="#3a3a3a" >0.1</text>
<text x="221.2" y="509.5" font-family="Liberation Sans, sans-serif" font-size="4.8" text-anchor="end" fill="#3a3a3a" >0.0</text>
<text x="221.2" y="521.2" font-family="Liberation Sans, sans-serif" font-size="4.4" text-anchor="end" fill="#3a3a3a" >1.0</text>
<text x="221.2" y="526.4" font-family="Liberation Sans, sans-serif" font-size="4.4" text-anchor="end" fill="#3a3a3a" >0.5</text>
<text x="221.2" y="531.2" font-family="Liberation Sans, sans-serif" font-size="4.4" text-anchor="end" fill="#3a3a3a" >0.0</text>
<text x="221.2" y="536.6" font-family="Liberation Sans, sans-serif" font-size="4.4" text-anchor="end" fill="#3a3a3a" >−0.5</text>
<text x="221.2" y="541.8" font-family="Liberation Sans, sans-serif" font-size="4.4" text-anchor="end" fill="#3a3a3a" >−1.0</text>
<text x="226.2" y="552.9" font-family="Liberation Sans, sans-serif" font-size="4.8" text-anchor="middle" fill="#3a3a3a" >0</text>
<text x="236.5" y="552.9" font-family="Liberation Sans, sans-serif" font-size="4.8" text-anchor="middle" fill="#3a3a3a" >20</text>
<text x="246.7" y="552.9" font-family="Liberation Sans, sans-serif" font-size="4.8" text-anchor="middle" fill="#3a3a3a" >40</text>
<text x="257.0" y="552.9" font-family="Liberation Sans, sans-serif" font-size="4.8" text-anchor="middle" fill="#3a3a3a" >60</text>
<text x="267.2" y="552.9" font-family="Liberation Sans, sans-serif" font-size="4.8" text-anchor="middle" fill="#3a3a3a" >80</text>
<text x="277.5" y="552.9" font-family="Liberation Sans, sans-serif" font-size="4.8" text-anchor="middle" fill="#3a3a3a" >100</text>
<text x="287.7" y="552.9" font-family="Liberation Sans, sans-serif" font-size="4.8" text-anchor="middle" fill="#3a3a3a" >120</text>
<path d="M223.2 486.20H226.2M223.2 493.40H226.2M223.2 500.60H226.2M223.2 507.80H226.2M226.20 542.7V544.5M236.45 542.7V544.5M246.70 542.7V544.5M256.96 542.7V544.5M267.21 542.7V544.5M277.46 542.7V544.5M287.71 542.7V544.5" stroke="#231f20" stroke-width="0.6"/>
<text x="261.5" y="466.8" font-family="Liberation Sans, sans-serif" font-size="6.4" text-anchor="middle" fill="#231f20" >Response to stimulus</text>
<text x="261.5" y="474.2" font-family="Liberation Sans, sans-serif" font-size="6.4" text-anchor="middle" fill="#231f20" >GO:0050896</text>
<text x="174.6" y="445.2" font-family="Liberation Sans, sans-serif" font-size="6.8" text-anchor="middle" fill="#2a2a2a" font-weight="bold" textLength="47.5" lengthAdjust="spacingAndGlyphs" >Rank in ordered dataset</text>
<text x="174.3" y="562.0" font-family="Liberation Sans, sans-serif" font-size="6.8" text-anchor="middle" fill="#2a2a2a" font-weight="bold" textLength="47.5" lengthAdjust="spacingAndGlyphs" >Rank in ordered dataset</text>
<defs><radialGradient id="c_yel" cx="0.42" cy="0.38" r="0.64"><stop offset="0" stop-color="#fbe2a0"/><stop offset="0.7" stop-color="#eebb55"/><stop offset="1" stop-color="#eebb55" stop-opacity="0.75"/></radialGradient><radialGradient id="c_teal" cx="0.42" cy="0.38" r="0.64"><stop offset="0" stop-color="#b8ece0"/><stop offset="0.7" stop-color="#4cbfa6"/><stop offset="1" stop-color="#4cbfa6" stop-opacity="0.75"/></radialGradient><radialGradient id="c_cyan" cx="0.42" cy="0.38" r="0.64"><stop offset="0" stop-color="#c4eef8"/><stop offset="0.7" stop-color="#52bce0"/><stop offset="1" stop-color="#52bce0" stop-opacity="0.75"/></radialGradient><radialGradient id="c_blue" cx="0.42" cy="0.38" r="0.64"><stop offset="0" stop-color="#cce4f8"/><stop offset="0.7" stop-color="#78b6e8"/><stop offset="1" stop-color="#78b6e8" stop-opacity="0.75"/></radialGradient><radialGradient id="c_green" cx="0.42" cy="0.38" r="0.64"><stop offset="0" stop-color="#d4f0c4"/><stop offset="0.7" stop-color="#84c874"/><stop offset="1" stop-color="#84c874" stop-opacity="0.75"/></radialGradient><radialGradient id="c_mep" cx="0.42" cy="0.38" r="0.64"><stop offset="0" stop-color="#b4eaea"/><stop offset="0.7" stop-color="#52bfbf"/><stop offset="1" stop-color="#52bfbf" stop-opacity="0.75"/></radialGradient><radialGradient id="c_orange" cx="0.42" cy="0.38" r="0.64"><stop offset="0" stop-color="#fdd8ae"/><stop offset="0.7" stop-color="#f6a85a"/><stop offset="1" stop-color="#f6a85a" stop-opacity="0.75"/></radialGradient><radialGradient id="c_gmp" cx="0.42" cy="0.38" r="0.64"><stop offset="0" stop-color="#e6f4c4"/><stop offset="0.7" stop-color="#aed47a"/><stop offset="1" stop-color="#aed47a" stop-opacity="0.75"/></radialGradient><radialGradient id="c_erp" cx="0.42" cy="0.38" r="0.64"><stop offset="0" stop-color="#b4e2c8"/><stop offset="0.7" stop-color="#52b482"/><stop offset="1" stop-color="#52b482" stop-opacity="0.75"/></radialGradient><radialGradient id="c_ery" cx="0.42" cy="0.38" r="0.64"><stop offset="0" stop-color="#fdd8d0"/><stop offset="0.7" stop-color="#f2a098"/><stop offset="1" stop-color="#f2a098" stop-opacity="0.75"/></radialGradient><filter id="glow" x="-50%" y="-50%" width="200%" height="200%"><feGaussianBlur stdDeviation="2.2"/></filter><filter id="cb2" x="-20%" y="-20%" width="140%" height="140%"><feGaussianBlur stdDeviation="0.35"/></filter><marker id="ah" viewBox="0 0 10 10" refX="9" refY="5" markerWidth="4.6" markerHeight="4.6" orient="auto-start-reverse" markerUnits="userSpaceOnUse"><path d="M0 0.5L10 5L0 9.5L2.2 5Z" fill="#111"/></marker></defs>
<text x="309.3" y="335.9" font-family="Liberation Sans, sans-serif" font-size="11.3" text-anchor="start" fill="#000" font-weight="bold" stroke="#000" stroke-width="0.35">D</text>
<text x="339.6" y="345.6" font-family="Liberation Sans, sans-serif" font-size="6.8" font-style="italic" fill="#333">Nfix<tspan font-size="4.4" dy="-2.6">+/+</tspan></text>
<text x="447.0" y="345.6" font-family="Liberation Sans, sans-serif" font-size="6.8" font-style="italic" fill="#333">Nfix<tspan font-size="4.4" dy="-2.6">Δ/Δ</tspan></text>
<text x="412.6" y="351.0" font-family="Liberation Sans, sans-serif" font-size="6.3" text-anchor="middle" fill="#333" >HSC pool</text>
<text x="412.6" y="358.8" font-family="Liberation Sans, sans-serif" font-size="6.3" text-anchor="middle" fill="#333" >heterogeneity</text>
<text x="412.6" y="366.5" font-family="Liberation Sans, sans-serif" font-size="6.3" text-anchor="middle" fill="#333" >(LT-HSC.</text>
<text x="412.6" y="374.2" font-family="Liberation Sans, sans-serif" font-size="6.3" text-anchor="middle" fill="#333" >1/LT-HSC.2)</text>
<text x="412.6" y="393.2" font-family="Liberation Sans, sans-serif" font-size="6.3" text-anchor="middle" fill="#333" >HSC pool</text>
<text x="412.6" y="400.9" font-family="Liberation Sans, sans-serif" font-size="6.3" text-anchor="middle" fill="#333" >heterogeneity</text>
<text x="412.6" y="408.7" font-family="Liberation Sans, sans-serif" font-size="6.3" text-anchor="middle" fill="#333" >(ST-HSC.</text>
<text x="412.6" y="416.4" font-family="Liberation Sans, sans-serif" font-size="6.3" text-anchor="middle" fill="#333" >1/ST-HSC.2)</text>
<circle cx="347.5" cy="360.0" r="11" fill="#fbe6a8" opacity="0.55" filter="url(#glow)"/>
<circle cx="348.0" cy="398.5" r="11" fill="#fbeec0" opacity="0.5" filter="url(#glow)"/>
<circle cx="345.4" cy="354.6" r="4.4" fill="url(#c_yel)" filter="url(#cb2)"/>
<circle cx="341.2" cy="361.9" r="4.4" fill="url(#c_yel)" filter="url(#cb2)"/>
<circle cx="353.1" cy="356.5" r="4.4" fill="url(#c_teal)" filter="url(#cb2)"/>
<circle cx="349.2" cy="364.6" r="4.4" fill="url(#c_teal)" filter="url(#cb2)"/>
<circle cx="342.7" cy="395.7" r="4.2" fill="url(#c_cyan)" filter="url(#cb2)"/>
<circle cx="346.5" cy="398.0" r="3.8" fill="url(#c_ery)" filter="url(#cb2)"/>
<circle cx="349.6" cy="393.8" r="4.2" fill="url(#c_yel)" filter="url(#cb2)"/>
<circle cx="345.0" cy="403.4" r="4.2" fill="url(#c_yel)" filter="url(#cb2)"/>
<circle cx="353.1" cy="401.0" r="4.4" fill="url(#c_cyan)" filter="url(#cb2)"/>
<circle cx="454.8" cy="360.0" r="11" fill="#fbe6a8" opacity="0.55" filter="url(#glow)"/>
<circle cx="454.8" cy="398.3" r="11" fill="#fbeec0" opacity="0.5" filter="url(#glow)"/>
<circle cx="448.5" cy="359.2" r="4.4" fill="url(#c_yel)" filter="url(#cb2)"/>
<circle cx="456.2" cy="356.5" r="4.4" fill="url(#c_teal)" filter="url(#cb2)"/>
<circle cx="460.8" cy="359.2" r="4.4" fill="url(#c_teal)" filter="url(#cb2)"/>
<circle cx="452.4" cy="364.2" r="4.4" fill="url(#c_teal)" filter="url(#cb2)"/>
<circle cx="457.8" cy="361.5" r="4.0" fill="url(#c_teal)" filter="url(#cb2)"/>
<circle cx="450.1" cy="395.7" r="4.2" fill="url(#c_cyan)" filter="url(#cb2)"/>
<circle cx="457.8" cy="393.0" r="4.2" fill="url(#c_yel)" filter="url(#cb2)"/>
<circle cx="452.4" cy="403.4" r="4.2" fill="url(#c_yel)" filter="url(#cb2)"/>
<circle cx="459.3" cy="400.3" r="4.4" fill="url(#c_cyan)" filter="url(#cb2)"/>
<path d="M348.6 371.2L348.6 384.2" stroke="#111" stroke-width="1.15" marker-end="url(#ah)"/>
<path d="M348.6 409.2L348.6 423.5" stroke="#111" stroke-width="1.15" marker-end="url(#ah)"/>
<path d="M360.8 360.8H379.2V447.8" stroke="#111" stroke-width="1.1" fill="none" marker-end="url(#ah)"/>
<path d="M343.4 446.0L343.4 460.2" stroke="#111" stroke-width="1.15" marker-end="url(#ah)"/>
<path d="M360.3 444.6L370.8 454.6" stroke="#111" stroke-width="1.15" marker-end="url(#ah)"/>
<path d="M334.0 482.0L334.0 495.8" stroke="#111" stroke-width="1.15" marker-end="url(#ah)"/>
<path d="M348.5 485.0L348.5 499.5" stroke="#111" stroke-width="1.15" marker-end="url(#ah)"/>
<path d="M357.7 479.2L368.7 489.8" stroke="#111" stroke-width="1.15" marker-end="url(#ah)"/>
<path d="M386.3 508.0L386.3 522.6" stroke="#111" stroke-width="1.15" marker-end="url(#ah)"/>
<path d="M454.2 371.3L454.2 385.9" stroke="#111" stroke-width="1.15" marker-end="url(#ah)"/>
<path d="M454.2 410.8L454.2 423.5" stroke="#111" stroke-width="1.15" marker-end="url(#ah)"/>
<path d="M466.3 359.8H485.4V446.2" stroke="#111" stroke-width="1.1" fill="none" marker-end="url(#ah)"/>
<path d="M450.2 443.0L450.2 458.6" stroke="#111" stroke-width="1.15" marker-end="url(#ah)"/>
<path d="M462.3 440.2L472.3 449.8" stroke="#111" stroke-width="1.15" marker-end="url(#ah)"/>
<path d="M438.8 484.4L438.8 498.9" stroke="#111" stroke-width="1.15" marker-end="url(#ah)"/>
<path d="M447.9 484.4L447.9 498.9" stroke="#111" stroke-width="1.15" marker-end="url(#ah)"/>
<path d="M457.5 480.6L467.1 490.2" stroke="#111" stroke-width="1.15" marker-end="url(#ah)"/>
<path d="M485.8 509.2L485.8 523.8" stroke="#111" stroke-width="1.15" marker-end="url(#ah)"/>
<circle cx="348.5" cy="429.0" r="4.2" fill="url(#c_blue)" filter="url(#cb2)"/>
<circle cx="344.6" cy="439.0" r="4.2" fill="url(#c_blue)" filter="url(#cb2)"/>
<circle cx="357.7" cy="433.0" r="4.2" fill="url(#c_blue)" filter="url(#cb2)"/>
<circle cx="351.5" cy="440.8" r="4.2" fill="url(#c_blue)" filter="url(#cb2)"/>
<circle cx="355.0" cy="437.5" r="4.2" fill="url(#c_blue)" filter="url(#cb2)"/>
<circle cx="379.2" cy="459.2" r="4.3" fill="url(#c_green)" filter="url(#cb2)"/>
<circle cx="375.4" cy="468.5" r="4.3" fill="url(#c_green)" filter="url(#cb2)"/>
<circle cx="335.0" cy="473.5" r="4.2" fill="url(#c_mep)" filter="url(#cb2)"/>
<circle cx="343.7" cy="479.2" r="4.2" fill="url(#c_mep)" filter="url(#cb2)"/>
<circle cx="325.4" cy="503.3" r="4.2" fill="url(#c_orange)" filter="url(#cb2)"/>
<circle cx="337.0" cy="507.0" r="4.2" fill="url(#c_orange)" filter="url(#cb2)"/>
<circle cx="329.2" cy="510.4" r="4.2" fill="url(#c_orange)" filter="url(#cb2)"/>
<circle cx="355.2" cy="509.0" r="4.2" fill="url(#c_gmp)" filter="url(#cb2)"/>
<circle cx="362.0" cy="515.4" r="4.2" fill="url(#c_gmp)" filter="url(#cb2)"/>
<circle cx="350.4" cy="519.6" r="4.2" fill="url(#c_gmp)" filter="url(#cb2)"/>
<circle cx="384.0" cy="497.5" r="4.2" fill="url(#c_erp)" filter="url(#cb2)"/>
<circle cx="382.0" cy="533.0" r="4.2" fill="url(#c_ery)" filter="url(#cb2)"/>
<circle cx="391.7" cy="534.0" r="4.2" fill="url(#c_ery)" filter="url(#cb2)"/>
<circle cx="386.0" cy="540.8" r="4.2" fill="url(#c_ery)" filter="url(#cb2)"/>
<circle cx="455.6" cy="432.5" r="4.3" fill="url(#c_blue)" filter="url(#cb2)"/>
<circle cx="479.6" cy="455.6" r="4.3" fill="url(#c_green)" filter="url(#cb2)"/>
<circle cx="490.2" cy="453.7" r="4.3" fill="url(#c_green)" filter="url(#cb2)"/>
<circle cx="499.8" cy="459.4" r="4.3" fill="url(#c_green)" filter="url(#cb2)"/>
<circle cx="492.1" cy="461.3" r="4.3" fill="url(#c_green)" filter="url(#cb2)"/>
<circle cx="475.8" cy="465.2" r="4.3" fill="url(#c_green)" filter="url(#cb2)"/>
<circle cx="485.4" cy="466.2" r="4.3" fill="url(#c_green)" filter="url(#cb2)"/>
<circle cx="481.5" cy="472.9" r="4.3" fill="url(#c_green)" filter="url(#cb2)"/>
<circle cx="492.1" cy="471.5" r="4.3" fill="url(#c_green)" filter="url(#cb2)"/>
<circle cx="486.5" cy="459.5" r="4.3" fill="url(#c_green)" filter="url(#cb2)"/>
<circle cx="430.6" cy="470.4" r="4.2" fill="url(#c_mep)" filter="url(#cb2)"/>
<circle cx="441.2" cy="471.5" r="4.2" fill="url(#c_mep)" filter="url(#cb2)"/>
<circle cx="436.3" cy="475.4" r="4.2" fill="url(#c_mep)" filter="url(#cb2)"/>
<circle cx="432.5" cy="481.5" r="4.2" fill="url(#c_mep)" filter="url(#cb2)"/>
<circle cx="443.0" cy="480.6" r="4.2" fill="url(#c_mep)" filter="url(#cb2)"/>
<circle cx="451.7" cy="476.7" r="4.2" fill="url(#c_mep)" filter="url(#cb2)"/>
<circle cx="446.5" cy="475.0" r="4.2" fill="url(#c_mep)" filter="url(#cb2)"/>
<circle cx="437.3" cy="508.3" r="4.2" fill="url(#c_orange)" filter="url(#cb2)"/>
<circle cx="430.6" cy="516.0" r="4.2" fill="url(#c_orange)" filter="url(#cb2)"/>
<circle cx="455.6" cy="510.2" r="4.3" fill="url(#c_gmp)" filter="url(#cb2)"/>
<circle cx="483.5" cy="498.7" r="4.3" fill="url(#c_erp)" filter="url(#cb2)"/>
<circle cx="482.0" cy="535.2" r="4.3" fill="url(#c_ery)" filter="url(#cb2)"/>
<circle cx="490.2" cy="540.4" r="4.3" fill="url(#c_ery)" filter="url(#cb2)"/>
<text x="335.7" y="433.2" font-family="Liberation Sans, sans-serif" font-size="6.6" text-anchor="middle" fill="#333" >MPP</text>
<text x="364.6" y="465.4" font-family="Liberation Sans, sans-serif" font-size="6.6" text-anchor="middle" fill="#333" >MKP</text>
<text x="348.8" y="471.6" font-family="Liberation Sans, sans-serif" font-size="6.6" text-anchor="middle" fill="#333" >MEP</text>
<text x="326.1" y="523.9" font-family="Liberation Sans, sans-serif" font-size="6.6" text-anchor="middle" fill="#333" >CMP</text>
<text x="354.5" y="534.4" font-family="Liberation Sans, sans-serif" font-size="6.6" text-anchor="middle" fill="#333" >GMP</text>
<text x="398.9" y="499.9" font-family="Liberation Sans, sans-serif" font-size="6.6" text-anchor="middle" fill="#333" >ERP</text>
<text x="382.6" y="554.4" font-family="Liberation Sans, sans-serif" font-size="6.6" text-anchor="middle" fill="#333" >Ery</text>
<text x="440.2" y="434.9" font-family="Liberation Sans, sans-serif" font-size="6.6" text-anchor="middle" fill="#333" >MPP</text>
<text x="465.4" y="459.9" font-family="Liberation Sans, sans-serif" font-size="6.6" text-anchor="middle" fill="#333" >MKP</text>
<text x="455.0" y="471.4" font-family="Liberation Sans, sans-serif" font-size="6.6" text-anchor="middle" fill="#333" >MEP</text>
<text x="431.5" y="528.0" font-family="Liberation Sans, sans-serif" font-size="6.6" text-anchor="middle" fill="#333" >CMP</text>
<text x="459.4" y="522.8" font-family="Liberation Sans, sans-serif" font-size="6.6" text-anchor="middle" fill="#333" >GMP</text>
<text x="498.0" y="501.2" font-family="Liberation Sans, sans-serif" font-size="6.6" text-anchor="middle" fill="#333" >ERP</text>
<text x="486.8" y="553.6" font-family="Liberation Sans, sans-serif" font-size="6.6" text-anchor="middle" fill="#333" >Ery</text>
</svg></body></html>
